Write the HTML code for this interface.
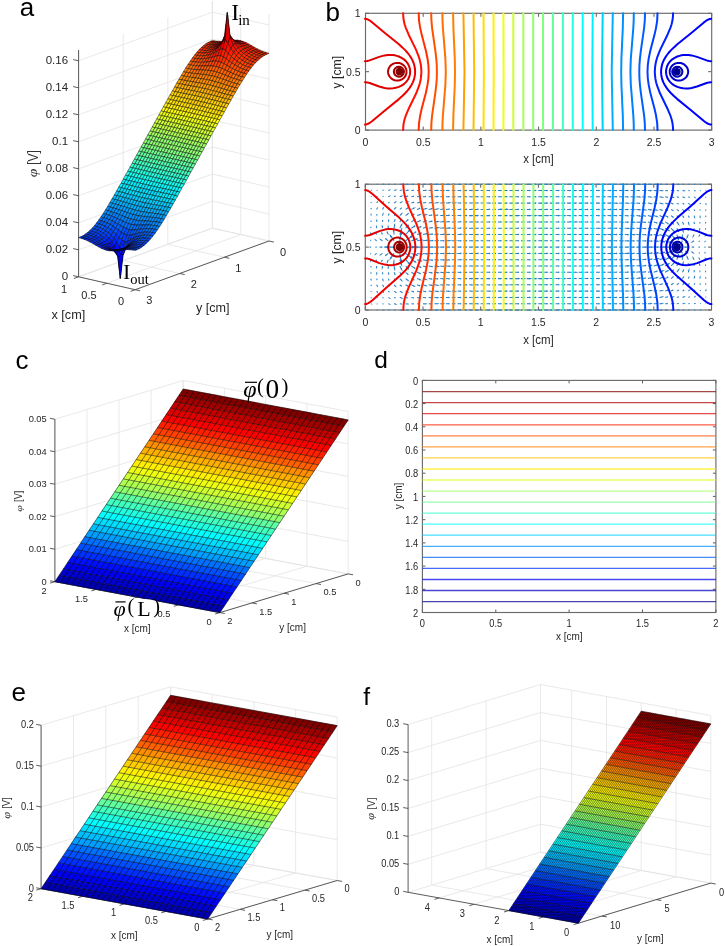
<!DOCTYPE html><html><head><meta charset="utf-8"><style>html,body{margin:0;padding:0;background:#fff;width:725px;height:946px;overflow:hidden}svg{display:block;will-change:transform}</style></head><body><svg width="725" height="946" viewBox="0 0 725 946"><line x1="269" y1="241" x2="135.2" y2="289.7" stroke="#e3e3e3" stroke-width="0.8"/><line x1="240.7" y1="234.6" x2="106.9" y2="283.2" stroke="#e3e3e3" stroke-width="0.8"/><line x1="212.4" y1="228.1" x2="78.6" y2="276.8" stroke="#e3e3e3" stroke-width="0.8"/><line x1="269" y1="241" x2="212.4" y2="228.1" stroke="#e3e3e3" stroke-width="0.8"/><line x1="224.4" y1="257.2" x2="167.8" y2="244.3" stroke="#e3e3e3" stroke-width="0.8"/><line x1="179.8" y1="273.5" x2="123.2" y2="260.6" stroke="#e3e3e3" stroke-width="0.8"/><line x1="135.2" y1="289.7" x2="78.6" y2="276.8" stroke="#e3e3e3" stroke-width="0.8"/><line x1="212.4" y1="228.1" x2="212.4" y2="1.3" stroke="#e3e3e3" stroke-width="0.8"/><line x1="167.8" y1="244.3" x2="167.8" y2="17.5" stroke="#e3e3e3" stroke-width="0.8"/><line x1="123.2" y1="260.6" x2="123.2" y2="33.8" stroke="#e3e3e3" stroke-width="0.8"/><line x1="78.6" y1="276.8" x2="78.6" y2="50" stroke="#e3e3e3" stroke-width="0.8"/><line x1="212.4" y1="228.1" x2="78.6" y2="276.8" stroke="#e3e3e3" stroke-width="0.8"/><line x1="212.4" y1="201.1" x2="78.6" y2="249.8" stroke="#e3e3e3" stroke-width="0.8"/><line x1="212.4" y1="174.1" x2="78.6" y2="222.8" stroke="#e3e3e3" stroke-width="0.8"/><line x1="212.4" y1="147.1" x2="78.6" y2="195.8" stroke="#e3e3e3" stroke-width="0.8"/><line x1="212.4" y1="120.1" x2="78.6" y2="168.8" stroke="#e3e3e3" stroke-width="0.8"/><line x1="212.4" y1="93.1" x2="78.6" y2="141.8" stroke="#e3e3e3" stroke-width="0.8"/><line x1="212.4" y1="66.1" x2="78.6" y2="114.8" stroke="#e3e3e3" stroke-width="0.8"/><line x1="212.4" y1="39.1" x2="78.6" y2="87.8" stroke="#e3e3e3" stroke-width="0.8"/><line x1="212.4" y1="12.1" x2="78.6" y2="60.8" stroke="#e3e3e3" stroke-width="0.8"/><line x1="269" y1="241" x2="269" y2="14.2" stroke="#e3e3e3" stroke-width="0.8"/><line x1="240.7" y1="234.6" x2="240.7" y2="7.8" stroke="#e3e3e3" stroke-width="0.8"/><line x1="212.4" y1="228.1" x2="212.4" y2="1.3" stroke="#e3e3e3" stroke-width="0.8"/><line x1="269" y1="241" x2="212.4" y2="228.1" stroke="#e3e3e3" stroke-width="0.8"/><line x1="269" y1="214" x2="212.4" y2="201.1" stroke="#e3e3e3" stroke-width="0.8"/><line x1="269" y1="187" x2="212.4" y2="174.1" stroke="#e3e3e3" stroke-width="0.8"/><line x1="269" y1="160" x2="212.4" y2="147.1" stroke="#e3e3e3" stroke-width="0.8"/><line x1="269" y1="133" x2="212.4" y2="120.1" stroke="#e3e3e3" stroke-width="0.8"/><line x1="269" y1="106" x2="212.4" y2="93.1" stroke="#e3e3e3" stroke-width="0.8"/><line x1="269" y1="79" x2="212.4" y2="66.1" stroke="#e3e3e3" stroke-width="0.8"/><line x1="269" y1="52" x2="212.4" y2="39.1" stroke="#e3e3e3" stroke-width="0.8"/><line x1="269" y1="25" x2="212.4" y2="12.1" stroke="#e3e3e3" stroke-width="0.8"/><line x1="78.6" y1="276.8" x2="78.6" y2="50" stroke="#4a4a4a" stroke-width="0.9"/><line x1="78.6" y1="276.8" x2="135.2" y2="289.7" stroke="#4a4a4a" stroke-width="0.9"/><line x1="135.2" y1="289.7" x2="269" y2="241" stroke="#4a4a4a" stroke-width="0.9"/><line x1="78.6" y1="276.8" x2="73.2" y2="275.6" stroke="#4a4a4a" stroke-width="0.9"/><line x1="78.6" y1="249.8" x2="73.2" y2="248.6" stroke="#4a4a4a" stroke-width="0.9"/><line x1="78.6" y1="222.8" x2="73.2" y2="221.6" stroke="#4a4a4a" stroke-width="0.9"/><line x1="78.6" y1="195.8" x2="73.2" y2="194.6" stroke="#4a4a4a" stroke-width="0.9"/><line x1="78.6" y1="168.8" x2="73.2" y2="167.6" stroke="#4a4a4a" stroke-width="0.9"/><line x1="78.6" y1="141.8" x2="73.2" y2="140.6" stroke="#4a4a4a" stroke-width="0.9"/><line x1="78.6" y1="114.8" x2="73.2" y2="113.6" stroke="#4a4a4a" stroke-width="0.9"/><line x1="78.6" y1="87.8" x2="73.2" y2="86.6" stroke="#4a4a4a" stroke-width="0.9"/><line x1="78.6" y1="60.8" x2="73.2" y2="59.6" stroke="#4a4a4a" stroke-width="0.9"/><line x1="135.2" y1="289.7" x2="130.5" y2="291.4" stroke="#4a4a4a" stroke-width="0.9"/><line x1="106.9" y1="283.2" x2="102.2" y2="284.9" stroke="#4a4a4a" stroke-width="0.9"/><line x1="78.6" y1="276.8" x2="73.9" y2="278.5" stroke="#4a4a4a" stroke-width="0.9"/><line x1="269" y1="241" x2="273.9" y2="242.1" stroke="#4a4a4a" stroke-width="0.9"/><line x1="224.4" y1="257.2" x2="229.3" y2="258.3" stroke="#4a4a4a" stroke-width="0.9"/><line x1="179.8" y1="273.5" x2="184.7" y2="274.6" stroke="#4a4a4a" stroke-width="0.9"/><line x1="135.2" y1="289.7" x2="140.1" y2="290.8" stroke="#4a4a4a" stroke-width="0.9"/><g stroke="#000" stroke-width="0.45" stroke-opacity="1.0" stroke-linejoin="round"><path d="M215.2 41L212.4 40.4L210.2 41.4L213 41.9Z" fill="#ff3000"/><path d="M218.1 41.3L215.2 41L213 41.9L215.8 42.2Z" fill="#ff2000"/><path d="M213 41.9L210.2 41.4L207.9 42.5L210.8 43.1Z" fill="#ff3000"/><path d="M220.9 41.4L218.1 41.3L215.8 42.2L218.7 42.3Z" fill="#ff2000"/><path d="M215.8 42.2L213 41.9L210.8 43.1L213.6 43.3Z" fill="#ff2000"/><path d="M210.8 43.1L207.9 42.5L205.7 43.9L208.5 44.5Z" fill="#ff3000"/><path d="M223.7 41.3L220.9 41.4L218.7 42.3L221.5 42.2Z" fill="#ff2000"/><path d="M218.7 42.3L215.8 42.2L213.6 43.3L216.4 43.4Z" fill="#ff2000"/><path d="M213.6 43.3L210.8 43.1L208.5 44.5L211.4 44.7Z" fill="#ff3000"/><path d="M208.5 44.5L205.7 43.9L203.5 45.6L206.3 46.1Z" fill="#ff3000"/><path d="M226.6 41L223.7 41.3L221.5 42.2L224.3 41.9Z" fill="#ff2000"/><path d="M221.5 42.2L218.7 42.3L216.4 43.4L219.3 43.2Z" fill="#ff2000"/><path d="M216.4 43.4L213.6 43.3L211.4 44.7L214.2 44.7Z" fill="#ff2000"/><path d="M211.4 44.7L208.5 44.5L206.3 46.1L209.1 46.4Z" fill="#ff3000"/><path d="M229.4 40.7L226.6 41L224.3 41.9L227.2 41.5Z" fill="#ff2000"/><path d="M206.3 46.1L203.5 45.6L201.2 47.5L204.1 48Z" fill="#ff3000"/><path d="M224.3 41.9L221.5 42.2L219.3 43.2L222.1 42.8Z" fill="#ff2000"/><path d="M219.3 43.2L216.4 43.4L214.2 44.7L217 44.5Z" fill="#ff2000"/><path d="M214.2 44.7L211.4 44.7L209.1 46.4L212 46.3Z" fill="#ff3000"/><path d="M232.2 40.3L229.4 40.7L227.2 41.5L230 41.1Z" fill="#ff1000"/><path d="M209.1 46.4L206.3 46.1L204.1 48L206.9 48.3Z" fill="#ff3000"/><path d="M227.2 41.5L224.3 41.9L222.1 42.8L224.9 42.3Z" fill="#ff2000"/><path d="M204.1 48L201.2 47.5L199 49.8L201.8 50.3Z" fill="#ff3000"/><path d="M222.1 42.8L219.3 43.2L217 44.5L219.9 44Z" fill="#ff2000"/><path d="M217 44.5L214.2 44.7L212 46.3L214.8 46Z" fill="#ff2000"/><path d="M235 40.1L232.2 40.3L230 41.1L232.8 40.8Z" fill="#ff1000"/><path d="M212 46.3L209.1 46.4L206.9 48.3L209.7 48.2Z" fill="#ff3000"/><path d="M230 41.1L227.2 41.5L224.9 42.3L227.8 41.7Z" fill="#ff1000"/><path d="M206.9 48.3L204.1 48L201.8 50.3L204.7 50.5Z" fill="#ff3000"/><path d="M224.9 42.3L222.1 42.8L219.9 44L222.7 43.2Z" fill="#ff2000"/><path d="M201.8 50.3L199 49.8L196.8 52.2L199.6 52.7Z" fill="#ff4000"/><path d="M219.9 44L217 44.5L214.8 46L217.6 45.3Z" fill="#ff2000"/><path d="M237.9 40.2L235 40.1L232.8 40.8L235.6 40.8Z" fill="#ff1000"/><path d="M214.8 46L212 46.3L209.7 48.2L212.6 47.8Z" fill="#ff2000"/><path d="M232.8 40.8L230 41.1L227.8 41.7L230.6 41.2Z" fill="#ff1000"/><path d="M209.7 48.2L206.9 48.3L204.7 50.5L207.5 50.4Z" fill="#ff3000"/><path d="M227.8 41.7L224.9 42.3L222.7 43.2L225.5 42.3Z" fill="#ff1000"/><path d="M204.7 50.5L201.8 50.3L199.6 52.7L202.4 53Z" fill="#ff4000"/><path d="M222.7 43.2L219.9 44L217.6 45.3L220.5 44.3Z" fill="#ff2000"/><path d="M199.6 52.7L196.8 52.2L194.6 55L197.4 55.5Z" fill="#ff4000"/><path d="M240.7 40.6L237.9 40.2L235.6 40.8L238.5 41.2Z" fill="#ff1000"/><path d="M217.6 45.3L214.8 46L212.6 47.8L215.4 47Z" fill="#ff2000"/><path d="M235.6 40.8L232.8 40.8L230.6 41.2L233.4 41Z" fill="#ff1000"/><path d="M212.6 47.8L209.7 48.2L207.5 50.4L210.3 50Z" fill="#ff3000"/><path d="M230.6 41.2L227.8 41.7L225.5 42.3L228.3 41.3Z" fill="#ff1000"/><path d="M207.5 50.4L204.7 50.5L202.4 53L205.3 52.9Z" fill="#ff3000"/><path d="M225.5 42.3L222.7 43.2L220.5 44.3L223.3 42.9Z" fill="#ff1000"/><path d="M202.4 53L199.6 52.7L197.4 55.5L200.2 55.8Z" fill="#ff4000"/><path d="M243.5 41.5L240.7 40.6L238.5 41.2L241.3 42.1Z" fill="#ff1000"/><path d="M220.5 44.3L217.6 45.3L215.4 47L218.2 45.8Z" fill="#ff2000"/><path d="M197.4 55.5L194.6 55L192.3 58L195.2 58.5Z" fill="#ff5000"/><path d="M238.5 41.2L235.6 40.8L233.4 41L236.2 41.3Z" fill="#ff1000"/><path d="M215.4 47L212.6 47.8L210.3 50L213.2 49.2Z" fill="#ff2000"/><path d="M233.4 41L230.6 41.2L228.3 41.3L231.2 40.7Z" fill="#ff1000"/><path d="M210.3 50L207.5 50.4L205.3 52.9L208.1 52.6Z" fill="#ff3000"/><path d="M228.3 41.3L225.5 42.3L223.3 42.9L226.1 41.2Z" fill="#ff1000"/><path d="M205.3 52.9L202.4 53L200.2 55.8L203 55.8Z" fill="#ff4000"/><path d="M246.4 42.7L243.5 41.5L241.3 42.1L244.1 43.4Z" fill="#ff1000"/><path d="M223.3 42.9L220.5 44.3L218.2 45.8L221.1 43.9Z" fill="#ff1000"/><path d="M200.2 55.8L197.4 55.5L195.2 58.5L198 58.8Z" fill="#ff5000"/><path d="M241.3 42.1L238.5 41.2L236.2 41.3L239.1 42.3Z" fill="#ff1000"/><path d="M218.2 45.8L215.4 47L213.2 49.2L216 47.9Z" fill="#ff2000"/><path d="M195.2 58.5L192.3 58L190.1 61.2L192.9 61.7Z" fill="#ff5000"/><path d="M236.2 41.3L233.4 41L231.2 40.7L234 40.8Z" fill="#ff1000"/><path d="M213.2 49.2L210.3 50L208.1 52.6L210.9 51.9Z" fill="#ff3000"/><path d="M231.2 40.7L228.3 41.3L226.1 41.2L229 39.5Z" fill="#ff0000"/><path d="M208.1 52.6L205.3 52.9L203 55.8L205.9 55.5Z" fill="#ff4000"/><path d="M249.2 44.2L246.4 42.7L244.1 43.4L247 45Z" fill="#ff1000"/><path d="M226.1 41.2L223.3 42.9L221.1 43.9L223.9 41.2Z" fill="#ff0000"/><path d="M203 55.8L200.2 55.8L198 58.8L200.8 58.9Z" fill="#ff5000"/><path d="M244.1 43.4L241.3 42.1L239.1 42.3L241.9 43.8Z" fill="#ff1000"/><path d="M221.1 43.9L218.2 45.8L216 47.9L218.8 45.8Z" fill="#ff1000"/><path d="M198 58.8L195.2 58.5L192.9 61.7L195.8 62.1Z" fill="#ff5000"/><path d="M239.1 42.3L236.2 41.3L234 40.8L236.8 41.9Z" fill="#ff1000"/><path d="M216 47.9L213.2 49.2L210.9 51.9L213.8 50.7Z" fill="#ff2000"/><path d="M192.9 61.7L190.1 61.2L187.9 64.5L190.7 65.1Z" fill="#ff6000"/><path d="M234 40.8L231.2 40.7L229 39.5L231.8 39Z" fill="#ff0000"/><path d="M210.9 51.9L208.1 52.6L205.9 55.5L208.7 55Z" fill="#ff3000"/><path d="M252 45.8L249.2 44.2L247 45L249.8 46.6Z" fill="#ff2000"/><path d="M229 39.5L226.1 41.2L223.9 41.2L226.7 37.2Z" fill="#ff0000"/><path d="M205.9 55.5L203 55.8L200.8 58.9L203.7 58.8Z" fill="#ff4000"/><path d="M247 45L244.1 43.4L241.9 43.8L244.7 45.6Z" fill="#ff1000"/><path d="M223.9 41.2L221.1 43.9L218.8 45.8L221.7 42.5Z" fill="#ff0000"/><path d="M200.8 58.9L198 58.8L195.8 62.1L198.6 62.3Z" fill="#ff5000"/><path d="M241.9 43.8L239.1 42.3L236.8 41.9L239.7 43.9Z" fill="#ff1000"/><path d="M218.8 45.8L216 47.9L213.8 50.7L216.6 48.9Z" fill="#ff1000"/><path d="M195.8 62.1L192.9 61.7L190.7 65.1L193.5 65.5Z" fill="#ff6000"/><path d="M236.8 41.9L234 40.8L231.8 39L234.6 40.8Z" fill="#ff0000"/><path d="M213.8 50.7L210.9 51.9L208.7 55L211.5 54.1Z" fill="#ff3000"/><path d="M190.7 65.1L187.9 64.5L185.6 68.1L188.5 68.6Z" fill="#ff7000"/><path d="M254.8 47.5L252 45.8L249.8 46.6L252.6 48.3Z" fill="#ff2000"/><path d="M231.8 39L229 39.5L226.7 37.2L229.5 34.3Z" fill="#ef0000"/><path d="M208.7 55L205.9 55.5L203.7 58.8L206.5 58.5Z" fill="#ff4000"/><path d="M249.8 46.6L247 45L244.7 45.6L247.6 47.5Z" fill="#ff2000"/><path d="M226.7 37.2L223.9 41.2L221.7 42.5L224.5 36.1Z" fill="#ef0000"/><path d="M203.7 58.8L200.8 58.9L198.6 62.3L201.4 62.3Z" fill="#ff5000"/><path d="M244.7 45.6L241.9 43.8L239.7 43.9L242.5 46.2Z" fill="#ff1000"/><path d="M221.7 42.5L218.8 45.8L216.6 48.9L219.4 46.1Z" fill="#ff0000"/><path d="M198.6 62.3L195.8 62.1L193.5 65.5L196.4 65.8Z" fill="#ff6000"/><path d="M239.7 43.9L236.8 41.9L234.6 40.8L237.4 43.8Z" fill="#ff1000"/><path d="M216.6 48.9L213.8 50.7L211.5 54.1L214.4 52.8Z" fill="#ff2000"/><path d="M193.5 65.5L190.7 65.1L188.5 68.6L191.3 69.1Z" fill="#ff7000"/><path d="M257.7 49L254.8 47.5L252.6 48.3L255.5 49.9Z" fill="#ff2000"/><path d="M234.6 40.8L231.8 39L229.5 34.3L232.4 38.5Z" fill="#ff0000"/><path d="M211.5 54.1L208.7 55L206.5 58.5L209.3 57.9Z" fill="#ff3000"/><path d="M188.5 68.6L185.6 68.1L183.4 71.7L186.2 72.3Z" fill="#ff8000"/><path d="M252.6 48.3L249.8 46.6L247.6 47.5L250.4 49.3Z" fill="#ff2000"/><path d="M229.5 34.3L226.7 37.2L224.5 36.1L227.3 12.6Z" fill="#df0000"/><path d="M206.5 58.5L203.7 58.8L201.4 62.3L204.2 62.2Z" fill="#ff5000"/><path d="M247.6 47.5L244.7 45.6L242.5 46.2L245.3 48.4Z" fill="#ff2000"/><path d="M224.5 36.1L221.7 42.5L219.4 46.1L222.3 42.2Z" fill="#df0000"/><path d="M201.4 62.3L198.6 62.3L196.4 65.8L199.2 66Z" fill="#ff6000"/><path d="M242.5 46.2L239.7 43.9L237.4 43.8L240.3 46.8Z" fill="#ff1000"/><path d="M219.4 46.1L216.6 48.9L214.4 52.8L217.2 51.1Z" fill="#ff1000"/><path d="M196.4 65.8L193.5 65.5L191.3 69.1L194.1 69.5Z" fill="#ff7000"/><path d="M260.5 50.4L257.7 49L255.5 49.9L258.3 51.3Z" fill="#ff2000"/><path d="M237.4 43.8L234.6 40.8L232.4 38.5L235.2 43.7Z" fill="#ff0000"/><path d="M214.4 52.8L211.5 54.1L209.3 57.9L212.1 57.1Z" fill="#ff3000"/><path d="M191.3 69.1L188.5 68.6L186.2 72.3L189.1 72.8Z" fill="#ff8000"/><path d="M255.5 49.9L252.6 48.3L250.4 49.3L253.2 51Z" fill="#ff2000"/><path d="M232.4 38.5L229.5 34.3L227.3 12.6L230.2 37.4Z" fill="#ef0000"/><path d="M209.3 57.9L206.5 58.5L204.2 62.2L207.1 61.9Z" fill="#ff4000"/><path d="M186.2 72.3L183.4 71.7L181.2 75.4L184 76.1Z" fill="#ff8000"/><path d="M250.4 49.3L247.6 47.5L245.3 48.4L248.2 50.4Z" fill="#ff2000"/><path d="M227.3 12.6L224.5 36.1L222.3 42.2L225.1 39.3Z" fill="#800000"/><path d="M204.2 62.2L201.4 62.3L199.2 66L202 66Z" fill="#ff5000"/><path d="M245.3 48.4L242.5 46.2L240.3 46.8L243.1 49.5Z" fill="#ff2000"/><path d="M222.3 42.2L219.4 46.1L217.2 51.1L220 49.5Z" fill="#ff0000"/><path d="M199.2 66L196.4 65.8L194.1 69.5L197 69.7Z" fill="#ff6000"/><path d="M263.3 51.6L260.5 50.4L258.3 51.3L261.1 52.5Z" fill="#ff2000"/><path d="M240.3 46.8L237.4 43.8L235.2 43.7L238 47.8Z" fill="#ff1000"/><path d="M217.2 51.1L214.4 52.8L212.1 57.1L215 56.3Z" fill="#ff2000"/><path d="M194.1 69.5L191.3 69.1L189.1 72.8L191.9 73.2Z" fill="#ff7000"/><path d="M258.3 51.3L255.5 49.9L253.2 51L256.1 52.4Z" fill="#ff2000"/><path d="M235.2 43.7L232.4 38.5L230.2 37.4L233 45.1Z" fill="#ff0000"/><path d="M212.1 57.1L209.3 57.9L207.1 61.9L209.9 61.5Z" fill="#ff4000"/><path d="M189.1 72.8L186.2 72.3L184 76.1L186.8 76.6Z" fill="#ff8000"/><path d="M253.2 51L250.4 49.3L248.2 50.4L251 52.2Z" fill="#ff2000"/><path d="M230.2 37.4L227.3 12.6L225.1 39.3L227.9 43.5Z" fill="#df0000"/><path d="M207.1 61.9L204.2 62.2L202 66L204.8 66Z" fill="#ff5000"/><path d="M184 76.1L181.2 75.4L178.9 79.3L181.8 79.9Z" fill="#ff8f00"/><path d="M248.2 50.4L245.3 48.4L243.1 49.5L245.9 51.8Z" fill="#ff2000"/><path d="M225.1 39.3L222.3 42.2L220 49.5L222.9 49Z" fill="#ef0000"/><path d="M202 66L199.2 66L197 69.7L199.8 69.9Z" fill="#ff6000"/><path d="M266.2 52.6L263.3 51.6L261.1 52.5L263.9 53.5Z" fill="#ff3000"/><path d="M243.1 49.5L240.3 46.8L238 47.8L240.9 51Z" fill="#ff2000"/><path d="M220 49.5L217.2 51.1L215 56.3L217.8 55.7Z" fill="#ff2000"/><path d="M197 69.7L194.1 69.5L191.9 73.2L194.7 73.6Z" fill="#ff7000"/><path d="M261.1 52.5L258.3 51.3L256.1 52.4L258.9 53.7Z" fill="#ff2000"/><path d="M238 47.8L235.2 43.7L233 45.1L235.8 49.7Z" fill="#ff1000"/><path d="M215 56.3L212.1 57.1L209.9 61.5L212.7 61.2Z" fill="#ff3000"/><path d="M191.9 73.2L189.1 72.8L186.8 76.6L189.7 77.1Z" fill="#ff8000"/><path d="M256.1 52.4L253.2 51L251 52.2L253.8 53.8Z" fill="#ff2000"/><path d="M233 45.1L230.2 37.4L227.9 43.5L230.8 48.7Z" fill="#ff0000"/><path d="M209.9 61.5L207.1 61.9L204.8 66L207.7 65.9Z" fill="#ff5000"/><path d="M186.8 76.6L184 76.1L181.8 79.9L184.6 80.4Z" fill="#ff8f00"/><path d="M251 52.2L248.2 50.4L245.9 51.8L248.8 53.7Z" fill="#ff2000"/><path d="M227.9 43.5L225.1 39.3L222.9 49L225.7 50.8Z" fill="#ff0000"/><path d="M204.8 66L202 66L199.8 69.9L202.6 70.1Z" fill="#ff6000"/><path d="M181.8 79.9L178.9 79.3L176.7 83.1L179.5 83.8Z" fill="#ff9f00"/><path d="M269 53.3L266.2 52.6L263.9 53.5L266.8 54.3Z" fill="#ff3000"/><path d="M245.9 51.8L243.1 49.5L240.9 51L243.7 53.5Z" fill="#ff2000"/><path d="M222.9 49L220 49.5L217.8 55.7L220.6 55.8Z" fill="#ff1000"/><path d="M199.8 69.9L197 69.7L194.7 73.6L197.6 73.9Z" fill="#ff7000"/><path d="M263.9 53.5L261.1 52.5L258.9 53.7L261.7 54.7Z" fill="#ff3000"/><path d="M240.9 51L238 47.8L235.8 49.7L238.6 53Z" fill="#ff2000"/><path d="M217.8 55.7L215 56.3L212.7 61.2L215.6 61.1Z" fill="#ff3000"/><path d="M194.7 73.6L191.9 73.2L189.7 77.1L192.5 77.5Z" fill="#ff8000"/><path d="M258.9 53.7L256.1 52.4L253.8 53.8L256.6 55Z" fill="#ff3000"/><path d="M235.8 49.7L233 45.1L230.8 48.7L233.6 52.7Z" fill="#ff1000"/><path d="M212.7 61.2L209.9 61.5L207.7 65.9L210.5 65.9Z" fill="#ff5000"/><path d="M189.7 77.1L186.8 76.6L184.6 80.4L187.4 81Z" fill="#ff8f00"/><path d="M253.8 53.8L251 52.2L248.8 53.7L251.6 55.3Z" fill="#ff3000"/><path d="M230.8 48.7L227.9 43.5L225.7 50.8L228.5 53.7Z" fill="#ff1000"/><path d="M207.7 65.9L204.8 66L202.6 70.1L205.4 70.2Z" fill="#ff6000"/><path d="M184.6 80.4L181.8 79.9L179.5 83.8L182.4 84.3Z" fill="#ff9f00"/><path d="M248.8 53.7L245.9 51.8L243.7 53.5L246.5 55.5Z" fill="#ff2000"/><path d="M225.7 50.8L222.9 49L220.6 55.8L223.5 57Z" fill="#ff2000"/><path d="M202.6 70.1L199.8 69.9L197.6 73.9L200.4 74.2Z" fill="#ff7000"/><path d="M179.5 83.8L176.7 83.1L174.5 87L177.3 87.7Z" fill="#ffaf00"/><path d="M266.8 54.3L263.9 53.5L261.7 54.7L264.5 55.4Z" fill="#ff3000"/><path d="M243.7 53.5L240.9 51L238.6 53L241.5 55.6Z" fill="#ff2000"/><path d="M220.6 55.8L217.8 55.7L215.6 61.1L218.4 61.5Z" fill="#ff3000"/><path d="M197.6 73.9L194.7 73.6L192.5 77.5L195.3 77.9Z" fill="#ff8000"/><path d="M261.7 54.7L258.9 53.7L256.6 55L259.5 56.1Z" fill="#ff3000"/><path d="M238.6 53L235.8 49.7L233.6 52.7L236.4 55.8Z" fill="#ff2000"/><path d="M215.6 61.1L212.7 61.2L210.5 65.9L213.3 66.1Z" fill="#ff4000"/><path d="M192.5 77.5L189.7 77.1L187.4 81L190.3 81.4Z" fill="#ff8f00"/><path d="M256.6 55L253.8 53.8L251.6 55.3L254.4 56.7Z" fill="#ff3000"/><path d="M233.6 52.7L230.8 48.7L228.5 53.7L231.3 56.6Z" fill="#ff2000"/><path d="M210.5 65.9L207.7 65.9L205.4 70.2L208.3 70.4Z" fill="#ff6000"/><path d="M187.4 81L184.6 80.4L182.4 84.3L185.2 84.9Z" fill="#ff9f00"/><path d="M251.6 55.3L248.8 53.7L246.5 55.5L249.4 57.2Z" fill="#ff3000"/><path d="M228.5 53.7L225.7 50.8L223.5 57L226.3 58.8Z" fill="#ff2000"/><path d="M205.4 70.2L202.6 70.1L200.4 74.2L203.2 74.5Z" fill="#ff7000"/><path d="M182.4 84.3L179.5 83.8L177.3 87.7L180.2 88.3Z" fill="#ffaf00"/><path d="M246.5 55.5L243.7 53.5L241.5 55.6L244.3 57.7Z" fill="#ff3000"/><path d="M223.5 57L220.6 55.8L218.4 61.5L221.2 62.4Z" fill="#ff3000"/><path d="M200.4 74.2L197.6 73.9L195.3 77.9L198.2 78.3Z" fill="#ff8000"/><path d="M177.3 87.7L174.5 87L172.3 91L175.1 91.6Z" fill="#ffbf00"/><path d="M264.5 55.4L261.7 54.7L259.5 56.1L262.3 56.8Z" fill="#ff3000"/><path d="M241.5 55.6L238.6 53L236.4 55.8L239.2 58.3Z" fill="#ff3000"/><path d="M218.4 61.5L215.6 61.1L213.3 66.1L216.2 66.6Z" fill="#ff4000"/><path d="M195.3 77.9L192.5 77.5L190.3 81.4L193.1 81.9Z" fill="#ff8f00"/><path d="M259.5 56.1L256.6 55L254.4 56.7L257.2 57.7Z" fill="#ff3000"/><path d="M236.4 55.8L233.6 52.7L231.3 56.6L234.2 59.2Z" fill="#ff3000"/><path d="M213.3 66.1L210.5 65.9L208.3 70.4L211.1 70.8Z" fill="#ff6000"/><path d="M190.3 81.4L187.4 81L185.2 84.9L188 85.4Z" fill="#ff9f00"/><path d="M254.4 56.7L251.6 55.3L249.4 57.2L252.2 58.6Z" fill="#ff3000"/><path d="M231.3 56.6L228.5 53.7L226.3 58.8L229.1 61Z" fill="#ff3000"/><path d="M208.3 70.4L205.4 70.2L203.2 74.5L206 74.8Z" fill="#ff7000"/><path d="M185.2 84.9L182.4 84.3L180.2 88.3L183 88.8Z" fill="#ffaf00"/><path d="M249.4 57.2L246.5 55.5L244.3 57.7L247.1 59.4Z" fill="#ff3000"/><path d="M226.3 58.8L223.5 57L221.2 62.4L224.1 63.8Z" fill="#ff3000"/><path d="M203.2 74.5L200.4 74.2L198.2 78.3L201 78.7Z" fill="#ff8000"/><path d="M180.2 88.3L177.3 87.7L175.1 91.6L177.9 92.2Z" fill="#ffbf00"/><path d="M244.3 57.7L241.5 55.6L239.2 58.3L242.1 60.3Z" fill="#ff3000"/><path d="M221.2 62.4L218.4 61.5L216.2 66.6L219 67.4Z" fill="#ff4000"/><path d="M198.2 78.3L195.3 77.9L193.1 81.9L195.9 82.4Z" fill="#ff8f00"/><path d="M175.1 91.6L172.3 91L170 94.9L172.9 95.6Z" fill="#ffcf00"/><path d="M262.3 56.8L259.5 56.1L257.2 57.7L260.1 58.5Z" fill="#ff3000"/><path d="M239.2 58.3L236.4 55.8L234.2 59.2L237 61.4Z" fill="#ff3000"/><path d="M216.2 66.6L213.3 66.1L211.1 70.8L213.9 71.3Z" fill="#ff6000"/><path d="M193.1 81.9L190.3 81.4L188 85.4L190.9 85.9Z" fill="#ff9f00"/><path d="M257.2 57.7L254.4 56.7L252.2 58.6L255 59.7Z" fill="#ff3000"/><path d="M234.2 59.2L231.3 56.6L229.1 61L231.9 63Z" fill="#ff3000"/><path d="M211.1 70.8L208.3 70.4L206 74.8L208.9 75.3Z" fill="#ff7000"/><path d="M188 85.4L185.2 84.9L183 88.8L185.8 89.4Z" fill="#ffaf00"/><path d="M252.2 58.6L249.4 57.2L247.1 59.4L250 60.8Z" fill="#ff3000"/><path d="M229.1 61L226.3 58.8L224.1 63.8L226.9 65.4Z" fill="#ff4000"/><path d="M206 74.8L203.2 74.5L201 78.7L203.8 79.1Z" fill="#ff8000"/><path d="M183 88.8L180.2 88.3L177.9 92.2L180.8 92.8Z" fill="#ffbf00"/><path d="M247.1 59.4L244.3 57.7L242.1 60.3L244.9 62Z" fill="#ff3000"/><path d="M224.1 63.8L221.2 62.4L219 67.4L221.8 68.5Z" fill="#ff5000"/><path d="M201 78.7L198.2 78.3L195.9 82.4L198.8 82.8Z" fill="#ff8f00"/><path d="M177.9 92.2L175.1 91.6L172.9 95.6L175.7 96.2Z" fill="#ffcf00"/><path d="M242.1 60.3L239.2 58.3L237 61.4L239.8 63.3Z" fill="#ff4000"/><path d="M219 67.4L216.2 66.6L213.9 71.3L216.8 72.1Z" fill="#ff6000"/><path d="M195.9 82.4L193.1 81.9L190.9 85.9L193.7 86.4Z" fill="#ff9f00"/><path d="M172.9 95.6L170 94.9L167.8 98.9L170.6 99.6Z" fill="#ffdf00"/><path d="M260.1 58.5L257.2 57.7L255 59.7L257.9 60.4Z" fill="#ff3000"/><path d="M237 61.4L234.2 59.2L231.9 63L234.8 64.9Z" fill="#ff4000"/><path d="M213.9 71.3L211.1 70.8L208.9 75.3L211.7 75.8Z" fill="#ff7000"/><path d="M190.9 85.9L188 85.4L185.8 89.4L188.6 89.9Z" fill="#ffaf00"/><path d="M255 59.7L252.2 58.6L250 60.8L252.8 61.9Z" fill="#ff3000"/><path d="M231.9 63L229.1 61L226.9 65.4L229.7 67Z" fill="#ff4000"/><path d="M208.9 75.3L206 74.8L203.8 79.1L206.7 79.6Z" fill="#ff8000"/><path d="M185.8 89.4L183 88.8L180.8 92.8L183.6 93.4Z" fill="#ffbf00"/><path d="M250 60.8L247.1 59.4L244.9 62L247.7 63.3Z" fill="#ff4000"/><path d="M226.9 65.4L224.1 63.8L221.8 68.5L224.7 69.8Z" fill="#ff5000"/><path d="M203.8 79.1L201 78.7L198.8 82.8L201.6 83.3Z" fill="#ff8f00"/><path d="M180.8 92.8L177.9 92.2L175.7 96.2L178.5 96.8Z" fill="#ffcf00"/><path d="M244.9 62L242.1 60.3L239.8 63.3L242.7 64.8Z" fill="#ff4000"/><path d="M221.8 68.5L219 67.4L216.8 72.1L219.6 73Z" fill="#ff6000"/><path d="M198.8 82.8L195.9 82.4L193.7 86.4L196.5 86.9Z" fill="#ff9f00"/><path d="M175.7 96.2L172.9 95.6L170.6 99.6L173.5 100.2Z" fill="#ffdf00"/><path d="M239.8 63.3L237 61.4L234.8 64.9L237.6 66.5Z" fill="#ff4000"/><path d="M216.8 72.1L213.9 71.3L211.7 75.8L214.5 76.5Z" fill="#ff7000"/><path d="M193.7 86.4L190.9 85.9L188.6 89.9L191.5 90.5Z" fill="#ffaf00"/><path d="M170.6 99.6L167.8 98.9L165.6 102.9L168.4 103.5Z" fill="#ffdf00"/><path d="M257.9 60.4L255 59.7L252.8 61.9L255.6 62.7Z" fill="#ff3000"/><path d="M234.8 64.9L231.9 63L229.7 67L232.5 68.6Z" fill="#ff5000"/><path d="M211.7 75.8L208.9 75.3L206.7 79.6L209.5 80.2Z" fill="#ff8000"/><path d="M188.6 89.9L185.8 89.4L183.6 93.4L186.4 94Z" fill="#ffbf00"/><path d="M252.8 61.9L250 60.8L247.7 63.3L250.6 64.4Z" fill="#ff4000"/><path d="M229.7 67L226.9 65.4L224.7 69.8L227.5 71.1Z" fill="#ff5000"/><path d="M206.7 79.6L203.8 79.1L201.6 83.3L204.4 83.9Z" fill="#ff8f00"/><path d="M183.6 93.4L180.8 92.8L178.5 96.8L181.3 97.4Z" fill="#ffcf00"/><path d="M247.7 63.3L244.9 62L242.7 64.8L245.5 66.1Z" fill="#ff4000"/><path d="M224.7 69.8L221.8 68.5L219.6 73L222.4 74.1Z" fill="#ff6000"/><path d="M201.6 83.3L198.8 82.8L196.5 86.9L199.4 87.5Z" fill="#ff9f00"/><path d="M178.5 96.8L175.7 96.2L173.5 100.2L176.3 100.8Z" fill="#ffdf00"/><path d="M242.7 64.8L239.8 63.3L237.6 66.5L240.4 68Z" fill="#ff5000"/><path d="M219.6 73L216.8 72.1L214.5 76.5L217.4 77.4Z" fill="#ff7000"/><path d="M196.5 86.9L193.7 86.4L191.5 90.5L194.3 91Z" fill="#ffaf00"/><path d="M173.5 100.2L170.6 99.6L168.4 103.5L171.2 104.2Z" fill="#ffdf00"/><path d="M237.6 66.5L234.8 64.9L232.5 68.6L235.4 70Z" fill="#ff5000"/><path d="M214.5 76.5L211.7 75.8L209.5 80.2L212.3 80.9Z" fill="#ff8000"/><path d="M191.5 90.5L188.6 89.9L186.4 94L189.2 94.5Z" fill="#ffbf00"/><path d="M168.4 103.5L165.6 102.9L163.3 106.9L166.2 107.5Z" fill="#ffef00"/><path d="M255.6 62.7L252.8 61.9L250.6 64.4L253.4 65.1Z" fill="#ff4000"/><path d="M232.5 68.6L229.7 67L227.5 71.1L230.3 72.4Z" fill="#ff5000"/><path d="M209.5 80.2L206.7 79.6L204.4 83.9L207.2 84.5Z" fill="#ff8f00"/><path d="M186.4 94L183.6 93.4L181.3 97.4L184.2 98Z" fill="#ffcf00"/><path d="M250.6 64.4L247.7 63.3L245.5 66.1L248.3 67.1Z" fill="#ff4000"/><path d="M227.5 71.1L224.7 69.8L222.4 74.1L225.3 75.2Z" fill="#ff6000"/><path d="M204.4 83.9L201.6 83.3L199.4 87.5L202.2 88.1Z" fill="#ff9f00"/><path d="M181.3 97.4L178.5 96.8L176.3 100.8L179.1 101.4Z" fill="#ffdf00"/><path d="M245.5 66.1L242.7 64.8L240.4 68L243.3 69.1Z" fill="#ff5000"/><path d="M222.4 74.1L219.6 73L217.4 77.4L220.2 78.3Z" fill="#ff7000"/><path d="M199.4 87.5L196.5 86.9L194.3 91L197.1 91.6Z" fill="#ffaf00"/><path d="M176.3 100.8L173.5 100.2L171.2 104.2L174.1 104.8Z" fill="#ffdf00"/><path d="M240.4 68L237.6 66.5L235.4 70L238.2 71.3Z" fill="#ff5000"/><path d="M217.4 77.4L214.5 76.5L212.3 80.9L215.1 81.7Z" fill="#ff8000"/><path d="M194.3 91L191.5 90.5L189.2 94.5L192.1 95.1Z" fill="#ffbf00"/><path d="M171.2 104.2L168.4 103.5L166.2 107.5L169 108.2Z" fill="#ffef00"/><path d="M235.4 70L232.5 68.6L230.3 72.4L233.2 73.7Z" fill="#ff6000"/><path d="M212.3 80.9L209.5 80.2L207.2 84.5L210.1 85.1Z" fill="#ff8f00"/><path d="M189.2 94.5L186.4 94L184.2 98L187 98.6Z" fill="#ffcf00"/><path d="M166.2 107.5L163.3 106.9L161.1 110.9L163.9 111.6Z" fill="#ffff00"/><path d="M253.4 65.1L250.6 64.4L248.3 67.1L251.2 67.9Z" fill="#ff4000"/><path d="M230.3 72.4L227.5 71.1L225.3 75.2L228.1 76.4Z" fill="#ff6000"/><path d="M207.2 84.5L204.4 83.9L202.2 88.1L205 88.7Z" fill="#ff9f00"/><path d="M184.2 98L181.3 97.4L179.1 101.4L182 102Z" fill="#ffdf00"/><path d="M248.3 67.1L245.5 66.1L243.3 69.1L246.1 70.1Z" fill="#ff5000"/><path d="M225.3 75.2L222.4 74.1L220.2 78.3L223 79.3Z" fill="#ff7000"/><path d="M202.2 88.1L199.4 87.5L197.1 91.6L200 92.2Z" fill="#ffaf00"/><path d="M179.1 101.4L176.3 100.8L174.1 104.8L176.9 105.4Z" fill="#ffdf00"/><path d="M243.3 69.1L240.4 68L238.2 71.3L241 72.4Z" fill="#ff5000"/><path d="M220.2 78.3L217.4 77.4L215.1 81.7L218 82.5Z" fill="#ff8000"/><path d="M197.1 91.6L194.3 91L192.1 95.1L194.9 95.7Z" fill="#ffbf00"/><path d="M174.1 104.8L171.2 104.2L169 108.2L171.8 108.8Z" fill="#ffef00"/><path d="M238.2 71.3L235.4 70L233.2 73.7L236 74.8Z" fill="#ff6000"/><path d="M215.1 81.7L212.3 80.9L210.1 85.1L212.9 85.9Z" fill="#ff8f00"/><path d="M192.1 95.1L189.2 94.5L187 98.6L189.8 99.2Z" fill="#ffcf00"/><path d="M169 108.2L166.2 107.5L163.9 111.6L166.8 112.2Z" fill="#ffff00"/><path d="M233.2 73.7L230.3 72.4L228.1 76.4L230.9 77.5Z" fill="#ff6000"/><path d="M210.1 85.1L207.2 84.5L205 88.7L207.8 89.3Z" fill="#ff9f00"/><path d="M187 98.6L184.2 98L182 102L184.8 102.6Z" fill="#ffdf00"/><path d="M163.9 111.6L161.1 110.9L158.9 114.9L161.7 115.6Z" fill="#efff10"/><path d="M251.2 67.9L248.3 67.1L246.1 70.1L248.9 70.9Z" fill="#ff5000"/><path d="M228.1 76.4L225.3 75.2L223 79.3L225.9 80.3Z" fill="#ff7000"/><path d="M205 88.7L202.2 88.1L200 92.2L202.8 92.8Z" fill="#ffaf00"/><path d="M182 102L179.1 101.4L176.9 105.4L179.7 106Z" fill="#ffdf00"/><path d="M246.1 70.1L243.3 69.1L241 72.4L243.9 73.3Z" fill="#ff5000"/><path d="M223 79.3L220.2 78.3L218 82.5L220.8 83.4Z" fill="#ff8000"/><path d="M200 92.2L197.1 91.6L194.9 95.7L197.7 96.3Z" fill="#ffbf00"/><path d="M176.9 105.4L174.1 104.8L171.8 108.8L174.7 109.4Z" fill="#ffef00"/><path d="M241 72.4L238.2 71.3L236 74.8L238.8 75.9Z" fill="#ff6000"/><path d="M218 82.5L215.1 81.7L212.9 85.9L215.7 86.7Z" fill="#ff8f00"/><path d="M194.9 95.7L192.1 95.1L189.8 99.2L192.7 99.8Z" fill="#ffcf00"/><path d="M171.8 108.8L169 108.2L166.8 112.2L169.6 112.8Z" fill="#ffff00"/><path d="M236 74.8L233.2 73.7L230.9 77.5L233.8 78.5Z" fill="#ff7000"/><path d="M212.9 85.9L210.1 85.1L207.8 89.3L210.7 90.1Z" fill="#ff9f00"/><path d="M189.8 99.2L187 98.6L184.8 102.6L187.6 103.2Z" fill="#ffcf00"/><path d="M166.8 112.2L163.9 111.6L161.7 115.6L164.5 116.2Z" fill="#efff10"/><path d="M230.9 77.5L228.1 76.4L225.9 80.3L228.7 81.3Z" fill="#ff7000"/><path d="M207.8 89.3L205 88.7L202.8 92.8L205.6 93.5Z" fill="#ffaf00"/><path d="M184.8 102.6L182 102L179.7 106L182.5 106.7Z" fill="#ffdf00"/><path d="M161.7 115.6L158.9 114.9L156.7 118.9L159.5 119.6Z" fill="#dfff20"/><path d="M248.9 70.9L246.1 70.1L243.9 73.3L246.7 74.1Z" fill="#ff5000"/><path d="M225.9 80.3L223 79.3L220.8 83.4L223.6 84.3Z" fill="#ff8000"/><path d="M202.8 92.8L200 92.2L197.7 96.3L200.6 96.9Z" fill="#ffbf00"/><path d="M179.7 106L176.9 105.4L174.7 109.4L177.5 110.1Z" fill="#ffef00"/><path d="M243.9 73.3L241 72.4L238.8 75.9L241.6 76.7Z" fill="#ff6000"/><path d="M220.8 83.4L218 82.5L215.7 86.7L218.6 87.5Z" fill="#ff8f00"/><path d="M197.7 96.3L194.9 95.7L192.7 99.8L195.5 100.4Z" fill="#ffcf00"/><path d="M174.7 109.4L171.8 108.8L169.6 112.8L172.4 113.5Z" fill="#ffff00"/><path d="M238.8 75.9L236 74.8L233.8 78.5L236.6 79.4Z" fill="#ff7000"/><path d="M215.7 86.7L212.9 85.9L210.7 90.1L213.5 90.8Z" fill="#ff9f00"/><path d="M192.7 99.8L189.8 99.2L187.6 103.2L190.4 103.8Z" fill="#ffcf00"/><path d="M169.6 112.8L166.8 112.2L164.5 116.2L167.4 116.8Z" fill="#efff10"/><path d="M233.8 78.5L230.9 77.5L228.7 81.3L231.5 82.3Z" fill="#ff7000"/><path d="M210.7 90.1L207.8 89.3L205.6 93.5L208.5 94.2Z" fill="#ffaf00"/><path d="M187.6 103.2L184.8 102.6L182.5 106.7L185.4 107.3Z" fill="#ffdf00"/><path d="M164.5 116.2L161.7 115.6L159.5 119.6L162.3 120.2Z" fill="#dfff20"/><path d="M228.7 81.3L225.9 80.3L223.6 84.3L226.5 85.2Z" fill="#ff8000"/><path d="M205.6 93.5L202.8 92.8L200.6 96.9L203.4 97.6Z" fill="#ffbf00"/><path d="M182.5 106.7L179.7 106L177.5 110.1L180.3 110.7Z" fill="#ffef00"/><path d="M159.5 119.6L156.7 118.9L154.4 123L157.2 123.6Z" fill="#cfff30"/><path d="M246.7 74.1L243.9 73.3L241.6 76.7L244.5 77.4Z" fill="#ff6000"/><path d="M223.6 84.3L220.8 83.4L218.6 87.5L221.4 88.4Z" fill="#ff8f00"/><path d="M200.6 96.9L197.7 96.3L195.5 100.4L198.3 101Z" fill="#ffcf00"/><path d="M177.5 110.1L174.7 109.4L172.4 113.5L175.3 114.1Z" fill="#ffff00"/><path d="M241.6 76.7L238.8 75.9L236.6 79.4L239.4 80.3Z" fill="#ff7000"/><path d="M218.6 87.5L215.7 86.7L213.5 90.8L216.3 91.6Z" fill="#ff9f00"/><path d="M195.5 100.4L192.7 99.8L190.4 103.8L193.3 104.5Z" fill="#ffcf00"/><path d="M172.4 113.5L169.6 112.8L167.4 116.8L170.2 117.5Z" fill="#efff10"/><path d="M236.6 79.4L233.8 78.5L231.5 82.3L234.3 83.1Z" fill="#ff8000"/><path d="M213.5 90.8L210.7 90.1L208.5 94.2L211.3 94.9Z" fill="#ffaf00"/><path d="M190.4 103.8L187.6 103.2L185.4 107.3L188.2 107.9Z" fill="#ffdf00"/><path d="M167.4 116.8L164.5 116.2L162.3 120.2L165.1 120.9Z" fill="#dfff20"/><path d="M231.5 82.3L228.7 81.3L226.5 85.2L229.3 86.1Z" fill="#ff8000"/><path d="M208.5 94.2L205.6 93.5L203.4 97.6L206.2 98.3Z" fill="#ffbf00"/><path d="M185.4 107.3L182.5 106.7L180.3 110.7L183.2 111.3Z" fill="#ffef00"/><path d="M162.3 120.2L159.5 119.6L157.2 123.6L160.1 124.2Z" fill="#cfff30"/><path d="M226.5 85.2L223.6 84.3L221.4 88.4L224.2 89.2Z" fill="#ff8f00"/><path d="M203.4 97.6L200.6 96.9L198.3 101L201.2 101.7Z" fill="#ffcf00"/><path d="M180.3 110.7L177.5 110.1L175.3 114.1L178.1 114.7Z" fill="#ffff00"/><path d="M157.2 123.6L154.4 123L152.2 127L155 127.6Z" fill="#bfff40"/><path d="M244.5 77.4L241.6 76.7L239.4 80.3L242.2 81Z" fill="#ff7000"/><path d="M221.4 88.4L218.6 87.5L216.3 91.6L219.2 92.4Z" fill="#ff9f00"/><path d="M198.3 101L195.5 100.4L193.3 104.5L196.1 105.1Z" fill="#ffcf00"/><path d="M175.3 114.1L172.4 113.5L170.2 117.5L173 118.1Z" fill="#efff10"/><path d="M239.4 80.3L236.6 79.4L234.3 83.1L237.2 83.9Z" fill="#ff8000"/><path d="M216.3 91.6L213.5 90.8L211.3 94.9L214.1 95.6Z" fill="#ffaf00"/><path d="M193.3 104.5L190.4 103.8L188.2 107.9L191 108.5Z" fill="#ffdf00"/><path d="M170.2 117.5L167.4 116.8L165.1 120.9L168 121.5Z" fill="#dfff20"/><path d="M234.3 83.1L231.5 82.3L229.3 86.1L232.1 86.9Z" fill="#ff8000"/><path d="M211.3 94.9L208.5 94.2L206.2 98.3L209.1 99Z" fill="#ffbf00"/><path d="M188.2 107.9L185.4 107.3L183.2 111.3L186 111.9Z" fill="#ffef00"/><path d="M165.1 120.9L162.3 120.2L160.1 124.2L162.9 124.9Z" fill="#cfff30"/><path d="M229.3 86.1L226.5 85.2L224.2 89.2L227.1 90Z" fill="#ff8f00"/><path d="M206.2 98.3L203.4 97.6L201.2 101.7L204 102.4Z" fill="#ffcf00"/><path d="M183.2 111.3L180.3 110.7L178.1 114.7L180.9 115.4Z" fill="#ffff00"/><path d="M160.1 124.2L157.2 123.6L155 127.6L157.8 128.3Z" fill="#bfff40"/><path d="M224.2 89.2L221.4 88.4L219.2 92.4L222 93.2Z" fill="#ff9f00"/><path d="M201.2 101.7L198.3 101L196.1 105.1L198.9 105.8Z" fill="#ffcf00"/><path d="M178.1 114.7L175.3 114.1L173 118.1L175.9 118.7Z" fill="#efff10"/><path d="M155 127.6L152.2 127L150 131L152.8 131.6Z" fill="#afff50"/><path d="M242.2 81L239.4 80.3L237.2 83.9L240 84.6Z" fill="#ff8000"/><path d="M219.2 92.4L216.3 91.6L214.1 95.6L216.9 96.4Z" fill="#ffaf00"/><path d="M196.1 105.1L193.3 104.5L191 108.5L193.9 109.2Z" fill="#ffdf00"/><path d="M173 118.1L170.2 117.5L168 121.5L170.8 122.1Z" fill="#dfff20"/><path d="M237.2 83.9L234.3 83.1L232.1 86.9L235 87.7Z" fill="#ff8000"/><path d="M214.1 95.6L211.3 94.9L209.1 99L211.9 99.7Z" fill="#ffbf00"/><path d="M191 108.5L188.2 107.9L186 111.9L188.8 112.6Z" fill="#ffef00"/><path d="M168 121.5L165.1 120.9L162.9 124.9L165.7 125.5Z" fill="#cfff30"/><path d="M232.1 86.9L229.3 86.1L227.1 90L229.9 90.8Z" fill="#ff8f00"/><path d="M209.1 99L206.2 98.3L204 102.4L206.8 103Z" fill="#ffcf00"/><path d="M186 111.9L183.2 111.3L180.9 115.4L183.8 116Z" fill="#ffff00"/><path d="M162.9 124.9L160.1 124.2L157.8 128.3L160.7 128.9Z" fill="#bfff40"/><path d="M227.1 90L224.2 89.2L222 93.2L224.8 93.9Z" fill="#ff9f00"/><path d="M204 102.4L201.2 101.7L198.9 105.8L201.8 106.4Z" fill="#ffcf00"/><path d="M180.9 115.4L178.1 114.7L175.9 118.7L178.7 119.4Z" fill="#efff10"/><path d="M157.8 128.3L155 127.6L152.8 131.6L155.6 132.3Z" fill="#afff50"/><path d="M222 93.2L219.2 92.4L216.9 96.4L219.8 97.1Z" fill="#ffaf00"/><path d="M198.9 105.8L196.1 105.1L193.9 109.2L196.7 109.8Z" fill="#ffdf00"/><path d="M175.9 118.7L173 118.1L170.8 122.1L173.6 122.8Z" fill="#dfff20"/><path d="M152.8 131.6L150 131L147.7 135L150.6 135.7Z" fill="#9fff60"/><path d="M240 84.6L237.2 83.9L235 87.7L237.8 88.3Z" fill="#ff8000"/><path d="M216.9 96.4L214.1 95.6L211.9 99.7L214.7 100.4Z" fill="#ffbf00"/><path d="M193.9 109.2L191 108.5L188.8 112.6L191.6 113.2Z" fill="#ffef00"/><path d="M170.8 122.1L168 121.5L165.7 125.5L168.6 126.2Z" fill="#cfff30"/><path d="M235 87.7L232.1 86.9L229.9 90.8L232.7 91.5Z" fill="#ff8f00"/><path d="M211.9 99.7L209.1 99L206.8 103L209.6 103.7Z" fill="#ffcf00"/><path d="M188.8 112.6L186 111.9L183.8 116L186.6 116.6Z" fill="#ffff00"/><path d="M165.7 125.5L162.9 124.9L160.7 128.9L163.5 129.6Z" fill="#bfff40"/><path d="M229.9 90.8L227.1 90L224.8 93.9L227.7 94.7Z" fill="#ff9f00"/><path d="M206.8 103L204 102.4L201.8 106.4L204.6 107.1Z" fill="#ffcf00"/><path d="M183.8 116L180.9 115.4L178.7 119.4L181.5 120Z" fill="#efff10"/><path d="M160.7 128.9L157.8 128.3L155.6 132.3L158.4 132.9Z" fill="#afff50"/><path d="M224.8 93.9L222 93.2L219.8 97.1L222.6 97.9Z" fill="#ffaf00"/><path d="M201.8 106.4L198.9 105.8L196.7 109.8L199.5 110.5Z" fill="#ffdf00"/><path d="M178.7 119.4L175.9 118.7L173.6 122.8L176.5 123.4Z" fill="#dfff20"/><path d="M155.6 132.3L152.8 131.6L150.6 135.7L153.4 136.3Z" fill="#9fff60"/><path d="M219.8 97.1L216.9 96.4L214.7 100.4L217.5 101.1Z" fill="#ffbf00"/><path d="M196.7 109.8L193.9 109.2L191.6 113.2L194.5 113.9Z" fill="#ffef00"/><path d="M173.6 122.8L170.8 122.1L168.6 126.2L171.4 126.8Z" fill="#cfff30"/><path d="M150.6 135.7L147.7 135L145.5 139L148.3 139.7Z" fill="#8fff70"/><path d="M237.8 88.3L235 87.7L232.7 91.5L235.6 92.2Z" fill="#ff8f00"/><path d="M214.7 100.4L211.9 99.7L209.6 103.7L212.5 104.4Z" fill="#ffcf00"/><path d="M191.6 113.2L188.8 112.6L186.6 116.6L189.4 117.3Z" fill="#ffff00"/><path d="M168.6 126.2L165.7 125.5L163.5 129.6L166.3 130.2Z" fill="#bfff40"/><path d="M232.7 91.5L229.9 90.8L227.7 94.7L230.5 95.4Z" fill="#ff9f00"/><path d="M209.6 103.7L206.8 103L204.6 107.1L207.4 107.8Z" fill="#ffdf00"/><path d="M186.6 116.6L183.8 116L181.5 120L184.3 120.7Z" fill="#efff10"/><path d="M163.5 129.6L160.7 128.9L158.4 132.9L161.3 133.6Z" fill="#afff50"/><path d="M227.7 94.7L224.8 93.9L222.6 97.9L225.4 98.6Z" fill="#ffaf00"/><path d="M204.6 107.1L201.8 106.4L199.5 110.5L202.4 111.1Z" fill="#ffdf00"/><path d="M181.5 120L178.7 119.4L176.5 123.4L179.3 124.1Z" fill="#dfff20"/><path d="M158.4 132.9L155.6 132.3L153.4 136.3L156.2 137Z" fill="#9fff60"/><path d="M222.6 97.9L219.8 97.1L217.5 101.1L220.4 101.8Z" fill="#ffbf00"/><path d="M199.5 110.5L196.7 109.8L194.5 113.9L197.3 114.5Z" fill="#ffef00"/><path d="M176.5 123.4L173.6 122.8L171.4 126.8L174.2 127.4Z" fill="#cfff30"/><path d="M153.4 136.3L150.6 135.7L148.3 139.7L151.2 140.3Z" fill="#8fff70"/><path d="M217.5 101.1L214.7 100.4L212.5 104.4L215.3 105.1Z" fill="#ffcf00"/><path d="M194.5 113.9L191.6 113.2L189.4 117.3L192.2 117.9Z" fill="#ffff00"/><path d="M171.4 126.8L168.6 126.2L166.3 130.2L169.2 130.8Z" fill="#bfff40"/><path d="M148.3 139.7L145.5 139L143.3 143.1L146.1 143.7Z" fill="#8fff70"/><path d="M235.6 92.2L232.7 91.5L230.5 95.4L233.3 96Z" fill="#ff9f00"/><path d="M212.5 104.4L209.6 103.7L207.4 107.8L210.2 108.5Z" fill="#ffdf00"/><path d="M189.4 117.3L186.6 116.6L184.3 120.7L187.2 121.3Z" fill="#efff10"/><path d="M166.3 130.2L163.5 129.6L161.3 133.6L164.1 134.2Z" fill="#afff50"/><path d="M230.5 95.4L227.7 94.7L225.4 98.6L228.3 99.3Z" fill="#ffaf00"/><path d="M207.4 107.8L204.6 107.1L202.4 111.1L205.2 111.8Z" fill="#ffdf00"/><path d="M184.3 120.7L181.5 120L179.3 124.1L182.1 124.7Z" fill="#dfff20"/><path d="M161.3 133.6L158.4 132.9L156.2 137L159 137.6Z" fill="#9fff60"/><path d="M225.4 98.6L222.6 97.9L220.4 101.8L223.2 102.5Z" fill="#ffbf00"/><path d="M202.4 111.1L199.5 110.5L197.3 114.5L200.1 115.2Z" fill="#ffef00"/><path d="M179.3 124.1L176.5 123.4L174.2 127.4L177.1 128.1Z" fill="#cfff30"/><path d="M156.2 137L153.4 136.3L151.2 140.3L154 141Z" fill="#8fff70"/><path d="M220.4 101.8L217.5 101.1L215.3 105.1L218.1 105.8Z" fill="#ffcf00"/><path d="M197.3 114.5L194.5 113.9L192.2 117.9L195.1 118.6Z" fill="#ffff00"/><path d="M174.2 127.4L171.4 126.8L169.2 130.8L172 131.5Z" fill="#bfff40"/><path d="M151.2 140.3L148.3 139.7L146.1 143.7L148.9 144.4Z" fill="#80ff80"/><path d="M215.3 105.1L212.5 104.4L210.2 108.5L213.1 109.1Z" fill="#ffdf00"/><path d="M192.2 117.9L189.4 117.3L187.2 121.3L190 122Z" fill="#efff10"/><path d="M169.2 130.8L166.3 130.2L164.1 134.2L166.9 134.9Z" fill="#afff50"/><path d="M146.1 143.7L143.3 143.1L141 147.1L143.9 147.7Z" fill="#80ff80"/><path d="M233.3 96L230.5 95.4L228.3 99.3L231.1 99.9Z" fill="#ffaf00"/><path d="M210.2 108.5L207.4 107.8L205.2 111.8L208 112.5Z" fill="#ffdf00"/><path d="M187.2 121.3L184.3 120.7L182.1 124.7L184.9 125.3Z" fill="#dfff20"/><path d="M164.1 134.2L161.3 133.6L159 137.6L161.9 138.2Z" fill="#9fff60"/><path d="M228.3 99.3L225.4 98.6L223.2 102.5L226 103.2Z" fill="#ffbf00"/><path d="M205.2 111.8L202.4 111.1L200.1 115.2L203 115.8Z" fill="#ffef00"/><path d="M182.1 124.7L179.3 124.1L177.1 128.1L179.9 128.7Z" fill="#cfff30"/><path d="M159 137.6L156.2 137L154 141L156.8 141.6Z" fill="#8fff70"/><path d="M223.2 102.5L220.4 101.8L218.1 105.8L221 106.5Z" fill="#ffcf00"/><path d="M200.1 115.2L197.3 114.5L195.1 118.6L197.9 119.2Z" fill="#ffff00"/><path d="M177.1 128.1L174.2 127.4L172 131.5L174.8 132.1Z" fill="#bfff40"/><path d="M154 141L151.2 140.3L148.9 144.4L151.8 145Z" fill="#8fff70"/><path d="M218.1 105.8L215.3 105.1L213.1 109.1L215.9 109.8Z" fill="#ffdf00"/><path d="M195.1 118.6L192.2 117.9L190 122L192.8 122.6Z" fill="#efff10"/><path d="M172 131.5L169.2 130.8L166.9 134.9L169.8 135.5Z" fill="#afff50"/><path d="M148.9 144.4L146.1 143.7L143.9 147.7L146.7 148.4Z" fill="#80ff80"/><path d="M213.1 109.1L210.2 108.5L208 112.5L210.8 113.2Z" fill="#ffdf00"/><path d="M190 122L187.2 121.3L184.9 125.3L187.8 126Z" fill="#dfff20"/><path d="M166.9 134.9L164.1 134.2L161.9 138.2L164.7 138.9Z" fill="#9fff60"/><path d="M143.9 147.7L141 147.1L138.8 151.1L141.6 151.8Z" fill="#70ff8f"/><path d="M231.1 99.9L228.3 99.3L226 103.2L228.9 103.9Z" fill="#ffbf00"/><path d="M208 112.5L205.2 111.8L203 115.8L205.8 116.5Z" fill="#ffef00"/><path d="M184.9 125.3L182.1 124.7L179.9 128.7L182.7 129.4Z" fill="#cfff30"/><path d="M161.9 138.2L159 137.6L156.8 141.6L159.7 142.3Z" fill="#8fff70"/><path d="M226 103.2L223.2 102.5L221 106.5L223.8 107.2Z" fill="#ffcf00"/><path d="M203 115.8L200.1 115.2L197.9 119.2L200.7 119.9Z" fill="#ffff00"/><path d="M179.9 128.7L177.1 128.1L174.8 132.1L177.7 132.8Z" fill="#bfff40"/><path d="M156.8 141.6L154 141L151.8 145L154.6 145.6Z" fill="#8fff70"/><path d="M221 106.5L218.1 105.8L215.9 109.8L218.7 110.5Z" fill="#ffdf00"/><path d="M197.9 119.2L195.1 118.6L192.8 122.6L195.7 123.3Z" fill="#efff10"/><path d="M174.8 132.1L172 131.5L169.8 135.5L172.6 136.1Z" fill="#afff50"/><path d="M151.8 145L148.9 144.4L146.7 148.4L149.5 149Z" fill="#80ff80"/><path d="M215.9 109.8L213.1 109.1L210.8 113.2L213.7 113.8Z" fill="#ffdf00"/><path d="M192.8 122.6L190 122L187.8 126L190.6 126.6Z" fill="#dfff20"/><path d="M169.8 135.5L166.9 134.9L164.7 138.9L167.5 139.5Z" fill="#9fff60"/><path d="M146.7 148.4L143.9 147.7L141.6 151.8L144.5 152.4Z" fill="#70ff8f"/><path d="M210.8 113.2L208 112.5L205.8 116.5L208.6 117.2Z" fill="#ffef00"/><path d="M187.8 126L184.9 125.3L182.7 129.4L185.6 130Z" fill="#cfff30"/><path d="M164.7 138.9L161.9 138.2L159.7 142.3L162.5 142.9Z" fill="#8fff70"/><path d="M141.6 151.8L138.8 151.1L136.6 155.1L139.4 155.8Z" fill="#60ff9f"/><path d="M228.9 103.9L226 103.2L223.8 107.2L226.6 107.8Z" fill="#ffcf00"/><path d="M205.8 116.5L203 115.8L200.7 119.9L203.6 120.5Z" fill="#ffff00"/><path d="M182.7 129.4L179.9 128.7L177.7 132.8L180.5 133.4Z" fill="#bfff40"/><path d="M159.7 142.3L156.8 141.6L154.6 145.6L157.4 146.3Z" fill="#8fff70"/><path d="M223.8 107.2L221 106.5L218.7 110.5L221.6 111.2Z" fill="#ffdf00"/><path d="M200.7 119.9L197.9 119.2L195.7 123.3L198.5 123.9Z" fill="#efff10"/><path d="M177.7 132.8L174.8 132.1L172.6 136.1L175.4 136.8Z" fill="#afff50"/><path d="M154.6 145.6L151.8 145L149.5 149L152.4 149.7Z" fill="#80ff80"/><path d="M218.7 110.5L215.9 109.8L213.7 113.8L216.5 114.5Z" fill="#ffdf00"/><path d="M195.7 123.3L192.8 122.6L190.6 126.6L193.4 127.3Z" fill="#dfff20"/><path d="M172.6 136.1L169.8 135.5L167.5 139.5L170.4 140.2Z" fill="#9fff60"/><path d="M149.5 149L146.7 148.4L144.5 152.4L147.3 153.1Z" fill="#70ff8f"/><path d="M213.7 113.8L210.8 113.2L208.6 117.2L211.4 117.8Z" fill="#ffef00"/><path d="M190.6 126.6L187.8 126L185.6 130L188.4 130.7Z" fill="#cfff30"/><path d="M167.5 139.5L164.7 138.9L162.5 142.9L165.3 143.6Z" fill="#8fff70"/><path d="M144.5 152.4L141.6 151.8L139.4 155.8L142.2 156.4Z" fill="#60ff9f"/><path d="M208.6 117.2L205.8 116.5L203.6 120.5L206.4 121.2Z" fill="#ffff00"/><path d="M185.6 130L182.7 129.4L180.5 133.4L183.3 134.1Z" fill="#bfff40"/><path d="M162.5 142.9L159.7 142.3L157.4 146.3L160.2 146.9Z" fill="#8fff70"/><path d="M139.4 155.8L136.6 155.1L134.4 159.1L137.2 159.8Z" fill="#50ffaf"/><path d="M226.6 107.8L223.8 107.2L221.6 111.2L224.4 111.8Z" fill="#ffdf00"/><path d="M203.6 120.5L200.7 119.9L198.5 123.9L201.3 124.6Z" fill="#efff10"/><path d="M180.5 133.4L177.7 132.8L175.4 136.8L178.3 137.4Z" fill="#afff50"/><path d="M157.4 146.3L154.6 145.6L152.4 149.7L155.2 150.3Z" fill="#80ff80"/><path d="M221.6 111.2L218.7 110.5L216.5 114.5L219.3 115.2Z" fill="#ffdf00"/><path d="M198.5 123.9L195.7 123.3L193.4 127.3L196.3 127.9Z" fill="#dfff20"/><path d="M175.4 136.8L172.6 136.1L170.4 140.2L173.2 140.8Z" fill="#9fff60"/><path d="M152.4 149.7L149.5 149L147.3 153.1L150.1 153.7Z" fill="#70ff8f"/><path d="M216.5 114.5L213.7 113.8L211.4 117.8L214.3 118.5Z" fill="#ffef00"/><path d="M193.4 127.3L190.6 126.6L188.4 130.7L191.2 131.3Z" fill="#cfff30"/><path d="M170.4 140.2L167.5 139.5L165.3 143.6L168.1 144.2Z" fill="#8fff70"/><path d="M147.3 153.1L144.5 152.4L142.2 156.4L145.1 157.1Z" fill="#60ff9f"/><path d="M211.4 117.8L208.6 117.2L206.4 121.2L209.2 121.9Z" fill="#ffff00"/><path d="M188.4 130.7L185.6 130L183.3 134.1L186.2 134.7Z" fill="#bfff40"/><path d="M165.3 143.6L162.5 142.9L160.2 146.9L163.1 147.6Z" fill="#8fff70"/><path d="M142.2 156.4L139.4 155.8L137.2 159.8L140 160.4Z" fill="#50ffaf"/><path d="M206.4 121.2L203.6 120.5L201.3 124.6L204.2 125.2Z" fill="#efff10"/><path d="M183.3 134.1L180.5 133.4L178.3 137.4L181.1 138.1Z" fill="#afff50"/><path d="M160.2 146.9L157.4 146.3L155.2 150.3L158 151Z" fill="#80ff80"/><path d="M137.2 159.8L134.4 159.1L132.1 163.2L134.9 163.8Z" fill="#40ffbf"/><path d="M224.4 111.8L221.6 111.2L219.3 115.2L222.2 115.8Z" fill="#ffdf00"/><path d="M201.3 124.6L198.5 123.9L196.3 127.9L199.1 128.6Z" fill="#dfff20"/><path d="M178.3 137.4L175.4 136.8L173.2 140.8L176 141.5Z" fill="#9fff60"/><path d="M155.2 150.3L152.4 149.7L150.1 153.7L153 154.3Z" fill="#70ff8f"/><path d="M219.3 115.2L216.5 114.5L214.3 118.5L217.1 119.2Z" fill="#ffef00"/><path d="M196.3 127.9L193.4 127.3L191.2 131.3L194 132Z" fill="#cfff30"/><path d="M173.2 140.8L170.4 140.2L168.1 144.2L171 144.8Z" fill="#8fff70"/><path d="M150.1 153.7L147.3 153.1L145.1 157.1L147.9 157.7Z" fill="#60ff9f"/><path d="M214.3 118.5L211.4 117.8L209.2 121.9L212 122.5Z" fill="#ffff00"/><path d="M191.2 131.3L188.4 130.7L186.2 134.7L189 135.3Z" fill="#bfff40"/><path d="M168.1 144.2L165.3 143.6L163.1 147.6L165.9 148.2Z" fill="#8fff70"/><path d="M145.1 157.1L142.2 156.4L140 160.4L142.8 161.1Z" fill="#50ffaf"/><path d="M209.2 121.9L206.4 121.2L204.2 125.2L207 125.9Z" fill="#efff10"/><path d="M186.2 134.7L183.3 134.1L181.1 138.1L183.9 138.7Z" fill="#afff50"/><path d="M163.1 147.6L160.2 146.9L158 151L160.9 151.6Z" fill="#80ff80"/><path d="M140 160.4L137.2 159.8L134.9 163.8L137.8 164.5Z" fill="#40ffbf"/><path d="M204.2 125.2L201.3 124.6L199.1 128.6L201.9 129.2Z" fill="#dfff20"/><path d="M181.1 138.1L178.3 137.4L176 141.5L178.9 142.1Z" fill="#9fff60"/><path d="M158 151L155.2 150.3L153 154.3L155.8 155Z" fill="#70ff8f"/><path d="M134.9 163.8L132.1 163.2L129.9 167.2L132.7 167.8Z" fill="#30ffcf"/><path d="M222.2 115.8L219.3 115.2L217.1 119.2L219.9 119.8Z" fill="#ffef00"/><path d="M199.1 128.6L196.3 127.9L194 132L196.9 132.6Z" fill="#cfff30"/><path d="M176 141.5L173.2 140.8L171 144.8L173.8 145.5Z" fill="#8fff70"/><path d="M153 154.3L150.1 153.7L147.9 157.7L150.7 158.4Z" fill="#60ff9f"/><path d="M217.1 119.2L214.3 118.5L212 122.5L214.9 123.2Z" fill="#ffff00"/><path d="M194 132L191.2 131.3L189 135.3L191.8 136Z" fill="#bfff40"/><path d="M171 144.8L168.1 144.2L165.9 148.2L168.7 148.9Z" fill="#8fff70"/><path d="M147.9 157.7L145.1 157.1L142.8 161.1L145.7 161.7Z" fill="#50ffaf"/><path d="M212 122.5L209.2 121.9L207 125.9L209.8 126.5Z" fill="#efff10"/><path d="M189 135.3L186.2 134.7L183.9 138.7L186.8 139.4Z" fill="#afff50"/><path d="M165.9 148.2L163.1 147.6L160.9 151.6L163.7 152.3Z" fill="#80ff80"/><path d="M142.8 161.1L140 160.4L137.8 164.5L140.6 165.1Z" fill="#40ffbf"/><path d="M207 125.9L204.2 125.2L201.9 129.2L204.8 129.9Z" fill="#dfff20"/><path d="M183.9 138.7L181.1 138.1L178.9 142.1L181.7 142.8Z" fill="#9fff60"/><path d="M160.9 151.6L158 151L155.8 155L158.6 155.6Z" fill="#70ff8f"/><path d="M137.8 164.5L134.9 163.8L132.7 167.8L135.6 168.5Z" fill="#30ffcf"/><path d="M201.9 129.2L199.1 128.6L196.9 132.6L199.7 133.3Z" fill="#cfff30"/><path d="M178.9 142.1L176 141.5L173.8 145.5L176.6 146.1Z" fill="#8fff70"/><path d="M155.8 155L153 154.3L150.7 158.4L153.6 159Z" fill="#60ff9f"/><path d="M132.7 167.8L129.9 167.2L127.7 171.2L130.5 171.8Z" fill="#20ffdf"/><path d="M219.9 119.8L217.1 119.2L214.9 123.2L217.7 123.8Z" fill="#ffff00"/><path d="M196.9 132.6L194 132L191.8 136L194.6 136.6Z" fill="#bfff40"/><path d="M173.8 145.5L171 144.8L168.7 148.9L171.6 149.5Z" fill="#8fff70"/><path d="M150.7 158.4L147.9 157.7L145.7 161.7L148.5 162.4Z" fill="#50ffaf"/><path d="M214.9 123.2L212 122.5L209.8 126.5L212.7 127.2Z" fill="#efff10"/><path d="M191.8 136L189 135.3L186.8 139.4L189.6 140Z" fill="#afff50"/><path d="M168.7 148.9L165.9 148.2L163.7 152.3L166.5 152.9Z" fill="#80ff80"/><path d="M145.7 161.7L142.8 161.1L140.6 165.1L143.4 165.8Z" fill="#40ffbf"/><path d="M209.8 126.5L207 125.9L204.8 129.9L207.6 130.5Z" fill="#dfff20"/><path d="M186.8 139.4L183.9 138.7L181.7 142.8L184.5 143.4Z" fill="#9fff60"/><path d="M163.7 152.3L160.9 151.6L158.6 155.6L161.4 156.3Z" fill="#70ff8f"/><path d="M140.6 165.1L137.8 164.5L135.6 168.5L138.4 169.1Z" fill="#30ffcf"/><path d="M204.8 129.9L201.9 129.2L199.7 133.3L202.5 133.9Z" fill="#cfff30"/><path d="M181.7 142.8L178.9 142.1L176.6 146.1L179.5 146.8Z" fill="#8fff70"/><path d="M158.6 155.6L155.8 155L153.6 159L156.4 159.7Z" fill="#60ff9f"/><path d="M135.6 168.5L132.7 167.8L130.5 171.8L133.3 172.5Z" fill="#20ffdf"/><path d="M199.7 133.3L196.9 132.6L194.6 136.6L197.5 137.3Z" fill="#bfff40"/><path d="M176.6 146.1L173.8 145.5L171.6 149.5L174.4 150.2Z" fill="#8fff70"/><path d="M153.6 159L150.7 158.4L148.5 162.4L151.3 163.1Z" fill="#50ffaf"/><path d="M130.5 171.8L127.7 171.2L125.4 175.2L128.3 175.8Z" fill="#10ffef"/><path d="M217.7 123.8L214.9 123.2L212.7 127.2L215.5 127.8Z" fill="#efff10"/><path d="M194.6 136.6L191.8 136L189.6 140L192.4 140.7Z" fill="#afff50"/><path d="M171.6 149.5L168.7 148.9L166.5 152.9L169.3 153.6Z" fill="#80ff80"/><path d="M148.5 162.4L145.7 161.7L143.4 165.8L146.3 166.4Z" fill="#40ffbf"/><path d="M212.7 127.2L209.8 126.5L207.6 130.5L210.4 131.2Z" fill="#dfff20"/><path d="M189.6 140L186.8 139.4L184.5 143.4L187.3 144Z" fill="#9fff60"/><path d="M166.5 152.9L163.7 152.3L161.4 156.3L164.3 156.9Z" fill="#70ff8f"/><path d="M143.4 165.8L140.6 165.1L138.4 169.1L141.2 169.8Z" fill="#30ffcf"/><path d="M207.6 130.5L204.8 129.9L202.5 133.9L205.4 134.6Z" fill="#cfff30"/><path d="M184.5 143.4L181.7 142.8L179.5 146.8L182.3 147.4Z" fill="#8fff70"/><path d="M161.4 156.3L158.6 155.6L156.4 159.7L159.2 160.3Z" fill="#60ff9f"/><path d="M138.4 169.1L135.6 168.5L133.3 172.5L136.1 173.1Z" fill="#20ffdf"/><path d="M202.5 133.9L199.7 133.3L197.5 137.3L200.3 137.9Z" fill="#bfff40"/><path d="M179.5 146.8L176.6 146.1L174.4 150.2L177.2 150.8Z" fill="#8fff70"/><path d="M156.4 159.7L153.6 159L151.3 163.1L154.2 163.7Z" fill="#50ffaf"/><path d="M133.3 172.5L130.5 171.8L128.3 175.8L131.1 176.5Z" fill="#10ffef"/><path d="M197.5 137.3L194.6 136.6L192.4 140.7L195.2 141.3Z" fill="#afff50"/><path d="M174.4 150.2L171.6 149.5L169.3 153.6L172.2 154.2Z" fill="#80ff80"/><path d="M151.3 163.1L148.5 162.4L146.3 166.4L149.1 167.1Z" fill="#40ffbf"/><path d="M128.3 175.8L125.4 175.2L123.2 179.2L126 179.8Z" fill="#00ffff"/><path d="M215.5 127.8L212.7 127.2L210.4 131.2L213.2 131.8Z" fill="#dfff20"/><path d="M192.4 140.7L189.6 140L187.3 144L190.2 144.7Z" fill="#9fff60"/><path d="M169.3 153.6L166.5 152.9L164.3 156.9L167.1 157.6Z" fill="#70ff8f"/><path d="M146.3 166.4L143.4 165.8L141.2 169.8L144 170.5Z" fill="#30ffcf"/><path d="M210.4 131.2L207.6 130.5L205.4 134.6L208.2 135.2Z" fill="#cfff30"/><path d="M187.3 144L184.5 143.4L182.3 147.4L185.1 148.1Z" fill="#8fff70"/><path d="M164.3 156.9L161.4 156.3L159.2 160.3L162.1 161Z" fill="#60ff9f"/><path d="M141.2 169.8L138.4 169.1L136.1 173.1L139 173.8Z" fill="#20ffdf"/><path d="M205.4 134.6L202.5 133.9L200.3 137.9L203.1 138.6Z" fill="#bfff40"/><path d="M182.3 147.4L179.5 146.8L177.2 150.8L180.1 151.5Z" fill="#8fff70"/><path d="M159.2 160.3L156.4 159.7L154.2 163.7L157 164.4Z" fill="#50ffaf"/><path d="M136.1 173.1L133.3 172.5L131.1 176.5L133.9 177.2Z" fill="#10ffef"/><path d="M200.3 137.9L197.5 137.3L195.2 141.3L198.1 142Z" fill="#afff50"/><path d="M177.2 150.8L174.4 150.2L172.2 154.2L175 154.8Z" fill="#80ff80"/><path d="M154.2 163.7L151.3 163.1L149.1 167.1L151.9 167.7Z" fill="#40ffbf"/><path d="M131.1 176.5L128.3 175.8L126 179.8L128.9 180.5Z" fill="#00ffff"/><path d="M195.2 141.3L192.4 140.7L190.2 144.7L193 145.3Z" fill="#9fff60"/><path d="M172.2 154.2L169.3 153.6L167.1 157.6L169.9 158.2Z" fill="#70ff8f"/><path d="M149.1 167.1L146.3 166.4L144 170.5L146.9 171.1Z" fill="#30ffcf"/><path d="M126 179.8L123.2 179.2L121 183.2L123.8 183.8Z" fill="#00efff"/><path d="M213.2 131.8L210.4 131.2L208.2 135.2L211 135.9Z" fill="#cfff30"/><path d="M190.2 144.7L187.3 144L185.1 148.1L187.9 148.7Z" fill="#8fff70"/><path d="M167.1 157.6L164.3 156.9L162.1 161L164.9 161.6Z" fill="#60ff9f"/><path d="M144 170.5L141.2 169.8L139 173.8L141.8 174.5Z" fill="#20ffdf"/><path d="M208.2 135.2L205.4 134.6L203.1 138.6L206 139.2Z" fill="#bfff40"/><path d="M185.1 148.1L182.3 147.4L180.1 151.5L182.9 152.1Z" fill="#8fff70"/><path d="M162.1 161L159.2 160.3L157 164.4L159.8 165Z" fill="#50ffaf"/><path d="M139 173.8L136.1 173.1L133.9 177.2L136.8 177.8Z" fill="#10ffef"/><path d="M203.1 138.6L200.3 137.9L198.1 142L200.9 142.6Z" fill="#afff50"/><path d="M180.1 151.5L177.2 150.8L175 154.8L177.8 155.5Z" fill="#80ff80"/><path d="M157 164.4L154.2 163.7L151.9 167.7L154.8 168.4Z" fill="#40ffbf"/><path d="M133.9 177.2L131.1 176.5L128.9 180.5L131.7 181.2Z" fill="#00ffff"/><path d="M198.1 142L195.2 141.3L193 145.3L195.8 146Z" fill="#9fff60"/><path d="M175 154.8L172.2 154.2L169.9 158.2L172.8 158.9Z" fill="#70ff8f"/><path d="M151.9 167.7L149.1 167.1L146.9 171.1L149.7 171.8Z" fill="#30ffcf"/><path d="M128.9 180.5L126 179.8L123.8 183.8L126.6 184.5Z" fill="#00efff"/><path d="M193 145.3L190.2 144.7L187.9 148.7L190.8 149.4Z" fill="#8fff70"/><path d="M169.9 158.2L167.1 157.6L164.9 161.6L167.7 162.3Z" fill="#60ff9f"/><path d="M146.9 171.1L144 170.5L141.8 174.5L144.6 175.1Z" fill="#20ffdf"/><path d="M123.8 183.8L121 183.2L118.7 187.1L121.6 187.8Z" fill="#00efff"/><path d="M211 135.9L208.2 135.2L206 139.2L208.8 139.9Z" fill="#bfff40"/><path d="M187.9 148.7L185.1 148.1L182.9 152.1L185.7 152.7Z" fill="#8fff70"/><path d="M164.9 161.6L162.1 161L159.8 165L162.6 165.6Z" fill="#50ffaf"/><path d="M141.8 174.5L139 173.8L136.8 177.8L139.6 178.5Z" fill="#10ffef"/><path d="M206 139.2L203.1 138.6L200.9 142.6L203.7 143.3Z" fill="#afff50"/><path d="M182.9 152.1L180.1 151.5L177.8 155.5L180.7 156.1Z" fill="#80ff80"/><path d="M159.8 165L157 164.4L154.8 168.4L157.6 169Z" fill="#40ffbf"/><path d="M136.8 177.8L133.9 177.2L131.7 181.2L134.5 181.8Z" fill="#00ffff"/><path d="M200.9 142.6L198.1 142L195.8 146L198.7 146.6Z" fill="#9fff60"/><path d="M177.8 155.5L175 154.8L172.8 158.9L175.6 159.5Z" fill="#70ff8f"/><path d="M154.8 168.4L151.9 167.7L149.7 171.8L152.5 172.4Z" fill="#30ffcf"/><path d="M131.7 181.2L128.9 180.5L126.6 184.5L129.5 185.2Z" fill="#00efff"/><path d="M195.8 146L193 145.3L190.8 149.4L193.6 150Z" fill="#8fff70"/><path d="M172.8 158.9L169.9 158.2L167.7 162.3L170.5 162.9Z" fill="#60ff9f"/><path d="M149.7 171.8L146.9 171.1L144.6 175.1L147.5 175.8Z" fill="#20ffdf"/><path d="M126.6 184.5L123.8 183.8L121.6 187.8L124.4 188.5Z" fill="#00efff"/><path d="M190.8 149.4L187.9 148.7L185.7 152.7L188.6 153.4Z" fill="#8fff70"/><path d="M167.7 162.3L164.9 161.6L162.6 165.6L165.5 166.3Z" fill="#50ffaf"/><path d="M144.6 175.1L141.8 174.5L139.6 178.5L142.4 179.2Z" fill="#10ffef"/><path d="M121.6 187.8L118.7 187.1L116.5 191.1L119.3 191.7Z" fill="#00dfff"/><path d="M208.8 139.9L206 139.2L203.7 143.3L206.6 143.9Z" fill="#afff50"/><path d="M185.7 152.7L182.9 152.1L180.7 156.1L183.5 156.8Z" fill="#80ff80"/><path d="M162.6 165.6L159.8 165L157.6 169L160.4 169.7Z" fill="#40ffbf"/><path d="M139.6 178.5L136.8 177.8L134.5 181.8L137.4 182.5Z" fill="#00ffff"/><path d="M203.7 143.3L200.9 142.6L198.7 146.6L201.5 147.3Z" fill="#9fff60"/><path d="M180.7 156.1L177.8 155.5L175.6 159.5L178.4 160.2Z" fill="#70ff8f"/><path d="M157.6 169L154.8 168.4L152.5 172.4L155.4 173.1Z" fill="#30ffcf"/><path d="M134.5 181.8L131.7 181.2L129.5 185.2L132.3 185.9Z" fill="#00efff"/><path d="M198.7 146.6L195.8 146L193.6 150L196.4 150.7Z" fill="#8fff70"/><path d="M175.6 159.5L172.8 158.9L170.5 162.9L173.4 163.5Z" fill="#60ff9f"/><path d="M152.5 172.4L149.7 171.8L147.5 175.8L150.3 176.5Z" fill="#20ffdf"/><path d="M129.5 185.2L126.6 184.5L124.4 188.5L127.2 189.1Z" fill="#00efff"/><path d="M193.6 150L190.8 149.4L188.6 153.4L191.4 154Z" fill="#8fff70"/><path d="M170.5 162.9L167.7 162.3L165.5 166.3L168.3 166.9Z" fill="#50ffaf"/><path d="M147.5 175.8L144.6 175.1L142.4 179.2L145.2 179.8Z" fill="#10ffef"/><path d="M124.4 188.5L121.6 187.8L119.3 191.7L122.2 192.4Z" fill="#00dfff"/><path d="M188.6 153.4L185.7 152.7L183.5 156.8L186.3 157.4Z" fill="#80ff80"/><path d="M165.5 166.3L162.6 165.6L160.4 169.7L163.2 170.3Z" fill="#40ffbf"/><path d="M142.4 179.2L139.6 178.5L137.4 182.5L140.2 183.2Z" fill="#00ffff"/><path d="M119.3 191.7L116.5 191.1L114.3 195L117.1 195.6Z" fill="#00cfff"/><path d="M206.6 143.9L203.7 143.3L201.5 147.3L204.3 147.9Z" fill="#9fff60"/><path d="M183.5 156.8L180.7 156.1L178.4 160.2L181.3 160.8Z" fill="#70ff8f"/><path d="M160.4 169.7L157.6 169L155.4 173.1L158.2 173.7Z" fill="#30ffcf"/><path d="M137.4 182.5L134.5 181.8L132.3 185.9L135.1 186.6Z" fill="#00efff"/><path d="M201.5 147.3L198.7 146.6L196.4 150.7L199.3 151.3Z" fill="#8fff70"/><path d="M178.4 160.2L175.6 159.5L173.4 163.5L176.2 164.2Z" fill="#60ff9f"/><path d="M155.4 173.1L152.5 172.4L150.3 176.5L153.1 177.1Z" fill="#20ffdf"/><path d="M132.3 185.9L129.5 185.2L127.2 189.1L130.1 189.9Z" fill="#00efff"/><path d="M196.4 150.7L193.6 150L191.4 154L194.2 154.7Z" fill="#8fff70"/><path d="M173.4 163.5L170.5 162.9L168.3 166.9L171.1 167.6Z" fill="#50ffaf"/><path d="M150.3 176.5L147.5 175.8L145.2 179.8L148.1 180.5Z" fill="#10ffef"/><path d="M127.2 189.1L124.4 188.5L122.2 192.4L125 193.1Z" fill="#00dfff"/><path d="M191.4 154L188.6 153.4L186.3 157.4L189.1 158.1Z" fill="#80ff80"/><path d="M168.3 166.9L165.5 166.3L163.2 170.3L166.1 171Z" fill="#40ffbf"/><path d="M145.2 179.8L142.4 179.2L140.2 183.2L143 183.9Z" fill="#00ffff"/><path d="M122.2 192.4L119.3 191.7L117.1 195.6L119.9 196.3Z" fill="#00cfff"/><path d="M186.3 157.4L183.5 156.8L181.3 160.8L184.1 161.4Z" fill="#70ff8f"/><path d="M163.2 170.3L160.4 169.7L158.2 173.7L161 174.4Z" fill="#30ffcf"/><path d="M140.2 183.2L137.4 182.5L135.1 186.6L137.9 187.3Z" fill="#00efff"/><path d="M117.1 195.6L114.3 195L112 198.8L114.9 199.5Z" fill="#00bfff"/><path d="M204.3 147.9L201.5 147.3L199.3 151.3L202.1 151.9Z" fill="#8fff70"/><path d="M181.3 160.8L178.4 160.2L176.2 164.2L179 164.8Z" fill="#60ff9f"/><path d="M158.2 173.7L155.4 173.1L153.1 177.1L156 177.8Z" fill="#20ffdf"/><path d="M135.1 186.6L132.3 185.9L130.1 189.9L132.9 190.6Z" fill="#00efff"/><path d="M199.3 151.3L196.4 150.7L194.2 154.7L197 155.3Z" fill="#8fff70"/><path d="M176.2 164.2L173.4 163.5L171.1 167.6L174 168.2Z" fill="#50ffaf"/><path d="M153.1 177.1L150.3 176.5L148.1 180.5L150.9 181.2Z" fill="#10ffef"/><path d="M130.1 189.9L127.2 189.1L125 193.1L127.8 193.9Z" fill="#00dfff"/><path d="M194.2 154.7L191.4 154L189.1 158.1L192 158.7Z" fill="#80ff80"/><path d="M171.1 167.6L168.3 166.9L166.1 171L168.9 171.6Z" fill="#40ffbf"/><path d="M148.1 180.5L145.2 179.8L143 183.9L145.8 184.6Z" fill="#00ffff"/><path d="M125 193.1L122.2 192.4L119.9 196.3L122.8 197.1Z" fill="#00cfff"/><path d="M189.1 158.1L186.3 157.4L184.1 161.4L186.9 162.1Z" fill="#70ff8f"/><path d="M166.1 171L163.2 170.3L161 174.4L163.9 175Z" fill="#30ffcf"/><path d="M143 183.9L140.2 183.2L137.9 187.3L140.8 187.9Z" fill="#00efff"/><path d="M119.9 196.3L117.1 195.6L114.9 199.5L117.7 200.2Z" fill="#00bfff"/><path d="M184.1 161.4L181.3 160.8L179 164.8L181.9 165.5Z" fill="#60ff9f"/><path d="M161 174.4L158.2 173.7L156 177.8L158.8 178.4Z" fill="#20ffdf"/><path d="M137.9 187.3L135.1 186.6L132.9 190.6L135.7 191.3Z" fill="#00efff"/><path d="M114.9 199.5L112 198.8L109.8 202.6L112.6 203.3Z" fill="#00afff"/><path d="M202.1 151.9L199.3 151.3L197 155.3L199.9 156Z" fill="#8fff70"/><path d="M179 164.8L176.2 164.2L174 168.2L176.8 168.8Z" fill="#50ffaf"/><path d="M156 177.8L153.1 177.1L150.9 181.2L153.7 181.8Z" fill="#10ffef"/><path d="M132.9 190.6L130.1 189.9L127.8 193.9L130.7 194.6Z" fill="#00dfff"/><path d="M197 155.3L194.2 154.7L192 158.7L194.8 159.3Z" fill="#80ff80"/><path d="M174 168.2L171.1 167.6L168.9 171.6L171.7 172.2Z" fill="#40ffbf"/><path d="M150.9 181.2L148.1 180.5L145.8 184.6L148.7 185.2Z" fill="#00ffff"/><path d="M127.8 193.9L125 193.1L122.8 197.1L125.6 197.8Z" fill="#00cfff"/><path d="M192 158.7L189.1 158.1L186.9 162.1L189.7 162.7Z" fill="#70ff8f"/><path d="M168.9 171.6L166.1 171L163.9 175L166.7 175.6Z" fill="#30ffcf"/><path d="M145.8 184.6L143 183.9L140.8 187.9L143.6 188.6Z" fill="#00efff"/><path d="M122.8 197.1L119.9 196.3L117.7 200.2L120.5 201Z" fill="#00bfff"/><path d="M186.9 162.1L184.1 161.4L181.9 165.5L184.7 166.1Z" fill="#60ff9f"/><path d="M163.9 175L161 174.4L158.8 178.4L161.6 179Z" fill="#20ffdf"/><path d="M140.8 187.9L137.9 187.3L135.7 191.3L138.6 192Z" fill="#00dfff"/><path d="M117.7 200.2L114.9 199.5L112.6 203.3L115.5 204.1Z" fill="#00afff"/><path d="M181.9 165.5L179 164.8L176.8 168.8L179.6 169.5Z" fill="#50ffaf"/><path d="M158.8 178.4L156 177.8L153.7 181.8L156.6 182.5Z" fill="#10ffef"/><path d="M135.7 191.3L132.9 190.6L130.7 194.6L133.5 195.3Z" fill="#00dfff"/><path d="M112.6 203.3L109.8 202.6L107.6 206.4L110.4 207.1Z" fill="#009fff"/><path d="M199.9 156L197 155.3L194.8 159.3L197.6 160Z" fill="#80ff80"/><path d="M176.8 168.8L174 168.2L171.7 172.2L174.6 172.9Z" fill="#40ffbf"/><path d="M153.7 181.8L150.9 181.2L148.7 185.2L151.5 185.9Z" fill="#00ffff"/><path d="M130.7 194.6L127.8 193.9L125.6 197.8L128.4 198.6Z" fill="#00cfff"/><path d="M194.8 159.3L192 158.7L189.7 162.7L192.6 163.4Z" fill="#70ff8f"/><path d="M171.7 172.2L168.9 171.6L166.7 175.6L169.5 176.3Z" fill="#30ffcf"/><path d="M148.7 185.2L145.8 184.6L143.6 188.6L146.4 189.3Z" fill="#00efff"/><path d="M125.6 197.8L122.8 197.1L120.5 201L123.4 201.8Z" fill="#00bfff"/><path d="M189.7 162.7L186.9 162.1L184.7 166.1L187.5 166.7Z" fill="#60ff9f"/><path d="M166.7 175.6L163.9 175L161.6 179L164.4 179.7Z" fill="#20ffdf"/><path d="M143.6 188.6L140.8 187.9L138.6 192L141.4 192.7Z" fill="#00dfff"/><path d="M120.5 201L117.7 200.2L115.5 204.1L118.3 204.9Z" fill="#00afff"/><path d="M184.7 166.1L181.9 165.5L179.6 169.5L182.5 170.1Z" fill="#50ffaf"/><path d="M161.6 179L158.8 178.4L156.6 182.5L159.4 183.1Z" fill="#10ffef"/><path d="M138.6 192L135.7 191.3L133.5 195.3L136.3 196.1Z" fill="#00dfff"/><path d="M115.5 204.1L112.6 203.3L110.4 207.1L113.2 207.9Z" fill="#009fff"/><path d="M179.6 169.5L176.8 168.8L174.6 172.9L177.4 173.5Z" fill="#40ffbf"/><path d="M156.6 182.5L153.7 181.8L151.5 185.9L154.3 186.5Z" fill="#00ffff"/><path d="M133.5 195.3L130.7 194.6L128.4 198.6L131.3 199.4Z" fill="#00cfff"/><path d="M110.4 207.1L107.6 206.4L105.4 210L108.2 210.7Z" fill="#008fff"/><path d="M197.6 160L194.8 159.3L192.6 163.4L195.4 164Z" fill="#70ff8f"/><path d="M174.6 172.9L171.7 172.2L169.5 176.3L172.3 176.9Z" fill="#30ffcf"/><path d="M151.5 185.9L148.7 185.2L146.4 189.3L149.3 190Z" fill="#00efff"/><path d="M128.4 198.6L125.6 197.8L123.4 201.8L126.2 202.6Z" fill="#00bfff"/><path d="M192.6 163.4L189.7 162.7L187.5 166.7L190.4 167.4Z" fill="#60ff9f"/><path d="M169.5 176.3L166.7 175.6L164.4 179.7L167.3 180.3Z" fill="#20ffdf"/><path d="M146.4 189.3L143.6 188.6L141.4 192.7L144.2 193.4Z" fill="#00dfff"/><path d="M123.4 201.8L120.5 201L118.3 204.9L121.1 205.8Z" fill="#00afff"/><path d="M187.5 166.7L184.7 166.1L182.5 170.1L185.3 170.8Z" fill="#50ffaf"/><path d="M164.4 179.7L161.6 179L159.4 183.1L162.2 183.7Z" fill="#10ffef"/><path d="M141.4 192.7L138.6 192L136.3 196.1L139.1 196.8Z" fill="#00dfff"/><path d="M118.3 204.9L115.5 204.1L113.2 207.9L116.1 208.7Z" fill="#009fff"/><path d="M182.5 170.1L179.6 169.5L177.4 173.5L180.2 174.1Z" fill="#40ffbf"/><path d="M159.4 183.1L156.6 182.5L154.3 186.5L157.2 187.1Z" fill="#00ffff"/><path d="M136.3 196.1L133.5 195.3L131.3 199.4L134.1 200.2Z" fill="#00cfff"/><path d="M113.2 207.9L110.4 207.1L108.2 210.7L111 211.6Z" fill="#008fff"/><path d="M177.4 173.5L174.6 172.9L172.3 176.9L175.2 177.5Z" fill="#30ffcf"/><path d="M154.3 186.5L151.5 185.9L149.3 190L152.1 190.6Z" fill="#00efff"/><path d="M131.3 199.4L128.4 198.6L126.2 202.6L129 203.5Z" fill="#00bfff"/><path d="M108.2 210.7L105.4 210L103.1 213.6L106 214.3Z" fill="#008fff"/><path d="M195.4 164L192.6 163.4L190.4 167.4L193.2 168Z" fill="#60ff9f"/><path d="M172.3 176.9L169.5 176.3L167.3 180.3L170.1 180.9Z" fill="#20ffdf"/><path d="M149.3 190L146.4 189.3L144.2 193.4L147 194Z" fill="#00dfff"/><path d="M126.2 202.6L123.4 201.8L121.1 205.8L124 206.6Z" fill="#00afff"/><path d="M190.4 167.4L187.5 166.7L185.3 170.8L188.1 171.4Z" fill="#50ffaf"/><path d="M167.3 180.3L164.4 179.7L162.2 183.7L165 184.3Z" fill="#10ffef"/><path d="M144.2 193.4L141.4 192.7L139.1 196.8L142 197.5Z" fill="#00dfff"/><path d="M121.1 205.8L118.3 204.9L116.1 208.7L118.9 209.7Z" fill="#009fff"/><path d="M185.3 170.8L182.5 170.1L180.2 174.1L183.1 174.8Z" fill="#40ffbf"/><path d="M162.2 183.7L159.4 183.1L157.2 187.1L160 187.8Z" fill="#00ffff"/><path d="M139.1 196.8L136.3 196.1L134.1 200.2L136.9 200.9Z" fill="#00cfff"/><path d="M116.1 208.7L113.2 207.9L111 211.6L113.8 212.5Z" fill="#008fff"/><path d="M180.2 174.1L177.4 173.5L175.2 177.5L178 178.2Z" fill="#30ffcf"/><path d="M157.2 187.1L154.3 186.5L152.1 190.6L154.9 191.2Z" fill="#00efff"/><path d="M134.1 200.2L131.3 199.4L129 203.5L131.9 204.3Z" fill="#00bfff"/><path d="M111 211.6L108.2 210.7L106 214.3L108.8 215.1Z" fill="#008fff"/><path d="M175.2 177.5L172.3 176.9L170.1 180.9L172.9 181.6Z" fill="#20ffdf"/><path d="M152.1 190.6L149.3 190L147 194L149.9 194.7Z" fill="#00dfff"/><path d="M129 203.5L126.2 202.6L124 206.6L126.8 207.6Z" fill="#00afff"/><path d="M106 214.3L103.1 213.6L100.9 216.9L103.7 217.7Z" fill="#0080ff"/><path d="M193.2 168L190.4 167.4L188.1 171.4L190.9 172Z" fill="#50ffaf"/><path d="M170.1 180.9L167.3 180.3L165 184.3L167.9 185Z" fill="#10ffef"/><path d="M147 194L144.2 193.4L142 197.5L144.8 198.2Z" fill="#00dfff"/><path d="M124 206.6L121.1 205.8L118.9 209.7L121.7 210.6Z" fill="#009fff"/><path d="M188.1 171.4L185.3 170.8L183.1 174.8L185.9 175.4Z" fill="#40ffbf"/><path d="M165 184.3L162.2 183.7L160 187.8L162.8 188.4Z" fill="#00ffff"/><path d="M142 197.5L139.1 196.8L136.9 200.9L139.8 201.6Z" fill="#00cfff"/><path d="M118.9 209.7L116.1 208.7L113.8 212.5L116.7 213.5Z" fill="#008fff"/><path d="M183.1 174.8L180.2 174.1L178 178.2L180.8 178.8Z" fill="#30ffcf"/><path d="M160 187.8L157.2 187.1L154.9 191.2L157.8 191.8Z" fill="#00efff"/><path d="M136.9 200.9L134.1 200.2L131.9 204.3L134.7 205.1Z" fill="#00bfff"/><path d="M113.8 212.5L111 211.6L108.8 215.1L111.6 216.1Z" fill="#0080ff"/><path d="M178 178.2L175.2 177.5L172.9 181.6L175.8 182.2Z" fill="#20ffdf"/><path d="M154.9 191.2L152.1 190.6L149.9 194.7L152.7 195.3Z" fill="#00dfff"/><path d="M131.9 204.3L129 203.5L126.8 207.6L129.6 208.5Z" fill="#00afff"/><path d="M108.8 215.1L106 214.3L103.7 217.7L106.6 218.6Z" fill="#0080ff"/><path d="M172.9 181.6L170.1 180.9L167.9 185L170.7 185.6Z" fill="#10ffef"/><path d="M149.9 194.7L147 194L144.8 198.2L147.6 198.8Z" fill="#00dfff"/><path d="M126.8 207.6L124 206.6L121.7 210.6L124.6 211.7Z" fill="#009fff"/><path d="M103.7 217.7L100.9 216.9L98.7 220.1L101.5 220.9Z" fill="#0070ff"/><path d="M190.9 172L188.1 171.4L185.9 175.4L188.7 176.1Z" fill="#40ffbf"/><path d="M167.9 185L165 184.3L162.8 188.4L165.6 189Z" fill="#00ffff"/><path d="M144.8 198.2L142 197.5L139.8 201.6L142.6 202.3Z" fill="#00cfff"/><path d="M121.7 210.6L118.9 209.7L116.7 213.5L119.5 214.6Z" fill="#008fff"/><path d="M185.9 175.4L183.1 174.8L180.8 178.8L183.7 179.4Z" fill="#30ffcf"/><path d="M162.8 188.4L160 187.8L157.8 191.8L160.6 192.4Z" fill="#00efff"/><path d="M139.8 201.6L136.9 200.9L134.7 205.1L137.5 205.8Z" fill="#00bfff"/><path d="M116.7 213.5L113.8 212.5L111.6 216.1L114.4 217.3Z" fill="#0080ff"/><path d="M180.8 178.8L178 178.2L175.8 182.2L178.6 182.8Z" fill="#20ffdf"/><path d="M157.8 191.8L154.9 191.2L152.7 195.3L155.5 195.9Z" fill="#00dfff"/><path d="M134.7 205.1L131.9 204.3L129.6 208.5L132.5 209.3Z" fill="#00afff"/><path d="M111.6 216.1L108.8 215.1L106.6 218.6L109.4 219.7Z" fill="#0080ff"/><path d="M175.8 182.2L172.9 181.6L170.7 185.6L173.5 186.2Z" fill="#10ffef"/><path d="M152.7 195.3L149.9 194.7L147.6 198.8L150.5 199.4Z" fill="#00dfff"/><path d="M129.6 208.5L126.8 207.6L124.6 211.7L127.4 212.7Z" fill="#009fff"/><path d="M106.6 218.6L103.7 217.7L101.5 220.9L104.3 221.8Z" fill="#0070ff"/><path d="M170.7 185.6L167.9 185L165.6 189L168.5 189.6Z" fill="#00ffff"/><path d="M147.6 198.8L144.8 198.2L142.6 202.3L145.4 202.9Z" fill="#00cfff"/><path d="M124.6 211.7L121.7 210.6L119.5 214.6L122.3 215.8Z" fill="#008fff"/><path d="M101.5 220.9L98.7 220.1L96.4 223.1L99.3 223.9Z" fill="#0060ff"/><path d="M188.7 176.1L185.9 175.4L183.7 179.4L186.5 180.1Z" fill="#30ffcf"/><path d="M165.6 189L162.8 188.4L160.6 192.4L163.4 193Z" fill="#00efff"/><path d="M142.6 202.3L139.8 201.6L137.5 205.8L140.3 206.5Z" fill="#00bfff"/><path d="M119.5 214.6L116.7 213.5L114.4 217.3L117.3 218.5Z" fill="#0080ff"/><path d="M183.7 179.4L180.8 178.8L178.6 182.8L181.4 183.4Z" fill="#20ffdf"/><path d="M160.6 192.4L157.8 191.8L155.5 195.9L158.4 196.5Z" fill="#00efff"/><path d="M137.5 205.8L134.7 205.1L132.5 209.3L135.3 210.1Z" fill="#00afff"/><path d="M114.4 217.3L111.6 216.1L109.4 219.7L112.2 221Z" fill="#0070ff"/><path d="M178.6 182.8L175.8 182.2L173.5 186.2L176.4 186.8Z" fill="#10ffef"/><path d="M155.5 195.9L152.7 195.3L150.5 199.4L153.3 200Z" fill="#00dfff"/><path d="M132.5 209.3L129.6 208.5L127.4 212.7L130.2 213.6Z" fill="#009fff"/><path d="M109.4 219.7L106.6 218.6L104.3 221.8L107.2 223Z" fill="#0070ff"/><path d="M173.5 186.2L170.7 185.6L168.5 189.6L171.3 190.2Z" fill="#00ffff"/><path d="M150.5 199.4L147.6 198.8L145.4 202.9L148.2 203.5Z" fill="#00cfff"/><path d="M127.4 212.7L124.6 211.7L122.3 215.8L125.2 216.9Z" fill="#008fff"/><path d="M104.3 221.8L101.5 220.9L99.3 223.9L102.1 224.9Z" fill="#0060ff"/><path d="M168.5 189.6L165.6 189L163.4 193L166.2 193.6Z" fill="#00efff"/><path d="M145.4 202.9L142.6 202.3L140.3 206.5L143.2 207.1Z" fill="#00bfff"/><path d="M122.3 215.8L119.5 214.6L117.3 218.5L120.1 219.9Z" fill="#0080ff"/><path d="M99.3 223.9L96.4 223.1L94.2 225.9L97 226.6Z" fill="#0060ff"/><path d="M186.5 180.1L183.7 179.4L181.4 183.4L184.3 184.1Z" fill="#20ffdf"/><path d="M163.4 193L160.6 192.4L158.4 196.5L161.2 197Z" fill="#00efff"/><path d="M140.3 206.5L137.5 205.8L135.3 210.1L138.1 210.8Z" fill="#00afff"/><path d="M117.3 218.5L114.4 217.3L112.2 221L115.1 222.4Z" fill="#0070ff"/><path d="M181.4 183.4L178.6 182.8L176.4 186.8L179.2 187.4Z" fill="#10ffef"/><path d="M158.4 196.5L155.5 195.9L153.3 200L156.1 200.5Z" fill="#00dfff"/><path d="M135.3 210.1L132.5 209.3L130.2 213.6L133.1 214.4Z" fill="#009fff"/><path d="M112.2 221L109.4 219.7L107.2 223L110 224.4Z" fill="#0070ff"/><path d="M176.4 186.8L173.5 186.2L171.3 190.2L174.1 190.8Z" fill="#00ffff"/><path d="M153.3 200L150.5 199.4L148.2 203.5L151.1 204.1Z" fill="#00cfff"/><path d="M130.2 213.6L127.4 212.7L125.2 216.9L128 218Z" fill="#008fff"/><path d="M107.2 223L104.3 221.8L102.1 224.9L104.9 226.2Z" fill="#0060ff"/><path d="M171.3 190.2L168.5 189.6L166.2 193.6L169.1 194.2Z" fill="#00efff"/><path d="M148.2 203.5L145.4 202.9L143.2 207.1L146 207.7Z" fill="#00bfff"/><path d="M125.2 216.9L122.3 215.8L120.1 219.9L122.9 221.2Z" fill="#0080ff"/><path d="M102.1 224.9L99.3 223.9L97 226.6L99.9 227.7Z" fill="#0060ff"/><path d="M166.2 193.6L163.4 193L161.2 197L164 197.6Z" fill="#00efff"/><path d="M143.2 207.1L140.3 206.5L138.1 210.8L140.9 211.4Z" fill="#00afff"/><path d="M120.1 219.9L117.3 218.5L115.1 222.4L117.9 224Z" fill="#0070ff"/><path d="M97 226.6L94.2 225.9L92 228.3L94.8 229.1Z" fill="#0050ff"/><path d="M184.3 184.1L181.4 183.4L179.2 187.4L182 188.1Z" fill="#10ffef"/><path d="M161.2 197L158.4 196.5L156.1 200.5L159 201.1Z" fill="#00dfff"/><path d="M138.1 210.8L135.3 210.1L133.1 214.4L135.9 215.2Z" fill="#009fff"/><path d="M115.1 222.4L112.2 221L110 224.4L112.8 226.1Z" fill="#0060ff"/><path d="M179.2 187.4L176.4 186.8L174.1 190.8L177 191.4Z" fill="#00ffff"/><path d="M156.1 200.5L153.3 200L151.1 204.1L153.9 204.6Z" fill="#00cfff"/><path d="M133.1 214.4L130.2 213.6L128 218L130.8 218.9Z" fill="#008fff"/><path d="M110 224.4L107.2 223L104.9 226.2L107.8 227.7Z" fill="#0060ff"/><path d="M174.1 190.8L171.3 190.2L169.1 194.2L171.9 194.8Z" fill="#00efff"/><path d="M151.1 204.1L148.2 203.5L146 207.7L148.8 208.2Z" fill="#00bfff"/><path d="M128 218L125.2 216.9L122.9 221.2L125.8 222.5Z" fill="#0080ff"/><path d="M104.9 226.2L102.1 224.9L99.9 227.7L102.7 229Z" fill="#0060ff"/><path d="M169.1 194.2L166.2 193.6L164 197.6L166.8 198.2Z" fill="#00efff"/><path d="M146 207.7L143.2 207.1L140.9 211.4L143.8 211.9Z" fill="#00afff"/><path d="M122.9 221.2L120.1 219.9L117.9 224L120.7 225.6Z" fill="#0070ff"/><path d="M99.9 227.7L97 226.6L94.8 229.1L97.6 230.2Z" fill="#0050ff"/><path d="M164 197.6L161.2 197L159 201.1L161.8 201.6Z" fill="#00dfff"/><path d="M140.9 211.4L138.1 210.8L135.9 215.2L138.7 215.7Z" fill="#009fff"/><path d="M117.9 224L115.1 222.4L112.8 226.1L115.6 228Z" fill="#0060ff"/><path d="M94.8 229.1L92 228.3L89.8 230.5L92.6 231.3Z" fill="#0050ff"/><path d="M182 188.1L179.2 187.4L177 191.4L179.8 192.1Z" fill="#00ffff"/><path d="M159 201.1L156.1 200.5L153.9 204.6L156.7 205.1Z" fill="#00cfff"/><path d="M135.9 215.2L133.1 214.4L130.8 218.9L133.7 219.7Z" fill="#008fff"/><path d="M112.8 226.1L110 224.4L107.8 227.7L110.6 229.6Z" fill="#0060ff"/><path d="M177 191.4L174.1 190.8L171.9 194.8L174.7 195.4Z" fill="#00efff"/><path d="M153.9 204.6L151.1 204.1L148.8 208.2L151.7 208.6Z" fill="#00bfff"/><path d="M130.8 218.9L128 218L125.8 222.5L128.6 223.6Z" fill="#0080ff"/><path d="M107.8 227.7L104.9 226.2L102.7 229L105.5 230.7Z" fill="#0050ff"/><path d="M171.9 194.8L169.1 194.2L166.8 198.2L169.7 198.8Z" fill="#00efff"/><path d="M148.8 208.2L146 207.7L143.8 211.9L146.6 212.3Z" fill="#00afff"/><path d="M125.8 222.5L122.9 221.2L120.7 225.6L123.5 227.2Z" fill="#0070ff"/><path d="M102.7 229L99.9 227.7L97.6 230.2L100.5 231.5Z" fill="#0050ff"/><path d="M166.8 198.2L164 197.6L161.8 201.6L164.6 202.2Z" fill="#00dfff"/><path d="M143.8 211.9L140.9 211.4L138.7 215.7L141.6 216.2Z" fill="#009fff"/><path d="M120.7 225.6L117.9 224L115.6 228L118.5 230Z" fill="#0060ff"/><path d="M97.6 230.2L94.8 229.1L92.6 231.3L95.4 232.4Z" fill="#0050ff"/><path d="M161.8 201.6L159 201.1L156.7 205.1L159.6 205.6Z" fill="#00cfff"/><path d="M138.7 215.7L135.9 215.2L133.7 219.7L136.5 220.2Z" fill="#008fff"/><path d="M115.6 228L112.8 226.1L110.6 229.6L113.4 231.8Z" fill="#0050ff"/><path d="M92.6 231.3L89.8 230.5L87.5 232.5L90.3 233.3Z" fill="#0040ff"/><path d="M179.8 192.1L177 191.4L174.7 195.4L177.6 196.1Z" fill="#00efff"/><path d="M156.7 205.1L153.9 204.6L151.7 208.6L154.5 209.1Z" fill="#00bfff"/><path d="M133.7 219.7L130.8 218.9L128.6 223.6L131.4 224.4Z" fill="#0080ff"/><path d="M110.6 229.6L107.8 227.7L105.5 230.7L108.4 232.7Z" fill="#0050ff"/><path d="M174.7 195.4L171.9 194.8L169.7 198.8L172.5 199.4Z" fill="#00efff"/><path d="M151.7 208.6L148.8 208.2L146.6 212.3L149.4 212.7Z" fill="#00afff"/><path d="M128.6 223.6L125.8 222.5L123.5 227.2L126.4 228.6Z" fill="#0070ff"/><path d="M105.5 230.7L102.7 229L100.5 231.5L103.3 233.2Z" fill="#0050ff"/><path d="M169.7 198.8L166.8 198.2L164.6 202.2L167.4 202.7Z" fill="#00dfff"/><path d="M146.6 212.3L143.8 211.9L141.6 216.2L144.4 216.5Z" fill="#009fff"/><path d="M123.5 227.2L120.7 225.6L118.5 230L121.3 232.2Z" fill="#0060ff"/><path d="M100.5 231.5L97.6 230.2L95.4 232.4L98.2 233.8Z" fill="#0040ff"/><path d="M164.6 202.2L161.8 201.6L159.6 205.6L162.4 206.1Z" fill="#00cfff"/><path d="M141.6 216.2L138.7 215.7L136.5 220.2L139.3 220.6Z" fill="#008fff"/><path d="M118.5 230L115.6 228L113.4 231.8L116.2 234.3Z" fill="#0050ff"/><path d="M95.4 232.4L92.6 231.3L90.3 233.3L93.2 234.3Z" fill="#0040ff"/><path d="M159.6 205.6L156.7 205.1L154.5 209.1L157.3 209.5Z" fill="#00bfff"/><path d="M136.5 220.2L133.7 219.7L131.4 224.4L134.3 224.9Z" fill="#0080ff"/><path d="M113.4 231.8L110.6 229.6L108.4 232.7L111.2 235.2Z" fill="#0040ff"/><path d="M90.3 233.3L87.5 232.5L85.3 234.1L88.1 234.9Z" fill="#0040ff"/><path d="M177.6 196.1L174.7 195.4L172.5 199.4L175.3 200Z" fill="#00efff"/><path d="M154.5 209.1L151.7 208.6L149.4 212.7L152.3 213.1Z" fill="#00afff"/><path d="M131.4 224.4L128.6 223.6L126.4 228.6L129.2 229.5Z" fill="#0070ff"/><path d="M108.4 232.7L105.5 230.7L103.3 233.2L106.1 235.3Z" fill="#0040ff"/><path d="M172.5 199.4L169.7 198.8L167.4 202.7L170.3 203.3Z" fill="#00dfff"/><path d="M149.4 212.7L146.6 212.3L144.4 216.5L147.2 216.8Z" fill="#009fff"/><path d="M126.4 228.6L123.5 227.2L121.3 232.2L124.1 234Z" fill="#0050ff"/><path d="M103.3 233.2L100.5 231.5L98.2 233.8L101.1 235.4Z" fill="#0040ff"/><path d="M167.4 202.7L164.6 202.2L162.4 206.1L165.2 206.7Z" fill="#00cfff"/><path d="M144.4 216.5L141.6 216.2L139.3 220.6L142.1 220.8Z" fill="#008fff"/><path d="M121.3 232.2L118.5 230L116.2 234.3L119.1 237.3Z" fill="#0040ff"/><path d="M98.2 233.8L95.4 232.4L93.2 234.3L96 235.6Z" fill="#0040ff"/><path d="M162.4 206.1L159.6 205.6L157.3 209.5L160.2 210Z" fill="#00bfff"/><path d="M139.3 220.6L136.5 220.2L134.3 224.9L137.1 225.1Z" fill="#0080ff"/><path d="M116.2 234.3L113.4 231.8L111.2 235.2L114 238.3Z" fill="#0040ff"/><path d="M93.2 234.3L90.3 233.3L88.1 234.9L90.9 235.9Z" fill="#0040ff"/><path d="M157.3 209.5L154.5 209.1L152.3 213.1L155.1 213.5Z" fill="#00afff"/><path d="M134.3 224.9L131.4 224.4L129.2 229.5L132 229.9Z" fill="#0070ff"/><path d="M111.2 235.2L108.4 232.7L106.1 235.3L109 238Z" fill="#0040ff"/><path d="M88.1 234.9L85.3 234.1L83.1 235.6L85.9 236.3Z" fill="#0040ff"/><path d="M175.3 200L172.5 199.4L170.3 203.3L173.1 204Z" fill="#00dfff"/><path d="M152.3 213.1L149.4 212.7L147.2 216.8L150 217.1Z" fill="#009fff"/><path d="M129.2 229.5L126.4 228.6L124.1 234L127 235.2Z" fill="#0050ff"/><path d="M106.1 235.3L103.3 233.2L101.1 235.4L103.9 237.5Z" fill="#0040ff"/><path d="M170.3 203.3L167.4 202.7L165.2 206.7L168.1 207.2Z" fill="#00cfff"/><path d="M147.2 216.8L144.4 216.5L142.1 220.8L145 220.9Z" fill="#008fff"/><path d="M124.1 234L121.3 232.2L119.1 237.3L121.9 240.2Z" fill="#0040ff"/><path d="M101.1 235.4L98.2 233.8L96 235.6L98.8 237.3Z" fill="#0040ff"/><path d="M165.2 206.7L162.4 206.1L160.2 210L163 210.5Z" fill="#00bfff"/><path d="M142.1 220.8L139.3 220.6L137.1 225.1L139.9 225.1Z" fill="#0080ff"/><path d="M119.1 237.3L116.2 234.3L114 238.3L116.8 242.3Z" fill="#0030ff"/><path d="M96 235.6L93.2 234.3L90.9 235.9L93.8 237.2Z" fill="#0040ff"/><path d="M160.2 210L157.3 209.5L155.1 213.5L157.9 213.9Z" fill="#00afff"/><path d="M137.1 225.1L134.3 224.9L132 229.9L134.9 229.8Z" fill="#0070ff"/><path d="M114 238.3L111.2 235.2L109 238L111.8 241.3Z" fill="#0030ff"/><path d="M90.9 235.9L88.1 234.9L85.9 236.3L88.7 237.3Z" fill="#0040ff"/><path d="M155.1 213.5L152.3 213.1L150 217.1L152.9 217.4Z" fill="#009fff"/><path d="M132 229.9L129.2 229.5L127 235.2L129.8 235.3Z" fill="#0050ff"/><path d="M109 238L106.1 235.3L103.9 237.5L106.7 240Z" fill="#0030ff"/><path d="M85.9 236.3L83.1 235.6L80.8 236.7L83.7 237.5Z" fill="#0040ff"/><path d="M173.1 204L170.3 203.3L168.1 207.2L170.9 207.9Z" fill="#00cfff"/><path d="M150 217.1L147.2 216.8L145 220.9L147.8 221.1Z" fill="#008fff"/><path d="M127 235.2L124.1 234L121.9 240.2L124.7 242Z" fill="#0040ff"/><path d="M103.9 237.5L101.1 235.4L98.8 237.3L101.7 239.2Z" fill="#0030ff"/><path d="M168.1 207.2L165.2 206.7L163 210.5L165.8 211.1Z" fill="#00bfff"/><path d="M145 220.9L142.1 220.8L139.9 225.1L142.7 225Z" fill="#0080ff"/><path d="M121.9 240.2L119.1 237.3L116.8 242.3L119.7 247.5Z" fill="#0030ff"/><path d="M98.8 237.3L96 235.6L93.8 237.2L96.6 238.8Z" fill="#0030ff"/><path d="M163 210.5L160.2 210L157.9 213.9L160.8 214.4Z" fill="#00afff"/><path d="M139.9 225.1L137.1 225.1L134.9 229.8L137.7 229.5Z" fill="#0070ff"/><path d="M116.8 242.3L114 238.3L111.8 241.3L114.6 245.9Z" fill="#0020ff"/><path d="M93.8 237.2L90.9 235.9L88.7 237.3L91.5 238.6Z" fill="#0040ff"/><path d="M157.9 213.9L155.1 213.5L152.9 217.4L155.7 217.8Z" fill="#009fff"/><path d="M134.9 229.8L132 229.9L129.8 235.3L132.6 234.7Z" fill="#0060ff"/><path d="M111.8 241.3L109 238L106.7 240L109.6 243.2Z" fill="#0020ff"/><path d="M88.7 237.3L85.9 236.3L83.7 237.5L86.5 238.5Z" fill="#0040ff"/><path d="M152.9 217.4L150 217.1L147.8 221.1L150.6 221.3Z" fill="#008fff"/><path d="M129.8 235.3L127 235.2L124.7 242L127.6 241.5Z" fill="#0040ff"/><path d="M106.7 240L103.9 237.5L101.7 239.2L104.5 241.5Z" fill="#0030ff"/><path d="M83.7 237.5L80.8 236.7L78.6 237.6L81.4 238.4Z" fill="#0040ff"/><path d="M170.9 207.9L168.1 207.2L165.8 211.1L168.6 211.7Z" fill="#00bfff"/><path d="M147.8 221.1L145 220.9L142.7 225L145.6 225Z" fill="#0080ff"/><path d="M124.7 242L121.9 240.2L119.7 247.5L122.5 251.7Z" fill="#0020ff"/><path d="M101.7 239.2L98.8 237.3L96.6 238.8L99.4 240.6Z" fill="#0030ff"/><path d="M165.8 211.1L163 210.5L160.8 214.4L163.6 214.9Z" fill="#00afff"/><path d="M142.7 225L139.9 225.1L137.7 229.5L140.5 229.1Z" fill="#0070ff"/><path d="M119.7 247.5L116.8 242.3L114.6 245.9L117.4 253.6Z" fill="#0010ff"/><path d="M96.6 238.8L93.8 237.2L91.5 238.6L94.4 240Z" fill="#0030ff"/><path d="M160.8 214.4L157.9 213.9L155.7 217.8L158.5 218.2Z" fill="#009fff"/><path d="M137.7 229.5L134.9 229.8L132.6 234.7L135.5 233.9Z" fill="#0060ff"/><path d="M114.6 245.9L111.8 241.3L109.6 243.2L112.4 247.2Z" fill="#0010ff"/><path d="M91.5 238.6L88.7 237.3L86.5 238.5L89.3 239.7Z" fill="#0030ff"/><path d="M155.7 217.8L152.9 217.4L150.6 221.3L153.5 221.5Z" fill="#008fff"/><path d="M132.6 234.7L129.8 235.3L127.6 241.5L130.4 239.9Z" fill="#0040ff"/><path d="M109.6 243.2L106.7 240L104.5 241.5L107.3 244.2Z" fill="#0020ff"/><path d="M86.5 238.5L83.7 237.5L81.4 238.4L84.3 239.4Z" fill="#0030ff"/><path d="M150.6 221.3L147.8 221.1L145.6 225L148.4 225Z" fill="#0080ff"/><path d="M127.6 241.5L124.7 242L122.5 251.7L125.3 248.8Z" fill="#0030ff"/><path d="M104.5 241.5L101.7 239.2L99.4 240.6L102.3 242.6Z" fill="#0030ff"/><path d="M168.6 211.7L165.8 211.1L163.6 214.9L166.4 215.5Z" fill="#00afff"/><path d="M145.6 225L142.7 225L140.5 229.1L143.3 228.8Z" fill="#0070ff"/><path d="M122.5 251.7L119.7 247.5L117.4 253.6L120.3 278.4Z" fill="#0000ff"/><path d="M99.4 240.6L96.6 238.8L94.4 240L97.2 241.7Z" fill="#0030ff"/><path d="M163.6 214.9L160.8 214.4L158.5 218.2L161.4 218.7Z" fill="#009fff"/><path d="M140.5 229.1L137.7 229.5L135.5 233.9L138.3 233.1Z" fill="#0060ff"/><path d="M117.4 253.6L114.6 245.9L112.4 247.2L115.2 252.5Z" fill="#0000ef"/><path d="M94.4 240L91.5 238.6L89.3 239.7L92.1 241.1Z" fill="#0030ff"/><path d="M158.5 218.2L155.7 217.8L153.5 221.5L156.3 221.9Z" fill="#008fff"/><path d="M135.5 233.9L132.6 234.7L130.4 239.9L133.2 238.2Z" fill="#0050ff"/><path d="M112.4 247.2L109.6 243.2L107.3 244.2L110.2 247.2Z" fill="#0010ff"/><path d="M89.3 239.7L86.5 238.5L84.3 239.4L87.1 240.6Z" fill="#0030ff"/><path d="M153.5 221.5L150.6 221.3L148.4 225L151.2 225.2Z" fill="#0080ff"/><path d="M130.4 239.9L127.6 241.5L125.3 248.8L128.2 244.9Z" fill="#0030ff"/><path d="M107.3 244.2L104.5 241.5L102.3 242.6L105.1 244.8Z" fill="#0020ff"/><path d="M148.4 225L145.6 225L143.3 228.8L146.2 228.7Z" fill="#0070ff"/><path d="M125.3 248.8L122.5 251.7L120.3 278.4L123.1 254.9Z" fill="#0010ff"/><path d="M102.3 242.6L99.4 240.6L97.2 241.7L100 243.5Z" fill="#0030ff"/><path d="M166.4 215.5L163.6 214.9L161.4 218.7L164.2 219.3Z" fill="#009fff"/><path d="M143.3 228.8L140.5 229.1L138.3 233.1L141.1 232.5Z" fill="#0060ff"/><path d="M120.3 278.4L117.4 253.6L115.2 252.5L118 256.7Z" fill="#00008f"/><path d="M97.2 241.7L94.4 240L92.1 241.1L95 242.7Z" fill="#0030ff"/><path d="M161.4 218.7L158.5 218.2L156.3 221.9L159.1 222.3Z" fill="#008fff"/><path d="M138.3 233.1L135.5 233.9L133.2 238.2L136.1 236.9Z" fill="#0050ff"/><path d="M115.2 252.5L112.4 247.2L110.2 247.2L113 250.2Z" fill="#0000ff"/><path d="M92.1 241.1L89.3 239.7L87.1 240.6L89.9 242Z" fill="#0030ff"/><path d="M156.3 221.9L153.5 221.5L151.2 225.2L154.1 225.5Z" fill="#008fff"/><path d="M133.2 238.2L130.4 239.9L128.2 244.9L131 242.1Z" fill="#0040ff"/><path d="M110.2 247.2L107.3 244.2L105.1 244.8L107.9 247.1Z" fill="#0010ff"/><path d="M151.2 225.2L148.4 225L146.2 228.7L149 228.7Z" fill="#0080ff"/><path d="M128.2 244.9L125.3 248.8L123.1 254.9L125.9 248.5Z" fill="#0020ff"/><path d="M105.1 244.8L102.3 242.6L100 243.5L102.9 245.4Z" fill="#0020ff"/><path d="M146.2 228.7L143.3 228.8L141.1 232.5L143.9 232.2Z" fill="#0070ff"/><path d="M123.1 254.9L120.3 278.4L118 256.7L120.9 253.8Z" fill="#0000ef"/><path d="M100 243.5L97.2 241.7L95 242.7L97.8 244.3Z" fill="#0030ff"/><path d="M164.2 219.3L161.4 218.7L159.1 222.3L162 222.9Z" fill="#008fff"/><path d="M141.1 232.5L138.3 233.1L136.1 236.9L138.9 236Z" fill="#0060ff"/><path d="M118 256.7L115.2 252.5L113 250.2L115.8 252Z" fill="#0000ef"/><path d="M95 242.7L92.1 241.1L89.9 242L92.8 243.5Z" fill="#0030ff"/><path d="M159.1 222.3L156.3 221.9L154.1 225.5L156.9 225.9Z" fill="#008fff"/><path d="M136.1 236.9L133.2 238.2L131 242.1L133.8 240.3Z" fill="#0040ff"/><path d="M113 250.2L110.2 247.2L107.9 247.1L110.8 249Z" fill="#0010ff"/><path d="M154.1 225.5L151.2 225.2L149 228.7L151.8 228.9Z" fill="#0080ff"/><path d="M131 242.1L128.2 244.9L125.9 248.5L128.8 245.2Z" fill="#0030ff"/><path d="M107.9 247.1L105.1 244.8L102.9 245.4L105.7 247.2Z" fill="#0020ff"/><path d="M149 228.7L146.2 228.7L143.9 232.2L146.8 232.1Z" fill="#0070ff"/><path d="M125.9 248.5L123.1 254.9L120.9 253.8L123.7 249.8Z" fill="#0010ff"/><path d="M102.9 245.4L100 243.5L97.8 244.3L100.6 246Z" fill="#0020ff"/><path d="M143.9 232.2L141.1 232.5L138.9 236L141.7 235.4Z" fill="#0060ff"/><path d="M120.9 253.8L118 256.7L115.8 252L118.6 251.5Z" fill="#0000ff"/><path d="M97.8 244.3L95 242.7L92.8 243.5L95.6 245.2Z" fill="#0030ff"/><path d="M162 222.9L159.1 222.3L156.9 225.9L159.7 226.5Z" fill="#008fff"/><path d="M138.9 236L136.1 236.9L133.8 240.3L136.7 239.1Z" fill="#0050ff"/><path d="M115.8 252L113 250.2L110.8 249L113.6 250.2Z" fill="#0000ff"/><path d="M156.9 225.9L154.1 225.5L151.8 228.9L154.7 229.3Z" fill="#0080ff"/><path d="M133.8 240.3L131 242.1L128.8 245.2L131.6 243.1Z" fill="#0040ff"/><path d="M110.8 249L107.9 247.1L105.7 247.2L108.5 248.7Z" fill="#0010ff"/><path d="M151.8 228.9L149 228.7L146.8 232.1L149.6 232.2Z" fill="#0070ff"/><path d="M128.8 245.2L125.9 248.5L123.7 249.8L126.5 247.1Z" fill="#0020ff"/><path d="M105.7 247.2L102.9 245.4L100.6 246L103.5 247.6Z" fill="#0020ff"/><path d="M146.8 232.1L143.9 232.2L141.7 235.4L144.5 235.2Z" fill="#0060ff"/><path d="M123.7 249.8L120.9 253.8L118.6 251.5L121.5 249.8Z" fill="#0010ff"/><path d="M100.6 246L97.8 244.3L95.6 245.2L98.4 246.8Z" fill="#0020ff"/><path d="M141.7 235.4L138.9 236L136.7 239.1L139.5 238.4Z" fill="#0050ff"/><path d="M118.6 251.5L115.8 252L113.6 250.2L116.4 250.3Z" fill="#0010ff"/><path d="M159.7 226.5L156.9 225.9L154.7 229.3L157.5 229.8Z" fill="#0080ff"/><path d="M136.7 239.1L133.8 240.3L131.6 243.1L134.4 241.8Z" fill="#0040ff"/><path d="M113.6 250.2L110.8 249L108.5 248.7L111.4 249.7Z" fill="#0010ff"/><path d="M154.7 229.3L151.8 228.9L149.6 232.2L152.4 232.5Z" fill="#0070ff"/><path d="M131.6 243.1L128.8 245.2L126.5 247.1L129.4 245.2Z" fill="#0030ff"/><path d="M108.5 248.7L105.7 247.2L103.5 247.6L106.3 248.9Z" fill="#0020ff"/><path d="M149.6 232.2L146.8 232.1L144.5 235.2L147.4 235.2Z" fill="#0060ff"/><path d="M126.5 247.1L123.7 249.8L121.5 249.8L124.3 248.1Z" fill="#0020ff"/><path d="M103.5 247.6L100.6 246L98.4 246.8L101.2 248.3Z" fill="#0020ff"/><path d="M144.5 235.2L141.7 235.4L139.5 238.4L142.3 238Z" fill="#0060ff"/><path d="M121.5 249.8L118.6 251.5L116.4 250.3L119.2 249.7Z" fill="#0010ff"/><path d="M139.5 238.4L136.7 239.1L134.4 241.8L137.3 241Z" fill="#0050ff"/><path d="M116.4 250.3L113.6 250.2L111.4 249.7L114.2 250Z" fill="#0010ff"/><path d="M157.5 229.8L154.7 229.3L152.4 232.5L155.3 233Z" fill="#0070ff"/><path d="M134.4 241.8L131.6 243.1L129.4 245.2L132.2 244Z" fill="#0040ff"/><path d="M111.4 249.7L108.5 248.7L106.3 248.9L109.1 249.8Z" fill="#0020ff"/><path d="M152.4 232.5L149.6 232.2L147.4 235.2L150.2 235.5Z" fill="#0060ff"/><path d="M129.4 245.2L126.5 247.1L124.3 248.1L127.1 246.7Z" fill="#0030ff"/><path d="M106.3 248.9L103.5 247.6L101.2 248.3L104.1 249.5Z" fill="#0020ff"/><path d="M147.4 235.2L144.5 235.2L142.3 238L145.1 238Z" fill="#0060ff"/><path d="M124.3 248.1L121.5 249.8L119.2 249.7L122.1 248.7Z" fill="#0020ff"/><path d="M142.3 238L139.5 238.4L137.3 241L140.1 240.6Z" fill="#0050ff"/><path d="M119.2 249.7L116.4 250.3L114.2 250L117 249.8Z" fill="#0020ff"/><path d="M137.3 241L134.4 241.8L132.2 244L135 243.2Z" fill="#0040ff"/><path d="M114.2 250L111.4 249.7L109.1 249.8L112 250.2Z" fill="#0020ff"/><path d="M155.3 233L152.4 232.5L150.2 235.5L153 236Z" fill="#0060ff"/><path d="M132.2 244L129.4 245.2L127.1 246.7L130 245.7Z" fill="#0030ff"/><path d="M109.1 249.8L106.3 248.9L104.1 249.5L106.9 250.4Z" fill="#0020ff"/><path d="M150.2 235.5L147.4 235.2L145.1 238L148 238.2Z" fill="#0060ff"/><path d="M127.1 246.7L124.3 248.1L122.1 248.7L124.9 247.8Z" fill="#0030ff"/><path d="M145.1 238L142.3 238L140.1 240.6L142.9 240.5Z" fill="#0050ff"/><path d="M122.1 248.7L119.2 249.7L117 249.8L119.8 249.3Z" fill="#0020ff"/><path d="M140.1 240.6L137.3 241L135 243.2L137.9 242.8Z" fill="#0040ff"/><path d="M117 249.8L114.2 250L112 250.2L114.8 250.2Z" fill="#0020ff"/><path d="M135 243.2L132.2 244L130 245.7L132.8 245Z" fill="#0040ff"/><path d="M112 250.2L109.1 249.8L106.9 250.4L109.7 250.8Z" fill="#0020ff"/><path d="M153 236L150.2 235.5L148 238.2L150.8 238.8Z" fill="#0060ff"/><path d="M130 245.7L127.1 246.7L124.9 247.8L127.7 247Z" fill="#0030ff"/><path d="M148 238.2L145.1 238L142.9 240.5L145.8 240.7Z" fill="#0050ff"/><path d="M124.9 247.8L122.1 248.7L119.8 249.3L122.7 248.7Z" fill="#0030ff"/><path d="M142.9 240.5L140.1 240.6L137.9 242.8L140.7 242.7Z" fill="#0050ff"/><path d="M119.8 249.3L117 249.8L114.8 250.2L117.6 249.9Z" fill="#0020ff"/><path d="M137.9 242.8L135 243.2L132.8 245L135.6 244.7Z" fill="#0040ff"/><path d="M114.8 250.2L112 250.2L109.7 250.8L112.6 250.9Z" fill="#0020ff"/><path d="M132.8 245L130 245.7L127.7 247L130.6 246.5Z" fill="#0030ff"/><path d="M150.8 238.8L148 238.2L145.8 240.7L148.6 241.2Z" fill="#0050ff"/><path d="M127.7 247L124.9 247.8L122.7 248.7L125.5 248.2Z" fill="#0030ff"/><path d="M145.8 240.7L142.9 240.5L140.7 242.7L143.5 242.9Z" fill="#0050ff"/><path d="M122.7 248.7L119.8 249.3L117.6 249.9L120.4 249.5Z" fill="#0030ff"/><path d="M140.7 242.7L137.9 242.8L135.6 244.7L138.5 244.6Z" fill="#0040ff"/><path d="M117.6 249.9L114.8 250.2L112.6 250.9L115.4 250.6Z" fill="#0020ff"/><path d="M135.6 244.7L132.8 245L130.6 246.5L133.4 246.3Z" fill="#0040ff"/><path d="M130.6 246.5L127.7 247L125.5 248.2L128.3 247.8Z" fill="#0030ff"/><path d="M148.6 241.2L145.8 240.7L143.5 242.9L146.3 243.4Z" fill="#0050ff"/><path d="M125.5 248.2L122.7 248.7L120.4 249.5L123.3 249.1Z" fill="#0030ff"/><path d="M143.5 242.9L140.7 242.7L138.5 244.6L141.3 244.9Z" fill="#0040ff"/><path d="M120.4 249.5L117.6 249.9L115.4 250.6L118.2 250.3Z" fill="#0030ff"/><path d="M138.5 244.6L135.6 244.7L133.4 246.3L136.2 246.3Z" fill="#0040ff"/><path d="M133.4 246.3L130.6 246.5L128.3 247.8L131.2 247.6Z" fill="#0040ff"/><path d="M128.3 247.8L125.5 248.2L123.3 249.1L126.1 248.8Z" fill="#0030ff"/><path d="M146.3 243.4L143.5 242.9L141.3 244.9L144.1 245.4Z" fill="#0040ff"/><path d="M123.3 249.1L120.4 249.5L118.2 250.3L121 250Z" fill="#0030ff"/><path d="M141.3 244.9L138.5 244.6L136.2 246.3L139.1 246.5Z" fill="#0040ff"/><path d="M136.2 246.3L133.4 246.3L131.2 247.6L134 247.6Z" fill="#0040ff"/><path d="M131.2 247.6L128.3 247.8L126.1 248.8L128.9 248.7Z" fill="#0030ff"/><path d="M126.1 248.8L123.3 249.1L121 250L123.9 249.7Z" fill="#0030ff"/><path d="M144.1 245.4L141.3 244.9L139.1 246.5L141.9 247Z" fill="#0040ff"/><path d="M139.1 246.5L136.2 246.3L134 247.6L136.8 247.9Z" fill="#0040ff"/><path d="M134 247.6L131.2 247.6L128.9 248.7L131.8 248.8Z" fill="#0040ff"/><path d="M128.9 248.7L126.1 248.8L123.9 249.7L126.7 249.6Z" fill="#0030ff"/><path d="M141.9 247L139.1 246.5L136.8 247.9L139.7 248.5Z" fill="#0040ff"/><path d="M136.8 247.9L134 247.6L131.8 248.8L134.6 249.1Z" fill="#0040ff"/><path d="M131.8 248.8L128.9 248.7L126.7 249.6L129.5 249.7Z" fill="#0030ff"/><path d="M139.7 248.5L136.8 247.9L134.6 249.1L137.4 249.6Z" fill="#0040ff"/><path d="M134.6 249.1L131.8 248.8L129.5 249.7L132.4 250Z" fill="#0040ff"/><path d="M137.4 249.6L134.6 249.1L132.4 250L135.2 250.5Z" fill="#0040ff"/></g><text x="68.1" y="279.8" font-size="11.5" text-anchor="end" fill="#262626" font-family="Liberation Sans">0</text><text x="68.1" y="252.8" font-size="11.5" text-anchor="end" fill="#262626" font-family="Liberation Sans">0.02</text><text x="68.1" y="225.8" font-size="11.5" text-anchor="end" fill="#262626" font-family="Liberation Sans">0.04</text><text x="68.1" y="198.8" font-size="11.5" text-anchor="end" fill="#262626" font-family="Liberation Sans">0.06</text><text x="68.1" y="171.8" font-size="11.5" text-anchor="end" fill="#262626" font-family="Liberation Sans">0.08</text><text x="68.1" y="144.8" font-size="11.5" text-anchor="end" fill="#262626" font-family="Liberation Sans">0.1</text><text x="68.1" y="117.8" font-size="11.5" text-anchor="end" fill="#262626" font-family="Liberation Sans">0.12</text><text x="68.1" y="90.8" font-size="11.5" text-anchor="end" fill="#262626" font-family="Liberation Sans">0.14</text><text x="68.1" y="63.8" font-size="11.5" text-anchor="end" fill="#262626" font-family="Liberation Sans">0.16</text><text x="64" y="293" font-size="11" text-anchor="middle" fill="#262626" font-family="Liberation Sans">1</text><text x="89" y="298.9" font-size="11" text-anchor="middle" fill="#262626" font-family="Liberation Sans">0.5</text><text x="121" y="305" font-size="11" text-anchor="middle" fill="#262626" font-family="Liberation Sans">0</text><text x="283" y="255.5" font-size="11" text-anchor="middle" fill="#262626" font-family="Liberation Sans">0</text><text x="238.4" y="271.7" font-size="11" text-anchor="middle" fill="#262626" font-family="Liberation Sans">1</text><text x="193.8" y="288" font-size="11" text-anchor="middle" fill="#262626" font-family="Liberation Sans">2</text><text x="149.2" y="304.2" font-size="11" text-anchor="middle" fill="#262626" font-family="Liberation Sans">3</text><text x="212.7" y="311.7" font-size="12.6" text-anchor="middle" fill="#262626" font-family="Liberation Sans">y [cm]</text><text x="68.4" y="319.2" font-size="12.7" text-anchor="middle" fill="#262626" font-family="Liberation Sans">x [cm]</text><text transform="translate(37.9 164.8) rotate(-90) scale(1 1.2)" font-size="12" fill="#333" font-family="Liberation Sans">[V]</text><text transform="translate(37.1 177.3) rotate(-90) scale(1.3 1)" font-size="12" fill="#333" font-family="Liberation Serif" font-style="italic">φ</text><text x="19.8" y="16.3" font-size="26" text-anchor="start" fill="#000" font-family="Liberation Sans">a</text><text x="231.3" y="20" font-size="23.5" fill="#000" font-family="Liberation Serif">I<tspan font-size="15" dy="4.8" dx="-1">in</tspan></text><text x="123" y="279" font-size="22" fill="#000" font-family="Liberation Serif">I<tspan font-size="14.5" dy="4.6">out</tspan></text><line x1="365.5" y1="130.1" x2="365.5" y2="126.6" stroke="#4a4a4a" stroke-width="0.9"/><line x1="365.5" y1="13.3" x2="365.5" y2="16.8" stroke="#4a4a4a" stroke-width="0.9"/><line x1="423.2" y1="130.1" x2="423.2" y2="126.6" stroke="#4a4a4a" stroke-width="0.9"/><line x1="423.2" y1="13.3" x2="423.2" y2="16.8" stroke="#4a4a4a" stroke-width="0.9"/><line x1="480.9" y1="130.1" x2="480.9" y2="126.6" stroke="#4a4a4a" stroke-width="0.9"/><line x1="480.9" y1="13.3" x2="480.9" y2="16.8" stroke="#4a4a4a" stroke-width="0.9"/><line x1="538.6" y1="130.1" x2="538.6" y2="126.6" stroke="#4a4a4a" stroke-width="0.9"/><line x1="538.6" y1="13.3" x2="538.6" y2="16.8" stroke="#4a4a4a" stroke-width="0.9"/><line x1="596.3" y1="130.1" x2="596.3" y2="126.6" stroke="#4a4a4a" stroke-width="0.9"/><line x1="596.3" y1="13.3" x2="596.3" y2="16.8" stroke="#4a4a4a" stroke-width="0.9"/><line x1="654" y1="130.1" x2="654" y2="126.6" stroke="#4a4a4a" stroke-width="0.9"/><line x1="654" y1="13.3" x2="654" y2="16.8" stroke="#4a4a4a" stroke-width="0.9"/><line x1="711.7" y1="130.1" x2="711.7" y2="126.6" stroke="#4a4a4a" stroke-width="0.9"/><line x1="711.7" y1="13.3" x2="711.7" y2="16.8" stroke="#4a4a4a" stroke-width="0.9"/><line x1="365.5" y1="130.1" x2="369" y2="130.1" stroke="#4a4a4a" stroke-width="0.9"/><line x1="711.7" y1="130.1" x2="708.2" y2="130.1" stroke="#4a4a4a" stroke-width="0.9"/><line x1="365.5" y1="71.7" x2="369" y2="71.7" stroke="#4a4a4a" stroke-width="0.9"/><line x1="711.7" y1="71.7" x2="708.2" y2="71.7" stroke="#4a4a4a" stroke-width="0.9"/><line x1="365.5" y1="13.3" x2="369" y2="13.3" stroke="#4a4a4a" stroke-width="0.9"/><line x1="711.7" y1="13.3" x2="708.2" y2="13.3" stroke="#4a4a4a" stroke-width="0.9"/><rect x="365.5" y="13.3" width="346.2" height="116.8" fill="none" stroke="#6a6a6a" stroke-width="1.15"/><g fill="none" stroke-width="2.0" stroke-linejoin="round" stroke-linecap="round"><path d="M533.2 130.1 533.2 13.3" stroke="#8fff70"/><path d="M543.0 130.1 543.0 13.3" stroke="#80ff80"/><path d="M523.3 130.1 523.3 13.3" stroke="#afff50"/><path d="M552.9 130.1 552.9 13.3" stroke="#60ff9f"/><path d="M513.3 130.1 513.3 13.3" stroke="#cfff30"/><path d="M562.9 130.1 562.9 13.3" stroke="#40ffbf"/><path d="M503.4 130.1 503.6 71.7 503.4 13.3" stroke="#efff10"/><path d="M572.8 130.1 572.6 71.7 572.8 13.3" stroke="#20ffdf"/><path d="M493.5 130.1 493.7 71.7 493.5 13.3" stroke="#ffef00"/><path d="M582.7 130.1 582.5 71.7 582.7 13.3" stroke="#00ffff"/><path d="M483.5 130.1 483.9 71.7 483.5 13.3" stroke="#ffdf00"/><path d="M592.7 130.1 592.3 71.7 592.7 13.3" stroke="#00efff"/><path d="M473.5 130.1 474.2 71.7 473.5 13.3" stroke="#ffbf00"/><path d="M602.7 130.1 602.0 71.7 602.7 13.3" stroke="#00cfff"/><path d="M463.4 130.1 464.5 71.7 463.4 13.3" stroke="#ff9f00"/><path d="M612.8 130.1 611.7 71.7 612.8 13.3" stroke="#00afff"/><path d="M453.1 130.1 453.4 115.3 454.8 84.5 455.0 71.7 454.8 58.9 453.4 28.1 453.1 13.3" stroke="#ff8000"/><path d="M623.1 130.1 622.8 115.3 621.4 84.5 621.2 71.7 621.4 58.9 622.8 28.1 623.1 13.3" stroke="#008fff"/><path d="M442.4 130.1 442.5 123.1 442.9 115.3 445.4 84.5 445.8 71.7 445.4 58.9 442.9 28.1 442.5 20.3 442.4 13.3" stroke="#ff7000"/><path d="M633.8 130.1 633.7 123.1 633.3 115.3 630.8 84.5 630.4 71.7 630.8 58.9 633.3 28.1 633.7 20.3 633.8 13.3" stroke="#0080ff"/><path d="M431.2 130.1 431.4 123.1 432.1 115.3 435.4 92.3 436.3 84.5 436.8 77.9 436.9 71.7 436.8 65.5 436.3 58.9 435.4 51.1 432.1 28.1 431.4 20.3 431.2 13.3" stroke="#ff5000"/><path d="M645.0 130.1 644.8 123.1 644.1 115.3 640.8 92.3 639.9 84.5 639.4 77.9 639.3 71.7 639.4 65.5 639.9 58.9 640.8 51.1 644.1 28.1 644.8 20.3 645.0 13.3" stroke="#0060ff"/><path d="M418.7 130.1 419.0 123.1 420.2 115.3 421.8 108.3 425.9 92.7 427.5 84.9 428.4 78.3 428.7 71.7 428.4 65.1 427.5 58.5 425.9 50.7 421.8 35.1 420.2 28.1 419.0 20.3 418.7 13.3" stroke="#ff3000"/><path d="M657.5 130.1 657.2 123.1 656.0 115.3 654.4 108.3 650.3 92.7 648.7 84.9 647.8 78.3 647.5 71.7 647.8 65.1 648.7 58.5 650.3 50.7 654.4 35.1 656.0 28.1 657.2 20.3 657.5 13.3" stroke="#0040ff"/><path d="M403.1 130.1 403.3 126.6 403.7 123.1 404.6 119.2 405.9 115.3 408.7 108.7 416.2 93.3 419.1 85.7 420.1 82.2 420.8 78.7 421.2 75.2 421.4 71.7 421.2 68.2 420.8 64.7 420.1 61.2 419.1 57.7 416.2 50.1 408.7 34.7 405.9 28.1 404.6 24.2 403.7 20.3 403.3 16.8 403.1 13.3" stroke="#ff1000"/><path d="M673.1 130.1 672.9 126.6 672.5 123.1 671.6 119.2 670.3 115.3 667.5 108.7 660.0 93.3 657.1 85.7 656.1 82.2 655.4 78.7 655.0 75.2 654.8 71.7 655.0 68.2 655.4 64.7 656.1 61.2 657.1 57.7 660.0 50.1 667.5 34.7 670.3 28.1 671.6 24.2 672.5 20.3 672.9 16.8 673.1 13.3" stroke="#0020ff"/><path d="M365.0 124.6 366.5 124.4 368.1 123.8 370.0 122.7 372.3 121.0 385.5 109.9 398.9 99.1 402.3 96.0 405.4 93.0 407.7 90.4 409.6 87.9 411.3 85.3 412.7 82.6 413.8 79.9 414.5 77.2 415.0 74.4 415.1 71.7 415.0 69.0 414.5 66.2 413.8 63.5 412.7 60.8 411.3 58.1 409.6 55.5 407.7 53.0 405.4 50.4 402.3 47.4 398.9 44.3 385.5 33.5 372.3 22.4 370.0 20.7 368.1 19.6 366.5 19.0 365.0 18.8" stroke="#ef0000"/><path d="M711.2 124.6 709.7 124.4 708.1 123.8 706.2 122.7 703.9 121.0 690.7 109.9 677.3 99.1 673.9 96.0 670.8 93.0 668.5 90.4 666.6 87.9 664.9 85.3 663.5 82.6 662.4 79.9 661.7 77.2 661.2 74.4 661.1 71.7 661.2 69.0 661.7 66.2 662.4 63.5 663.5 60.8 664.9 58.1 666.6 55.5 668.5 53.0 670.8 50.4 673.9 47.4 677.3 44.3 690.7 33.5 703.9 22.4 706.2 20.7 708.1 19.6 709.7 19.0 711.2 18.8" stroke="#0000ff"/><path d="M365.0 82.2 367.3 82.4 369.6 83.0 379.2 86.5 384.6 88.0 387.7 88.4 390.4 88.5 393.1 88.3 395.8 87.8 398.9 86.9 401.5 85.6 403.9 84.1 406.2 81.9 408.0 79.5 409.1 77.2 409.9 74.4 410.2 71.7 409.9 69.0 409.1 66.2 408.0 63.9 406.2 61.5 403.9 59.3 401.5 57.8 398.9 56.5 395.8 55.6 393.1 55.1 390.4 54.9 387.7 55.0 384.6 55.4 379.2 56.9 369.6 60.4 367.3 61.0 365.0 61.2" stroke="#df0000"/><path d="M711.2 82.2 708.9 82.4 706.6 83.0 697.0 86.5 691.6 88.0 688.5 88.4 685.8 88.5 683.1 88.3 680.4 87.8 677.3 86.9 674.7 85.6 672.3 84.1 670.0 81.9 668.2 79.5 667.1 77.2 666.3 74.4 666.0 71.7 666.3 69.0 667.1 66.2 668.2 63.9 670.0 61.5 672.3 59.3 674.7 57.8 677.3 56.5 680.4 55.6 683.1 55.1 685.8 54.9 688.5 55.0 691.6 55.4 697.0 56.9 706.6 60.4 708.9 61.0 711.2 61.2" stroke="#0000ef"/><path d="M399.6 63.1 398.1 62.9 396.2 62.9 394.2 63.4 392.7 64.0 391.2 65.1 390.0 66.2 389.0 67.8 388.4 69.4 388.0 71.3 388.1 72.9 388.5 74.4 389.2 76.0 390.4 77.5 391.5 78.6 393.1 79.6 394.6 80.2 396.5 80.5 398.5 80.5 400.4 80.0 401.9 79.4 403.5 78.3 404.6 77.1 405.6 75.6 406.2 74.0 406.5 72.5 406.4 70.5 406.1 69.0 405.4 67.4 404.2 65.9 403.1 64.8 401.5 63.8 399.6 63.1" stroke="#bf0000"/><path d="M681.2 63.1 682.7 63.7 684.5 64.7 685.8 65.9 687.0 67.4 687.7 69.0 688.1 70.5 688.2 72.1 687.8 74.0 687.2 75.6 686.2 77.2 685.0 78.3 683.3 79.5 681.6 80.2 679.7 80.5 677.7 80.5 676.2 80.2 674.7 79.6 673.1 78.6 672.0 77.5 670.8 76.0 670.1 74.4 669.8 72.9 669.7 70.9 670.0 69.4 670.6 67.8 671.6 66.3 672.7 65.1 674.3 64.0 675.8 63.4 677.7 62.9 679.7 62.9 681.2 63.1" stroke="#0000cf"/><path d="M400.8 67.0 398.9 66.7 396.9 67.1 395.3 68.2 394.2 69.8 393.8 71.7 394.2 73.6 395.3 75.2 396.9 76.3 398.9 76.7 400.8 76.4 402.3 75.4 403.6 73.6 404.0 71.7 403.6 69.8 402.3 68.0 400.8 67.0" stroke="#9f0000"/><path d="M679.2 67.0 680.8 68.1 682.0 69.8 682.4 71.7 682.0 73.6 680.9 75.2 679.3 76.3 677.3 76.7 675.4 76.4 673.9 75.4 672.6 73.6 672.2 71.7 672.6 69.8 673.9 68.0 675.4 67.0 677.3 66.7 679.2 67.0" stroke="#0000af"/><path d="M400.4 69.0 399.2 68.8 398.1 69.1 397.2 69.8 396.7 70.5 396.5 71.7 396.7 72.9 397.3 73.7 398.5 74.5 399.6 74.6 400.8 74.3 401.5 73.6 402.2 72.5 402.3 71.3 402.0 70.5 401.5 69.8 400.4 69.0" stroke="#800000"/><path d="M677.8 69.0 678.9 69.7 679.5 70.5 679.7 71.7 679.5 72.9 679.0 73.6 678.1 74.3 677.0 74.6 675.8 74.4 674.7 73.6 674.2 72.9 673.9 71.7 674.2 70.5 674.7 69.8 675.8 69.0 677.0 68.8 677.8 69.0" stroke="#00008f"/><path d="M400.0 70.1 398.9 70.2 398.3 70.5 397.9 71.3 398.1 72.5 398.5 73.0 399.2 73.4 400.4 73.2 400.8 72.8 401.2 72.1 401.0 70.9 400.8 70.5 400.0 70.1" stroke="#800000"/><path d="M677.3 70.1 678.2 70.9 678.3 72.1 677.9 72.9 677.3 73.2 676.2 73.3 675.4 72.9 675.2 72.5 675.0 71.3 675.4 70.6 675.8 70.2 676.6 70.0 677.3 70.1" stroke="#00008f"/><path d="M400.0 70.8 399.2 70.8 398.7 71.3 398.7 72.1 399.2 72.6 400.0 72.6 400.5 72.1 400.5 71.3 400.0 70.8" stroke="#800000"/><path d="M677.2 70.9 677.5 71.3 677.5 72.1 677.0 72.6 676.2 72.6 675.7 72.1 675.7 71.3 676.2 70.8 676.6 70.7 677.2 70.9" stroke="#00008f"/></g><text transform="translate(365.5 146) scale(1 1.08)" font-size="10.5" text-anchor="middle" fill="#262626" font-family="Liberation Sans">0</text><text transform="translate(423.2 146) scale(1 1.08)" font-size="10.5" text-anchor="middle" fill="#262626" font-family="Liberation Sans">0.5</text><text transform="translate(480.9 146) scale(1 1.08)" font-size="10.5" text-anchor="middle" fill="#262626" font-family="Liberation Sans">1</text><text transform="translate(538.6 146) scale(1 1.08)" font-size="10.5" text-anchor="middle" fill="#262626" font-family="Liberation Sans">1.5</text><text transform="translate(596.3 146) scale(1 1.08)" font-size="10.5" text-anchor="middle" fill="#262626" font-family="Liberation Sans">2</text><text transform="translate(654 146) scale(1 1.08)" font-size="10.5" text-anchor="middle" fill="#262626" font-family="Liberation Sans">2.5</text><text transform="translate(711.7 146) scale(1 1.08)" font-size="10.5" text-anchor="middle" fill="#262626" font-family="Liberation Sans">3</text><text transform="translate(360.5 133.9) scale(1 1.08)" font-size="10.5" text-anchor="end" fill="#262626" font-family="Liberation Sans">0</text><text transform="translate(360.5 75.5) scale(1 1.08)" font-size="10.5" text-anchor="end" fill="#262626" font-family="Liberation Sans">0.5</text><text transform="translate(360.5 17.1) scale(1 1.08)" font-size="10.5" text-anchor="end" fill="#262626" font-family="Liberation Sans">1</text><text transform="translate(538.5 163) scale(1 1.08)" font-size="11.5" text-anchor="middle" fill="#262626" font-family="Liberation Sans">x [cm]</text><text transform="translate(340.9 72.2) rotate(-90)" font-size="12.3" text-anchor="middle" fill="#262626" font-family="Liberation Sans">y [cm]</text><line x1="365.3" y1="310" x2="365.3" y2="306.5" stroke="#4a4a4a" stroke-width="0.9"/><line x1="365.3" y1="184.2" x2="365.3" y2="187.7" stroke="#4a4a4a" stroke-width="0.9"/><line x1="423" y1="310" x2="423" y2="306.5" stroke="#4a4a4a" stroke-width="0.9"/><line x1="423" y1="184.2" x2="423" y2="187.7" stroke="#4a4a4a" stroke-width="0.9"/><line x1="480.7" y1="310" x2="480.7" y2="306.5" stroke="#4a4a4a" stroke-width="0.9"/><line x1="480.7" y1="184.2" x2="480.7" y2="187.7" stroke="#4a4a4a" stroke-width="0.9"/><line x1="538.4" y1="310" x2="538.4" y2="306.5" stroke="#4a4a4a" stroke-width="0.9"/><line x1="538.4" y1="184.2" x2="538.4" y2="187.7" stroke="#4a4a4a" stroke-width="0.9"/><line x1="596.1" y1="310" x2="596.1" y2="306.5" stroke="#4a4a4a" stroke-width="0.9"/><line x1="596.1" y1="184.2" x2="596.1" y2="187.7" stroke="#4a4a4a" stroke-width="0.9"/><line x1="653.8" y1="310" x2="653.8" y2="306.5" stroke="#4a4a4a" stroke-width="0.9"/><line x1="653.8" y1="184.2" x2="653.8" y2="187.7" stroke="#4a4a4a" stroke-width="0.9"/><line x1="711.5" y1="310" x2="711.5" y2="306.5" stroke="#4a4a4a" stroke-width="0.9"/><line x1="711.5" y1="184.2" x2="711.5" y2="187.7" stroke="#4a4a4a" stroke-width="0.9"/><line x1="365.3" y1="310" x2="368.8" y2="310" stroke="#4a4a4a" stroke-width="0.9"/><line x1="711.5" y1="310" x2="708" y2="310" stroke="#4a4a4a" stroke-width="0.9"/><line x1="365.3" y1="247.1" x2="368.8" y2="247.1" stroke="#4a4a4a" stroke-width="0.9"/><line x1="711.5" y1="247.1" x2="708" y2="247.1" stroke="#4a4a4a" stroke-width="0.9"/><line x1="365.3" y1="184.2" x2="368.8" y2="184.2" stroke="#4a4a4a" stroke-width="0.9"/><line x1="711.5" y1="184.2" x2="708" y2="184.2" stroke="#4a4a4a" stroke-width="0.9"/><rect x="365.3" y="184.2" width="346.2" height="125.8" fill="none" stroke="#6a6a6a" stroke-width="1.15"/><path stroke="#2580c5" stroke-width="1.05" fill="none" d="M371.0 310.0L371.3 310.0M371.2 310.0L371.3 310.0 371.2 310.0M376.7 310.0L377.4 310.0M377.2 310.1L377.4 310.0 377.2 309.9M382.5 310.0L383.5 310.0M383.2 310.1L383.5 310.0 383.2 309.9M388.3 310.0L389.6 310.0M389.1 310.1L389.6 310.0 389.1 309.9M394.1 310.0L395.6 310.0M395.1 310.1L395.6 310.0 395.1 309.9M399.8 310.0L401.7 310.0M401.1 310.2L401.7 310.0 401.1 309.8M405.6 310.0L407.8 310.0M407.1 310.2L407.8 310.0 407.1 309.8M411.4 310.0L413.8 310.0M413.0 310.2L413.8 310.0 413.0 309.8M417.1 310.0L419.8 310.0M419.0 310.2L419.8 310.0 419.0 309.8M422.9 310.0L425.8 310.0M424.9 310.2L425.8 310.0 424.9 309.8M428.7 310.0L431.8 310.0M430.7 310.3L431.8 310.0 430.7 309.7M434.4 310.0L437.7 310.0M436.6 310.3L437.7 310.0 436.6 309.7M440.2 310.0L443.6 310.0M442.5 310.3L443.6 310.0 442.5 309.7M446.0 310.0L449.4 310.0M448.3 310.3L449.4 310.0 448.3 309.7M451.8 310.0L455.3 310.0M454.1 310.3L455.3 310.0 454.1 309.7M457.5 310.0L461.1 310.0M459.9 310.3L461.1 310.0 459.9 309.7M463.3 310.0L466.9 310.0M465.7 310.3L466.9 310.0 465.7 309.7M469.1 310.0L472.7 310.0M471.5 310.3L472.7 310.0 471.5 309.7M474.8 310.0L478.5 310.0M477.3 310.3L478.5 310.0 477.3 309.7M480.6 310.0L484.3 310.0M483.0 310.3L484.3 310.0 483.0 309.7M486.4 310.0L490.0 310.0M488.8 310.3L490.0 310.0 488.8 309.7M492.1 310.0L495.8 310.0M494.6 310.3L495.8 310.0 494.6 309.7M497.9 310.0L501.6 310.0M500.4 310.3L501.6 310.0 500.4 309.7M503.7 310.0L507.4 310.0M506.1 310.3L507.4 310.0 506.1 309.7M509.4 310.0L513.1 310.0M511.9 310.3L513.1 310.0 511.9 309.7M515.2 310.0L518.9 310.0M517.7 310.3L518.9 310.0 517.7 309.7M521.0 310.0L524.7 310.0M523.5 310.3L524.7 310.0 523.5 309.7M526.8 310.0L530.5 310.0M529.2 310.3L530.5 310.0 529.2 309.7M532.5 310.0L536.2 310.0M535.0 310.3L536.2 310.0 535.0 309.7M538.3 310.0L542.0 310.0M540.8 310.3L542.0 310.0 540.8 309.7M544.1 310.0L547.8 310.0M546.5 310.3L547.8 310.0 546.5 309.7M549.8 310.0L553.5 310.0M552.3 310.3L553.5 310.0 552.3 309.7M555.6 310.0L559.3 310.0M558.1 310.3L559.3 310.0 558.1 309.7M561.4 310.0L565.1 310.0M563.9 310.3L565.1 310.0 563.9 309.7M567.1 310.0L570.8 310.0M569.6 310.3L570.8 310.0 569.6 309.7M572.9 310.0L576.6 310.0M575.4 310.3L576.6 310.0 575.4 309.7M578.7 310.0L582.4 310.0M581.2 310.3L582.4 310.0 581.2 309.7M584.5 310.0L588.1 310.0M586.9 310.3L588.1 310.0 586.9 309.7M590.2 310.0L593.9 310.0M592.7 310.3L593.9 310.0 592.7 309.7M596.0 310.0L599.7 310.0M598.4 310.3L599.7 310.0 598.4 309.7M601.8 310.0L605.4 310.0M604.2 310.3L605.4 310.0 604.2 309.7M607.5 310.0L611.2 310.0M610.0 310.3L611.2 310.0 610.0 309.7M613.3 310.0L616.9 310.0M615.7 310.3L616.9 310.0 615.7 309.7M619.1 310.0L622.6 310.0M621.5 310.3L622.6 310.0 621.5 309.7M624.8 310.0L628.4 310.0M627.2 310.3L628.4 310.0 627.2 309.7M630.6 310.0L634.1 310.0M632.9 310.3L634.1 310.0 632.9 309.7M636.4 310.0L639.7 310.0M638.6 310.3L639.7 310.0 638.6 309.7M642.2 310.0L645.4 310.0M644.3 310.3L645.4 310.0 644.3 309.7M647.9 310.0L651.0 310.0M650.0 310.3L651.0 310.0 650.0 309.7M653.7 310.0L656.6 310.0M655.7 310.2L656.6 310.0 655.7 309.8M659.5 310.0L662.2 310.0M661.3 310.2L662.2 310.0 661.3 309.8M665.2 310.0L667.7 310.0M666.9 310.2L667.7 310.0 666.9 309.8M671.0 310.0L673.2 310.0M672.5 310.2L673.2 310.0 672.5 309.8M676.8 310.0L678.7 310.0M678.1 310.2L678.7 310.0 678.1 309.8M682.5 310.0L684.1 310.0M683.6 310.1L684.1 310.0 683.6 309.9M688.3 310.0L689.6 310.0M689.2 310.1L689.6 310.0 689.2 309.9M694.1 310.0L695.1 310.0M694.7 310.1L695.1 310.0 694.7 309.9M699.9 310.0L700.5 310.0M700.3 310.1L700.5 310.0 700.3 309.9M705.6 310.0L706.0 310.0M705.9 310.0L706.0 310.0 705.9 310.0M371.0 303.7L371.3 304.0M371.2 304.0L371.3 304.0 371.2 303.9M376.7 303.7L377.4 304.0M377.1 304.0L377.4 304.0 377.2 303.9M382.5 303.7L383.5 304.1M383.1 304.0L383.5 304.1 383.2 303.9M388.3 303.7L389.5 304.1M389.1 304.0L389.5 304.1 389.2 303.8M394.1 303.7L395.6 304.1M395.1 304.1L395.6 304.1 395.1 303.8M399.8 303.7L401.7 304.1M401.1 304.1L401.7 304.1 401.1 303.8M405.6 303.7L407.8 304.0M407.0 304.1L407.8 304.0 407.1 303.7M411.4 303.7L413.8 304.0M413.0 304.1L413.8 304.0 413.0 303.7M417.1 303.7L419.9 304.0M418.9 304.1L419.9 304.0 419.0 303.7M422.9 303.7L425.8 303.9M424.9 304.1L425.8 303.9 424.9 303.6M428.7 303.7L431.8 303.9M430.7 304.1L431.8 303.9 430.8 303.6M434.4 303.7L437.7 303.8M436.6 304.1L437.7 303.8 436.6 303.5M440.2 303.7L443.6 303.8M442.5 304.1L443.6 303.8 442.5 303.5M446.0 303.7L449.4 303.8M448.3 304.0L449.4 303.8 448.3 303.5M451.8 303.7L455.3 303.8M454.1 304.0L455.3 303.8 454.1 303.5M457.5 303.7L461.1 303.8M459.9 304.0L461.1 303.8 459.9 303.4M463.3 303.7L466.9 303.7M465.7 304.0L466.9 303.7 465.7 303.4M469.1 303.7L472.7 303.7M471.5 304.0L472.7 303.7 471.5 303.4M474.8 303.7L478.5 303.7M477.3 304.0L478.5 303.7 477.3 303.4M480.6 303.7L484.3 303.7M483.0 304.0L484.3 303.7 483.1 303.4M486.4 303.7L490.0 303.7M488.8 304.0L490.0 303.7 488.8 303.4M492.1 303.7L495.8 303.7M494.6 304.0L495.8 303.7 494.6 303.4M497.9 303.7L501.6 303.7M500.4 304.0L501.6 303.7 500.4 303.4M503.7 303.7L507.4 303.7M506.1 304.0L507.4 303.7 506.1 303.4M509.4 303.7L513.1 303.7M511.9 304.0L513.1 303.7 511.9 303.4M515.2 303.7L518.9 303.7M517.7 304.0L518.9 303.7 517.7 303.4M521.0 303.7L524.7 303.7M523.5 304.0L524.7 303.7 523.5 303.4M526.8 303.7L530.5 303.7M529.2 304.0L530.5 303.7 529.2 303.4M532.5 303.7L536.2 303.7M535.0 304.0L536.2 303.7 535.0 303.4M538.3 303.7L542.0 303.7M540.8 304.0L542.0 303.7 540.8 303.4M544.1 303.7L547.8 303.7M546.5 304.0L547.8 303.7 546.5 303.4M549.8 303.7L553.5 303.7M552.3 304.0L553.5 303.7 552.3 303.4M555.6 303.7L559.3 303.7M558.1 304.0L559.3 303.7 558.1 303.4M561.4 303.7L565.1 303.7M563.9 304.0L565.1 303.7 563.9 303.4M567.1 303.7L570.8 303.7M569.6 304.0L570.8 303.7 569.6 303.4M572.9 303.7L576.6 303.7M575.4 304.0L576.6 303.7 575.4 303.4M578.7 303.7L582.4 303.7M581.2 304.0L582.4 303.7 581.2 303.4M584.5 303.7L588.1 303.7M586.9 304.0L588.1 303.7 586.9 303.4M590.2 303.7L593.9 303.7M592.7 304.0L593.9 303.7 592.7 303.4M596.0 303.7L599.7 303.7M598.5 304.0L599.7 303.7 598.4 303.4M601.8 303.7L605.4 303.7M604.2 304.0L605.4 303.7 604.2 303.4M607.5 303.7L611.2 303.7M610.0 304.0L611.2 303.7 610.0 303.4M613.3 303.7L616.9 303.7M615.7 304.0L616.9 303.7 615.7 303.4M619.1 303.7L622.6 303.7M621.5 304.0L622.6 303.7 621.5 303.4M624.8 303.7L628.4 303.6M627.2 304.0L628.4 303.6 627.2 303.4M630.6 303.7L634.1 303.6M632.9 303.9L634.1 303.6 632.9 303.4M636.4 303.7L639.8 303.6M638.7 303.9L639.8 303.6 638.6 303.4M642.2 303.7L645.4 303.6M644.4 303.9L645.4 303.6 644.3 303.3M647.9 303.7L651.0 303.5M650.0 303.9L651.0 303.5 650.0 303.3M653.7 303.7L656.6 303.5M655.7 303.8L656.6 303.5 655.7 303.3M659.5 303.7L662.2 303.5M661.3 303.8L662.2 303.5 661.3 303.3M665.2 303.7L667.7 303.4M666.9 303.7L667.7 303.4 666.9 303.3M671.0 303.7L673.2 303.4M672.5 303.7L673.2 303.4 672.5 303.3M676.8 303.7L678.7 303.4M678.1 303.6L678.7 303.4 678.0 303.3M682.5 303.7L684.1 303.4M683.6 303.6L684.1 303.4 683.6 303.3M688.3 303.7L689.6 303.4M689.2 303.6L689.6 303.4 689.1 303.4M694.1 303.7L695.0 303.4M694.8 303.6L695.0 303.4 694.7 303.4M699.9 303.7L700.5 303.4M700.3 303.5L700.5 303.4 700.3 303.4M705.6 303.7L706.0 303.4M705.9 303.5L706.0 303.4 705.8 303.5M371.0 297.4L371.3 298.1M371.1 297.9L371.3 298.1 371.2 297.8M376.7 297.4L377.3 298.1M377.1 297.9L377.3 298.1 377.2 297.8M382.5 297.4L383.4 298.1M383.1 297.9L383.4 298.1 383.2 297.8M388.3 297.4L389.5 298.1M389.0 298.0L389.5 298.1 389.2 297.8M394.1 297.4L395.6 298.1M395.0 298.0L395.6 298.1 395.2 297.8M399.8 297.4L401.7 298.1M401.0 298.0L401.7 298.1 401.2 297.7M405.6 297.4L407.8 298.1M407.0 298.0L407.8 298.1 407.1 297.7M411.4 297.4L413.9 298.0M413.0 298.0L413.9 298.0 413.1 297.6M417.1 297.4L419.9 297.9M419.0 298.0L419.9 297.9 419.0 297.5M422.9 297.4L425.9 297.8M424.9 298.0L425.9 297.8 424.9 297.5M428.7 297.4L431.8 297.8M430.8 297.9L431.8 297.8 430.8 297.4M434.4 297.4L437.7 297.7M436.6 297.9L437.7 297.7 436.7 297.3M440.2 297.4L443.6 297.6M442.5 297.8L443.6 297.6 442.5 297.3M446.0 297.4L449.5 297.6M448.3 297.8L449.5 297.6 448.3 297.2M451.8 297.4L455.3 297.5M454.1 297.8L455.3 297.5 454.1 297.2M457.5 297.4L461.1 297.5M459.9 297.8L461.1 297.5 459.9 297.2M463.3 297.4L466.9 297.5M465.7 297.8L466.9 297.5 465.7 297.2M469.1 297.4L472.7 297.5M471.5 297.8L472.7 297.5 471.5 297.2M474.8 297.4L478.5 297.5M477.3 297.7L478.5 297.5 477.3 297.1M480.6 297.4L484.3 297.4M483.1 297.7L484.3 297.4 483.1 297.1M486.4 297.4L490.0 297.4M488.8 297.7L490.0 297.4 488.8 297.1M492.1 297.4L495.8 297.4M494.6 297.7L495.8 297.4 494.6 297.1M497.9 297.4L501.6 297.4M500.4 297.7L501.6 297.4 500.4 297.1M503.7 297.4L507.4 297.4M506.1 297.7L507.4 297.4 506.2 297.1M509.4 297.4L513.1 297.4M511.9 297.7L513.1 297.4 511.9 297.1M515.2 297.4L518.9 297.4M517.7 297.7L518.9 297.4 517.7 297.1M521.0 297.4L524.7 297.4M523.5 297.7L524.7 297.4 523.5 297.1M526.8 297.4L530.5 297.4M529.2 297.7L530.5 297.4 529.2 297.1M532.5 297.4L536.2 297.4M535.0 297.7L536.2 297.4 535.0 297.1M538.3 297.4L542.0 297.4M540.8 297.7L542.0 297.4 540.8 297.1M544.1 297.4L547.8 297.4M546.5 297.7L547.8 297.4 546.5 297.1M549.8 297.4L553.5 297.4M552.3 297.7L553.5 297.4 552.3 297.1M555.6 297.4L559.3 297.4M558.1 297.7L559.3 297.4 558.1 297.1M561.4 297.4L565.1 297.4M563.9 297.7L565.1 297.4 563.9 297.1M567.1 297.4L570.8 297.4M569.6 297.7L570.8 297.4 569.6 297.1M572.9 297.4L576.6 297.4M575.4 297.7L576.6 297.4 575.4 297.1M578.7 297.4L582.4 297.4M581.2 297.7L582.4 297.4 581.2 297.1M584.5 297.4L588.1 297.4M586.9 297.7L588.1 297.4 586.9 297.1M590.2 297.4L593.9 297.4M592.7 297.7L593.9 297.4 592.7 297.1M596.0 297.4L599.7 297.4M598.5 297.7L599.7 297.4 598.5 297.1M601.8 297.4L605.4 297.4M604.2 297.7L605.4 297.4 604.2 297.1M607.5 297.4L611.2 297.4M610.0 297.7L611.2 297.4 610.0 297.1M613.3 297.4L616.9 297.4M615.7 297.7L616.9 297.4 615.7 297.1M619.1 297.4L622.7 297.3M621.5 297.7L622.7 297.3 621.5 297.1M624.8 297.4L628.4 297.3M627.2 297.6L628.4 297.3 627.2 297.0M630.6 297.4L634.1 297.3M633.0 297.6L634.1 297.3 632.9 297.0M636.4 297.4L639.8 297.2M638.7 297.6L639.8 297.2 638.7 297.0M642.2 297.4L645.5 297.1M644.4 297.5L645.5 297.1 644.3 297.0M647.9 297.4L651.1 297.1M650.1 297.5L651.1 297.1 650.0 296.9M653.7 297.4L656.7 297.0M655.7 297.4L656.7 297.0 655.7 296.9M659.5 297.4L662.3 296.9M661.4 297.3L662.3 296.9 661.3 296.8M665.2 297.4L667.8 296.8M667.0 297.2L667.8 296.8 666.9 296.8M671.0 297.4L673.2 296.8M672.6 297.2L673.2 296.8 672.4 296.8M676.8 297.4L678.7 296.7M678.1 297.1L678.7 296.7 678.0 296.8M682.5 297.4L684.1 296.7M683.7 297.1L684.1 296.7 683.5 296.8M688.3 297.4L689.6 296.7M689.2 297.1L689.6 296.7 689.1 296.9M694.1 297.4L695.0 296.7M694.8 297.0L695.0 296.7 694.6 296.9M699.9 297.4L700.5 296.8M700.3 297.0L700.5 296.8 700.2 296.9M705.6 297.4L705.9 296.8M705.9 297.0L705.9 296.8 705.8 297.0M371.0 291.1L371.2 292.0M371.1 291.8L371.2 292.0 371.2 291.7M376.7 291.1L377.3 292.1M377.0 291.8L377.3 292.1 377.2 291.7M382.5 291.1L383.3 292.1M383.0 291.9L383.3 292.1 383.2 291.7M388.3 291.1L389.4 292.2M389.0 291.9L389.4 292.2 389.1 291.7M394.1 291.1L395.6 292.2M395.0 292.0L395.6 292.2 395.2 291.7M399.8 291.1L401.7 292.2M401.0 292.0L401.7 292.2 401.2 291.7M405.6 291.1L407.9 292.1M407.0 292.0L407.9 292.1 407.2 291.6M411.4 291.1L414.0 292.0M413.0 291.9L414.0 292.0 413.2 291.5M417.1 291.1L420.0 291.9M419.0 291.9L420.0 291.9 419.1 291.4M422.9 291.1L426.0 291.8M424.9 291.8L426.0 291.8 425.0 291.3M428.7 291.1L431.9 291.6M430.8 291.7L431.9 291.6 430.9 291.2M434.4 291.1L437.8 291.5M436.7 291.7L437.8 291.5 436.7 291.1M440.2 291.1L443.7 291.4M442.5 291.6L443.7 291.4 442.6 291.0M446.0 291.1L449.5 291.4M448.3 291.6L449.5 291.4 448.4 291.0M451.8 291.1L455.3 291.3M454.1 291.5L455.3 291.3 454.2 290.9M457.5 291.1L461.1 291.3M459.9 291.5L461.1 291.3 459.9 290.9M463.3 291.1L466.9 291.2M465.7 291.5L466.9 291.2 465.7 290.9M469.1 291.1L472.7 291.2M471.5 291.5L472.7 291.2 471.5 290.9M474.8 291.1L478.5 291.2M477.3 291.5L478.5 291.2 477.3 290.9M480.6 291.1L484.3 291.2M483.1 291.5L484.3 291.2 483.1 290.9M486.4 291.1L490.0 291.2M488.8 291.5L490.0 291.2 488.8 290.8M492.1 291.1L495.8 291.1M494.6 291.4L495.8 291.1 494.6 290.8M497.9 291.1L501.6 291.1M500.4 291.4L501.6 291.1 500.4 290.8M503.7 291.1L507.4 291.1M506.2 291.4L507.4 291.1 506.2 290.8M509.4 291.1L513.1 291.1M511.9 291.4L513.1 291.1 511.9 290.8M515.2 291.1L518.9 291.1M517.7 291.4L518.9 291.1 517.7 290.8M521.0 291.1L524.7 291.1M523.5 291.4L524.7 291.1 523.5 290.8M526.8 291.1L530.5 291.1M529.2 291.4L530.5 291.1 529.2 290.8M532.5 291.1L536.2 291.1M535.0 291.4L536.2 291.1 535.0 290.8M538.3 291.1L542.0 291.1M540.8 291.4L542.0 291.1 540.8 290.8M544.1 291.1L547.8 291.1M546.5 291.4L547.8 291.1 546.5 290.8M549.8 291.1L553.5 291.1M552.3 291.4L553.5 291.1 552.3 290.8M555.6 291.1L559.3 291.1M558.1 291.4L559.3 291.1 558.1 290.8M561.4 291.1L565.1 291.1M563.9 291.4L565.1 291.1 563.9 290.8M567.1 291.1L570.8 291.1M569.6 291.4L570.8 291.1 569.6 290.8M572.9 291.1L576.6 291.1M575.4 291.4L576.6 291.1 575.4 290.8M578.7 291.1L582.4 291.1M581.2 291.4L582.4 291.1 581.2 290.8M584.5 291.1L588.1 291.1M586.9 291.4L588.1 291.1 586.9 290.8M590.2 291.1L593.9 291.1M592.7 291.4L593.9 291.1 592.7 290.8M596.0 291.1L599.7 291.1M598.5 291.4L599.7 291.1 598.5 290.8M601.8 291.1L605.4 291.1M604.2 291.4L605.4 291.1 604.2 290.8M607.5 291.1L611.2 291.1M610.0 291.4L611.2 291.1 610.0 290.8M613.3 291.1L616.9 291.0M615.8 291.4L616.9 291.0 615.7 290.8M619.1 291.1L622.7 291.0M621.5 291.3L622.7 291.0 621.5 290.7M624.8 291.1L628.4 291.0M627.3 291.3L628.4 291.0 627.2 290.7M630.6 291.1L634.1 290.9M633.0 291.3L634.1 290.9 633.0 290.7M636.4 291.1L639.9 290.8M638.7 291.2L639.9 290.8 638.7 290.6M642.2 291.1L645.5 290.7M644.5 291.1L645.5 290.7 644.4 290.6M647.9 291.1L651.2 290.6M650.2 291.1L651.2 290.6 650.1 290.5M653.7 291.1L656.8 290.5M655.8 291.0L656.8 290.5 655.7 290.5M659.5 291.1L662.3 290.4M661.5 290.9L662.3 290.4 661.3 290.4M665.2 291.1L667.8 290.2M667.1 290.7L667.8 290.2 666.9 290.3M671.0 291.1L673.3 290.1M672.6 290.6L673.3 290.1 672.4 290.3M676.8 291.1L678.7 290.1M678.1 290.6L678.7 290.1 678.0 290.3M682.5 291.1L684.1 290.0M683.7 290.5L684.1 290.0 683.5 290.3M688.3 291.1L689.5 290.1M689.2 290.5L689.5 290.1 689.0 290.3M694.1 291.1L694.9 290.1M694.7 290.5L694.9 290.1 694.6 290.4M699.9 291.1L700.4 290.2M700.3 290.5L700.4 290.2 700.1 290.5M705.6 291.1L705.9 290.2M705.9 290.5L705.9 290.2 705.7 290.5M371.0 284.8L371.2 286.0M371.0 285.6L371.2 286.0 371.2 285.6M376.7 284.8L377.2 286.0M376.9 285.7L377.2 286.0 377.1 285.6M382.5 284.8L383.2 286.1M382.9 285.8L383.2 286.1 383.1 285.7M388.3 284.8L389.3 286.3M388.9 285.9L389.3 286.3 389.1 285.7M394.1 284.8L395.5 286.3M394.9 286.0L395.5 286.3 395.2 285.7M399.8 284.8L401.7 286.3M401.0 286.0L401.7 286.3 401.2 285.7M405.6 284.8L407.9 286.2M407.0 286.0L407.9 286.2 407.3 285.6M411.4 284.8L414.1 286.1M413.1 285.9L414.1 286.1 413.3 285.4M417.1 284.8L420.1 285.9M419.1 285.8L420.1 285.9 419.2 285.3M422.9 284.8L426.1 285.7M425.0 285.7L426.1 285.7 425.1 285.1M428.7 284.8L432.0 285.5M430.9 285.6L432.0 285.5 431.0 285.0M434.4 284.8L437.9 285.3M436.7 285.5L437.9 285.3 436.8 284.9M440.2 284.8L443.8 285.2M442.6 285.4L443.8 285.2 442.6 284.8M446.0 284.8L449.6 285.1M448.4 285.3L449.6 285.1 448.4 284.7M451.8 284.8L455.4 285.0M454.2 285.3L455.4 285.0 454.2 284.7M457.5 284.8L461.2 285.0M460.0 285.2L461.2 285.0 460.0 284.6M463.3 284.8L467.0 285.0M465.7 285.2L467.0 285.0 465.8 284.6M469.1 284.8L472.7 284.9M471.5 285.2L472.7 284.9 471.5 284.6M474.8 284.8L478.5 284.9M477.3 285.2L478.5 284.9 477.3 284.6M480.6 284.8L484.3 284.9M483.1 285.2L484.3 284.9 483.1 284.6M486.4 284.8L490.1 284.9M488.8 285.2L490.1 284.9 488.8 284.6M492.1 284.8L495.8 284.9M494.6 285.2L495.8 284.9 494.6 284.6M497.9 284.8L501.6 284.9M500.4 285.2L501.6 284.9 500.4 284.5M503.7 284.8L507.4 284.9M506.2 285.2L507.4 284.9 506.2 284.5M509.4 284.8L513.1 284.8M511.9 285.2L513.1 284.8 511.9 284.5M515.2 284.8L518.9 284.8M517.7 285.1L518.9 284.8 517.7 284.5M521.0 284.8L524.7 284.8M523.5 285.1L524.7 284.8 523.5 284.5M526.8 284.8L530.5 284.8M529.2 285.1L530.5 284.8 529.2 284.5M532.5 284.8L536.2 284.8M535.0 285.1L536.2 284.8 535.0 284.5M538.3 284.8L542.0 284.8M540.8 285.1L542.0 284.8 540.8 284.5M544.1 284.8L547.8 284.8M546.5 285.1L547.8 284.8 546.5 284.5M549.8 284.8L553.5 284.8M552.3 285.1L553.5 284.8 552.3 284.5M555.6 284.8L559.3 284.8M558.1 285.1L559.3 284.8 558.1 284.5M561.4 284.8L565.1 284.8M563.9 285.1L565.1 284.8 563.9 284.5M567.1 284.8L570.8 284.8M569.6 285.1L570.8 284.8 569.6 284.5M572.9 284.8L576.6 284.8M575.4 285.1L576.6 284.8 575.4 284.5M578.7 284.8L582.4 284.8M581.2 285.1L582.4 284.8 581.2 284.5M584.5 284.8L588.1 284.8M586.9 285.1L588.1 284.8 586.9 284.5M590.2 284.8L593.9 284.8M592.7 285.1L593.9 284.8 592.7 284.5M596.0 284.8L599.7 284.8M598.5 285.1L599.7 284.8 598.5 284.5M601.8 284.8L605.4 284.8M604.2 285.1L605.4 284.8 604.2 284.5M607.5 284.8L611.2 284.8M610.0 285.1L611.2 284.8 610.0 284.5M613.3 284.8L617.0 284.7M615.8 285.1L617.0 284.7 615.8 284.5M619.1 284.8L622.7 284.7M621.5 285.0L622.7 284.7 621.5 284.4M624.8 284.8L628.5 284.6M627.3 285.0L628.5 284.6 627.3 284.4M630.6 284.8L634.2 284.6M633.1 285.0L634.2 284.6 633.0 284.4M636.4 284.8L639.9 284.5M638.8 284.9L639.9 284.5 638.7 284.3M642.2 284.8L645.6 284.3M644.5 284.8L645.6 284.3 644.5 284.2M647.9 284.8L651.3 284.2M650.2 284.7L651.3 284.2 650.1 284.1M653.7 284.8L656.9 284.0M655.9 284.6L656.9 284.0 655.8 284.0M659.5 284.8L662.5 283.8M661.6 284.4L662.5 283.8 661.4 283.9M665.2 284.8L668.0 283.6M667.2 284.2L668.0 283.6 667.0 283.8M671.0 284.8L673.4 283.4M672.7 284.1L673.4 283.4 672.5 283.7M676.8 284.8L678.7 283.3M678.2 284.0L678.7 283.3 677.9 283.7M682.5 284.8L684.0 283.3M683.7 284.0L684.0 283.3 683.4 283.7M688.3 284.8L689.4 283.4M689.1 284.0L689.4 283.4 688.9 283.8M694.1 284.8L694.8 283.5M694.7 284.0L694.8 283.5 694.5 283.9M699.9 284.8L700.3 283.6M700.3 284.1L700.3 283.6 700.1 284.0M705.6 284.8L705.8 283.7M705.9 284.1L705.8 283.7 705.7 284.1M371.0 278.6L371.1 279.8M370.9 279.4L371.1 279.8 371.2 279.4M376.7 278.6L377.0 280.0M376.8 279.5L377.0 280.0 377.0 279.5M382.5 278.6L383.0 280.2M382.7 279.7L383.0 280.2 383.0 279.6M388.3 278.6L389.1 280.4M388.7 279.8L389.1 280.4 389.0 279.7M394.1 278.6L395.4 280.5M394.8 280.0L395.4 280.5 395.1 279.8M399.8 278.6L401.7 280.5M400.9 280.0L401.7 280.5 401.3 279.7M405.6 278.6L408.0 280.4M407.1 280.0L408.0 280.4 407.4 279.6M411.4 278.6L414.3 280.1M413.2 279.9L414.3 280.1 413.4 279.4M417.1 278.6L420.4 279.8M419.2 279.7L420.4 279.8 419.4 279.1M422.9 278.6L426.3 279.6M425.1 279.5L426.3 279.6 425.3 278.9M428.7 278.6L432.2 279.3M431.0 279.3L432.2 279.3 431.1 278.8M434.4 278.6L438.1 279.1M436.8 279.2L438.1 279.1 436.9 278.6M440.2 278.6L443.9 279.0M442.6 279.1L443.9 279.0 442.7 278.5M446.0 278.6L449.7 278.9M448.4 279.1L449.7 278.9 448.5 278.5M451.8 278.6L455.4 278.8M454.2 279.0L455.4 278.8 454.2 278.4M457.5 278.6L461.2 278.7M460.0 279.0L461.2 278.7 460.0 278.4M463.3 278.6L467.0 278.7M465.8 278.9L467.0 278.7 465.8 278.3M469.1 278.6L472.8 278.6M471.5 278.9L472.8 278.6 471.5 278.3M474.8 278.6L478.5 278.6M477.3 278.9L478.5 278.6 477.3 278.3M480.6 278.6L484.3 278.6M483.1 278.9L484.3 278.6 483.1 278.3M486.4 278.6L490.1 278.6M488.8 278.9L490.1 278.6 488.8 278.3M492.1 278.6L495.8 278.6M494.6 278.9L495.8 278.6 494.6 278.3M497.9 278.6L501.6 278.6M500.4 278.9L501.6 278.6 500.4 278.3M503.7 278.6L507.4 278.6M506.2 278.9L507.4 278.6 506.2 278.3M509.4 278.6L513.1 278.6M511.9 278.9L513.1 278.6 511.9 278.3M515.2 278.6L518.9 278.6M517.7 278.9L518.9 278.6 517.7 278.2M521.0 278.6L524.7 278.6M523.5 278.9L524.7 278.6 523.5 278.2M526.8 278.6L530.5 278.6M529.2 278.9L530.5 278.6 529.2 278.2M532.5 278.6L536.2 278.6M535.0 278.9L536.2 278.6 535.0 278.2M538.3 278.6L542.0 278.6M540.8 278.9L542.0 278.6 540.8 278.2M544.1 278.6L547.8 278.5M546.5 278.9L547.8 278.5 546.5 278.2M549.8 278.6L553.5 278.5M552.3 278.9L553.5 278.5 552.3 278.2M555.6 278.6L559.3 278.5M558.1 278.9L559.3 278.5 558.1 278.2M561.4 278.6L565.1 278.5M563.9 278.9L565.1 278.5 563.9 278.2M567.1 278.6L570.8 278.5M569.6 278.8L570.8 278.5 569.6 278.2M572.9 278.6L576.6 278.5M575.4 278.8L576.6 278.5 575.4 278.2M578.7 278.6L582.4 278.5M581.2 278.8L582.4 278.5 581.2 278.2M584.5 278.6L588.2 278.5M586.9 278.8L588.2 278.5 586.9 278.2M590.2 278.6L593.9 278.5M592.7 278.8L593.9 278.5 592.7 278.2M596.0 278.6L599.7 278.5M598.5 278.8L599.7 278.5 598.5 278.2M601.8 278.6L605.5 278.5M604.3 278.8L605.5 278.5 604.2 278.2M607.5 278.6L611.2 278.5M610.0 278.8L611.2 278.5 610.0 278.2M613.3 278.6L617.0 278.4M615.8 278.8L617.0 278.4 615.8 278.2M619.1 278.6L622.8 278.4M621.6 278.7L622.8 278.4 621.5 278.1M624.8 278.6L628.5 278.3M627.3 278.7L628.5 278.3 627.3 278.1M630.6 278.6L634.3 278.2M633.1 278.6L634.3 278.2 633.1 278.0M636.4 278.6L640.0 278.1M638.9 278.6L640.0 278.1 638.8 278.0M642.2 278.6L645.8 278.0M644.6 278.5L645.8 278.0 644.5 277.9M647.9 278.6L651.5 277.8M650.4 278.3L651.5 277.8 650.2 277.8M653.7 278.6L657.1 277.5M656.1 278.2L657.1 277.5 655.9 277.6M659.5 278.6L662.7 277.3M661.7 278.0L662.7 277.3 661.5 277.4M665.2 278.6L668.2 277.0M667.3 277.7L668.2 277.0 667.1 277.2M671.0 278.6L673.5 276.7M672.8 277.5L673.5 276.7 672.5 277.1M676.8 278.6L678.7 276.6M678.2 277.4L678.7 276.6 677.9 277.1M682.5 278.6L683.9 276.6M683.6 277.3L683.9 276.6 683.3 277.1M688.3 278.6L689.2 276.7M689.1 277.4L689.2 276.7 688.8 277.3M694.1 278.6L694.6 276.9M694.6 277.5L694.6 276.9 694.3 277.4M699.9 278.6L700.1 277.1M700.2 277.6L700.1 277.1 699.9 277.6M705.6 278.6L705.8 277.3M705.8 277.7L705.8 277.3 705.6 277.7M371.0 272.3L371.0 273.6M370.9 273.2L371.0 273.6 371.1 273.2M376.7 272.3L376.8 273.8M376.6 273.3L376.8 273.8 376.9 273.3M382.5 272.3L382.7 274.1M382.5 273.5L382.7 274.1 382.8 273.5M388.3 272.3L388.8 274.5M388.5 273.8L388.8 274.5 388.8 273.7M394.1 272.3L395.2 274.8M394.6 274.1L395.2 274.8 395.0 273.9M399.8 272.3L401.7 274.9M400.9 274.2L401.7 274.9 401.3 273.9M405.6 272.3L408.3 274.7M407.2 274.1L408.3 274.7 407.6 273.7M411.4 272.3L414.6 274.3M413.4 273.9L414.6 274.3 413.7 273.3M417.1 272.3L420.7 273.8M419.4 273.6L420.7 273.8 419.6 273.0M422.9 272.3L426.6 273.4M425.3 273.3L426.6 273.4 425.5 272.7M428.7 272.3L432.4 273.1M431.1 273.1L432.4 273.1 431.3 272.5M434.4 272.3L438.2 272.8M436.9 273.0L438.2 272.8 437.0 272.3M440.2 272.3L444.0 272.7M442.7 272.9L444.0 272.7 442.8 272.2M446.0 272.3L449.7 272.6M448.5 272.8L449.7 272.6 448.5 272.2M451.8 272.3L455.5 272.5M454.2 272.7L455.5 272.5 454.3 272.1M457.5 272.3L461.3 272.4M460.0 272.7L461.3 272.4 460.0 272.1M463.3 272.3L467.0 272.4M465.8 272.6L467.0 272.4 465.8 272.0M469.1 272.3L472.8 272.3M471.5 272.6L472.8 272.3 471.6 272.0M474.8 272.3L478.5 272.3M477.3 272.6L478.5 272.3 477.3 272.0M480.6 272.3L484.3 272.3M483.1 272.6L484.3 272.3 483.1 272.0M486.4 272.3L490.1 272.3M488.9 272.6L490.1 272.3 488.9 272.0M492.1 272.3L495.8 272.3M494.6 272.6L495.8 272.3 494.6 272.0M497.9 272.3L501.6 272.3M500.4 272.6L501.6 272.3 500.4 272.0M503.7 272.3L507.4 272.3M506.2 272.6L507.4 272.3 506.2 272.0M509.4 272.3L513.1 272.3M511.9 272.6L513.1 272.3 511.9 272.0M515.2 272.3L518.9 272.3M517.7 272.6L518.9 272.3 517.7 272.0M521.0 272.3L524.7 272.3M523.5 272.6L524.7 272.3 523.5 272.0M526.8 272.3L530.5 272.3M529.2 272.6L530.5 272.3 529.2 272.0M532.5 272.3L536.2 272.3M535.0 272.6L536.2 272.3 535.0 272.0M538.3 272.3L542.0 272.3M540.8 272.6L542.0 272.3 540.8 272.0M544.1 272.3L547.8 272.3M546.5 272.6L547.8 272.3 546.5 272.0M549.8 272.3L553.5 272.3M552.3 272.6L553.5 272.3 552.3 272.0M555.6 272.3L559.3 272.3M558.1 272.6L559.3 272.3 558.1 272.0M561.4 272.3L565.1 272.3M563.9 272.6L565.1 272.3 563.9 272.0M567.1 272.3L570.8 272.3M569.6 272.6L570.8 272.3 569.6 271.9M572.9 272.3L576.6 272.2M575.4 272.6L576.6 272.2 575.4 271.9M578.7 272.3L582.4 272.2M581.2 272.6L582.4 272.2 581.2 271.9M584.5 272.3L588.2 272.2M586.9 272.5L588.2 272.2 586.9 271.9M590.2 272.3L593.9 272.2M592.7 272.5L593.9 272.2 592.7 271.9M596.0 272.3L599.7 272.2M598.5 272.5L599.7 272.2 598.5 271.9M601.8 272.3L605.5 272.2M604.3 272.5L605.5 272.2 604.3 271.9M607.5 272.3L611.3 272.2M610.0 272.5L611.3 272.2 610.0 271.9M613.3 272.3L617.0 272.1M615.8 272.5L617.0 272.1 615.8 271.9M619.1 272.3L622.8 272.1M621.6 272.5L622.8 272.1 621.6 271.8M624.8 272.3L628.6 272.0M627.4 272.4L628.6 272.0 627.3 271.8M630.6 272.3L634.4 272.0M633.2 272.4L634.4 272.0 633.1 271.7M636.4 272.3L640.2 271.8M639.0 272.3L640.2 271.8 638.9 271.7M642.2 272.3L645.9 271.7M644.7 272.2L645.9 271.7 644.6 271.6M647.9 272.3L651.7 271.4M650.5 272.0L651.7 271.4 650.4 271.4M653.7 272.3L657.4 271.1M656.3 271.8L657.4 271.1 656.1 271.2M659.5 272.3L663.0 270.7M662.0 271.5L663.0 270.7 661.7 270.9M665.2 272.3L668.5 270.3M667.6 271.2L668.5 270.3 667.2 270.7M671.0 272.3L673.7 269.8M673.0 270.8L673.7 269.8 672.6 270.4M676.8 272.3L678.7 269.6M678.3 270.6L678.7 269.6 677.8 270.3M682.5 272.3L683.7 269.7M683.5 270.6L683.7 269.7 683.1 270.4M688.3 272.3L688.9 270.0M688.9 270.8L688.9 270.0 688.5 270.7M694.1 272.3L694.3 270.4M694.4 271.0L694.3 270.4 694.1 271.0M699.9 272.3L699.9 270.7M700.0 271.2L699.9 270.7 699.8 271.2M705.6 272.3L705.6 270.9M705.7 271.4L705.6 270.9 705.5 271.4M371.0 266.0L370.8 267.3M370.8 266.8L370.8 267.3 371.0 266.9M376.7 266.0L376.5 267.5M376.4 267.0L376.5 267.5 376.7 267.0M382.5 266.0L382.2 268.0M382.1 267.3L382.2 268.0 382.5 267.3M388.3 266.0L388.2 268.6M388.0 267.7L388.2 268.6 388.4 267.8M394.1 266.0L394.7 269.3M394.2 268.3L394.7 269.3 394.8 268.2M399.8 266.0L401.7 269.6M400.8 268.6L401.7 269.6 401.4 268.3M405.6 266.0L408.7 269.2M407.4 268.4L408.7 269.2 407.9 267.9M411.4 266.0L415.2 268.4M413.7 267.9L415.2 268.4 414.1 267.3M417.1 266.0L421.2 267.6M419.7 267.4L421.2 267.6 420.0 266.8M422.9 266.0L427.0 267.1M425.5 267.1L427.0 267.1 425.7 266.4M428.7 266.0L432.7 266.8M431.3 266.8L432.7 266.8 431.4 266.2M434.4 266.0L438.4 266.5M437.0 266.7L438.4 266.5 437.1 266.0M440.2 266.0L444.1 266.4M442.8 266.5L444.1 266.4 442.9 265.9M446.0 266.0L449.8 266.2M448.5 266.5L449.8 266.2 448.6 265.8M451.8 266.0L455.6 266.2M454.3 266.4L455.6 266.2 454.3 265.8M457.5 266.0L461.3 266.1M460.0 266.4L461.3 266.1 460.1 265.8M463.3 266.0L467.0 266.1M465.8 266.3L467.0 266.1 465.8 265.7M469.1 266.0L472.8 266.0M471.6 266.3L472.8 266.0 471.6 265.7M474.8 266.0L478.6 266.0M477.3 266.3L478.6 266.0 477.3 265.7M480.6 266.0L484.3 266.0M483.1 266.3L484.3 266.0 483.1 265.7M486.4 266.0L490.1 266.0M488.9 266.3L490.1 266.0 488.9 265.7M492.1 266.0L495.8 266.0M494.6 266.3L495.8 266.0 494.6 265.7M497.9 266.0L501.6 266.0M500.4 266.3L501.6 266.0 500.4 265.7M503.7 266.0L507.4 266.0M506.2 266.3L507.4 266.0 506.2 265.7M509.4 266.0L513.2 266.0M511.9 266.3L513.2 266.0 511.9 265.7M515.2 266.0L518.9 266.0M517.7 266.3L518.9 266.0 517.7 265.7M521.0 266.0L524.7 266.0M523.5 266.3L524.7 266.0 523.5 265.7M526.8 266.0L530.5 266.0M529.2 266.3L530.5 266.0 529.2 265.7M532.5 266.0L536.2 266.0M535.0 266.3L536.2 266.0 535.0 265.7M538.3 266.0L542.0 266.0M540.8 266.3L542.0 266.0 540.8 265.7M544.1 266.0L547.8 266.0M546.5 266.3L547.8 266.0 546.5 265.7M549.8 266.0L553.5 266.0M552.3 266.3L553.5 266.0 552.3 265.7M555.6 266.0L559.3 266.0M558.1 266.3L559.3 266.0 558.1 265.7M561.4 266.0L565.1 266.0M563.9 266.3L565.1 266.0 563.9 265.7M567.1 266.0L570.9 266.0M569.6 266.3L570.9 266.0 569.6 265.7M572.9 266.0L576.6 266.0M575.4 266.3L576.6 266.0 575.4 265.7M578.7 266.0L582.4 266.0M581.2 266.3L582.4 266.0 581.2 265.7M584.5 266.0L588.2 265.9M586.9 266.3L588.2 265.9 586.9 265.7M590.2 266.0L593.9 265.9M592.7 266.3L593.9 265.9 592.7 265.6M596.0 266.0L599.7 265.9M598.5 266.3L599.7 265.9 598.5 265.6M601.8 266.0L605.5 265.9M604.3 266.2L605.5 265.9 604.3 265.6M607.5 266.0L611.3 265.9M610.1 266.2L611.3 265.9 610.0 265.6M613.3 266.0L617.1 265.9M615.8 266.2L617.1 265.9 615.8 265.6M619.1 266.0L622.9 265.8M621.6 266.2L622.9 265.8 621.6 265.6M624.8 266.0L628.7 265.8M627.4 266.2L628.7 265.8 627.4 265.5M630.6 266.0L634.5 265.7M633.2 266.1L634.5 265.7 633.2 265.5M636.4 266.0L640.3 265.6M639.0 266.0L640.3 265.6 639.0 265.4M642.2 266.0L646.1 265.4M644.9 265.9L646.1 265.4 644.8 265.3M647.9 266.0L652.0 265.2M650.7 265.8L652.0 265.2 650.6 265.1M653.7 266.0L657.8 264.8M656.5 265.5L657.8 264.8 656.3 264.9M659.5 266.0L663.5 264.3M662.3 265.2L663.5 264.3 662.0 264.5M665.2 266.0L669.0 263.6M668.0 264.7L669.0 263.6 667.6 264.0M671.0 266.0L674.1 262.8M673.4 264.1L674.1 262.8 672.8 263.6M676.8 266.0L678.7 262.3M678.3 263.7L678.7 262.3 677.7 263.4M682.5 266.0L683.2 262.6M683.3 263.8L683.2 262.6 682.7 263.7M688.3 266.0L688.2 263.3M688.5 264.2L688.2 263.3 688.1 264.2M694.1 266.0L693.8 264.0M694.0 264.6L693.8 264.0 693.7 264.7M699.9 266.0L699.6 264.4M699.8 264.9L699.6 264.4 699.5 265.0M705.6 266.0L705.5 264.7M705.6 265.1L705.5 264.7 705.4 265.1M371.0 259.7L370.6 260.7M370.6 260.4L370.6 260.7 370.8 260.4M376.7 259.7L376.0 261.0M376.2 260.5L376.0 261.0 376.4 260.6M382.5 259.7L381.5 261.6M381.7 260.9L381.5 261.6 382.0 261.0M388.3 259.7L387.1 262.6M387.3 261.5L387.1 262.6 387.7 261.7M394.1 259.7L393.6 264.2M393.3 262.6L393.6 264.2 394.1 262.7M399.8 259.7L401.6 265.1M400.6 263.5L401.6 265.1 401.5 263.2M405.6 259.7L409.7 264.0M408.0 262.9L409.7 264.0 408.7 262.2M411.4 259.7L416.2 262.3M414.4 261.9L416.2 262.3 414.8 261.1M417.1 259.7L421.9 261.3M420.2 261.1L421.9 261.3 420.4 260.4M422.9 259.7L427.4 260.7M425.8 260.7L427.4 260.7 426.0 260.0M428.7 259.7L433.0 260.3M431.5 260.5L433.0 260.3 431.6 259.8M434.4 259.7L438.6 260.1M437.2 260.3L438.6 260.1 437.2 259.6M440.2 259.7L444.2 260.0M442.9 260.2L444.2 260.0 442.9 259.5M446.0 259.7L449.9 259.9M448.6 260.1L449.9 259.9 448.6 259.5M451.8 259.7L455.6 259.8M454.3 260.1L455.6 259.8 454.3 259.5M457.5 259.7L461.3 259.8M460.1 260.1L461.3 259.8 460.1 259.4M463.3 259.7L467.1 259.8M465.8 260.0L467.1 259.8 465.8 259.4M469.1 259.7L472.8 259.7M471.6 260.0L472.8 259.7 471.6 259.4M474.8 259.7L478.6 259.7M477.3 260.0L478.6 259.7 477.3 259.4M480.6 259.7L484.3 259.7M483.1 260.0L484.3 259.7 483.1 259.4M486.4 259.7L490.1 259.7M488.9 260.0L490.1 259.7 488.9 259.4M492.1 259.7L495.9 259.7M494.6 260.0L495.9 259.7 494.6 259.4M497.9 259.7L501.6 259.7M500.4 260.0L501.6 259.7 500.4 259.4M503.7 259.7L507.4 259.7M506.2 260.0L507.4 259.7 506.2 259.4M509.4 259.7L513.2 259.7M511.9 260.0L513.2 259.7 511.9 259.4M515.2 259.7L518.9 259.7M517.7 260.0L518.9 259.7 517.7 259.4M521.0 259.7L524.7 259.7M523.5 260.0L524.7 259.7 523.5 259.4M526.8 259.7L530.5 259.7M529.2 260.0L530.5 259.7 529.2 259.4M532.5 259.7L536.2 259.7M535.0 260.0L536.2 259.7 535.0 259.4M538.3 259.7L542.0 259.7M540.8 260.0L542.0 259.7 540.8 259.4M544.1 259.7L547.8 259.7M546.5 260.0L547.8 259.7 546.5 259.4M549.8 259.7L553.5 259.7M552.3 260.0L553.5 259.7 552.3 259.4M555.6 259.7L559.3 259.7M558.1 260.0L559.3 259.7 558.1 259.4M561.4 259.7L565.1 259.7M563.9 260.0L565.1 259.7 563.9 259.4M567.1 259.7L570.9 259.7M569.6 260.0L570.9 259.7 569.6 259.4M572.9 259.7L576.6 259.7M575.4 260.0L576.6 259.7 575.4 259.4M578.7 259.7L582.4 259.7M581.2 260.0L582.4 259.7 581.2 259.4M584.5 259.7L588.2 259.7M586.9 260.0L588.2 259.7 586.9 259.4M590.2 259.7L594.0 259.7M592.7 260.0L594.0 259.7 592.7 259.4M596.0 259.7L599.7 259.7M598.5 260.0L599.7 259.7 598.5 259.4M601.8 259.7L605.5 259.6M604.3 260.0L605.5 259.6 604.3 259.3M607.5 259.7L611.3 259.6M610.1 260.0L611.3 259.6 610.1 259.3M613.3 259.7L617.1 259.6M615.9 259.9L617.1 259.6 615.8 259.3M619.1 259.7L622.9 259.6M621.6 259.9L622.9 259.6 621.6 259.3M624.8 259.7L628.7 259.5M627.4 259.9L628.7 259.5 627.4 259.3M630.6 259.7L634.5 259.5M633.3 259.9L634.5 259.5 633.2 259.2M636.4 259.7L640.4 259.4M639.1 259.8L640.4 259.4 639.1 259.2M642.2 259.7L646.3 259.3M645.0 259.7L646.3 259.3 644.9 259.1M647.9 259.7L652.2 259.0M650.9 259.6L652.2 259.0 650.8 258.9M653.7 259.7L658.2 258.7M656.8 259.4L658.2 258.7 656.6 258.6M659.5 259.7L664.2 258.1M662.8 259.0L664.2 258.1 662.5 258.2M665.2 259.7L670.0 257.0M668.7 258.3L670.0 257.0 668.2 257.5M671.0 259.7L675.1 255.4M674.1 257.1L675.1 255.4 673.4 256.4M676.8 259.7L678.6 254.2M678.5 256.2L678.6 254.2 677.6 255.9M682.5 259.7L682.1 255.2M682.6 256.6L682.1 255.2 681.8 256.7M688.3 259.7L687.1 256.8M687.8 257.6L687.1 256.8 687.3 257.8M694.1 259.7L693.1 257.8M693.5 258.3L693.1 257.8 693.2 258.5M699.9 259.7L699.2 258.4M699.5 258.7L699.2 258.4 699.3 258.9M705.6 259.7L705.3 258.6M705.5 258.9L705.3 258.6 705.3 259.0M371.0 253.4L370.4 254.0M370.6 253.8L370.4 254.0 370.7 253.8M376.7 253.4L375.6 254.2M375.9 253.8L375.6 254.2 376.1 254.0M382.5 253.4L380.7 254.6M381.2 254.1L380.7 254.6 381.4 254.4M388.3 253.4L385.4 255.7M386.2 254.7L385.4 255.7 386.5 255.2M394.1 253.4L390.3 258.8M391.1 256.7L390.3 258.8 392.0 257.4M399.8 253.4L401.4 262.8M400.1 259.8L401.4 262.8 401.6 259.5M405.6 253.4L412.7 258.7M409.9 257.5L412.7 258.7 410.8 256.3M411.4 253.4L417.7 255.5M415.4 255.3L417.7 255.5 415.8 254.3M417.1 253.4L422.6 254.4M420.7 254.5L422.6 254.4 420.9 253.6M422.9 253.4L427.8 254.0M426.1 254.2L427.8 254.0 426.2 253.4M428.7 253.4L433.2 253.8M431.7 254.0L433.2 253.8 431.7 253.3M434.4 253.4L438.7 253.6M437.3 253.9L438.7 253.6 437.3 253.2M440.2 253.4L444.3 253.5M442.9 253.8L444.3 253.5 443.0 253.2M446.0 253.4L450.0 253.5M448.6 253.8L450.0 253.5 448.7 253.1M451.8 253.4L455.6 253.5M454.4 253.8L455.6 253.5 454.4 253.1M457.5 253.4L461.4 253.4M460.1 253.7L461.4 253.4 460.1 253.1M463.3 253.4L467.1 253.4M465.8 253.7L467.1 253.4 465.8 253.1M469.1 253.4L472.8 253.4M471.6 253.7L472.8 253.4 471.6 253.1M474.8 253.4L478.6 253.4M477.3 253.7L478.6 253.4 477.3 253.1M480.6 253.4L484.3 253.4M483.1 253.7L484.3 253.4 483.1 253.1M486.4 253.4L490.1 253.4M488.9 253.7L490.1 253.4 488.9 253.1M492.1 253.4L495.9 253.4M494.6 253.7L495.9 253.4 494.6 253.1M497.9 253.4L501.6 253.4M500.4 253.7L501.6 253.4 500.4 253.1M503.7 253.4L507.4 253.4M506.2 253.7L507.4 253.4 506.2 253.1M509.4 253.4L513.2 253.4M511.9 253.7L513.2 253.4 511.9 253.1M515.2 253.4L518.9 253.4M517.7 253.7L518.9 253.4 517.7 253.1M521.0 253.4L524.7 253.4M523.5 253.7L524.7 253.4 523.5 253.1M526.8 253.4L530.5 253.4M529.2 253.7L530.5 253.4 529.2 253.1M532.5 253.4L536.2 253.4M535.0 253.7L536.2 253.4 535.0 253.1M538.3 253.4L542.0 253.4M540.8 253.7L542.0 253.4 540.8 253.1M544.1 253.4L547.8 253.4M546.5 253.7L547.8 253.4 546.5 253.1M549.8 253.4L553.5 253.4M552.3 253.7L553.5 253.4 552.3 253.1M555.6 253.4L559.3 253.4M558.1 253.7L559.3 253.4 558.1 253.1M561.4 253.4L565.1 253.4M563.9 253.7L565.1 253.4 563.9 253.1M567.1 253.4L570.9 253.4M569.6 253.7L570.9 253.4 569.6 253.1M572.9 253.4L576.6 253.4M575.4 253.7L576.6 253.4 575.4 253.1M578.7 253.4L582.4 253.4M581.2 253.7L582.4 253.4 581.2 253.1M584.5 253.4L588.2 253.4M587.0 253.7L588.2 253.4 587.0 253.1M590.2 253.4L594.0 253.4M592.7 253.7L594.0 253.4 592.7 253.1M596.0 253.4L599.7 253.4M598.5 253.7L599.7 253.4 598.5 253.1M601.8 253.4L605.5 253.4M604.3 253.7L605.5 253.4 604.3 253.1M607.5 253.4L611.3 253.4M610.1 253.7L611.3 253.4 610.1 253.1M613.3 253.4L617.1 253.4M615.9 253.7L617.1 253.4 615.9 253.1M619.1 253.4L622.9 253.3M621.7 253.7L622.9 253.3 621.6 253.0M624.8 253.4L628.7 253.3M627.5 253.7L628.7 253.3 627.5 253.0M630.6 253.4L634.6 253.3M633.3 253.6L634.6 253.3 633.3 253.0M636.4 253.4L640.5 253.2M639.1 253.6L640.5 253.2 639.1 252.9M642.2 253.4L646.4 253.2M645.0 253.6L646.4 253.2 645.0 252.9M647.9 253.4L652.4 253.0M651.0 253.5L652.4 253.0 650.9 252.8M653.7 253.4L658.6 252.8M657.0 253.4L658.6 252.8 656.9 252.6M659.5 253.4L664.9 252.3M663.2 253.1L664.9 252.3 663.0 252.2M665.2 253.4L671.6 251.3M669.7 252.5L671.6 251.3 669.3 251.4M671.0 253.4L678.2 248.1M676.2 250.5L678.2 248.1 675.4 249.3M676.8 253.4L678.3 244.0M678.6 247.2L678.3 244.0 677.0 247.0M682.5 253.4L678.8 247.9M680.5 249.4L678.8 247.9 679.6 250.0M688.3 253.4L685.4 251.1M686.6 251.6L685.4 251.1 686.2 252.1M694.1 253.4L692.2 252.2M693.0 252.4L692.2 252.2 692.7 252.7M699.9 253.4L698.8 252.6M699.2 252.8L698.8 252.6 699.1 252.9M705.6 253.4L705.1 252.8M705.3 252.9L705.1 252.8 705.2 253.0M371.0 247.1L370.3 247.1M370.6 247.0L370.3 247.1 370.6 247.2M376.7 247.1L375.5 247.1M375.9 247.0L375.5 247.1 375.9 247.2M382.5 247.1L380.3 247.1M381.0 246.9L380.3 247.1 381.0 247.3M388.3 247.1L384.3 247.1M385.6 246.8L384.3 247.1 385.6 247.4M394.1 247.1L385.1 247.1M388.0 246.4L385.1 247.1 388.0 247.8M399.8 247.1L401.9 247.1M401.2 247.3L401.9 247.1 401.2 246.9M405.6 247.1L415.1 247.1M412.0 247.9L415.1 247.1 412.0 246.3M411.4 247.1L418.7 247.1M416.3 247.7L418.7 247.1 416.3 246.5M417.1 247.1L422.9 247.1M421.0 247.6L422.9 247.1 421.0 246.6M422.9 247.1L427.9 247.1M426.3 247.5L427.9 247.1 426.3 246.7M428.7 247.1L433.2 247.1M431.7 247.5L433.2 247.1 431.7 246.7M434.4 247.1L438.7 247.1M437.3 247.5L438.7 247.1 437.3 246.7M440.2 247.1L444.3 247.1M443.0 247.4L444.3 247.1 443.0 246.8M446.0 247.1L450.0 247.1M448.7 247.4L450.0 247.1 448.7 246.8M451.8 247.1L455.7 247.1M454.4 247.4L455.7 247.1 454.4 246.8M457.5 247.1L461.4 247.1M460.1 247.4L461.4 247.1 460.1 246.8M463.3 247.1L467.1 247.1M465.8 247.4L467.1 247.1 465.8 246.8M469.1 247.1L472.8 247.1M471.6 247.4L472.8 247.1 471.6 246.8M474.8 247.1L478.6 247.1M477.3 247.4L478.6 247.1 477.3 246.8M480.6 247.1L484.3 247.1M483.1 247.4L484.3 247.1 483.1 246.8M486.4 247.1L490.1 247.1M488.9 247.4L490.1 247.1 488.9 246.8M492.1 247.1L495.9 247.1M494.6 247.4L495.9 247.1 494.6 246.8M497.9 247.1L501.6 247.1M500.4 247.4L501.6 247.1 500.4 246.8M503.7 247.1L507.4 247.1M506.2 247.4L507.4 247.1 506.2 246.8M509.4 247.1L513.2 247.1M511.9 247.4L513.2 247.1 511.9 246.8M515.2 247.1L518.9 247.1M517.7 247.4L518.9 247.1 517.7 246.8M521.0 247.1L524.7 247.1M523.5 247.4L524.7 247.1 523.5 246.8M526.8 247.1L530.5 247.1M529.2 247.4L530.5 247.1 529.2 246.8M532.5 247.1L536.2 247.1M535.0 247.4L536.2 247.1 535.0 246.8M538.3 247.1L542.0 247.1M540.8 247.4L542.0 247.1 540.8 246.8M544.1 247.1L547.8 247.1M546.5 247.4L547.8 247.1 546.5 246.8M549.8 247.1L553.5 247.1M552.3 247.4L553.5 247.1 552.3 246.8M555.6 247.1L559.3 247.1M558.1 247.4L559.3 247.1 558.1 246.8M561.4 247.1L565.1 247.1M563.9 247.4L565.1 247.1 563.9 246.8M567.1 247.1L570.9 247.1M569.6 247.4L570.9 247.1 569.6 246.8M572.9 247.1L576.6 247.1M575.4 247.4L576.6 247.1 575.4 246.8M578.7 247.1L582.4 247.1M581.2 247.4L582.4 247.1 581.2 246.8M584.5 247.1L588.2 247.1M587.0 247.4L588.2 247.1 587.0 246.8M590.2 247.1L594.0 247.1M592.7 247.4L594.0 247.1 592.7 246.8M596.0 247.1L599.7 247.1M598.5 247.4L599.7 247.1 598.5 246.8M601.8 247.1L605.5 247.1M604.3 247.4L605.5 247.1 604.3 246.8M607.5 247.1L611.3 247.1M610.1 247.4L611.3 247.1 610.1 246.8M613.3 247.1L617.1 247.1M615.9 247.4L617.1 247.1 615.9 246.8M619.1 247.1L622.9 247.1M621.7 247.4L622.9 247.1 621.7 246.8M624.8 247.1L628.8 247.1M627.5 247.4L628.8 247.1 627.5 246.8M630.6 247.1L634.6 247.1M633.3 247.4L634.6 247.1 633.3 246.8M636.4 247.1L640.5 247.1M639.1 247.4L640.5 247.1 639.1 246.8M642.2 247.1L646.5 247.1M645.0 247.5L646.5 247.1 645.0 246.7M647.9 247.1L652.5 247.1M651.0 247.5L652.5 247.1 651.0 246.7M653.7 247.1L658.7 247.1M657.1 247.5L658.7 247.1 657.1 246.7M659.5 247.1L665.3 247.1M663.4 247.6L665.3 247.1 663.4 246.6M665.2 247.1L672.6 247.1M670.2 247.7L672.6 247.1 670.2 246.5M671.0 247.1L680.5 247.1M677.4 247.9L680.5 247.1 677.4 246.3M676.8 247.1L678.8 247.1M678.2 247.3L678.8 247.1 678.2 246.9M682.5 247.1L673.6 247.1M676.5 246.4L673.6 247.1 676.5 247.8M688.3 247.1L684.3 247.1M685.6 246.8L684.3 247.1 685.6 247.4M694.1 247.1L691.8 247.1M692.6 246.9L691.8 247.1 692.6 247.3M699.9 247.1L698.6 247.1M699.0 247.0L698.6 247.1 699.0 247.2M705.6 247.1L705.0 247.1M705.2 247.0L705.0 247.1 705.2 247.2M371.0 240.8L370.4 240.2M370.7 240.4L370.4 240.2 370.6 240.4M376.7 240.8L375.6 240.0M376.1 240.2L375.6 240.0 375.9 240.4M382.5 240.8L380.7 239.6M381.4 239.8L380.7 239.6 381.2 240.1M388.3 240.8L385.4 238.5M386.5 239.0L385.4 238.5 386.2 239.5M394.1 240.8L390.3 235.4M392.0 236.8L390.3 235.4 391.1 237.5M399.8 240.8L401.4 231.4M401.6 234.7L401.4 231.4 400.1 234.4M405.6 240.8L412.7 235.5M410.8 237.9L412.7 235.5 409.9 236.7M411.4 240.8L417.7 238.7M415.8 239.9L417.7 238.7 415.4 238.9M417.1 240.8L422.6 239.8M420.9 240.6L422.6 239.8 420.7 239.7M422.9 240.8L427.8 240.2M426.2 240.8L427.8 240.2 426.1 240.0M428.7 240.8L433.2 240.4M431.7 240.9L433.2 240.4 431.7 240.2M434.4 240.8L438.7 240.6M437.3 241.0L438.7 240.6 437.3 240.3M440.2 240.8L444.3 240.7M443.0 241.0L444.3 240.7 442.9 240.4M446.0 240.8L450.0 240.7M448.7 241.1L450.0 240.7 448.6 240.4M451.8 240.8L455.6 240.7M454.4 241.1L455.6 240.7 454.4 240.4M457.5 240.8L461.4 240.8M460.1 241.1L461.4 240.8 460.1 240.5M463.3 240.8L467.1 240.8M465.8 241.1L467.1 240.8 465.8 240.5M469.1 240.8L472.8 240.8M471.6 241.1L472.8 240.8 471.6 240.5M474.8 240.8L478.6 240.8M477.3 241.1L478.6 240.8 477.3 240.5M480.6 240.8L484.3 240.8M483.1 241.1L484.3 240.8 483.1 240.5M486.4 240.8L490.1 240.8M488.9 241.1L490.1 240.8 488.9 240.5M492.1 240.8L495.9 240.8M494.6 241.1L495.9 240.8 494.6 240.5M497.9 240.8L501.6 240.8M500.4 241.1L501.6 240.8 500.4 240.5M503.7 240.8L507.4 240.8M506.2 241.1L507.4 240.8 506.2 240.5M509.4 240.8L513.2 240.8M511.9 241.1L513.2 240.8 511.9 240.5M515.2 240.8L518.9 240.8M517.7 241.1L518.9 240.8 517.7 240.5M521.0 240.8L524.7 240.8M523.5 241.1L524.7 240.8 523.5 240.5M526.8 240.8L530.5 240.8M529.2 241.1L530.5 240.8 529.2 240.5M532.5 240.8L536.2 240.8M535.0 241.1L536.2 240.8 535.0 240.5M538.3 240.8L542.0 240.8M540.8 241.1L542.0 240.8 540.8 240.5M544.1 240.8L547.8 240.8M546.5 241.1L547.8 240.8 546.5 240.5M549.8 240.8L553.5 240.8M552.3 241.1L553.5 240.8 552.3 240.5M555.6 240.8L559.3 240.8M558.1 241.1L559.3 240.8 558.1 240.5M561.4 240.8L565.1 240.8M563.9 241.1L565.1 240.8 563.9 240.5M567.1 240.8L570.9 240.8M569.6 241.1L570.9 240.8 569.6 240.5M572.9 240.8L576.6 240.8M575.4 241.1L576.6 240.8 575.4 240.5M578.7 240.8L582.4 240.8M581.2 241.1L582.4 240.8 581.2 240.5M584.5 240.8L588.2 240.8M587.0 241.1L588.2 240.8 587.0 240.5M590.2 240.8L594.0 240.8M592.7 241.1L594.0 240.8 592.7 240.5M596.0 240.8L599.7 240.8M598.5 241.1L599.7 240.8 598.5 240.5M601.8 240.8L605.5 240.8M604.3 241.1L605.5 240.8 604.3 240.5M607.5 240.8L611.3 240.8M610.1 241.1L611.3 240.8 610.1 240.5M613.3 240.8L617.1 240.8M615.9 241.1L617.1 240.8 615.9 240.5M619.1 240.8L622.9 240.9M621.6 241.2L622.9 240.9 621.7 240.5M624.8 240.8L628.7 240.9M627.5 241.2L628.7 240.9 627.5 240.5M630.6 240.8L634.6 240.9M633.3 241.2L634.6 240.9 633.3 240.6M636.4 240.8L640.5 241.0M639.1 241.3L640.5 241.0 639.1 240.6M642.2 240.8L646.4 241.0M645.0 241.3L646.4 241.0 645.0 240.6M647.9 240.8L652.4 241.2M650.9 241.4L652.4 241.2 651.0 240.7M653.7 240.8L658.6 241.4M656.9 241.6L658.6 241.4 657.0 240.8M659.5 240.8L664.9 241.9M663.0 242.0L664.9 241.9 663.2 241.1M665.2 240.8L671.6 242.9M669.3 242.8L671.6 242.9 669.7 241.7M671.0 240.8L678.2 246.1M675.4 244.9L678.2 246.1 676.2 243.7M676.8 240.8L678.3 250.2M677.0 247.2L678.3 250.2 678.6 247.0M682.5 240.8L678.8 246.3M679.6 244.2L678.8 246.3 680.5 244.8M688.3 240.8L685.4 243.1M686.2 242.1L685.4 243.1 686.6 242.6M694.1 240.8L692.2 242.0M692.7 241.5L692.2 242.0 693.0 241.8M699.9 240.8L698.8 241.6M699.1 241.3L698.8 241.6 699.2 241.4M705.6 240.8L705.1 241.4M705.2 241.2L705.1 241.4 705.3 241.3M371.0 234.5L370.6 233.5M370.8 233.8L370.6 233.5 370.6 233.8M376.7 234.5L376.0 233.2M376.4 233.6L376.0 233.2 376.2 233.7M382.5 234.5L381.5 232.6M382.0 233.2L381.5 232.6 381.7 233.3M388.3 234.5L387.1 231.6M387.7 232.5L387.1 231.6 387.3 232.7M394.1 234.5L393.6 230.0M394.1 231.5L393.6 230.0 393.3 231.6M399.8 234.5L401.6 229.1M401.5 231.0L401.6 229.1 400.6 230.7M405.6 234.5L409.7 230.2M408.7 232.0L409.7 230.2 408.0 231.3M411.4 234.5L416.2 231.9M414.8 233.1L416.2 231.9 414.4 232.3M417.1 234.5L421.9 232.9M420.4 233.8L421.9 232.9 420.2 233.1M422.9 234.5L427.4 233.5M426.0 234.2L427.4 233.5 425.8 233.5M428.7 234.5L433.0 233.9M431.6 234.4L433.0 233.9 431.5 233.7M434.4 234.5L438.6 234.1M437.2 234.6L438.6 234.1 437.2 233.9M440.2 234.5L444.2 234.2M442.9 234.7L444.2 234.2 442.9 234.0M446.0 234.5L449.9 234.3M448.6 234.7L449.9 234.3 448.6 234.1M451.8 234.5L455.6 234.4M454.3 234.7L455.6 234.4 454.3 234.1M457.5 234.5L461.3 234.4M460.1 234.8L461.3 234.4 460.1 234.1M463.3 234.5L467.1 234.4M465.8 234.8L467.1 234.4 465.8 234.2M469.1 234.5L472.8 234.5M471.6 234.8L472.8 234.5 471.6 234.2M474.8 234.5L478.6 234.5M477.3 234.8L478.6 234.5 477.3 234.2M480.6 234.5L484.3 234.5M483.1 234.8L484.3 234.5 483.1 234.2M486.4 234.5L490.1 234.5M488.9 234.8L490.1 234.5 488.9 234.2M492.1 234.5L495.9 234.5M494.6 234.8L495.9 234.5 494.6 234.2M497.9 234.5L501.6 234.5M500.4 234.8L501.6 234.5 500.4 234.2M503.7 234.5L507.4 234.5M506.2 234.8L507.4 234.5 506.2 234.2M509.4 234.5L513.2 234.5M511.9 234.8L513.2 234.5 511.9 234.2M515.2 234.5L518.9 234.5M517.7 234.8L518.9 234.5 517.7 234.2M521.0 234.5L524.7 234.5M523.5 234.8L524.7 234.5 523.5 234.2M526.8 234.5L530.5 234.5M529.2 234.8L530.5 234.5 529.2 234.2M532.5 234.5L536.2 234.5M535.0 234.8L536.2 234.5 535.0 234.2M538.3 234.5L542.0 234.5M540.8 234.8L542.0 234.5 540.8 234.2M544.1 234.5L547.8 234.5M546.5 234.8L547.8 234.5 546.5 234.2M549.8 234.5L553.5 234.5M552.3 234.8L553.5 234.5 552.3 234.2M555.6 234.5L559.3 234.5M558.1 234.8L559.3 234.5 558.1 234.2M561.4 234.5L565.1 234.5M563.9 234.8L565.1 234.5 563.9 234.2M567.1 234.5L570.9 234.5M569.6 234.8L570.9 234.5 569.6 234.2M572.9 234.5L576.6 234.5M575.4 234.8L576.6 234.5 575.4 234.2M578.7 234.5L582.4 234.5M581.2 234.8L582.4 234.5 581.2 234.2M584.5 234.5L588.2 234.5M586.9 234.8L588.2 234.5 586.9 234.2M590.2 234.5L594.0 234.5M592.7 234.8L594.0 234.5 592.7 234.2M596.0 234.5L599.7 234.5M598.5 234.8L599.7 234.5 598.5 234.2M601.8 234.5L605.5 234.6M604.3 234.9L605.5 234.6 604.3 234.2M607.5 234.5L611.3 234.6M610.1 234.9L611.3 234.6 610.1 234.2M613.3 234.5L617.1 234.6M615.8 234.9L617.1 234.6 615.9 234.3M619.1 234.5L622.9 234.6M621.6 234.9L622.9 234.6 621.6 234.3M624.8 234.5L628.7 234.7M627.4 234.9L628.7 234.7 627.4 234.3M630.6 234.5L634.5 234.7M633.2 235.0L634.5 234.7 633.3 234.3M636.4 234.5L640.4 234.8M639.1 235.0L640.4 234.8 639.1 234.4M642.2 234.5L646.3 234.9M644.9 235.1L646.3 234.9 645.0 234.5M647.9 234.5L652.2 235.2M650.8 235.3L652.2 235.2 650.9 234.6M653.7 234.5L658.2 235.5M656.6 235.6L658.2 235.5 656.8 234.8M659.5 234.5L664.2 236.1M662.5 236.0L664.2 236.1 662.8 235.2M665.2 234.5L670.0 237.2M668.2 236.7L670.0 237.2 668.7 235.9M671.0 234.5L675.1 238.8M673.4 237.8L675.1 238.8 674.1 237.1M676.8 234.5L678.6 240.0M677.6 238.3L678.6 240.0 678.5 238.0M682.5 234.5L682.1 239.0M681.8 237.5L682.1 239.0 682.6 237.6M688.3 234.5L687.1 237.4M687.3 236.4L687.1 237.4 687.8 236.6M694.1 234.5L693.1 236.4M693.2 235.7L693.1 236.4 693.5 235.9M699.9 234.5L699.2 235.8M699.3 235.3L699.2 235.8 699.5 235.5M705.6 234.5L705.3 235.6M705.3 235.2L705.3 235.6 705.5 235.3M371.0 228.2L370.8 226.9M371.0 227.3L370.8 226.9 370.8 227.4M376.7 228.2L376.5 226.7M376.7 227.2L376.5 226.7 376.4 227.2M382.5 228.2L382.2 226.2M382.5 226.9L382.2 226.2 382.1 226.9M388.3 228.2L388.2 225.6M388.4 226.4L388.2 225.6 388.0 226.5M394.1 228.2L394.7 224.9M394.8 226.0L394.7 224.9 394.2 225.9M399.8 228.2L401.7 224.6M401.4 225.9L401.7 224.6 400.8 225.6M405.6 228.2L408.7 225.0M407.9 226.3L408.7 225.0 407.4 225.8M411.4 228.2L415.2 225.8M414.1 226.9L415.2 225.8 413.7 226.3M417.1 228.2L421.2 226.6M420.0 227.4L421.2 226.6 419.7 226.8M422.9 228.2L427.0 227.1M425.7 227.8L427.0 227.1 425.5 227.1M428.7 228.2L432.7 227.4M431.4 228.0L432.7 227.4 431.3 227.4M434.4 228.2L438.4 227.7M437.1 228.2L438.4 227.7 437.0 227.5M440.2 228.2L444.1 227.8M442.9 228.3L444.1 227.8 442.8 227.7M446.0 228.2L449.8 228.0M448.6 228.4L449.8 228.0 448.5 227.7M451.8 228.2L455.6 228.0M454.3 228.4L455.6 228.0 454.3 227.8M457.5 228.2L461.3 228.1M460.1 228.4L461.3 228.1 460.0 227.8M463.3 228.2L467.0 228.1M465.8 228.5L467.0 228.1 465.8 227.9M469.1 228.2L472.8 228.2M471.6 228.5L472.8 228.2 471.6 227.9M474.8 228.2L478.6 228.2M477.3 228.5L478.6 228.2 477.3 227.9M480.6 228.2L484.3 228.2M483.1 228.5L484.3 228.2 483.1 227.9M486.4 228.2L490.1 228.2M488.9 228.5L490.1 228.2 488.9 227.9M492.1 228.2L495.8 228.2M494.6 228.5L495.8 228.2 494.6 227.9M497.9 228.2L501.6 228.2M500.4 228.5L501.6 228.2 500.4 227.9M503.7 228.2L507.4 228.2M506.2 228.5L507.4 228.2 506.2 227.9M509.4 228.2L513.2 228.2M511.9 228.5L513.2 228.2 511.9 227.9M515.2 228.2L518.9 228.2M517.7 228.5L518.9 228.2 517.7 227.9M521.0 228.2L524.7 228.2M523.5 228.5L524.7 228.2 523.5 227.9M526.8 228.2L530.5 228.2M529.2 228.5L530.5 228.2 529.2 227.9M532.5 228.2L536.2 228.2M535.0 228.5L536.2 228.2 535.0 227.9M538.3 228.2L542.0 228.2M540.8 228.5L542.0 228.2 540.8 227.9M544.1 228.2L547.8 228.2M546.5 228.5L547.8 228.2 546.5 227.9M549.8 228.2L553.5 228.2M552.3 228.5L553.5 228.2 552.3 227.9M555.6 228.2L559.3 228.2M558.1 228.5L559.3 228.2 558.1 227.9M561.4 228.2L565.1 228.2M563.9 228.5L565.1 228.2 563.9 227.9M567.1 228.2L570.9 228.2M569.6 228.5L570.9 228.2 569.6 227.9M572.9 228.2L576.6 228.2M575.4 228.5L576.6 228.2 575.4 227.9M578.7 228.2L582.4 228.2M581.2 228.5L582.4 228.2 581.2 227.9M584.5 228.2L588.2 228.3M586.9 228.5L588.2 228.3 586.9 227.9M590.2 228.2L593.9 228.3M592.7 228.6L593.9 228.3 592.7 227.9M596.0 228.2L599.7 228.3M598.5 228.6L599.7 228.3 598.5 227.9M601.8 228.2L605.5 228.3M604.3 228.6L605.5 228.3 604.3 228.0M607.5 228.2L611.3 228.3M610.0 228.6L611.3 228.3 610.1 228.0M613.3 228.2L617.1 228.3M615.8 228.6L617.1 228.3 615.8 228.0M619.1 228.2L622.9 228.4M621.6 228.6L622.9 228.4 621.6 228.0M624.8 228.2L628.7 228.4M627.4 228.7L628.7 228.4 627.4 228.0M630.6 228.2L634.5 228.5M633.2 228.7L634.5 228.5 633.2 228.1M636.4 228.2L640.3 228.6M639.0 228.8L640.3 228.6 639.0 228.2M642.2 228.2L646.1 228.8M644.8 228.9L646.1 228.8 644.9 228.3M647.9 228.2L652.0 229.0M650.6 229.1L652.0 229.0 650.7 228.4M653.7 228.2L657.8 229.4M656.3 229.3L657.8 229.4 656.5 228.7M659.5 228.2L663.5 229.9M662.0 229.7L663.5 229.9 662.3 229.0M665.2 228.2L669.0 230.6M667.6 230.2L669.0 230.6 668.0 229.5M671.0 228.2L674.1 231.4M672.8 230.6L674.1 231.4 673.4 230.1M676.8 228.2L678.7 231.9M677.7 230.8L678.7 231.9 678.3 230.5M682.5 228.2L683.2 231.6M682.7 230.5L683.2 231.6 683.3 230.4M688.3 228.2L688.2 230.9M688.1 230.0L688.2 230.9 688.5 230.0M694.1 228.2L693.8 230.2M693.7 229.5L693.8 230.2 694.0 229.6M699.9 228.2L699.6 229.8M699.5 229.2L699.6 229.8 699.8 229.3M705.6 228.2L705.5 229.5M705.4 229.1L705.5 229.5 705.6 229.1M371.0 221.9L371.0 220.6M371.1 221.0L371.0 220.6 370.9 221.0M376.7 221.9L376.8 220.4M376.9 220.9L376.8 220.4 376.6 220.9M382.5 221.9L382.7 220.1M382.8 220.7L382.7 220.1 382.5 220.7M388.3 221.9L388.8 219.7M388.8 220.5L388.8 219.7 388.5 220.4M394.1 221.9L395.2 219.4M395.0 220.3L395.2 219.4 394.6 220.1M399.8 221.9L401.7 219.3M401.3 220.3L401.7 219.3 400.9 220.0M405.6 221.9L408.3 219.5M407.6 220.5L408.3 219.5 407.2 220.1M411.4 221.9L414.6 219.9M413.7 220.9L414.6 219.9 413.4 220.3M417.1 221.9L420.7 220.4M419.6 221.2L420.7 220.4 419.4 220.6M422.9 221.9L426.6 220.8M425.5 221.5L426.6 220.8 425.3 220.9M428.7 221.9L432.4 221.1M431.3 221.7L432.4 221.1 431.1 221.1M434.4 221.9L438.2 221.4M437.0 221.9L438.2 221.4 436.9 221.2M440.2 221.9L444.0 221.5M442.8 222.0L444.0 221.5 442.7 221.3M446.0 221.9L449.7 221.6M448.5 222.0L449.7 221.6 448.5 221.4M451.8 221.9L455.5 221.7M454.3 222.1L455.5 221.7 454.2 221.5M457.5 221.9L461.3 221.8M460.0 222.1L461.3 221.8 460.0 221.5M463.3 221.9L467.0 221.8M465.8 222.2L467.0 221.8 465.8 221.6M469.1 221.9L472.8 221.9M471.6 222.2L472.8 221.9 471.5 221.6M474.8 221.9L478.5 221.9M477.3 222.2L478.5 221.9 477.3 221.6M480.6 221.9L484.3 221.9M483.1 222.2L484.3 221.9 483.1 221.6M486.4 221.9L490.1 221.9M488.9 222.2L490.1 221.9 488.9 221.6M492.1 221.9L495.8 221.9M494.6 222.2L495.8 221.9 494.6 221.6M497.9 221.9L501.6 221.9M500.4 222.2L501.6 221.9 500.4 221.6M503.7 221.9L507.4 221.9M506.2 222.2L507.4 221.9 506.2 221.6M509.4 221.9L513.1 221.9M511.9 222.2L513.1 221.9 511.9 221.6M515.2 221.9L518.9 221.9M517.7 222.2L518.9 221.9 517.7 221.6M521.0 221.9L524.7 221.9M523.5 222.2L524.7 221.9 523.5 221.6M526.8 221.9L530.5 221.9M529.2 222.2L530.5 221.9 529.2 221.6M532.5 221.9L536.2 221.9M535.0 222.2L536.2 221.9 535.0 221.6M538.3 221.9L542.0 221.9M540.8 222.2L542.0 221.9 540.8 221.6M544.1 221.9L547.8 221.9M546.5 222.2L547.8 221.9 546.5 221.6M549.8 221.9L553.5 221.9M552.3 222.2L553.5 221.9 552.3 221.6M555.6 221.9L559.3 221.9M558.1 222.2L559.3 221.9 558.1 221.6M561.4 221.9L565.1 221.9M563.9 222.2L565.1 221.9 563.9 221.6M567.1 221.9L570.8 221.9M569.6 222.3L570.8 221.9 569.6 221.6M572.9 221.9L576.6 222.0M575.4 222.3L576.6 222.0 575.4 221.6M578.7 221.9L582.4 222.0M581.2 222.3L582.4 222.0 581.2 221.6M584.5 221.9L588.2 222.0M586.9 222.3L588.2 222.0 586.9 221.7M590.2 221.9L593.9 222.0M592.7 222.3L593.9 222.0 592.7 221.7M596.0 221.9L599.7 222.0M598.5 222.3L599.7 222.0 598.5 221.7M601.8 221.9L605.5 222.0M604.3 222.3L605.5 222.0 604.3 221.7M607.5 221.9L611.3 222.0M610.0 222.3L611.3 222.0 610.0 221.7M613.3 221.9L617.0 222.1M615.8 222.3L617.0 222.1 615.8 221.7M619.1 221.9L622.8 222.1M621.6 222.4L622.8 222.1 621.6 221.7M624.8 221.9L628.6 222.2M627.3 222.4L628.6 222.2 627.4 221.8M630.6 221.9L634.4 222.2M633.1 222.5L634.4 222.2 633.2 221.8M636.4 221.9L640.2 222.4M638.9 222.5L640.2 222.4 639.0 221.9M642.2 221.9L645.9 222.5M644.6 222.6L645.9 222.5 644.7 222.0M647.9 221.9L651.7 222.8M650.4 222.8L651.7 222.8 650.5 222.2M653.7 221.9L657.4 223.1M656.1 223.0L657.4 223.1 656.3 222.4M659.5 221.9L663.0 223.5M661.7 223.3L663.0 223.5 662.0 222.7M665.2 221.9L668.5 223.9M667.2 223.5L668.5 223.9 667.6 223.0M671.0 221.9L673.7 224.4M672.6 223.8L673.7 224.4 673.0 223.4M676.8 221.9L678.7 224.6M677.8 223.9L678.7 224.6 678.3 223.6M682.5 221.9L683.7 224.5M683.1 223.8L683.7 224.5 683.5 223.6M688.3 221.9L688.9 224.2M688.5 223.5L688.9 224.2 688.9 223.4M694.1 221.9L694.3 223.8M694.1 223.2L694.3 223.8 694.4 223.2M699.9 221.9L699.9 223.5M699.8 223.0L699.9 223.5 700.0 223.0M705.6 221.9L705.6 223.3M705.5 222.8L705.6 223.3 705.7 222.8M371.0 215.6L371.1 214.4M371.2 214.8L371.1 214.4 370.9 214.8M376.7 215.6L377.0 214.2M377.0 214.7L377.0 214.2 376.8 214.7M382.5 215.6L383.0 214.0M383.0 214.6L383.0 214.0 382.7 214.5M388.3 215.6L389.1 213.8M389.0 214.5L389.1 213.8 388.7 214.4M394.1 215.6L395.4 213.7M395.1 214.4L395.4 213.7 394.8 214.2M399.8 215.6L401.7 213.7M401.3 214.5L401.7 213.7 400.9 214.2M405.6 215.6L408.0 213.8M407.4 214.6L408.0 213.8 407.1 214.2M411.4 215.6L414.3 214.1M413.4 214.8L414.3 214.1 413.2 214.3M417.1 215.6L420.4 214.4M419.4 215.1L420.4 214.4 419.2 214.5M422.9 215.6L426.3 214.6M425.3 215.3L426.3 214.6 425.1 214.7M428.7 215.6L432.2 214.9M431.1 215.4L432.2 214.9 431.0 214.9M434.4 215.6L438.1 215.1M436.9 215.6L438.1 215.1 436.8 215.0M440.2 215.6L443.9 215.2M442.7 215.7L443.9 215.2 442.6 215.1M446.0 215.6L449.7 215.3M448.5 215.7L449.7 215.3 448.4 215.1M451.8 215.6L455.4 215.4M454.2 215.8L455.4 215.4 454.2 215.2M457.5 215.6L461.2 215.5M460.0 215.8L461.2 215.5 460.0 215.2M463.3 215.6L467.0 215.5M465.8 215.9L467.0 215.5 465.8 215.3M469.1 215.6L472.8 215.6M471.5 215.9L472.8 215.6 471.5 215.3M474.8 215.6L478.5 215.6M477.3 215.9L478.5 215.6 477.3 215.3M480.6 215.6L484.3 215.6M483.1 215.9L484.3 215.6 483.1 215.3M486.4 215.6L490.1 215.6M488.8 215.9L490.1 215.6 488.8 215.3M492.1 215.6L495.8 215.6M494.6 215.9L495.8 215.6 494.6 215.3M497.9 215.6L501.6 215.6M500.4 215.9L501.6 215.6 500.4 215.3M503.7 215.6L507.4 215.6M506.2 215.9L507.4 215.6 506.2 215.3M509.4 215.6L513.1 215.6M511.9 215.9L513.1 215.6 511.9 215.3M515.2 215.6L518.9 215.6M517.7 216.0L518.9 215.6 517.7 215.3M521.0 215.6L524.7 215.6M523.5 216.0L524.7 215.6 523.5 215.3M526.8 215.6L530.5 215.6M529.2 216.0L530.5 215.6 529.2 215.3M532.5 215.6L536.2 215.6M535.0 216.0L536.2 215.6 535.0 215.3M538.3 215.6L542.0 215.6M540.8 216.0L542.0 215.6 540.8 215.3M544.1 215.6L547.8 215.7M546.5 216.0L547.8 215.7 546.5 215.3M549.8 215.6L553.5 215.7M552.3 216.0L553.5 215.7 552.3 215.3M555.6 215.6L559.3 215.7M558.1 216.0L559.3 215.7 558.1 215.3M561.4 215.6L565.1 215.7M563.9 216.0L565.1 215.7 563.9 215.3M567.1 215.6L570.8 215.7M569.6 216.0L570.8 215.7 569.6 215.4M572.9 215.6L576.6 215.7M575.4 216.0L576.6 215.7 575.4 215.4M578.7 215.6L582.4 215.7M581.2 216.0L582.4 215.7 581.2 215.4M584.5 215.6L588.2 215.7M586.9 216.0L588.2 215.7 586.9 215.4M590.2 215.6L593.9 215.7M592.7 216.0L593.9 215.7 592.7 215.4M596.0 215.6L599.7 215.7M598.5 216.0L599.7 215.7 598.5 215.4M601.8 215.6L605.5 215.7M604.2 216.0L605.5 215.7 604.3 215.4M607.5 215.6L611.2 215.7M610.0 216.0L611.2 215.7 610.0 215.4M613.3 215.6L617.0 215.8M615.8 216.0L617.0 215.8 615.8 215.4M619.1 215.6L622.8 215.8M621.5 216.1L622.8 215.8 621.6 215.5M624.8 215.6L628.5 215.9M627.3 216.1L628.5 215.9 627.3 215.5M630.6 215.6L634.3 216.0M633.1 216.2L634.3 216.0 633.1 215.6M636.4 215.6L640.0 216.1M638.8 216.2L640.0 216.1 638.9 215.6M642.2 215.6L645.8 216.2M644.5 216.3L645.8 216.2 644.6 215.7M647.9 215.6L651.5 216.4M650.2 216.4L651.5 216.4 650.4 215.9M653.7 215.6L657.1 216.7M655.9 216.6L657.1 216.7 656.1 216.0M659.5 215.6L662.7 216.9M661.5 216.8L662.7 216.9 661.7 216.2M665.2 215.6L668.2 217.2M667.1 217.0L668.2 217.2 667.3 216.5M671.0 215.6L673.5 217.5M672.5 217.1L673.5 217.5 672.8 216.7M676.8 215.6L678.7 217.6M677.9 217.1L678.7 217.6 678.2 216.8M682.5 215.6L683.9 217.6M683.3 217.1L683.9 217.6 683.6 216.9M688.3 215.6L689.2 217.5M688.8 216.9L689.2 217.5 689.1 216.8M694.1 215.6L694.6 217.3M694.3 216.8L694.6 217.3 694.6 216.7M699.9 215.6L700.1 217.1M699.9 216.6L700.1 217.1 700.2 216.6M705.6 215.6L705.8 216.9M705.6 216.5L705.8 216.9 705.8 216.5M371.0 209.4L371.2 208.2M371.2 208.6L371.2 208.2 371.0 208.6M376.7 209.4L377.2 208.2M377.1 208.6L377.2 208.2 376.9 208.5M382.5 209.4L383.2 208.1M383.1 208.5L383.2 208.1 382.9 208.4M388.3 209.4L389.3 207.9M389.1 208.5L389.3 207.9 388.9 208.3M394.1 209.4L395.5 207.9M395.2 208.5L395.5 207.9 394.9 208.2M399.8 209.4L401.7 207.9M401.2 208.5L401.7 207.9 401.0 208.2M405.6 209.4L407.9 208.0M407.3 208.6L407.9 208.0 407.0 208.2M411.4 209.4L414.1 208.1M413.3 208.8L414.1 208.1 413.1 208.3M417.1 209.4L420.1 208.3M419.2 208.9L420.1 208.3 419.1 208.4M422.9 209.4L426.1 208.5M425.1 209.1L426.1 208.5 425.0 208.5M428.7 209.4L432.0 208.7M431.0 209.2L432.0 208.7 430.9 208.6M434.4 209.4L437.9 208.9M436.8 209.3L437.9 208.9 436.7 208.7M440.2 209.4L443.8 209.0M442.6 209.4L443.8 209.0 442.6 208.8M446.0 209.4L449.6 209.1M448.4 209.5L449.6 209.1 448.4 208.9M451.8 209.4L455.4 209.2M454.2 209.5L455.4 209.2 454.2 208.9M457.5 209.4L461.2 209.2M460.0 209.6L461.2 209.2 460.0 209.0M463.3 209.4L467.0 209.2M465.8 209.6L467.0 209.2 465.7 209.0M469.1 209.4L472.7 209.3M471.5 209.6L472.7 209.3 471.5 209.0M474.8 209.4L478.5 209.3M477.3 209.6L478.5 209.3 477.3 209.0M480.6 209.4L484.3 209.3M483.1 209.6L484.3 209.3 483.1 209.0M486.4 209.4L490.1 209.3M488.8 209.6L490.1 209.3 488.8 209.0M492.1 209.4L495.8 209.3M494.6 209.6L495.8 209.3 494.6 209.0M497.9 209.4L501.6 209.3M500.4 209.7L501.6 209.3 500.4 209.0M503.7 209.4L507.4 209.3M506.2 209.7L507.4 209.3 506.2 209.0M509.4 209.4L513.1 209.4M511.9 209.7L513.1 209.4 511.9 209.0M515.2 209.4L518.9 209.4M517.7 209.7L518.9 209.4 517.7 209.1M521.0 209.4L524.7 209.4M523.5 209.7L524.7 209.4 523.5 209.1M526.8 209.4L530.5 209.4M529.2 209.7L530.5 209.4 529.2 209.1M532.5 209.4L536.2 209.4M535.0 209.7L536.2 209.4 535.0 209.1M538.3 209.4L542.0 209.4M540.8 209.7L542.0 209.4 540.8 209.1M544.1 209.4L547.8 209.4M546.5 209.7L547.8 209.4 546.5 209.1M549.8 209.4L553.5 209.4M552.3 209.7L553.5 209.4 552.3 209.1M555.6 209.4L559.3 209.4M558.1 209.7L559.3 209.4 558.1 209.1M561.4 209.4L565.1 209.4M563.9 209.7L565.1 209.4 563.9 209.1M567.1 209.4L570.8 209.4M569.6 209.7L570.8 209.4 569.6 209.1M572.9 209.4L576.6 209.4M575.4 209.7L576.6 209.4 575.4 209.1M578.7 209.4L582.4 209.4M581.2 209.7L582.4 209.4 581.2 209.1M584.5 209.4L588.1 209.4M586.9 209.7L588.1 209.4 586.9 209.1M590.2 209.4L593.9 209.4M592.7 209.7L593.9 209.4 592.7 209.1M596.0 209.4L599.7 209.4M598.5 209.7L599.7 209.4 598.5 209.1M601.8 209.4L605.4 209.4M604.2 209.7L605.4 209.4 604.2 209.1M607.5 209.4L611.2 209.4M610.0 209.7L611.2 209.4 610.0 209.1M613.3 209.4L617.0 209.5M615.8 209.7L617.0 209.5 615.8 209.1M619.1 209.4L622.7 209.5M621.5 209.8L622.7 209.5 621.5 209.2M624.8 209.4L628.5 209.6M627.3 209.8L628.5 209.6 627.3 209.2M630.6 209.4L634.2 209.6M633.0 209.8L634.2 209.6 633.1 209.2M636.4 209.4L639.9 209.7M638.7 209.9L639.9 209.7 638.8 209.3M642.2 209.4L645.6 209.9M644.5 210.0L645.6 209.9 644.5 209.4M647.9 209.4L651.3 210.0M650.1 210.1L651.3 210.0 650.2 209.5M653.7 209.4L656.9 210.2M655.8 210.2L656.9 210.2 655.9 209.6M659.5 209.4L662.5 210.4M661.4 210.3L662.5 210.4 661.6 209.8M665.2 209.4L668.0 210.6M667.0 210.4L668.0 210.6 667.2 210.0M671.0 209.4L673.4 210.8M672.5 210.5L673.4 210.8 672.7 210.1M676.8 209.4L678.7 210.9M677.9 210.5L678.7 210.9 678.2 210.2M682.5 209.4L684.0 210.9M683.4 210.5L684.0 210.9 683.7 210.2M688.3 209.4L689.4 210.8M688.9 210.4L689.4 210.8 689.1 210.2M694.1 209.4L694.8 210.7M694.5 210.3L694.8 210.7 694.7 210.2M699.9 209.4L700.3 210.6M700.1 210.2L700.3 210.6 700.3 210.1M705.6 209.4L705.8 210.5M705.7 210.1L705.8 210.5 705.9 210.1M371.0 203.1L371.2 202.2M371.2 202.5L371.2 202.2 371.1 202.4M376.7 203.1L377.3 202.1M377.2 202.5L377.3 202.1 377.0 202.4M382.5 203.1L383.3 202.1M383.2 202.5L383.3 202.1 383.0 202.3M388.3 203.1L389.4 202.0M389.1 202.5L389.4 202.0 389.0 202.3M394.1 203.1L395.6 202.0M395.2 202.5L395.6 202.0 395.0 202.2M399.8 203.1L401.7 202.0M401.2 202.5L401.7 202.0 401.0 202.2M405.6 203.1L407.9 202.1M407.2 202.6L407.9 202.1 407.0 202.2M411.4 203.1L414.0 202.2M413.2 202.7L414.0 202.2 413.0 202.3M417.1 203.1L420.0 202.3M419.1 202.8L420.0 202.3 419.0 202.3M422.9 203.1L426.0 202.4M425.0 202.9L426.0 202.4 424.9 202.4M428.7 203.1L431.9 202.6M430.9 203.0L431.9 202.6 430.8 202.5M434.4 203.1L437.8 202.7M436.7 203.1L437.8 202.7 436.7 202.5M440.2 203.1L443.7 202.8M442.6 203.2L443.7 202.8 442.5 202.6M446.0 203.1L449.5 202.8M448.4 203.2L449.5 202.8 448.3 202.6M451.8 203.1L455.3 202.9M454.2 203.3L455.3 202.9 454.1 202.7M457.5 203.1L461.1 202.9M459.9 203.3L461.1 202.9 459.9 202.7M463.3 203.1L466.9 203.0M465.7 203.3L466.9 203.0 465.7 202.7M469.1 203.1L472.7 203.0M471.5 203.3L472.7 203.0 471.5 202.7M474.8 203.1L478.5 203.0M477.3 203.3L478.5 203.0 477.3 202.7M480.6 203.1L484.3 203.0M483.1 203.3L484.3 203.0 483.1 202.7M486.4 203.1L490.0 203.0M488.8 203.4L490.0 203.0 488.8 202.7M492.1 203.1L495.8 203.1M494.6 203.4L495.8 203.1 494.6 202.8M497.9 203.1L501.6 203.1M500.4 203.4L501.6 203.1 500.4 202.8M503.7 203.1L507.4 203.1M506.2 203.4L507.4 203.1 506.2 202.8M509.4 203.1L513.1 203.1M511.9 203.4L513.1 203.1 511.9 202.8M515.2 203.1L518.9 203.1M517.7 203.4L518.9 203.1 517.7 202.8M521.0 203.1L524.7 203.1M523.5 203.4L524.7 203.1 523.5 202.8M526.8 203.1L530.5 203.1M529.2 203.4L530.5 203.1 529.2 202.8M532.5 203.1L536.2 203.1M535.0 203.4L536.2 203.1 535.0 202.8M538.3 203.1L542.0 203.1M540.8 203.4L542.0 203.1 540.8 202.8M544.1 203.1L547.8 203.1M546.5 203.4L547.8 203.1 546.5 202.8M549.8 203.1L553.5 203.1M552.3 203.4L553.5 203.1 552.3 202.8M555.6 203.1L559.3 203.1M558.1 203.4L559.3 203.1 558.1 202.8M561.4 203.1L565.1 203.1M563.9 203.4L565.1 203.1 563.9 202.8M567.1 203.1L570.8 203.1M569.6 203.4L570.8 203.1 569.6 202.8M572.9 203.1L576.6 203.1M575.4 203.4L576.6 203.1 575.4 202.8M578.7 203.1L582.4 203.1M581.2 203.4L582.4 203.1 581.2 202.8M584.5 203.1L588.1 203.1M586.9 203.4L588.1 203.1 586.9 202.8M590.2 203.1L593.9 203.1M592.7 203.4L593.9 203.1 592.7 202.8M596.0 203.1L599.7 203.1M598.5 203.4L599.7 203.1 598.5 202.8M601.8 203.1L605.4 203.1M604.2 203.4L605.4 203.1 604.2 202.8M607.5 203.1L611.2 203.1M610.0 203.4L611.2 203.1 610.0 202.8M613.3 203.1L616.9 203.2M615.7 203.4L616.9 203.2 615.8 202.8M619.1 203.1L622.7 203.2M621.5 203.5L622.7 203.2 621.5 202.9M624.8 203.1L628.4 203.2M627.2 203.5L628.4 203.2 627.3 202.9M630.6 203.1L634.1 203.3M633.0 203.5L634.1 203.3 633.0 202.9M636.4 203.1L639.9 203.4M638.7 203.6L639.9 203.4 638.7 203.0M642.2 203.1L645.5 203.5M644.4 203.6L645.5 203.5 644.5 203.1M647.9 203.1L651.2 203.6M650.1 203.7L651.2 203.6 650.2 203.1M653.7 203.1L656.8 203.7M655.7 203.7L656.8 203.7 655.8 203.2M659.5 203.1L662.3 203.8M661.3 203.8L662.3 203.8 661.5 203.3M665.2 203.1L667.8 204.0M666.9 203.9L667.8 204.0 667.1 203.5M671.0 203.1L673.3 204.1M672.4 203.9L673.3 204.1 672.6 203.6M676.8 203.1L678.7 204.1M678.0 203.9L678.7 204.1 678.1 203.6M682.5 203.1L684.1 204.2M683.5 203.9L684.1 204.2 683.7 203.7M688.3 203.1L689.5 204.1M689.0 203.9L689.5 204.1 689.2 203.7M694.1 203.1L694.9 204.1M694.6 203.8L694.9 204.1 694.7 203.7M699.9 203.1L700.4 204.0M700.1 203.7L700.4 204.0 700.3 203.7M705.6 203.1L705.9 204.0M705.7 203.7L705.9 204.0 705.9 203.7M371.0 196.8L371.3 196.1M371.2 196.4L371.3 196.1 371.1 196.3M376.7 196.8L377.3 196.1M377.2 196.4L377.3 196.1 377.1 196.3M382.5 196.8L383.4 196.1M383.2 196.4L383.4 196.1 383.1 196.3M388.3 196.8L389.5 196.1M389.2 196.4L389.5 196.1 389.0 196.2M394.1 196.8L395.6 196.1M395.2 196.4L395.6 196.1 395.0 196.2M399.8 196.8L401.7 196.1M401.2 196.5L401.7 196.1 401.0 196.2M405.6 196.8L407.8 196.1M407.1 196.5L407.8 196.1 407.0 196.2M411.4 196.8L413.9 196.2M413.1 196.6L413.9 196.2 413.0 196.2M417.1 196.8L419.9 196.3M419.0 196.7L419.9 196.3 419.0 196.2M422.9 196.8L425.9 196.4M424.9 196.7L425.9 196.4 424.9 196.2M428.7 196.8L431.8 196.4M430.8 196.8L431.8 196.4 430.8 196.3M434.4 196.8L437.7 196.5M436.7 196.9L437.7 196.5 436.6 196.3M440.2 196.8L443.6 196.6M442.5 196.9L443.6 196.6 442.5 196.4M446.0 196.8L449.5 196.6M448.3 197.0L449.5 196.6 448.3 196.4M451.8 196.8L455.3 196.7M454.1 197.0L455.3 196.7 454.1 196.4M457.5 196.8L461.1 196.7M459.9 197.0L461.1 196.7 459.9 196.4M463.3 196.8L466.9 196.7M465.7 197.0L466.9 196.7 465.7 196.4M469.1 196.8L472.7 196.7M471.5 197.0L472.7 196.7 471.5 196.4M474.8 196.8L478.5 196.7M477.3 197.1L478.5 196.7 477.3 196.5M480.6 196.8L484.3 196.8M483.1 197.1L484.3 196.8 483.1 196.5M486.4 196.8L490.0 196.8M488.8 197.1L490.0 196.8 488.8 196.5M492.1 196.8L495.8 196.8M494.6 197.1L495.8 196.8 494.6 196.5M497.9 196.8L501.6 196.8M500.4 197.1L501.6 196.8 500.4 196.5M503.7 196.8L507.4 196.8M506.2 197.1L507.4 196.8 506.1 196.5M509.4 196.8L513.1 196.8M511.9 197.1L513.1 196.8 511.9 196.5M515.2 196.8L518.9 196.8M517.7 197.1L518.9 196.8 517.7 196.5M521.0 196.8L524.7 196.8M523.5 197.1L524.7 196.8 523.5 196.5M526.8 196.8L530.5 196.8M529.2 197.1L530.5 196.8 529.2 196.5M532.5 196.8L536.2 196.8M535.0 197.1L536.2 196.8 535.0 196.5M538.3 196.8L542.0 196.8M540.8 197.1L542.0 196.8 540.8 196.5M544.1 196.8L547.8 196.8M546.5 197.1L547.8 196.8 546.5 196.5M549.8 196.8L553.5 196.8M552.3 197.1L553.5 196.8 552.3 196.5M555.6 196.8L559.3 196.8M558.1 197.1L559.3 196.8 558.1 196.5M561.4 196.8L565.1 196.8M563.9 197.1L565.1 196.8 563.9 196.5M567.1 196.8L570.8 196.8M569.6 197.1L570.8 196.8 569.6 196.5M572.9 196.8L576.6 196.8M575.4 197.1L576.6 196.8 575.4 196.5M578.7 196.8L582.4 196.8M581.2 197.1L582.4 196.8 581.2 196.5M584.5 196.8L588.1 196.8M586.9 197.1L588.1 196.8 586.9 196.5M590.2 196.8L593.9 196.8M592.7 197.1L593.9 196.8 592.7 196.5M596.0 196.8L599.7 196.8M598.5 197.1L599.7 196.8 598.5 196.5M601.8 196.8L605.4 196.8M604.2 197.1L605.4 196.8 604.2 196.5M607.5 196.8L611.2 196.8M610.0 197.1L611.2 196.8 610.0 196.5M613.3 196.8L616.9 196.8M615.7 197.1L616.9 196.8 615.7 196.5M619.1 196.8L622.7 196.9M621.5 197.1L622.7 196.9 621.5 196.5M624.8 196.8L628.4 196.9M627.2 197.2L628.4 196.9 627.2 196.6M630.6 196.8L634.1 196.9M632.9 197.2L634.1 196.9 633.0 196.6M636.4 196.8L639.8 197.0M638.7 197.2L639.8 197.0 638.7 196.6M642.2 196.8L645.5 197.1M644.3 197.2L645.5 197.1 644.4 196.7M647.9 196.8L651.1 197.1M650.0 197.3L651.1 197.1 650.1 196.7M653.7 196.8L656.7 197.2M655.7 197.3L656.7 197.2 655.7 196.8M659.5 196.8L662.3 197.3M661.3 197.4L662.3 197.3 661.4 196.9M665.2 196.8L667.8 197.4M666.9 197.4L667.8 197.4 667.0 197.0M671.0 196.8L673.2 197.4M672.4 197.4L673.2 197.4 672.6 197.0M676.8 196.8L678.7 197.5M678.0 197.4L678.7 197.5 678.1 197.1M682.5 196.8L684.1 197.5M683.5 197.4L684.1 197.5 683.7 197.1M688.3 196.8L689.6 197.5M689.1 197.3L689.6 197.5 689.2 197.1M694.1 196.8L695.0 197.5M694.6 197.3L695.0 197.5 694.8 197.2M699.9 196.8L700.5 197.4M700.2 197.3L700.5 197.4 700.3 197.2M705.6 196.8L705.9 197.4M705.8 197.2L705.9 197.4 705.9 197.2M371.0 190.5L371.3 190.2M371.2 190.3L371.3 190.2 371.2 190.2M376.7 190.5L377.4 190.2M377.2 190.3L377.4 190.2 377.1 190.2M382.5 190.5L383.5 190.1M383.2 190.3L383.5 190.1 383.1 190.2M388.3 190.5L389.5 190.1M389.2 190.4L389.5 190.1 389.1 190.2M394.1 190.5L395.6 190.1M395.1 190.4L395.6 190.1 395.1 190.1M399.8 190.5L401.7 190.1M401.1 190.4L401.7 190.1 401.1 190.1M405.6 190.5L407.8 190.2M407.1 190.5L407.8 190.2 407.0 190.1M411.4 190.5L413.8 190.2M413.0 190.5L413.8 190.2 413.0 190.1M417.1 190.5L419.9 190.2M419.0 190.5L419.9 190.2 418.9 190.1M422.9 190.5L425.8 190.3M424.9 190.6L425.8 190.3 424.9 190.1M428.7 190.5L431.8 190.3M430.8 190.6L431.8 190.3 430.7 190.1M434.4 190.5L437.7 190.4M436.6 190.7L437.7 190.4 436.6 190.1M440.2 190.5L443.6 190.4M442.5 190.7L443.6 190.4 442.5 190.1M446.0 190.5L449.4 190.4M448.3 190.7L449.4 190.4 448.3 190.2M451.8 190.5L455.3 190.4M454.1 190.7L455.3 190.4 454.1 190.2M457.5 190.5L461.1 190.4M459.9 190.8L461.1 190.4 459.9 190.2M463.3 190.5L466.9 190.5M465.7 190.8L466.9 190.5 465.7 190.2M469.1 190.5L472.7 190.5M471.5 190.8L472.7 190.5 471.5 190.2M474.8 190.5L478.5 190.5M477.3 190.8L478.5 190.5 477.3 190.2M480.6 190.5L484.3 190.5M483.1 190.8L484.3 190.5 483.0 190.2M486.4 190.5L490.0 190.5M488.8 190.8L490.0 190.5 488.8 190.2M492.1 190.5L495.8 190.5M494.6 190.8L495.8 190.5 494.6 190.2M497.9 190.5L501.6 190.5M500.4 190.8L501.6 190.5 500.4 190.2M503.7 190.5L507.4 190.5M506.1 190.8L507.4 190.5 506.1 190.2M509.4 190.5L513.1 190.5M511.9 190.8L513.1 190.5 511.9 190.2M515.2 190.5L518.9 190.5M517.7 190.8L518.9 190.5 517.7 190.2M521.0 190.5L524.7 190.5M523.5 190.8L524.7 190.5 523.5 190.2M526.8 190.5L530.5 190.5M529.2 190.8L530.5 190.5 529.2 190.2M532.5 190.5L536.2 190.5M535.0 190.8L536.2 190.5 535.0 190.2M538.3 190.5L542.0 190.5M540.8 190.8L542.0 190.5 540.8 190.2M544.1 190.5L547.8 190.5M546.5 190.8L547.8 190.5 546.5 190.2M549.8 190.5L553.5 190.5M552.3 190.8L553.5 190.5 552.3 190.2M555.6 190.5L559.3 190.5M558.1 190.8L559.3 190.5 558.1 190.2M561.4 190.5L565.1 190.5M563.9 190.8L565.1 190.5 563.9 190.2M567.1 190.5L570.8 190.5M569.6 190.8L570.8 190.5 569.6 190.2M572.9 190.5L576.6 190.5M575.4 190.8L576.6 190.5 575.4 190.2M578.7 190.5L582.4 190.5M581.2 190.8L582.4 190.5 581.2 190.2M584.5 190.5L588.1 190.5M586.9 190.8L588.1 190.5 586.9 190.2M590.2 190.5L593.9 190.5M592.7 190.8L593.9 190.5 592.7 190.2M596.0 190.5L599.7 190.5M598.4 190.8L599.7 190.5 598.5 190.2M601.8 190.5L605.4 190.5M604.2 190.8L605.4 190.5 604.2 190.2M607.5 190.5L611.2 190.5M610.0 190.8L611.2 190.5 610.0 190.2M613.3 190.5L616.9 190.5M615.7 190.8L616.9 190.5 615.7 190.2M619.1 190.5L622.6 190.5M621.5 190.8L622.6 190.5 621.5 190.2M624.8 190.5L628.4 190.6M627.2 190.8L628.4 190.6 627.2 190.2M630.6 190.5L634.1 190.6M632.9 190.8L634.1 190.6 632.9 190.3M636.4 190.5L639.8 190.6M638.6 190.8L639.8 190.6 638.7 190.3M642.2 190.5L645.4 190.6M644.3 190.9L645.4 190.6 644.4 190.3M647.9 190.5L651.0 190.7M650.0 190.9L651.0 190.7 650.0 190.3M653.7 190.5L656.6 190.7M655.7 190.9L656.6 190.7 655.7 190.4M659.5 190.5L662.2 190.7M661.3 190.9L662.2 190.7 661.3 190.4M665.2 190.5L667.7 190.8M666.9 190.9L667.7 190.8 666.9 190.5M671.0 190.5L673.2 190.8M672.5 190.9L673.2 190.8 672.5 190.5M676.8 190.5L678.7 190.8M678.0 190.9L678.7 190.8 678.1 190.6M682.5 190.5L684.1 190.8M683.6 190.9L684.1 190.8 683.6 190.6M688.3 190.5L689.6 190.8M689.1 190.8L689.6 190.8 689.2 190.6M694.1 190.5L695.0 190.8M694.7 190.8L695.0 190.8 694.8 190.6M699.9 190.5L700.5 190.8M700.3 190.8L700.5 190.8 700.3 190.7M705.6 190.5L706.0 190.8M705.8 190.7L706.0 190.8 705.9 190.7M371.0 184.2L371.3 184.2M371.2 184.2L371.3 184.2 371.2 184.2M376.7 184.2L377.4 184.2M377.2 184.3L377.4 184.2 377.2 184.1M382.5 184.2L383.5 184.2M383.2 184.3L383.5 184.2 383.2 184.1M388.3 184.2L389.6 184.2M389.1 184.3L389.6 184.2 389.1 184.1M394.1 184.2L395.6 184.2M395.1 184.3L395.6 184.2 395.1 184.1M399.8 184.2L401.7 184.2M401.1 184.4L401.7 184.2 401.1 184.0M405.6 184.2L407.8 184.2M407.1 184.4L407.8 184.2 407.1 184.0M411.4 184.2L413.8 184.2M413.0 184.4L413.8 184.2 413.0 184.0M417.1 184.2L419.8 184.2M419.0 184.4L419.8 184.2 419.0 184.0M422.9 184.2L425.8 184.2M424.9 184.4L425.8 184.2 424.9 184.0M428.7 184.2L431.8 184.2M430.7 184.5L431.8 184.2 430.7 183.9M434.4 184.2L437.7 184.2M436.6 184.5L437.7 184.2 436.6 183.9M440.2 184.2L443.6 184.2M442.5 184.5L443.6 184.2 442.5 183.9M446.0 184.2L449.4 184.2M448.3 184.5L449.4 184.2 448.3 183.9M451.8 184.2L455.3 184.2M454.1 184.5L455.3 184.2 454.1 183.9M457.5 184.2L461.1 184.2M459.9 184.5L461.1 184.2 459.9 183.9M463.3 184.2L466.9 184.2M465.7 184.5L466.9 184.2 465.7 183.9M469.1 184.2L472.7 184.2M471.5 184.5L472.7 184.2 471.5 183.9M474.8 184.2L478.5 184.2M477.3 184.5L478.5 184.2 477.3 183.9M480.6 184.2L484.3 184.2M483.0 184.5L484.3 184.2 483.0 183.9M486.4 184.2L490.0 184.2M488.8 184.5L490.0 184.2 488.8 183.9M492.1 184.2L495.8 184.2M494.6 184.5L495.8 184.2 494.6 183.9M497.9 184.2L501.6 184.2M500.4 184.5L501.6 184.2 500.4 183.9M503.7 184.2L507.4 184.2M506.1 184.5L507.4 184.2 506.1 183.9M509.4 184.2L513.1 184.2M511.9 184.5L513.1 184.2 511.9 183.9M515.2 184.2L518.9 184.2M517.7 184.5L518.9 184.2 517.7 183.9M521.0 184.2L524.7 184.2M523.5 184.5L524.7 184.2 523.5 183.9M526.8 184.2L530.5 184.2M529.2 184.5L530.5 184.2 529.2 183.9M532.5 184.2L536.2 184.2M535.0 184.5L536.2 184.2 535.0 183.9M538.3 184.2L542.0 184.2M540.8 184.5L542.0 184.2 540.8 183.9M544.1 184.2L547.8 184.2M546.5 184.5L547.8 184.2 546.5 183.9M549.8 184.2L553.5 184.2M552.3 184.5L553.5 184.2 552.3 183.9M555.6 184.2L559.3 184.2M558.1 184.5L559.3 184.2 558.1 183.9M561.4 184.2L565.1 184.2M563.9 184.5L565.1 184.2 563.9 183.9M567.1 184.2L570.8 184.2M569.6 184.5L570.8 184.2 569.6 183.9M572.9 184.2L576.6 184.2M575.4 184.5L576.6 184.2 575.4 183.9M578.7 184.2L582.4 184.2M581.2 184.5L582.4 184.2 581.2 183.9M584.5 184.2L588.1 184.2M586.9 184.5L588.1 184.2 586.9 183.9M590.2 184.2L593.9 184.2M592.7 184.5L593.9 184.2 592.7 183.9M596.0 184.2L599.7 184.2M598.4 184.5L599.7 184.2 598.4 183.9M601.8 184.2L605.4 184.2M604.2 184.5L605.4 184.2 604.2 183.9M607.5 184.2L611.2 184.2M610.0 184.5L611.2 184.2 610.0 183.9M613.3 184.2L616.9 184.2M615.7 184.5L616.9 184.2 615.7 183.9M619.1 184.2L622.6 184.2M621.5 184.5L622.6 184.2 621.5 183.9M624.8 184.2L628.4 184.2M627.2 184.5L628.4 184.2 627.2 183.9M630.6 184.2L634.1 184.2M632.9 184.5L634.1 184.2 632.9 183.9M636.4 184.2L639.7 184.2M638.6 184.5L639.7 184.2 638.6 183.9M642.2 184.2L645.4 184.2M644.3 184.5L645.4 184.2 644.3 183.9M647.9 184.2L651.0 184.2M650.0 184.5L651.0 184.2 650.0 183.9M653.7 184.2L656.6 184.2M655.7 184.4L656.6 184.2 655.7 184.0M659.5 184.2L662.2 184.2M661.3 184.4L662.2 184.2 661.3 184.0M665.2 184.2L667.7 184.2M666.9 184.4L667.7 184.2 666.9 184.0M671.0 184.2L673.2 184.2M672.5 184.4L673.2 184.2 672.5 184.0M676.8 184.2L678.7 184.2M678.1 184.4L678.7 184.2 678.1 184.0M682.5 184.2L684.1 184.2M683.6 184.3L684.1 184.2 683.6 184.1M688.3 184.2L689.6 184.2M689.2 184.3L689.6 184.2 689.2 184.1M694.1 184.2L695.1 184.2M694.7 184.3L695.1 184.2 694.7 184.1M699.9 184.2L700.5 184.2M700.3 184.3L700.5 184.2 700.3 184.1M705.6 184.2L706.0 184.2M705.9 184.2L706.0 184.2 705.9 184.2"/><g fill="none" stroke-width="2.0" stroke-linejoin="round" stroke-linecap="round"><path d="M533.4 310.0 533.4 184.2" stroke="#8fff70"/><path d="M543.2 310.0 543.2 184.2" stroke="#80ff80"/><path d="M523.5 310.0 523.5 184.2" stroke="#afff50"/><path d="M553.1 310.0 553.1 184.2" stroke="#60ff9f"/><path d="M513.5 310.0 513.5 184.2" stroke="#cfff30"/><path d="M563.1 310.0 563.1 184.2" stroke="#40ffbf"/><path d="M503.6 310.0 503.8 247.1 503.6 184.2" stroke="#efff10"/><path d="M573.0 310.0 572.8 247.1 573.0 184.2" stroke="#20ffdf"/><path d="M493.7 310.0 493.9 247.1 493.7 184.2" stroke="#ffef00"/><path d="M582.9 310.0 582.7 247.1 582.9 184.2" stroke="#00ffff"/><path d="M483.7 310.0 484.1 247.1 483.7 184.2" stroke="#ffdf00"/><path d="M592.9 310.0 592.5 247.1 592.9 184.2" stroke="#00efff"/><path d="M473.7 310.0 474.4 247.1 473.7 184.2" stroke="#ffbf00"/><path d="M602.9 310.0 602.2 247.1 602.9 184.2" stroke="#00cfff"/><path d="M463.6 310.0 464.7 247.1 463.6 184.2" stroke="#ff9f00"/><path d="M613.0 310.0 611.9 247.1 613.0 184.2" stroke="#00afff"/><path d="M453.3 310.0 453.6 294.1 455.0 260.9 455.2 247.1 455.0 233.3 453.6 200.1 453.3 184.2" stroke="#ff8000"/><path d="M623.3 310.0 623.0 294.1 621.6 260.9 621.4 247.1 621.6 233.3 623.0 200.1 623.3 184.2" stroke="#008fff"/><path d="M442.6 310.0 442.7 302.5 443.1 294.1 445.6 260.9 446.0 247.1 445.6 233.3 443.1 200.1 442.7 191.7 442.6 184.2" stroke="#ff7000"/><path d="M634.0 310.0 633.9 302.5 633.5 294.1 631.0 260.9 630.6 247.1 631.0 233.3 633.5 200.1 633.9 191.7 634.0 184.2" stroke="#0080ff"/><path d="M431.4 310.0 431.6 302.5 432.3 294.1 435.6 269.3 436.5 260.9 437.0 253.8 437.1 247.1 437.0 240.4 436.5 233.3 435.6 224.9 432.3 200.1 431.6 191.7 431.4 184.2" stroke="#ff5000"/><path d="M645.2 310.0 645.0 302.5 644.3 294.1 641.0 269.3 640.1 260.9 639.6 253.8 639.5 247.1 639.6 240.4 640.1 233.3 641.0 224.9 644.3 200.1 645.0 191.7 645.2 184.2" stroke="#0060ff"/><path d="M418.9 310.0 419.2 302.5 420.4 294.1 422.0 286.5 426.1 269.7 427.7 261.4 428.6 254.2 428.9 247.1 428.6 240.0 427.7 232.8 426.1 224.5 422.0 207.7 420.4 200.1 419.2 191.7 418.9 184.2" stroke="#ff3000"/><path d="M657.7 310.0 657.4 302.5 656.2 294.1 654.6 286.5 650.5 269.7 648.9 261.4 648.0 254.2 647.7 247.1 648.0 240.0 648.9 232.8 650.5 224.5 654.6 207.7 656.2 200.1 657.4 191.7 657.7 184.2" stroke="#0040ff"/><path d="M403.3 310.0 403.5 306.2 403.9 302.5 404.8 298.3 406.1 294.1 408.9 286.9 416.4 270.4 419.3 262.2 420.3 258.4 421.0 254.6 421.4 250.9 421.6 247.1 421.4 243.3 421.0 239.6 420.3 235.8 419.3 232.0 416.4 223.8 408.9 207.3 406.1 200.1 404.8 195.9 403.9 191.7 403.5 188.0 403.3 184.2" stroke="#ff1000"/><path d="M673.3 310.0 673.1 306.2 672.7 302.5 671.8 298.3 670.5 294.1 667.7 286.9 660.2 270.4 657.3 262.2 656.3 258.4 655.6 254.6 655.2 250.9 655.0 247.1 655.2 243.3 655.6 239.6 656.3 235.8 657.3 232.0 660.2 223.8 667.7 207.3 670.5 200.1 671.8 195.9 672.7 191.7 673.1 188.0 673.3 184.2" stroke="#0020ff"/><path d="M365.2 304.1 366.7 303.9 368.3 303.2 370.2 302.0 372.5 300.2 385.7 288.2 399.1 276.6 402.5 273.3 405.6 270.1 407.9 267.3 409.8 264.6 411.5 261.8 412.9 258.8 414.0 255.9 414.7 253.0 415.2 250.0 415.3 247.1 415.2 244.2 414.7 241.2 414.0 238.3 412.9 235.4 411.5 232.4 409.8 229.6 407.9 226.9 405.6 224.1 402.5 220.9 399.1 217.6 385.7 206.0 372.5 194.0 370.2 192.2 368.3 191.0 366.7 190.3 365.2 190.1" stroke="#ef0000"/><path d="M711.4 304.1 709.9 303.9 708.3 303.2 706.4 302.0 704.1 300.2 690.9 288.2 677.5 276.6 674.1 273.3 671.0 270.1 668.7 267.3 666.8 264.6 665.1 261.8 663.7 258.8 662.6 255.9 661.9 253.0 661.4 250.0 661.3 247.1 661.4 244.2 661.9 241.2 662.6 238.3 663.7 235.4 665.1 232.4 666.8 229.6 668.7 226.9 671.0 224.1 674.1 220.9 677.5 217.6 690.9 206.0 704.1 194.0 706.4 192.2 708.3 191.0 709.9 190.3 711.4 190.1" stroke="#0000ff"/><path d="M365.2 258.4 367.5 258.6 369.8 259.2 379.4 263.1 384.8 264.6 387.9 265.1 390.6 265.2 393.3 265.0 396.0 264.5 399.1 263.5 401.7 262.1 404.1 260.4 406.4 258.1 408.2 255.5 409.3 253.0 410.1 250.0 410.4 247.1 410.1 244.2 409.3 241.2 408.2 238.7 406.4 236.1 404.1 233.8 401.7 232.1 399.1 230.7 396.0 229.7 393.3 229.2 390.6 229.0 387.9 229.1 384.8 229.6 379.4 231.1 369.8 235.0 367.5 235.6 365.2 235.8" stroke="#df0000"/><path d="M711.4 258.4 709.1 258.6 706.8 259.2 697.2 263.1 691.8 264.6 688.7 265.1 686.0 265.2 683.3 265.0 680.6 264.5 677.5 263.5 674.9 262.1 672.5 260.4 670.2 258.1 668.4 255.5 667.3 253.0 666.5 250.0 666.2 247.1 666.5 244.2 667.3 241.2 668.4 238.7 670.2 236.1 672.5 233.8 674.9 232.1 677.5 230.7 680.6 229.7 683.3 229.2 686.0 229.0 688.7 229.1 691.8 229.6 697.2 231.1 706.8 235.0 709.1 235.6 711.4 235.8" stroke="#0000ef"/><path d="M399.8 237.9 398.3 237.6 396.4 237.6 394.4 238.1 392.9 238.9 391.4 240.0 389.9 241.6 389.0 243.3 388.5 245.0 388.2 247.1 388.4 248.8 388.8 250.5 389.7 252.1 390.6 253.4 392.1 254.8 393.7 255.8 395.6 256.4 397.1 256.6 399.1 256.5 401.0 255.9 402.5 255.1 404.1 253.8 405.1 252.6 406.0 250.9 406.5 249.2 406.7 247.5 406.6 245.4 406.1 243.7 405.3 242.1 404.1 240.4 402.9 239.4 401.4 238.4 399.8 237.9" stroke="#bf0000"/><path d="M681.4 237.9 682.9 238.4 684.5 239.4 686.0 240.8 686.9 242.1 687.8 243.7 688.2 245.4 688.4 247.1 688.1 249.2 687.6 250.9 686.7 252.6 685.6 253.8 684.1 255.1 682.5 255.9 680.6 256.5 678.7 256.6 677.2 256.4 675.2 255.8 673.7 254.8 672.5 253.8 671.4 252.3 670.5 250.5 670.0 248.8 669.9 246.7 670.1 245.0 670.8 242.9 671.8 241.3 672.9 240.0 674.5 238.8 676.0 238.1 677.9 237.6 679.9 237.6 681.4 237.9" stroke="#0000cf"/><path d="M401.0 242.1 399.1 241.7 397.1 242.1 395.5 243.3 394.9 244.2 394.3 245.4 394.1 247.5 394.6 249.6 395.9 251.3 397.5 252.2 399.4 252.5 401.4 252.0 402.9 250.7 403.9 248.8 404.1 246.7 403.7 244.8 402.5 243.1 401.0 242.1" stroke="#9f0000"/><path d="M679.4 242.1 681.0 243.2 682.0 244.6 682.5 246.7 682.3 248.8 681.4 250.5 679.9 251.9 677.9 252.5 676.0 252.3 674.3 251.3 673.0 249.6 672.5 247.5 672.7 245.4 673.7 243.5 675.2 242.2 677.2 241.7 678.3 241.7 679.4 242.1" stroke="#0000af"/><path d="M400.6 244.2 399.4 244.0 398.3 244.3 397.4 245.0 396.8 246.3 396.7 247.5 397.1 248.8 397.9 249.7 399.1 250.2 400.2 250.2 401.0 249.9 401.7 249.2 402.4 247.9 402.5 246.7 402.2 245.8 401.7 245.0 400.6 244.2" stroke="#800000"/><path d="M678.0 244.2 679.1 244.9 679.7 245.8 679.9 247.1 679.8 247.9 679.2 249.2 678.3 249.9 677.5 250.2 676.4 250.2 675.3 249.6 674.6 248.8 674.1 247.5 674.2 246.3 674.9 245.0 675.6 244.3 676.8 244.0 678.0 244.2" stroke="#00008f"/><path d="M400.2 245.3 399.1 245.4 398.5 245.8 398.1 246.7 398.3 248.0 398.7 248.5 399.4 248.9 400.6 248.7 401.0 248.3 401.4 247.5 401.2 246.3 401.0 245.8 400.2 245.3" stroke="#800000"/><path d="M677.5 245.4 678.4 246.3 678.5 247.5 678.1 248.4 677.5 248.8 676.4 248.9 675.6 248.4 675.4 247.9 675.2 246.7 675.6 245.9 676.0 245.5 676.8 245.3 677.5 245.4" stroke="#00008f"/><path d="M400.2 246.1 399.4 246.1 398.9 246.7 398.9 247.5 399.4 248.1 400.2 248.1 400.7 247.5 400.7 246.7 400.2 246.1" stroke="#800000"/><path d="M677.4 246.3 677.7 246.7 677.7 247.5 677.2 248.1 676.4 248.1 675.9 247.5 675.9 246.7 676.4 246.1 676.8 246.0 677.4 246.3" stroke="#00008f"/></g><text transform="translate(365.3 326.4) scale(1 1.08)" font-size="10.5" text-anchor="middle" fill="#262626" font-family="Liberation Sans">0</text><text transform="translate(423 326.4) scale(1 1.08)" font-size="10.5" text-anchor="middle" fill="#262626" font-family="Liberation Sans">0.5</text><text transform="translate(480.7 326.4) scale(1 1.08)" font-size="10.5" text-anchor="middle" fill="#262626" font-family="Liberation Sans">1</text><text transform="translate(538.4 326.4) scale(1 1.08)" font-size="10.5" text-anchor="middle" fill="#262626" font-family="Liberation Sans">1.5</text><text transform="translate(596.1 326.4) scale(1 1.08)" font-size="10.5" text-anchor="middle" fill="#262626" font-family="Liberation Sans">2</text><text transform="translate(653.8 326.4) scale(1 1.08)" font-size="10.5" text-anchor="middle" fill="#262626" font-family="Liberation Sans">2.5</text><text transform="translate(711.5 326.4) scale(1 1.08)" font-size="10.5" text-anchor="middle" fill="#262626" font-family="Liberation Sans">3</text><text transform="translate(360.5 313.8) scale(1 1.08)" font-size="10.5" text-anchor="end" fill="#262626" font-family="Liberation Sans">0</text><text transform="translate(360.5 250.9) scale(1 1.08)" font-size="10.5" text-anchor="end" fill="#262626" font-family="Liberation Sans">0.5</text><text transform="translate(360.5 188) scale(1 1.08)" font-size="10.5" text-anchor="end" fill="#262626" font-family="Liberation Sans">1</text><text transform="translate(538.5 343.6) scale(1 1.08)" font-size="11.5" text-anchor="middle" fill="#262626" font-family="Liberation Sans">x [cm]</text><text transform="translate(340.9 247.2) rotate(-90)" font-size="12.3" text-anchor="middle" fill="#262626" font-family="Liberation Sans">y [cm]</text><text x="325.5" y="20.7" font-size="26" text-anchor="start" fill="#000" font-family="Liberation Sans">b</text><line x1="348.2" y1="573.9" x2="219.9" y2="612.6" stroke="#e3e3e3" stroke-width="0.8"/><line x1="306.9" y1="566.2" x2="178.6" y2="604.9" stroke="#e3e3e3" stroke-width="0.8"/><line x1="265.7" y1="558.4" x2="137.4" y2="597.1" stroke="#e3e3e3" stroke-width="0.8"/><line x1="224.4" y1="550.7" x2="96.1" y2="589.4" stroke="#e3e3e3" stroke-width="0.8"/><line x1="183.2" y1="543" x2="54.9" y2="581.7" stroke="#e3e3e3" stroke-width="0.8"/><line x1="348.2" y1="573.9" x2="183.2" y2="543" stroke="#e3e3e3" stroke-width="0.8"/><line x1="316.1" y1="583.6" x2="151.1" y2="552.7" stroke="#e3e3e3" stroke-width="0.8"/><line x1="284" y1="593.2" x2="119" y2="562.4" stroke="#e3e3e3" stroke-width="0.8"/><line x1="252" y1="602.9" x2="87" y2="572" stroke="#e3e3e3" stroke-width="0.8"/><line x1="219.9" y1="612.6" x2="54.9" y2="581.7" stroke="#e3e3e3" stroke-width="0.8"/><line x1="183.2" y1="543" x2="183.2" y2="380.5" stroke="#e3e3e3" stroke-width="0.8"/><line x1="151.1" y1="552.7" x2="151.1" y2="390.2" stroke="#e3e3e3" stroke-width="0.8"/><line x1="119" y1="562.4" x2="119" y2="399.9" stroke="#e3e3e3" stroke-width="0.8"/><line x1="87" y1="572" x2="87" y2="409.5" stroke="#e3e3e3" stroke-width="0.8"/><line x1="54.9" y1="581.7" x2="54.9" y2="419.2" stroke="#e3e3e3" stroke-width="0.8"/><line x1="183.2" y1="543" x2="54.9" y2="581.7" stroke="#e3e3e3" stroke-width="0.8"/><line x1="183.2" y1="510.5" x2="54.9" y2="549.2" stroke="#e3e3e3" stroke-width="0.8"/><line x1="183.2" y1="478" x2="54.9" y2="516.7" stroke="#e3e3e3" stroke-width="0.8"/><line x1="183.2" y1="445.5" x2="54.9" y2="484.2" stroke="#e3e3e3" stroke-width="0.8"/><line x1="183.2" y1="413" x2="54.9" y2="451.7" stroke="#e3e3e3" stroke-width="0.8"/><line x1="183.2" y1="380.5" x2="54.9" y2="419.2" stroke="#e3e3e3" stroke-width="0.8"/><line x1="348.2" y1="573.9" x2="348.2" y2="411.4" stroke="#e3e3e3" stroke-width="0.8"/><line x1="306.9" y1="566.2" x2="306.9" y2="403.7" stroke="#e3e3e3" stroke-width="0.8"/><line x1="265.7" y1="558.4" x2="265.7" y2="395.9" stroke="#e3e3e3" stroke-width="0.8"/><line x1="224.4" y1="550.7" x2="224.4" y2="388.2" stroke="#e3e3e3" stroke-width="0.8"/><line x1="183.2" y1="543" x2="183.2" y2="380.5" stroke="#e3e3e3" stroke-width="0.8"/><line x1="348.2" y1="573.9" x2="183.2" y2="543" stroke="#e3e3e3" stroke-width="0.8"/><line x1="348.2" y1="541.4" x2="183.2" y2="510.5" stroke="#e3e3e3" stroke-width="0.8"/><line x1="348.2" y1="508.9" x2="183.2" y2="478" stroke="#e3e3e3" stroke-width="0.8"/><line x1="348.2" y1="476.4" x2="183.2" y2="445.5" stroke="#e3e3e3" stroke-width="0.8"/><line x1="348.2" y1="443.9" x2="183.2" y2="413" stroke="#e3e3e3" stroke-width="0.8"/><line x1="348.2" y1="411.4" x2="183.2" y2="380.5" stroke="#e3e3e3" stroke-width="0.8"/><line x1="54.9" y1="581.7" x2="54.9" y2="419.2" stroke="#4a4a4a" stroke-width="0.9"/><line x1="54.9" y1="581.7" x2="219.9" y2="612.6" stroke="#4a4a4a" stroke-width="0.9"/><line x1="219.9" y1="612.6" x2="348.2" y2="573.9" stroke="#4a4a4a" stroke-width="0.9"/><line x1="54.9" y1="581.7" x2="50" y2="580.8" stroke="#4a4a4a" stroke-width="0.9"/><line x1="54.9" y1="549.2" x2="50" y2="548.3" stroke="#4a4a4a" stroke-width="0.9"/><line x1="54.9" y1="516.7" x2="50" y2="515.8" stroke="#4a4a4a" stroke-width="0.9"/><line x1="54.9" y1="484.2" x2="50" y2="483.3" stroke="#4a4a4a" stroke-width="0.9"/><line x1="54.9" y1="451.7" x2="50" y2="450.8" stroke="#4a4a4a" stroke-width="0.9"/><line x1="54.9" y1="419.2" x2="50" y2="418.3" stroke="#4a4a4a" stroke-width="0.9"/><line x1="219.9" y1="612.6" x2="215.1" y2="614" stroke="#4a4a4a" stroke-width="0.9"/><line x1="178.6" y1="604.9" x2="173.9" y2="606.3" stroke="#4a4a4a" stroke-width="0.9"/><line x1="137.4" y1="597.1" x2="132.6" y2="598.6" stroke="#4a4a4a" stroke-width="0.9"/><line x1="96.1" y1="589.4" x2="91.4" y2="590.9" stroke="#4a4a4a" stroke-width="0.9"/><line x1="54.9" y1="581.7" x2="50.1" y2="583.1" stroke="#4a4a4a" stroke-width="0.9"/><line x1="348.2" y1="573.9" x2="353.1" y2="574.8" stroke="#4a4a4a" stroke-width="0.9"/><line x1="316.1" y1="583.6" x2="321" y2="584.5" stroke="#4a4a4a" stroke-width="0.9"/><line x1="284" y1="593.2" x2="289" y2="594.2" stroke="#4a4a4a" stroke-width="0.9"/><line x1="252" y1="602.9" x2="256.9" y2="603.8" stroke="#4a4a4a" stroke-width="0.9"/><line x1="219.9" y1="612.6" x2="224.8" y2="613.5" stroke="#4a4a4a" stroke-width="0.9"/><g stroke="none"><path d="M348.2 419.9L342.7 418.8L337.2 417.8L331.7 416.8L326.2 415.7L320.7 414.7L315.2 413.7L309.7 412.6L304.2 411.6L298.7 410.6L293.2 409.6L287.7 408.5L282.2 407.5L276.7 406.5L271.2 405.4L265.7 404.4L260.2 403.4L254.7 402.3L249.2 401.3L243.7 400.3L238.2 399.2L232.7 398.2L227.2 397.2L221.7 396.2L216.2 395.1L210.7 394.1L205.2 393.1L199.7 392L194.2 391L188.7 390L183.2 389L178.9 395.4L184.4 396.4L189.9 397.4L195.4 398.5L200.9 399.5L206.4 400.5L211.9 401.6L217.4 402.6L222.9 403.6L228.4 404.6L233.9 405.7L239.4 406.7L244.9 407.7L250.4 408.8L255.9 409.8L261.4 410.8L266.9 411.9L272.4 412.9L277.9 413.9L283.4 414.9L288.9 416L294.4 417L299.9 418L305.4 419.1L310.9 420.1L316.4 421.1L321.9 422.2L327.4 423.2L332.9 424.2L338.4 425.2L343.9 426.3Z" fill="#800000" stroke="#800000" stroke-width="0.3"/><path d="M343.9 426.3L338.4 425.2L332.9 424.2L327.4 423.2L321.9 422.2L316.4 421.1L310.9 420.1L305.4 419.1L299.9 418L294.4 417L288.9 416L283.4 414.9L277.9 413.9L272.4 412.9L266.9 411.9L261.4 410.8L255.9 409.8L250.4 408.8L244.9 407.7L239.4 406.7L233.9 405.7L228.4 404.6L222.9 403.6L217.4 402.6L211.9 401.6L206.4 400.5L200.9 399.5L195.4 398.5L189.9 397.4L184.4 396.4L178.9 395.4L174.6 401.8L180.1 402.8L185.6 403.9L191.1 404.9L196.6 405.9L202.1 407L207.6 408L213.1 409L218.6 410L224.1 411.1L229.6 412.1L235.1 413.1L240.6 414.2L246.1 415.2L251.6 416.2L257.1 417.2L262.6 418.3L268.1 419.3L273.6 420.3L279.1 421.4L284.6 422.4L290.1 423.4L295.6 424.5L301.1 425.5L306.6 426.5L312.1 427.6L317.6 428.6L323.1 429.6L328.6 430.6L334.1 431.7L339.6 432.7Z" fill="#9f0000" stroke="#9f0000" stroke-width="0.3"/><path d="M339.6 432.7L334.1 431.7L328.6 430.6L323.1 429.6L317.6 428.6L312.1 427.6L306.6 426.5L301.1 425.5L295.6 424.5L290.1 423.4L284.6 422.4L279.1 421.4L273.6 420.3L268.1 419.3L262.6 418.3L257.1 417.2L251.6 416.2L246.1 415.2L240.6 414.2L235.1 413.1L229.6 412.1L224.1 411.1L218.6 410L213.1 409L207.6 408L202.1 407L196.6 405.9L191.1 404.9L185.6 403.9L180.1 402.8L174.6 401.8L170.4 408.2L175.9 409.3L181.4 410.3L186.9 411.3L192.4 412.3L197.9 413.4L203.4 414.4L208.9 415.4L214.4 416.5L219.9 417.5L225.4 418.5L230.9 419.6L236.4 420.6L241.9 421.6L247.4 422.6L252.9 423.7L258.4 424.7L263.9 425.7L269.4 426.8L274.9 427.8L280.4 428.8L285.9 429.9L291.4 430.9L296.9 431.9L302.4 432.9L307.9 434L313.4 435L318.9 436L324.4 437.1L329.9 438.1L335.4 439.1Z" fill="#bf0000" stroke="#bf0000" stroke-width="0.3"/><path d="M335.4 439.1L329.9 438.1L324.4 437.1L318.9 436L313.4 435L307.9 434L302.4 432.9L296.9 431.9L291.4 430.9L285.9 429.9L280.4 428.8L274.9 427.8L269.4 426.8L263.9 425.7L258.4 424.7L252.9 423.7L247.4 422.6L241.9 421.6L236.4 420.6L230.9 419.6L225.4 418.5L219.9 417.5L214.4 416.5L208.9 415.4L203.4 414.4L197.9 413.4L192.4 412.3L186.9 411.3L181.4 410.3L175.9 409.3L170.4 408.2L166.1 414.6L171.6 415.7L177.1 416.7L182.6 417.7L188.1 418.8L193.6 419.8L199.1 420.8L204.6 421.9L210.1 422.9L215.6 423.9L221.1 424.9L226.6 426L232.1 427L237.6 428L243.1 429.1L248.6 430.1L254.1 431.1L259.6 432.2L265.1 433.2L270.6 434.2L276.1 435.2L281.6 436.3L287.1 437.3L292.6 438.3L298.1 439.4L303.6 440.4L309.1 441.4L314.6 442.5L320.1 443.5L325.6 444.5L331.1 445.5Z" fill="#df0000" stroke="#df0000" stroke-width="0.3"/><path d="M331.1 445.5L325.6 444.5L320.1 443.5L314.6 442.5L309.1 441.4L303.6 440.4L298.1 439.4L292.6 438.3L287.1 437.3L281.6 436.3L276.1 435.2L270.6 434.2L265.1 433.2L259.6 432.2L254.1 431.1L248.6 430.1L243.1 429.1L237.6 428L232.1 427L226.6 426L221.1 424.9L215.6 423.9L210.1 422.9L204.6 421.9L199.1 420.8L193.6 419.8L188.1 418.8L182.6 417.7L177.1 416.7L171.6 415.7L166.1 414.6L161.8 421.1L167.3 422.1L172.8 423.1L178.3 424.2L183.8 425.2L189.3 426.2L194.8 427.3L200.3 428.3L205.8 429.3L211.3 430.3L216.8 431.4L222.3 432.4L227.8 433.4L233.3 434.5L238.8 435.5L244.3 436.5L249.8 437.6L255.3 438.6L260.8 439.6L266.3 440.6L271.8 441.7L277.3 442.7L282.8 443.7L288.3 444.8L293.8 445.8L299.3 446.8L304.8 447.9L310.3 448.9L315.8 449.9L321.3 450.9L326.8 452Z" fill="#ff0000" stroke="#ff0000" stroke-width="0.3"/><path d="M326.8 452L321.3 450.9L315.8 449.9L310.3 448.9L304.8 447.9L299.3 446.8L293.8 445.8L288.3 444.8L282.8 443.7L277.3 442.7L271.8 441.7L266.3 440.6L260.8 439.6L255.3 438.6L249.8 437.6L244.3 436.5L238.8 435.5L233.3 434.5L227.8 433.4L222.3 432.4L216.8 431.4L211.3 430.3L205.8 429.3L200.3 428.3L194.8 427.3L189.3 426.2L183.8 425.2L178.3 424.2L172.8 423.1L167.3 422.1L161.8 421.1L157.5 427.5L163 428.5L168.5 429.6L174 430.6L179.5 431.6L185 432.6L190.5 433.7L196 434.7L201.5 435.7L207 436.8L212.5 437.8L218 438.8L223.5 439.9L229 440.9L234.5 441.9L240 442.9L245.5 444L251 445L256.5 446L262 447.1L267.5 448.1L273 449.1L278.5 450.2L284 451.2L289.5 452.2L295 453.2L300.5 454.3L306 455.3L311.5 456.3L317 457.4L322.5 458.4Z" fill="#ff2000" stroke="#ff2000" stroke-width="0.3"/><path d="M322.5 458.4L317 457.4L311.5 456.3L306 455.3L300.5 454.3L295 453.2L289.5 452.2L284 451.2L278.5 450.2L273 449.1L267.5 448.1L262 447.1L256.5 446L251 445L245.5 444L240 442.9L234.5 441.9L229 440.9L223.5 439.9L218 438.8L212.5 437.8L207 436.8L201.5 435.7L196 434.7L190.5 433.7L185 432.6L179.5 431.6L174 430.6L168.5 429.6L163 428.5L157.5 427.5L153.3 433.9L158.8 435L164.3 436L169.8 437L175.3 438L180.8 439.1L186.3 440.1L191.8 441.1L197.3 442.2L202.8 443.2L208.3 444.2L213.8 445.3L219.3 446.3L224.8 447.3L230.3 448.3L235.8 449.4L241.3 450.4L246.8 451.4L252.3 452.5L257.8 453.5L263.3 454.5L268.8 455.6L274.3 456.6L279.8 457.6L285.3 458.6L290.8 459.7L296.3 460.7L301.8 461.7L307.3 462.8L312.8 463.8L318.3 464.8Z" fill="#ff4000" stroke="#ff4000" stroke-width="0.3"/><path d="M318.3 464.8L312.8 463.8L307.3 462.8L301.8 461.7L296.3 460.7L290.8 459.7L285.3 458.6L279.8 457.6L274.3 456.6L268.8 455.6L263.3 454.5L257.8 453.5L252.3 452.5L246.8 451.4L241.3 450.4L235.8 449.4L230.3 448.3L224.8 447.3L219.3 446.3L213.8 445.3L208.3 444.2L202.8 443.2L197.3 442.2L191.8 441.1L186.3 440.1L180.8 439.1L175.3 438L169.8 437L164.3 436L158.8 435L153.3 433.9L149 440.4L154.5 441.4L160 442.4L165.5 443.4L171 444.5L176.5 445.5L182 446.5L187.5 447.6L193 448.6L198.5 449.6L204 450.6L209.5 451.7L215 452.7L220.5 453.7L226 454.8L231.5 455.8L237 456.8L242.5 457.9L248 458.9L253.5 459.9L259 461L264.5 462L270 463L275.5 464L281 465.1L286.5 466.1L292 467.1L297.5 468.2L303 469.2L308.5 470.2L314 471.2Z" fill="#ff6000" stroke="#ff6000" stroke-width="0.3"/><path d="M314 471.2L308.5 470.2L303 469.2L297.5 468.2L292 467.1L286.5 466.1L281 465.1L275.5 464L270 463L264.5 462L259 461L253.5 459.9L248 458.9L242.5 457.9L237 456.8L231.5 455.8L226 454.8L220.5 453.7L215 452.7L209.5 451.7L204 450.6L198.5 449.6L193 448.6L187.5 447.6L182 446.5L176.5 445.5L171 444.5L165.5 443.4L160 442.4L154.5 441.4L149 440.4L144.7 446.8L150.2 447.8L155.7 448.8L161.2 449.9L166.7 450.9L172.2 451.9L177.7 453L183.2 454L188.7 455L194.2 456L199.7 457.1L205.2 458.1L210.7 459.1L216.2 460.2L221.7 461.2L227.2 462.2L232.7 463.3L238.2 464.3L243.7 465.3L249.2 466.3L254.7 467.4L260.2 468.4L265.7 469.4L271.2 470.5L276.7 471.5L282.2 472.5L287.7 473.6L293.2 474.6L298.7 475.6L304.2 476.6L309.7 477.7Z" fill="#ff8f00" stroke="#ff8f00" stroke-width="0.3"/><path d="M309.7 477.7L304.2 476.6L298.7 475.6L293.2 474.6L287.7 473.6L282.2 472.5L276.7 471.5L271.2 470.5L265.7 469.4L260.2 468.4L254.7 467.4L249.2 466.3L243.7 465.3L238.2 464.3L232.7 463.3L227.2 462.2L221.7 461.2L216.2 460.2L210.7 459.1L205.2 458.1L199.7 457.1L194.2 456L188.7 455L183.2 454L177.7 453L172.2 451.9L166.7 450.9L161.2 449.9L155.7 448.8L150.2 447.8L144.7 446.8L140.4 453.2L145.9 454.2L151.4 455.3L156.9 456.3L162.4 457.3L167.9 458.3L173.4 459.4L178.9 460.4L184.4 461.4L189.9 462.5L195.4 463.5L200.9 464.5L206.4 465.6L211.9 466.6L217.4 467.6L222.9 468.6L228.4 469.7L233.9 470.7L239.4 471.7L244.9 472.8L250.4 473.8L255.9 474.8L261.4 475.9L266.9 476.9L272.4 477.9L277.9 478.9L283.4 480L288.9 481L294.4 482L299.9 483.1L305.4 484.1Z" fill="#ffaf00" stroke="#ffaf00" stroke-width="0.3"/><path d="M305.4 484.1L299.9 483.1L294.4 482L288.9 481L283.4 480L277.9 478.9L272.4 477.9L266.9 476.9L261.4 475.9L255.9 474.8L250.4 473.8L244.9 472.8L239.4 471.7L233.9 470.7L228.4 469.7L222.9 468.6L217.4 467.6L211.9 466.6L206.4 465.6L200.9 464.5L195.4 463.5L189.9 462.5L184.4 461.4L178.9 460.4L173.4 459.4L167.9 458.3L162.4 457.3L156.9 456.3L151.4 455.3L145.9 454.2L140.4 453.2L136.2 459.6L141.7 460.7L147.2 461.7L152.7 462.7L158.2 463.7L163.7 464.8L169.2 465.8L174.7 466.8L180.2 467.9L185.7 468.9L191.2 469.9L196.7 471L202.2 472L207.7 473L213.2 474L218.7 475.1L224.2 476.1L229.7 477.1L235.2 478.2L240.7 479.2L246.2 480.2L251.7 481.3L257.2 482.3L262.7 483.3L268.2 484.3L273.7 485.4L279.2 486.4L284.7 487.4L290.2 488.5L295.7 489.5L301.2 490.5Z" fill="#ffcf00" stroke="#ffcf00" stroke-width="0.3"/><path d="M301.2 490.5L295.7 489.5L290.2 488.5L284.7 487.4L279.2 486.4L273.7 485.4L268.2 484.3L262.7 483.3L257.2 482.3L251.7 481.3L246.2 480.2L240.7 479.2L235.2 478.2L229.7 477.1L224.2 476.1L218.7 475.1L213.2 474L207.7 473L202.2 472L196.7 471L191.2 469.9L185.7 468.9L180.2 467.9L174.7 466.8L169.2 465.8L163.7 464.8L158.2 463.7L152.7 462.7L147.2 461.7L141.7 460.7L136.2 459.6L131.9 466.1L137.4 467.1L142.9 468.1L148.4 469.1L153.9 470.2L159.4 471.2L164.9 472.2L170.4 473.3L175.9 474.3L181.4 475.3L186.9 476.3L192.4 477.4L197.9 478.4L203.4 479.4L208.9 480.5L214.4 481.5L219.9 482.5L225.4 483.6L230.9 484.6L236.4 485.6L241.9 486.7L247.4 487.7L252.9 488.7L258.4 489.7L263.9 490.8L269.4 491.8L274.9 492.8L280.4 493.9L285.9 494.9L291.4 495.9L296.9 496.9Z" fill="#ffef00" stroke="#ffef00" stroke-width="0.3"/><path d="M296.9 496.9L291.4 495.9L285.9 494.9L280.4 493.9L274.9 492.8L269.4 491.8L263.9 490.8L258.4 489.7L252.9 488.7L247.4 487.7L241.9 486.7L236.4 485.6L230.9 484.6L225.4 483.6L219.9 482.5L214.4 481.5L208.9 480.5L203.4 479.4L197.9 478.4L192.4 477.4L186.9 476.3L181.4 475.3L175.9 474.3L170.4 473.3L164.9 472.2L159.4 471.2L153.9 470.2L148.4 469.1L142.9 468.1L137.4 467.1L131.9 466.1L127.6 472.5L133.1 473.5L138.6 474.5L144.1 475.6L149.6 476.6L155.1 477.6L160.6 478.7L166.1 479.7L171.6 480.7L177.1 481.7L182.6 482.8L188.1 483.8L193.6 484.8L199.1 485.9L204.6 486.9L210.1 487.9L215.6 489L221.1 490L226.6 491L232.1 492L237.6 493.1L243.1 494.1L248.6 495.1L254.1 496.2L259.6 497.2L265.1 498.2L270.6 499.3L276.1 500.3L281.6 501.3L287.1 502.3L292.6 503.4Z" fill="#efff10" stroke="#efff10" stroke-width="0.3"/><path d="M292.6 503.4L287.1 502.3L281.6 501.3L276.1 500.3L270.6 499.3L265.1 498.2L259.6 497.2L254.1 496.2L248.6 495.1L243.1 494.1L237.6 493.1L232.1 492L226.6 491L221.1 490L215.6 489L210.1 487.9L204.6 486.9L199.1 485.9L193.6 484.8L188.1 483.8L182.6 482.8L177.1 481.7L171.6 480.7L166.1 479.7L160.6 478.7L155.1 477.6L149.6 476.6L144.1 475.6L138.6 474.5L133.1 473.5L127.6 472.5L123.3 478.9L128.8 479.9L134.3 481L139.8 482L145.3 483L150.8 484.1L156.3 485.1L161.8 486.1L167.3 487.1L172.8 488.2L178.3 489.2L183.8 490.2L189.3 491.3L194.8 492.3L200.3 493.3L205.8 494.4L211.3 495.4L216.8 496.4L222.3 497.4L227.8 498.5L233.3 499.5L238.8 500.5L244.3 501.6L249.8 502.6L255.3 503.6L260.8 504.6L266.3 505.7L271.8 506.7L277.3 507.7L282.8 508.8L288.3 509.8Z" fill="#cfff30" stroke="#cfff30" stroke-width="0.3"/><path d="M288.3 509.8L282.8 508.8L277.3 507.7L271.8 506.7L266.3 505.7L260.8 504.6L255.3 503.6L249.8 502.6L244.3 501.6L238.8 500.5L233.3 499.5L227.8 498.5L222.3 497.4L216.8 496.4L211.3 495.4L205.8 494.4L200.3 493.3L194.8 492.3L189.3 491.3L183.8 490.2L178.3 489.2L172.8 488.2L167.3 487.1L161.8 486.1L156.3 485.1L150.8 484.1L145.3 483L139.8 482L134.3 481L128.8 479.9L123.3 478.9L119 485.3L124.5 486.4L130 487.4L135.5 488.4L141 489.4L146.5 490.5L152 491.5L157.5 492.5L163 493.6L168.5 494.6L174 495.6L179.5 496.7L185 497.7L190.5 498.7L196 499.7L201.5 500.8L207 501.8L212.5 502.8L218 503.9L223.5 504.9L229 505.9L234.5 507L240 508L245.5 509L251 510L256.5 511.1L262 512.1L267.5 513.1L273 514.2L278.5 515.2L284 516.2Z" fill="#afff50" stroke="#afff50" stroke-width="0.3"/><path d="M284 516.2L278.5 515.2L273 514.2L267.5 513.1L262 512.1L256.5 511.1L251 510L245.5 509L240 508L234.5 507L229 505.9L223.5 504.9L218 503.9L212.5 502.8L207 501.8L201.5 500.8L196 499.7L190.5 498.7L185 497.7L179.5 496.7L174 495.6L168.5 494.6L163 493.6L157.5 492.5L152 491.5L146.5 490.5L141 489.4L135.5 488.4L130 487.4L124.5 486.4L119 485.3L114.8 491.8L120.3 492.8L125.8 493.8L131.3 494.8L136.8 495.9L142.3 496.9L147.8 497.9L153.3 499L158.8 500L164.3 501L169.8 502L175.3 503.1L180.8 504.1L186.3 505.1L191.8 506.2L197.3 507.2L202.8 508.2L208.3 509.3L213.8 510.3L219.3 511.3L224.8 512.4L230.3 513.4L235.8 514.4L241.3 515.4L246.8 516.5L252.3 517.5L257.8 518.5L263.3 519.6L268.8 520.6L274.3 521.6L279.8 522.6Z" fill="#8fff70" stroke="#8fff70" stroke-width="0.3"/><path d="M279.8 522.6L274.3 521.6L268.8 520.6L263.3 519.6L257.8 518.5L252.3 517.5L246.8 516.5L241.3 515.4L235.8 514.4L230.3 513.4L224.8 512.4L219.3 511.3L213.8 510.3L208.3 509.3L202.8 508.2L197.3 507.2L191.8 506.2L186.3 505.1L180.8 504.1L175.3 503.1L169.8 502L164.3 501L158.8 500L153.3 499L147.8 497.9L142.3 496.9L136.8 495.9L131.3 494.8L125.8 493.8L120.3 492.8L114.8 491.8L110.5 498.2L116 499.2L121.5 500.2L127 501.3L132.5 502.3L138 503.3L143.5 504.4L149 505.4L154.5 506.4L160 507.4L165.5 508.5L171 509.5L176.5 510.5L182 511.6L187.5 512.6L193 513.6L198.5 514.7L204 515.7L209.5 516.7L215 517.7L220.5 518.8L226 519.8L231.5 520.8L237 521.9L242.5 522.9L248 523.9L253.5 525L259 526L264.5 527L270 528L275.5 529.1Z" fill="#60ff9f" stroke="#60ff9f" stroke-width="0.3"/><path d="M275.5 529.1L270 528L264.5 527L259 526L253.5 525L248 523.9L242.5 522.9L237 521.9L231.5 520.8L226 519.8L220.5 518.8L215 517.7L209.5 516.7L204 515.7L198.5 514.7L193 513.6L187.5 512.6L182 511.6L176.5 510.5L171 509.5L165.5 508.5L160 507.4L154.5 506.4L149 505.4L143.5 504.4L138 503.3L132.5 502.3L127 501.3L121.5 500.2L116 499.2L110.5 498.2L106.2 504.6L111.7 505.6L117.2 506.7L122.7 507.7L128.2 508.7L133.7 509.8L139.2 510.8L144.7 511.8L150.2 512.8L155.7 513.9L161.2 514.9L166.7 515.9L172.2 517L177.7 518L183.2 519L188.7 520L194.2 521.1L199.7 522.1L205.2 523.1L210.7 524.2L216.2 525.2L221.7 526.2L227.2 527.3L232.7 528.3L238.2 529.3L243.7 530.4L249.2 531.4L254.7 532.4L260.2 533.4L265.7 534.5L271.2 535.5Z" fill="#40ffbf" stroke="#40ffbf" stroke-width="0.3"/><path d="M271.2 535.5L265.7 534.5L260.2 533.4L254.7 532.4L249.2 531.4L243.7 530.4L238.2 529.3L232.7 528.3L227.2 527.3L221.7 526.2L216.2 525.2L210.7 524.2L205.2 523.1L199.7 522.1L194.2 521.1L188.7 520L183.2 519L177.7 518L172.2 517L166.7 515.9L161.2 514.9L155.7 513.9L150.2 512.8L144.7 511.8L139.2 510.8L133.7 509.8L128.2 508.7L122.7 507.7L117.2 506.7L111.7 505.6L106.2 504.6L101.9 511L107.4 512.1L112.9 513.1L118.4 514.1L123.9 515.1L129.4 516.2L134.9 517.2L140.4 518.2L145.9 519.3L151.4 520.3L156.9 521.3L162.4 522.4L167.9 523.4L173.4 524.4L178.9 525.4L184.4 526.5L189.9 527.5L195.4 528.5L200.9 529.6L206.4 530.6L211.9 531.6L217.4 532.7L222.9 533.7L228.4 534.7L233.9 535.7L239.4 536.8L244.9 537.8L250.4 538.8L255.9 539.9L261.4 540.9L266.9 541.9Z" fill="#20ffdf" stroke="#20ffdf" stroke-width="0.3"/><path d="M266.9 541.9L261.4 540.9L255.9 539.9L250.4 538.8L244.9 537.8L239.4 536.8L233.9 535.7L228.4 534.7L222.9 533.7L217.4 532.7L211.9 531.6L206.4 530.6L200.9 529.6L195.4 528.5L189.9 527.5L184.4 526.5L178.9 525.4L173.4 524.4L167.9 523.4L162.4 522.4L156.9 521.3L151.4 520.3L145.9 519.3L140.4 518.2L134.9 517.2L129.4 516.2L123.9 515.1L118.4 514.1L112.9 513.1L107.4 512.1L101.9 511L97.7 517.4L103.2 518.5L108.7 519.5L114.2 520.5L119.7 521.6L125.2 522.6L130.7 523.6L136.2 524.7L141.7 525.7L147.2 526.7L152.7 527.7L158.2 528.8L163.7 529.8L169.2 530.8L174.7 531.9L180.2 532.9L185.7 533.9L191.2 535L196.7 536L202.2 537L207.7 538L213.2 539.1L218.7 540.1L224.2 541.1L229.7 542.2L235.2 543.2L240.7 544.2L246.2 545.3L251.7 546.3L257.2 547.3L262.7 548.3Z" fill="#00ffff" stroke="#00ffff" stroke-width="0.3"/><path d="M262.7 548.3L257.2 547.3L251.7 546.3L246.2 545.3L240.7 544.2L235.2 543.2L229.7 542.2L224.2 541.1L218.7 540.1L213.2 539.1L207.7 538L202.2 537L196.7 536L191.2 535L185.7 533.9L180.2 532.9L174.7 531.9L169.2 530.8L163.7 529.8L158.2 528.8L152.7 527.7L147.2 526.7L141.7 525.7L136.2 524.7L130.7 523.6L125.2 522.6L119.7 521.6L114.2 520.5L108.7 519.5L103.2 518.5L97.7 517.4L93.4 523.9L98.9 524.9L104.4 525.9L109.9 527L115.4 528L120.9 529L126.4 530.1L131.9 531.1L137.4 532.1L142.9 533.1L148.4 534.2L153.9 535.2L159.4 536.2L164.9 537.3L170.4 538.3L175.9 539.3L181.4 540.4L186.9 541.4L192.4 542.4L197.9 543.4L203.4 544.5L208.9 545.5L214.4 546.5L219.9 547.6L225.4 548.6L230.9 549.6L236.4 550.7L241.9 551.7L247.4 552.7L252.9 553.7L258.4 554.8Z" fill="#00dfff" stroke="#00dfff" stroke-width="0.3"/><path d="M258.4 554.8L252.9 553.7L247.4 552.7L241.9 551.7L236.4 550.7L230.9 549.6L225.4 548.6L219.9 547.6L214.4 546.5L208.9 545.5L203.4 544.5L197.9 543.4L192.4 542.4L186.9 541.4L181.4 540.4L175.9 539.3L170.4 538.3L164.9 537.3L159.4 536.2L153.9 535.2L148.4 534.2L142.9 533.1L137.4 532.1L131.9 531.1L126.4 530.1L120.9 529L115.4 528L109.9 527L104.4 525.9L98.9 524.9L93.4 523.9L89.1 530.3L94.6 531.3L100.1 532.4L105.6 533.4L111.1 534.4L116.6 535.4L122.1 536.5L127.6 537.5L133.1 538.5L138.6 539.6L144.1 540.6L149.6 541.6L155.1 542.7L160.6 543.7L166.1 544.7L171.6 545.7L177.1 546.8L182.6 547.8L188.1 548.8L193.6 549.9L199.1 550.9L204.6 551.9L210.1 553L215.6 554L221.1 555L226.6 556L232.1 557.1L237.6 558.1L243.1 559.1L248.6 560.2L254.1 561.2Z" fill="#00bfff" stroke="#00bfff" stroke-width="0.3"/><path d="M254.1 561.2L248.6 560.2L243.1 559.1L237.6 558.1L232.1 557.1L226.6 556L221.1 555L215.6 554L210.1 553L204.6 551.9L199.1 550.9L193.6 549.9L188.1 548.8L182.6 547.8L177.1 546.8L171.6 545.7L166.1 544.7L160.6 543.7L155.1 542.7L149.6 541.6L144.1 540.6L138.6 539.6L133.1 538.5L127.6 537.5L122.1 536.5L116.6 535.4L111.1 534.4L105.6 533.4L100.1 532.4L94.6 531.3L89.1 530.3L84.8 536.7L90.3 537.8L95.8 538.8L101.3 539.8L106.8 540.8L112.3 541.9L117.8 542.9L123.3 543.9L128.8 545L134.3 546L139.8 547L145.3 548.1L150.8 549.1L156.3 550.1L161.8 551.1L167.3 552.2L172.8 553.2L178.3 554.2L183.8 555.3L189.3 556.3L194.8 557.3L200.3 558.4L205.8 559.4L211.3 560.4L216.8 561.4L222.3 562.5L227.8 563.5L233.3 564.5L238.8 565.6L244.3 566.6L249.8 567.6Z" fill="#009fff" stroke="#009fff" stroke-width="0.3"/><path d="M249.8 567.6L244.3 566.6L238.8 565.6L233.3 564.5L227.8 563.5L222.3 562.5L216.8 561.4L211.3 560.4L205.8 559.4L200.3 558.4L194.8 557.3L189.3 556.3L183.8 555.3L178.3 554.2L172.8 553.2L167.3 552.2L161.8 551.1L156.3 550.1L150.8 549.1L145.3 548.1L139.8 547L134.3 546L128.8 545L123.3 543.9L117.8 542.9L112.3 541.9L106.8 540.8L101.3 539.8L95.8 538.8L90.3 537.8L84.8 536.7L80.6 543.2L86.1 544.2L91.6 545.2L97.1 546.2L102.6 547.3L108.1 548.3L113.6 549.3L119.1 550.4L124.6 551.4L130.1 552.4L135.6 553.5L141.1 554.5L146.6 555.5L152.1 556.5L157.6 557.6L163.1 558.6L168.6 559.6L174.1 560.7L179.6 561.7L185.1 562.7L190.6 563.8L196.1 564.8L201.6 565.8L207.1 566.8L212.6 567.9L218.1 568.9L223.6 569.9L229.1 571L234.6 572L240.1 573L245.6 574.1Z" fill="#0070ff" stroke="#0070ff" stroke-width="0.3"/><path d="M245.6 574.1L240.1 573L234.6 572L229.1 571L223.6 569.9L218.1 568.9L212.6 567.9L207.1 566.8L201.6 565.8L196.1 564.8L190.6 563.8L185.1 562.7L179.6 561.7L174.1 560.7L168.6 559.6L163.1 558.6L157.6 557.6L152.1 556.5L146.6 555.5L141.1 554.5L135.6 553.5L130.1 552.4L124.6 551.4L119.1 550.4L113.6 549.3L108.1 548.3L102.6 547.3L97.1 546.2L91.6 545.2L86.1 544.2L80.6 543.2L76.3 549.6L81.8 550.6L87.3 551.6L92.8 552.7L98.3 553.7L103.8 554.7L109.3 555.8L114.8 556.8L120.3 557.8L125.8 558.8L131.3 559.9L136.8 560.9L142.3 561.9L147.8 563L153.3 564L158.8 565L164.3 566.1L169.8 567.1L175.3 568.1L180.8 569.1L186.3 570.2L191.8 571.2L197.3 572.2L202.8 573.3L208.3 574.3L213.8 575.3L219.3 576.4L224.8 577.4L230.3 578.4L235.8 579.4L241.3 580.5Z" fill="#0050ff" stroke="#0050ff" stroke-width="0.3"/><path d="M241.3 580.5L235.8 579.4L230.3 578.4L224.8 577.4L219.3 576.4L213.8 575.3L208.3 574.3L202.8 573.3L197.3 572.2L191.8 571.2L186.3 570.2L180.8 569.1L175.3 568.1L169.8 567.1L164.3 566.1L158.8 565L153.3 564L147.8 563L142.3 561.9L136.8 560.9L131.3 559.9L125.8 558.8L120.3 557.8L114.8 556.8L109.3 555.8L103.8 554.7L98.3 553.7L92.8 552.7L87.3 551.6L81.8 550.6L76.3 549.6L72 556L77.5 557L83 558.1L88.5 559.1L94 560.1L99.5 561.1L105 562.2L110.5 563.2L116 564.2L121.5 565.3L127 566.3L132.5 567.3L138 568.4L143.5 569.4L149 570.4L154.5 571.4L160 572.5L165.5 573.5L171 574.5L176.5 575.6L182 576.6L187.5 577.6L193 578.7L198.5 579.7L204 580.7L209.5 581.8L215 582.8L220.5 583.8L226 584.8L231.5 585.9L237 586.9Z" fill="#0030ff" stroke="#0030ff" stroke-width="0.3"/><path d="M237 586.9L231.5 585.9L226 584.8L220.5 583.8L215 582.8L209.5 581.8L204 580.7L198.5 579.7L193 578.7L187.5 577.6L182 576.6L176.5 575.6L171 574.5L165.5 573.5L160 572.5L154.5 571.4L149 570.4L143.5 569.4L138 568.4L132.5 567.3L127 566.3L121.5 565.3L116 564.2L110.5 563.2L105 562.2L99.5 561.1L94 560.1L88.5 559.1L83 558.1L77.5 557L72 556L67.7 562.4L73.2 563.5L78.7 564.5L84.2 565.5L89.7 566.5L95.2 567.6L100.7 568.6L106.2 569.6L111.7 570.7L117.2 571.7L122.7 572.7L128.2 573.8L133.7 574.8L139.2 575.8L144.7 576.8L150.2 577.9L155.7 578.9L161.2 579.9L166.7 581L172.2 582L177.7 583L183.2 584.1L188.7 585.1L194.2 586.1L199.7 587.1L205.2 588.2L210.7 589.2L216.2 590.2L221.7 591.3L227.2 592.3L232.7 593.3Z" fill="#0010ff" stroke="#0010ff" stroke-width="0.3"/><path d="M232.7 593.3L227.2 592.3L221.7 591.3L216.2 590.2L210.7 589.2L205.2 588.2L199.7 587.1L194.2 586.1L188.7 585.1L183.2 584.1L177.7 583L172.2 582L166.7 581L161.2 579.9L155.7 578.9L150.2 577.9L144.7 576.8L139.2 575.8L133.7 574.8L128.2 573.8L122.7 572.7L117.2 571.7L111.7 570.7L106.2 569.6L100.7 568.6L95.2 567.6L89.7 566.5L84.2 565.5L78.7 564.5L73.2 563.5L67.7 562.4L63.5 568.9L69 569.9L74.5 570.9L80 571.9L85.5 573L91 574L96.5 575L102 576.1L107.5 577.1L113 578.1L118.5 579.1L124 580.2L129.5 581.2L135 582.2L140.5 583.3L146 584.3L151.5 585.3L157 586.4L162.5 587.4L168 588.4L173.5 589.5L179 590.5L184.5 591.5L190 592.5L195.5 593.6L201 594.6L206.5 595.6L212 596.7L217.5 597.7L223 598.7L228.5 599.8Z" fill="#0000ef" stroke="#0000ef" stroke-width="0.3"/><path d="M228.5 599.8L223 598.7L217.5 597.7L212 596.7L206.5 595.6L201 594.6L195.5 593.6L190 592.5L184.5 591.5L179 590.5L173.5 589.5L168 588.4L162.5 587.4L157 586.4L151.5 585.3L146 584.3L140.5 583.3L135 582.2L129.5 581.2L124 580.2L118.5 579.1L113 578.1L107.5 577.1L102 576.1L96.5 575L91 574L85.5 573L80 571.9L74.5 570.9L69 569.9L63.5 568.9L59.2 575.3L64.7 576.3L70.2 577.3L75.7 578.4L81.2 579.4L86.7 580.4L92.2 581.5L97.7 582.5L103.2 583.5L108.7 584.5L114.2 585.6L119.7 586.6L125.2 587.6L130.7 588.7L136.2 589.7L141.7 590.7L147.2 591.8L152.7 592.8L158.2 593.8L163.7 594.8L169.2 595.9L174.7 596.9L180.2 597.9L185.7 599L191.2 600L196.7 601L202.2 602.1L207.7 603.1L213.2 604.1L218.7 605.1L224.2 606.2Z" fill="#0000cf" stroke="#0000cf" stroke-width="0.3"/><path d="M224.2 606.2L218.7 605.1L213.2 604.1L207.7 603.1L202.2 602.1L196.7 601L191.2 600L185.7 599L180.2 597.9L174.7 596.9L169.2 595.9L163.7 594.8L158.2 593.8L152.7 592.8L147.2 591.8L141.7 590.7L136.2 589.7L130.7 588.7L125.2 587.6L119.7 586.6L114.2 585.6L108.7 584.5L103.2 583.5L97.7 582.5L92.2 581.5L86.7 580.4L81.2 579.4L75.7 578.4L70.2 577.3L64.7 576.3L59.2 575.3L54.9 581.7L60.4 582.7L65.9 583.8L71.4 584.8L76.9 585.8L82.4 586.9L87.9 587.9L93.4 588.9L98.9 589.9L104.4 591L109.9 592L115.4 593L120.9 594.1L126.4 595.1L131.9 596.1L137.4 597.1L142.9 598.2L148.4 599.2L153.9 600.2L159.4 601.3L164.9 602.3L170.4 603.3L175.9 604.4L181.4 605.4L186.9 606.4L192.4 607.5L197.9 608.5L203.4 609.5L208.9 610.5L214.4 611.6L219.9 612.6Z" fill="#0000af" stroke="#0000af" stroke-width="0.3"/></g><path d="M348.2 419.9L183.2 389M343.9 426.3L178.9 395.4M339.6 432.7L174.6 401.8M335.4 439.1L170.4 408.2M331.1 445.5L166.1 414.6M326.8 452L161.8 421.1M322.5 458.4L157.5 427.5M318.3 464.8L153.3 433.9M314 471.2L149 440.4M309.7 477.7L144.7 446.8M305.4 484.1L140.4 453.2M301.2 490.5L136.2 459.6M296.9 496.9L131.9 466.1M292.6 503.4L127.6 472.5M288.3 509.8L123.3 478.9M284 516.2L119 485.3M279.8 522.6L114.8 491.8M275.5 529.1L110.5 498.2M271.2 535.5L106.2 504.6M266.9 541.9L101.9 511M262.7 548.3L97.7 517.4M258.4 554.8L93.4 523.9M254.1 561.2L89.1 530.3M249.8 567.6L84.8 536.7M245.6 574.1L80.6 543.2M241.3 580.5L76.3 549.6M237 586.9L72 556M232.7 593.3L67.7 562.4M228.5 599.8L63.5 568.9M224.2 606.2L59.2 575.3M219.9 612.6L54.9 581.7M348.2 419.9L219.9 612.6M342.7 418.8L214.4 611.6M337.2 417.8L208.9 610.5M331.7 416.8L203.4 609.5M326.2 415.7L197.9 608.5M320.7 414.7L192.4 607.5M315.2 413.7L186.9 606.4M309.7 412.6L181.4 605.4M304.2 411.6L175.9 604.4M298.7 410.6L170.4 603.3M293.2 409.6L164.9 602.3M287.7 408.5L159.4 601.3M282.2 407.5L153.9 600.2M276.7 406.5L148.4 599.2M271.2 405.4L142.9 598.2M265.7 404.4L137.4 597.1M260.2 403.4L131.9 596.1M254.7 402.3L126.4 595.1M249.2 401.3L120.9 594.1M243.7 400.3L115.4 593M238.2 399.2L109.9 592M232.7 398.2L104.4 591M227.2 397.2L98.9 589.9M221.7 396.2L93.4 588.9M216.2 395.1L87.9 587.9M210.7 394.1L82.4 586.9M205.2 393.1L76.9 585.8M199.7 392L71.4 584.8M194.2 391L65.9 583.8M188.7 390L60.4 582.7M183.2 389L54.9 581.7" fill="none" stroke="#000" stroke-width="0.5" stroke-opacity="1.0"/><text transform="translate(46.7 584.8) scale(1 1.04)" font-size="9.3" text-anchor="end" fill="#262626" font-family="Liberation Sans">0</text><text transform="translate(46.7 552.3) scale(1 1.04)" font-size="9.3" text-anchor="end" fill="#262626" font-family="Liberation Sans">0.01</text><text transform="translate(46.7 519.8) scale(1 1.04)" font-size="9.3" text-anchor="end" fill="#262626" font-family="Liberation Sans">0.02</text><text transform="translate(46.7 487.3) scale(1 1.04)" font-size="9.3" text-anchor="end" fill="#262626" font-family="Liberation Sans">0.03</text><text transform="translate(46.7 454.8) scale(1 1.04)" font-size="9.3" text-anchor="end" fill="#262626" font-family="Liberation Sans">0.04</text><text transform="translate(46.7 422.3) scale(1 1.04)" font-size="9.3" text-anchor="end" fill="#262626" font-family="Liberation Sans">0.05</text><text transform="translate(211.6 624.9) scale(1 1.04)" font-size="9.3" text-anchor="end" fill="#262626" font-family="Liberation Sans">0</text><text transform="translate(170.3 617.2) scale(1 1.04)" font-size="9.3" text-anchor="end" fill="#262626" font-family="Liberation Sans">0.5</text><text transform="translate(129.1 609.4) scale(1 1.04)" font-size="9.3" text-anchor="end" fill="#262626" font-family="Liberation Sans">1</text><text transform="translate(87.8 601.7) scale(1 1.04)" font-size="9.3" text-anchor="end" fill="#262626" font-family="Liberation Sans">1.5</text><text transform="translate(46.6 594) scale(1 1.04)" font-size="9.3" text-anchor="end" fill="#262626" font-family="Liberation Sans">2</text><text transform="translate(355.5 585.5) scale(1 1.04)" font-size="9.3" text-anchor="start" fill="#262626" font-family="Liberation Sans">0</text><text transform="translate(323.4 595.2) scale(1 1.04)" font-size="9.3" text-anchor="start" fill="#262626" font-family="Liberation Sans">0.5</text><text transform="translate(291.3 604.9) scale(1 1.04)" font-size="9.3" text-anchor="start" fill="#262626" font-family="Liberation Sans">1</text><text transform="translate(259.3 614.5) scale(1 1.04)" font-size="9.3" text-anchor="start" fill="#262626" font-family="Liberation Sans">1.5</text><text transform="translate(227.2 624.2) scale(1 1.04)" font-size="9.3" text-anchor="start" fill="#262626" font-family="Liberation Sans">2</text><text transform="translate(137.3 632) scale(1 1.04)" font-size="10" text-anchor="middle" fill="#262626" font-family="Liberation Sans">x [cm]</text><text transform="translate(292.6 631) scale(1 1.04)" font-size="10" text-anchor="middle" fill="#262626" font-family="Liberation Sans">y [cm]</text><text transform="translate(22.3 501.9) rotate(-90) scale(1 1.2)" font-size="9.2" fill="#333" font-family="Liberation Sans">[V]</text><text transform="translate(22.3 511.8) rotate(-90) scale(1.3 1)" font-size="9.2" fill="#333" font-family="Liberation Serif" font-style="italic">φ</text><text x="15.6" y="369.3" font-size="26" text-anchor="start" fill="#000" font-family="Liberation Sans">c</text><text x="243.3" y="397" font-size="24" fill="#000" font-family="Liberation Serif" font-style="italic">φ</text><text x="257" y="393.3" font-size="20.6" fill="#000" font-family="Liberation Serif">(</text><text x="265.6" y="397.5" font-size="27.3" fill="#000" font-family="Liberation Serif">0</text><text x="281.4" y="393.3" font-size="20.6" fill="#000" font-family="Liberation Serif">)</text><line x1="245" y1="382.3" x2="257" y2="382.3" stroke="#000" stroke-width="1.2"/><path d="M112 596.6L150 599.6L156.5 601L156.5 621L112 621Z" fill="#fff"/><text x="113.6" y="615.9" font-size="22" fill="#000" font-family="Liberation Serif" font-style="italic">φ</text><text x="127.4" y="612.5" font-size="20.3" fill="#000" font-family="Liberation Serif">(</text><text x="137.2" y="615.6" font-size="22" fill="#000" font-family="Liberation Serif">L</text><text x="153.2" y="612.5" font-size="20.3" fill="#000" font-family="Liberation Serif">)</text><line x1="115.4" y1="601.9" x2="125.6" y2="601.9" stroke="#000" stroke-width="1.2"/><line x1="422.4" y1="612.5" x2="422.4" y2="609.5" stroke="#4a4a4a" stroke-width="0.9"/><line x1="422.4" y1="380.4" x2="422.4" y2="383.4" stroke="#4a4a4a" stroke-width="0.9"/><line x1="495.8" y1="612.5" x2="495.8" y2="609.5" stroke="#4a4a4a" stroke-width="0.9"/><line x1="495.8" y1="380.4" x2="495.8" y2="383.4" stroke="#4a4a4a" stroke-width="0.9"/><line x1="569.1" y1="612.5" x2="569.1" y2="609.5" stroke="#4a4a4a" stroke-width="0.9"/><line x1="569.1" y1="380.4" x2="569.1" y2="383.4" stroke="#4a4a4a" stroke-width="0.9"/><line x1="642.5" y1="612.5" x2="642.5" y2="609.5" stroke="#4a4a4a" stroke-width="0.9"/><line x1="642.5" y1="380.4" x2="642.5" y2="383.4" stroke="#4a4a4a" stroke-width="0.9"/><line x1="715.9" y1="612.5" x2="715.9" y2="609.5" stroke="#4a4a4a" stroke-width="0.9"/><line x1="715.9" y1="380.4" x2="715.9" y2="383.4" stroke="#4a4a4a" stroke-width="0.9"/><line x1="422.4" y1="380.4" x2="425.4" y2="380.4" stroke="#4a4a4a" stroke-width="0.9"/><line x1="715.9" y1="380.4" x2="712.9" y2="380.4" stroke="#4a4a4a" stroke-width="0.9"/><line x1="422.4" y1="403.6" x2="425.4" y2="403.6" stroke="#4a4a4a" stroke-width="0.9"/><line x1="715.9" y1="403.6" x2="712.9" y2="403.6" stroke="#4a4a4a" stroke-width="0.9"/><line x1="422.4" y1="426.8" x2="425.4" y2="426.8" stroke="#4a4a4a" stroke-width="0.9"/><line x1="715.9" y1="426.8" x2="712.9" y2="426.8" stroke="#4a4a4a" stroke-width="0.9"/><line x1="422.4" y1="450" x2="425.4" y2="450" stroke="#4a4a4a" stroke-width="0.9"/><line x1="715.9" y1="450" x2="712.9" y2="450" stroke="#4a4a4a" stroke-width="0.9"/><line x1="422.4" y1="473.2" x2="425.4" y2="473.2" stroke="#4a4a4a" stroke-width="0.9"/><line x1="715.9" y1="473.2" x2="712.9" y2="473.2" stroke="#4a4a4a" stroke-width="0.9"/><line x1="422.4" y1="496.4" x2="425.4" y2="496.4" stroke="#4a4a4a" stroke-width="0.9"/><line x1="715.9" y1="496.4" x2="712.9" y2="496.4" stroke="#4a4a4a" stroke-width="0.9"/><line x1="422.4" y1="519.7" x2="425.4" y2="519.7" stroke="#4a4a4a" stroke-width="0.9"/><line x1="715.9" y1="519.7" x2="712.9" y2="519.7" stroke="#4a4a4a" stroke-width="0.9"/><line x1="422.4" y1="542.9" x2="425.4" y2="542.9" stroke="#4a4a4a" stroke-width="0.9"/><line x1="715.9" y1="542.9" x2="712.9" y2="542.9" stroke="#4a4a4a" stroke-width="0.9"/><line x1="422.4" y1="566.1" x2="425.4" y2="566.1" stroke="#4a4a4a" stroke-width="0.9"/><line x1="715.9" y1="566.1" x2="712.9" y2="566.1" stroke="#4a4a4a" stroke-width="0.9"/><line x1="422.4" y1="589.3" x2="425.4" y2="589.3" stroke="#4a4a4a" stroke-width="0.9"/><line x1="715.9" y1="589.3" x2="712.9" y2="589.3" stroke="#4a4a4a" stroke-width="0.9"/><line x1="422.4" y1="612.5" x2="425.4" y2="612.5" stroke="#4a4a4a" stroke-width="0.9"/><line x1="715.9" y1="612.5" x2="712.9" y2="612.5" stroke="#4a4a4a" stroke-width="0.9"/><rect x="422.4" y="380.4" width="293.5" height="232.1" fill="none" stroke="#6a6a6a" stroke-width="1.15"/><line x1="422.4" y1="391.6" x2="715.9" y2="391.6" stroke="#800000" stroke-width="1.3" stroke-opacity="0.72"/><line x1="422.4" y1="402.7" x2="715.9" y2="402.7" stroke="#af0000" stroke-width="1.3" stroke-opacity="0.72"/><line x1="422.4" y1="413.7" x2="715.9" y2="413.7" stroke="#df0000" stroke-width="1.3" stroke-opacity="0.72"/><line x1="422.4" y1="424.8" x2="715.9" y2="424.8" stroke="#ff2000" stroke-width="1.3" stroke-opacity="0.72"/><line x1="422.4" y1="435.8" x2="715.9" y2="435.8" stroke="#ff5000" stroke-width="1.3" stroke-opacity="0.72"/><line x1="422.4" y1="446.9" x2="715.9" y2="446.9" stroke="#ff8000" stroke-width="1.3" stroke-opacity="0.72"/><line x1="422.4" y1="457.9" x2="715.9" y2="457.9" stroke="#ffbf00" stroke-width="1.3" stroke-opacity="0.72"/><line x1="422.4" y1="469" x2="715.9" y2="469" stroke="#ffef00" stroke-width="1.3" stroke-opacity="0.72"/><line x1="422.4" y1="480" x2="715.9" y2="480" stroke="#dfff20" stroke-width="1.3" stroke-opacity="0.72"/><line x1="422.4" y1="491.1" x2="715.9" y2="491.1" stroke="#9fff60" stroke-width="1.3" stroke-opacity="0.72"/><line x1="422.4" y1="502.1" x2="715.9" y2="502.1" stroke="#70ff8f" stroke-width="1.3" stroke-opacity="0.72"/><line x1="422.4" y1="513.2" x2="715.9" y2="513.2" stroke="#30ffcf" stroke-width="1.3" stroke-opacity="0.72"/><line x1="422.4" y1="524.2" x2="715.9" y2="524.2" stroke="#00ffff" stroke-width="1.3" stroke-opacity="0.72"/><line x1="422.4" y1="535.2" x2="715.9" y2="535.2" stroke="#00cfff" stroke-width="1.3" stroke-opacity="0.72"/><line x1="422.4" y1="546.3" x2="715.9" y2="546.3" stroke="#008fff" stroke-width="1.3" stroke-opacity="0.72"/><line x1="422.4" y1="557.4" x2="715.9" y2="557.4" stroke="#0060ff" stroke-width="1.3" stroke-opacity="0.72"/><line x1="422.4" y1="568.4" x2="715.9" y2="568.4" stroke="#0030ff" stroke-width="1.3" stroke-opacity="0.72"/><line x1="422.4" y1="579.5" x2="715.9" y2="579.5" stroke="#0000ef" stroke-width="1.3" stroke-opacity="0.72"/><line x1="422.4" y1="590.5" x2="715.9" y2="590.5" stroke="#0000bf" stroke-width="1.3" stroke-opacity="0.72"/><line x1="422.4" y1="601.6" x2="715.9" y2="601.6" stroke="#00008f" stroke-width="1.3" stroke-opacity="0.72"/><text transform="translate(418.2 384.6) scale(1 1.09)" font-size="9.3" text-anchor="end" fill="#262626" font-family="Liberation Sans">0</text><text transform="translate(418.2 407.8) scale(1 1.09)" font-size="9.3" text-anchor="end" fill="#262626" font-family="Liberation Sans">0.2</text><text transform="translate(418.2 431) scale(1 1.09)" font-size="9.3" text-anchor="end" fill="#262626" font-family="Liberation Sans">0.4</text><text transform="translate(418.2 454.2) scale(1 1.09)" font-size="9.3" text-anchor="end" fill="#262626" font-family="Liberation Sans">0.6</text><text transform="translate(418.2 477.4) scale(1 1.09)" font-size="9.3" text-anchor="end" fill="#262626" font-family="Liberation Sans">0.8</text><text transform="translate(418.2 500.6) scale(1 1.09)" font-size="9.3" text-anchor="end" fill="#262626" font-family="Liberation Sans">1</text><text transform="translate(418.2 523.9) scale(1 1.09)" font-size="9.3" text-anchor="end" fill="#262626" font-family="Liberation Sans">1.2</text><text transform="translate(418.2 547.1) scale(1 1.09)" font-size="9.3" text-anchor="end" fill="#262626" font-family="Liberation Sans">1.4</text><text transform="translate(418.2 570.3) scale(1 1.09)" font-size="9.3" text-anchor="end" fill="#262626" font-family="Liberation Sans">1.6</text><text transform="translate(418.2 593.5) scale(1 1.09)" font-size="9.3" text-anchor="end" fill="#262626" font-family="Liberation Sans">1.8</text><text transform="translate(418.2 616.7) scale(1 1.09)" font-size="9.3" text-anchor="end" fill="#262626" font-family="Liberation Sans">2</text><text transform="translate(422.4 626.5) scale(1 1.09)" font-size="9.3" text-anchor="middle" fill="#262626" font-family="Liberation Sans">0</text><text transform="translate(495.8 626.5) scale(1 1.09)" font-size="9.3" text-anchor="middle" fill="#262626" font-family="Liberation Sans">0.5</text><text transform="translate(569.1 626.5) scale(1 1.09)" font-size="9.3" text-anchor="middle" fill="#262626" font-family="Liberation Sans">1</text><text transform="translate(642.5 626.5) scale(1 1.09)" font-size="9.3" text-anchor="middle" fill="#262626" font-family="Liberation Sans">1.5</text><text transform="translate(715.9 626.5) scale(1 1.09)" font-size="9.3" text-anchor="middle" fill="#262626" font-family="Liberation Sans">2</text><text transform="translate(569.2 639.5) scale(1 1.09)" font-size="10" text-anchor="middle" fill="#262626" font-family="Liberation Sans">x [cm]</text><text transform="translate(402 496) rotate(-90)" font-size="10" text-anchor="middle" fill="#262626" font-family="Liberation Sans">y [cm]</text><text x="374.3" y="368.4" font-size="24.5" text-anchor="start" fill="#000" font-family="Liberation Sans">d</text><line x1="337.2" y1="880.5" x2="207.7" y2="919" stroke="#e3e3e3" stroke-width="0.8"/><line x1="295.6" y1="872.9" x2="166.1" y2="911.4" stroke="#e3e3e3" stroke-width="0.8"/><line x1="253.9" y1="865.4" x2="124.4" y2="903.9" stroke="#e3e3e3" stroke-width="0.8"/><line x1="212.2" y1="857.8" x2="82.8" y2="896.3" stroke="#e3e3e3" stroke-width="0.8"/><line x1="170.6" y1="850.2" x2="41.1" y2="888.7" stroke="#e3e3e3" stroke-width="0.8"/><line x1="337.2" y1="880.5" x2="170.6" y2="850.2" stroke="#e3e3e3" stroke-width="0.8"/><line x1="304.8" y1="890.1" x2="138.2" y2="859.8" stroke="#e3e3e3" stroke-width="0.8"/><line x1="272.4" y1="899.8" x2="105.8" y2="869.5" stroke="#e3e3e3" stroke-width="0.8"/><line x1="240.1" y1="909.4" x2="73.5" y2="879.1" stroke="#e3e3e3" stroke-width="0.8"/><line x1="207.7" y1="919" x2="41.1" y2="888.7" stroke="#e3e3e3" stroke-width="0.8"/><line x1="170.6" y1="850.2" x2="170.6" y2="686.8" stroke="#e3e3e3" stroke-width="0.8"/><line x1="138.2" y1="859.8" x2="138.2" y2="696.4" stroke="#e3e3e3" stroke-width="0.8"/><line x1="105.8" y1="869.5" x2="105.8" y2="706.1" stroke="#e3e3e3" stroke-width="0.8"/><line x1="73.5" y1="879.1" x2="73.5" y2="715.7" stroke="#e3e3e3" stroke-width="0.8"/><line x1="41.1" y1="888.7" x2="41.1" y2="725.3" stroke="#e3e3e3" stroke-width="0.8"/><line x1="170.6" y1="850.2" x2="41.1" y2="888.7" stroke="#e3e3e3" stroke-width="0.8"/><line x1="170.6" y1="809.4" x2="41.1" y2="847.9" stroke="#e3e3e3" stroke-width="0.8"/><line x1="170.6" y1="768.5" x2="41.1" y2="807" stroke="#e3e3e3" stroke-width="0.8"/><line x1="170.6" y1="727.7" x2="41.1" y2="766.2" stroke="#e3e3e3" stroke-width="0.8"/><line x1="170.6" y1="686.8" x2="41.1" y2="725.3" stroke="#e3e3e3" stroke-width="0.8"/><line x1="337.2" y1="880.5" x2="337.2" y2="717.1" stroke="#e3e3e3" stroke-width="0.8"/><line x1="295.6" y1="872.9" x2="295.6" y2="709.5" stroke="#e3e3e3" stroke-width="0.8"/><line x1="253.9" y1="865.4" x2="253.9" y2="702" stroke="#e3e3e3" stroke-width="0.8"/><line x1="212.2" y1="857.8" x2="212.2" y2="694.4" stroke="#e3e3e3" stroke-width="0.8"/><line x1="170.6" y1="850.2" x2="170.6" y2="686.8" stroke="#e3e3e3" stroke-width="0.8"/><line x1="337.2" y1="880.5" x2="170.6" y2="850.2" stroke="#e3e3e3" stroke-width="0.8"/><line x1="337.2" y1="839.6" x2="170.6" y2="809.4" stroke="#e3e3e3" stroke-width="0.8"/><line x1="337.2" y1="798.8" x2="170.6" y2="768.5" stroke="#e3e3e3" stroke-width="0.8"/><line x1="337.2" y1="758" x2="170.6" y2="727.7" stroke="#e3e3e3" stroke-width="0.8"/><line x1="337.2" y1="717.1" x2="170.6" y2="686.8" stroke="#e3e3e3" stroke-width="0.8"/><line x1="41.1" y1="888.7" x2="41.1" y2="725.3" stroke="#4a4a4a" stroke-width="0.9"/><line x1="41.1" y1="888.7" x2="207.7" y2="919" stroke="#4a4a4a" stroke-width="0.9"/><line x1="207.7" y1="919" x2="337.2" y2="880.5" stroke="#4a4a4a" stroke-width="0.9"/><line x1="41.1" y1="888.7" x2="36.2" y2="887.8" stroke="#4a4a4a" stroke-width="0.9"/><line x1="41.1" y1="847.9" x2="36.2" y2="847" stroke="#4a4a4a" stroke-width="0.9"/><line x1="41.1" y1="807" x2="36.2" y2="806.1" stroke="#4a4a4a" stroke-width="0.9"/><line x1="41.1" y1="766.2" x2="36.2" y2="765.3" stroke="#4a4a4a" stroke-width="0.9"/><line x1="41.1" y1="725.3" x2="36.2" y2="724.4" stroke="#4a4a4a" stroke-width="0.9"/><line x1="207.7" y1="919" x2="202.9" y2="920.4" stroke="#4a4a4a" stroke-width="0.9"/><line x1="166.1" y1="911.4" x2="161.3" y2="912.8" stroke="#4a4a4a" stroke-width="0.9"/><line x1="124.4" y1="903.9" x2="119.6" y2="905.3" stroke="#4a4a4a" stroke-width="0.9"/><line x1="82.8" y1="896.3" x2="78" y2="897.7" stroke="#4a4a4a" stroke-width="0.9"/><line x1="41.1" y1="888.7" x2="36.3" y2="890.1" stroke="#4a4a4a" stroke-width="0.9"/><line x1="337.2" y1="880.5" x2="342.1" y2="881.4" stroke="#4a4a4a" stroke-width="0.9"/><line x1="304.8" y1="890.1" x2="309.7" y2="891" stroke="#4a4a4a" stroke-width="0.9"/><line x1="272.4" y1="899.8" x2="277.4" y2="900.6" stroke="#4a4a4a" stroke-width="0.9"/><line x1="240.1" y1="909.4" x2="245" y2="910.3" stroke="#4a4a4a" stroke-width="0.9"/><line x1="207.7" y1="919" x2="212.6" y2="919.9" stroke="#4a4a4a" stroke-width="0.9"/><g stroke="none"><path d="M337.2 725.6L331.6 724.6L326.1 723.6L320.5 722.6L315 721.6L309.4 720.5L303.9 719.5L298.3 718.5L292.8 717.5L287.2 716.5L281.7 715.5L276.1 714.5L270.6 713.5L265 712.5L259.5 711.5L253.9 710.4L248.3 709.4L242.8 708.4L237.2 707.4L231.7 706.4L226.1 705.4L220.6 704.4L215 703.4L209.5 702.4L203.9 701.4L198.4 700.3L192.8 699.3L187.3 698.3L181.7 697.3L176.2 696.3L170.6 695.3L166.3 701.7L171.8 702.8L177.4 703.8L182.9 704.8L188.5 705.8L194 706.8L199.6 707.8L205.2 708.8L210.7 709.8L216.3 710.8L221.8 711.8L227.4 712.9L232.9 713.9L238.5 714.9L244 715.9L249.6 716.9L255.1 717.9L260.7 718.9L266.2 719.9L271.8 720.9L277.3 721.9L282.9 723L288.5 724L294 725L299.6 726L305.1 727L310.7 728L316.2 729L321.8 730L327.3 731L332.9 732Z" fill="#800000" stroke="#800000" stroke-width="0.3"/><path d="M332.9 732L327.3 731L321.8 730L316.2 729L310.7 728L305.1 727L299.6 726L294 725L288.5 724L282.9 723L277.3 721.9L271.8 720.9L266.2 719.9L260.7 718.9L255.1 717.9L249.6 716.9L244 715.9L238.5 714.9L232.9 713.9L227.4 712.9L221.8 711.8L216.3 710.8L210.7 709.8L205.2 708.8L199.6 707.8L194 706.8L188.5 705.8L182.9 704.8L177.4 703.8L171.8 702.8L166.3 701.7L162 708.2L167.5 709.2L173.1 710.2L178.6 711.2L184.2 712.2L189.7 713.2L195.3 714.3L200.8 715.3L206.4 716.3L211.9 717.3L217.5 718.3L223.1 719.3L228.6 720.3L234.2 721.3L239.7 722.3L245.3 723.3L250.8 724.4L256.4 725.4L261.9 726.4L267.5 727.4L273 728.4L278.6 729.4L284.1 730.4L289.7 731.4L295.2 732.4L300.8 733.4L306.4 734.5L311.9 735.5L317.5 736.5L323 737.5L328.6 738.5Z" fill="#9f0000" stroke="#9f0000" stroke-width="0.3"/><path d="M328.6 738.5L323 737.5L317.5 736.5L311.9 735.5L306.4 734.5L300.8 733.4L295.2 732.4L289.7 731.4L284.1 730.4L278.6 729.4L273 728.4L267.5 727.4L261.9 726.4L256.4 725.4L250.8 724.4L245.3 723.3L239.7 722.3L234.2 721.3L228.6 720.3L223.1 719.3L217.5 718.3L211.9 717.3L206.4 716.3L200.8 715.3L195.3 714.3L189.7 713.2L184.2 712.2L178.6 711.2L173.1 710.2L167.5 709.2L162 708.2L157.7 714.6L163.2 715.6L168.8 716.7L174.3 717.7L179.9 718.7L185.4 719.7L191 720.7L196.5 721.7L202.1 722.7L207.6 723.7L213.2 724.7L218.7 725.7L224.3 726.8L229.8 727.8L235.4 728.8L240.9 729.8L246.5 730.8L252.1 731.8L257.6 732.8L263.2 733.8L268.7 734.8L274.3 735.8L279.8 736.9L285.4 737.9L290.9 738.9L296.5 739.9L302 740.9L307.6 741.9L313.1 742.9L318.7 743.9L324.2 744.9Z" fill="#bf0000" stroke="#bf0000" stroke-width="0.3"/><path d="M324.2 744.9L318.7 743.9L313.1 742.9L307.6 741.9L302 740.9L296.5 739.9L290.9 738.9L285.4 737.9L279.8 736.9L274.3 735.8L268.7 734.8L263.2 733.8L257.6 732.8L252.1 731.8L246.5 730.8L240.9 729.8L235.4 728.8L229.8 727.8L224.3 726.8L218.7 725.7L213.2 724.7L207.6 723.7L202.1 722.7L196.5 721.7L191 720.7L185.4 719.7L179.9 718.7L174.3 717.7L168.8 716.7L163.2 715.6L157.7 714.6L153.3 721.1L158.9 722.1L164.4 723.1L170 724.1L175.5 725.1L181.1 726.1L186.7 727.1L192.2 728.2L197.8 729.2L203.3 730.2L208.9 731.2L214.4 732.2L220 733.2L225.5 734.2L231.1 735.2L236.6 736.2L242.2 737.2L247.7 738.3L253.3 739.3L258.8 740.3L264.4 741.3L270 742.3L275.5 743.3L281.1 744.3L286.6 745.3L292.2 746.3L297.7 747.3L303.3 748.4L308.8 749.4L314.4 750.4L319.9 751.4Z" fill="#df0000" stroke="#df0000" stroke-width="0.3"/><path d="M319.9 751.4L314.4 750.4L308.8 749.4L303.3 748.4L297.7 747.3L292.2 746.3L286.6 745.3L281.1 744.3L275.5 743.3L270 742.3L264.4 741.3L258.8 740.3L253.3 739.3L247.7 738.3L242.2 737.2L236.6 736.2L231.1 735.2L225.5 734.2L220 733.2L214.4 732.2L208.9 731.2L203.3 730.2L197.8 729.2L192.2 728.2L186.7 727.1L181.1 726.1L175.5 725.1L170 724.1L164.4 723.1L158.9 722.1L153.3 721.1L149 727.5L154.6 728.5L160.1 729.6L165.7 730.6L171.2 731.6L176.8 732.6L182.3 733.6L187.9 734.6L193.4 735.6L199 736.6L204.5 737.6L210.1 738.6L215.7 739.7L221.2 740.7L226.8 741.7L232.3 742.7L237.9 743.7L243.4 744.7L249 745.7L254.5 746.7L260.1 747.7L265.6 748.7L271.2 749.8L276.7 750.8L282.3 751.8L287.9 752.8L293.4 753.8L299 754.8L304.5 755.8L310.1 756.8L315.6 757.8Z" fill="#ff0000" stroke="#ff0000" stroke-width="0.3"/><path d="M315.6 757.8L310.1 756.8L304.5 755.8L299 754.8L293.4 753.8L287.9 752.8L282.3 751.8L276.7 750.8L271.2 749.8L265.6 748.7L260.1 747.7L254.5 746.7L249 745.7L243.4 744.7L237.9 743.7L232.3 742.7L226.8 741.7L221.2 740.7L215.7 739.7L210.1 738.6L204.5 737.6L199 736.6L193.4 735.6L187.9 734.6L182.3 733.6L176.8 732.6L171.2 731.6L165.7 730.6L160.1 729.6L154.6 728.5L149 727.5L144.7 734L150.3 735L155.8 736L161.4 737L166.9 738L172.5 739L178 740L183.6 741L189.1 742.1L194.7 743.1L200.2 744.1L205.8 745.1L211.3 746.1L216.9 747.1L222.4 748.1L228 749.1L233.6 750.1L239.1 751.1L244.7 752.2L250.2 753.2L255.8 754.2L261.3 755.2L266.9 756.2L272.4 757.2L278 758.2L283.5 759.2L289.1 760.2L294.6 761.2L300.2 762.3L305.7 763.3L311.3 764.3Z" fill="#ff2000" stroke="#ff2000" stroke-width="0.3"/><path d="M311.3 764.3L305.7 763.3L300.2 762.3L294.6 761.2L289.1 760.2L283.5 759.2L278 758.2L272.4 757.2L266.9 756.2L261.3 755.2L255.8 754.2L250.2 753.2L244.7 752.2L239.1 751.1L233.6 750.1L228 749.1L222.4 748.1L216.9 747.1L211.3 746.1L205.8 745.1L200.2 744.1L194.7 743.1L189.1 742.1L183.6 741L178 740L172.5 739L166.9 738L161.4 737L155.8 736L150.3 735L144.7 734L140.4 740.4L145.9 741.4L151.5 742.4L157 743.5L162.6 744.5L168.1 745.5L173.7 746.5L179.3 747.5L184.8 748.5L190.4 749.5L195.9 750.5L201.5 751.5L207 752.5L212.6 753.6L218.1 754.6L223.7 755.6L229.2 756.6L234.8 757.6L240.3 758.6L245.9 759.6L251.4 760.6L257 761.6L262.6 762.6L268.1 763.7L273.7 764.7L279.2 765.7L284.8 766.7L290.3 767.7L295.9 768.7L301.4 769.7L307 770.7Z" fill="#ff4000" stroke="#ff4000" stroke-width="0.3"/><path d="M307 770.7L301.4 769.7L295.9 768.7L290.3 767.7L284.8 766.7L279.2 765.7L273.7 764.7L268.1 763.7L262.6 762.6L257 761.6L251.4 760.6L245.9 759.6L240.3 758.6L234.8 757.6L229.2 756.6L223.7 755.6L218.1 754.6L212.6 753.6L207 752.5L201.5 751.5L195.9 750.5L190.4 749.5L184.8 748.5L179.3 747.5L173.7 746.5L168.1 745.5L162.6 744.5L157 743.5L151.5 742.4L145.9 741.4L140.4 740.4L136.1 746.9L141.6 747.9L147.2 748.9L152.7 749.9L158.3 750.9L163.8 751.9L169.4 752.9L174.9 753.9L180.5 755L186 756L191.6 757L197.2 758L202.7 759L208.3 760L213.8 761L219.4 762L224.9 763L230.5 764L236 765.1L241.6 766.1L247.1 767.1L252.7 768.1L258.2 769.1L263.8 770.1L269.3 771.1L274.9 772.1L280.5 773.1L286 774.1L291.6 775.2L297.1 776.2L302.7 777.2Z" fill="#ff6000" stroke="#ff6000" stroke-width="0.3"/><path d="M302.7 777.2L297.1 776.2L291.6 775.2L286 774.1L280.5 773.1L274.9 772.1L269.3 771.1L263.8 770.1L258.2 769.1L252.7 768.1L247.1 767.1L241.6 766.1L236 765.1L230.5 764L224.9 763L219.4 762L213.8 761L208.3 760L202.7 759L197.2 758L191.6 757L186 756L180.5 755L174.9 753.9L169.4 752.9L163.8 751.9L158.3 750.9L152.7 749.9L147.2 748.9L141.6 747.9L136.1 746.9L131.8 753.3L137.3 754.3L142.9 755.3L148.4 756.3L154 757.4L159.5 758.4L165.1 759.4L170.6 760.4L176.2 761.4L181.7 762.4L187.3 763.4L192.8 764.4L198.4 765.4L203.9 766.4L209.5 767.5L215 768.5L220.6 769.5L226.2 770.5L231.7 771.5L237.3 772.5L242.8 773.5L248.4 774.5L253.9 775.5L259.5 776.5L265 777.6L270.6 778.6L276.1 779.6L281.7 780.6L287.2 781.6L292.8 782.6L298.3 783.6Z" fill="#ff8f00" stroke="#ff8f00" stroke-width="0.3"/><path d="M298.3 783.6L292.8 782.6L287.2 781.6L281.7 780.6L276.1 779.6L270.6 778.6L265 777.6L259.5 776.5L253.9 775.5L248.4 774.5L242.8 773.5L237.3 772.5L231.7 771.5L226.2 770.5L220.6 769.5L215 768.5L209.5 767.5L203.9 766.4L198.4 765.4L192.8 764.4L187.3 763.4L181.7 762.4L176.2 761.4L170.6 760.4L165.1 759.4L159.5 758.4L154 757.4L148.4 756.3L142.9 755.3L137.3 754.3L131.8 753.3L127.4 759.8L133 760.8L138.5 761.8L144.1 762.8L149.6 763.8L155.2 764.8L160.8 765.8L166.3 766.8L171.9 767.8L177.4 768.9L183 769.9L188.5 770.9L194.1 771.9L199.6 772.9L205.2 773.9L210.7 774.9L216.3 775.9L221.8 776.9L227.4 777.9L232.9 779L238.5 780L244.1 781L249.6 782L255.2 783L260.7 784L266.3 785L271.8 786L277.4 787L282.9 788L288.5 789.1L294 790.1Z" fill="#ffaf00" stroke="#ffaf00" stroke-width="0.3"/><path d="M294 790.1L288.5 789.1L282.9 788L277.4 787L271.8 786L266.3 785L260.7 784L255.2 783L249.6 782L244.1 781L238.5 780L232.9 779L227.4 777.9L221.8 776.9L216.3 775.9L210.7 774.9L205.2 773.9L199.6 772.9L194.1 771.9L188.5 770.9L183 769.9L177.4 768.9L171.9 767.8L166.3 766.8L160.8 765.8L155.2 764.8L149.6 763.8L144.1 762.8L138.5 761.8L133 760.8L127.4 759.8L123.1 766.2L128.7 767.2L134.2 768.2L139.8 769.2L145.3 770.3L150.9 771.3L156.4 772.3L162 773.3L167.5 774.3L173.1 775.3L178.7 776.3L184.2 777.3L189.8 778.3L195.3 779.3L200.9 780.4L206.4 781.4L212 782.4L217.5 783.4L223.1 784.4L228.6 785.4L234.2 786.4L239.7 787.4L245.3 788.4L250.8 789.4L256.4 790.5L261.9 791.5L267.5 792.5L273.1 793.5L278.6 794.5L284.2 795.5L289.7 796.5Z" fill="#ffcf00" stroke="#ffcf00" stroke-width="0.3"/><path d="M289.7 796.5L284.2 795.5L278.6 794.5L273.1 793.5L267.5 792.5L261.9 791.5L256.4 790.5L250.8 789.4L245.3 788.4L239.7 787.4L234.2 786.4L228.6 785.4L223.1 784.4L217.5 783.4L212 782.4L206.4 781.4L200.9 780.4L195.3 779.3L189.8 778.3L184.2 777.3L178.7 776.3L173.1 775.3L167.5 774.3L162 773.3L156.4 772.3L150.9 771.3L145.3 770.3L139.8 769.2L134.2 768.2L128.7 767.2L123.1 766.2L118.8 772.7L124.4 773.7L129.9 774.7L135.5 775.7L141 776.7L146.6 777.7L152.1 778.7L157.7 779.7L163.2 780.7L168.8 781.7L174.3 782.8L179.9 783.8L185.4 784.8L191 785.8L196.5 786.8L202.1 787.8L207.7 788.8L213.2 789.8L218.8 790.8L224.3 791.8L229.9 792.9L235.4 793.9L241 794.9L246.5 795.9L252.1 796.9L257.6 797.9L263.2 798.9L268.7 799.9L274.3 800.9L279.8 801.9L285.4 803Z" fill="#ffef00" stroke="#ffef00" stroke-width="0.3"/><path d="M285.4 803L279.8 801.9L274.3 800.9L268.7 799.9L263.2 798.9L257.6 797.9L252.1 796.9L246.5 795.9L241 794.9L235.4 793.9L229.9 792.9L224.3 791.8L218.8 790.8L213.2 789.8L207.7 788.8L202.1 787.8L196.5 786.8L191 785.8L185.4 784.8L179.9 783.8L174.3 782.8L168.8 781.7L163.2 780.7L157.7 779.7L152.1 778.7L146.6 777.7L141 776.7L135.5 775.7L129.9 774.7L124.4 773.7L118.8 772.7L114.5 779.1L120 780.1L125.6 781.1L131.1 782.1L136.7 783.1L142.2 784.2L147.8 785.2L153.4 786.2L158.9 787.2L164.5 788.2L170 789.2L175.6 790.2L181.1 791.2L186.7 792.2L192.2 793.2L197.8 794.3L203.3 795.3L208.9 796.3L214.4 797.3L220 798.3L225.5 799.3L231.1 800.3L236.7 801.3L242.2 802.3L247.8 803.3L253.3 804.4L258.9 805.4L264.4 806.4L270 807.4L275.5 808.4L281.1 809.4Z" fill="#efff10" stroke="#efff10" stroke-width="0.3"/><path d="M281.1 809.4L275.5 808.4L270 807.4L264.4 806.4L258.9 805.4L253.3 804.4L247.8 803.3L242.2 802.3L236.7 801.3L231.1 800.3L225.5 799.3L220 798.3L214.4 797.3L208.9 796.3L203.3 795.3L197.8 794.3L192.2 793.2L186.7 792.2L181.1 791.2L175.6 790.2L170 789.2L164.5 788.2L158.9 787.2L153.4 786.2L147.8 785.2L142.2 784.2L136.7 783.1L131.1 782.1L125.6 781.1L120 780.1L114.5 779.1L110.2 785.6L115.7 786.6L121.3 787.6L126.8 788.6L132.4 789.6L137.9 790.6L143.5 791.6L149 792.6L154.6 793.6L160.1 794.6L165.7 795.7L171.3 796.7L176.8 797.7L182.4 798.7L187.9 799.7L193.5 800.7L199 801.7L204.6 802.7L210.1 803.7L215.7 804.7L221.2 805.8L226.8 806.8L232.3 807.8L237.9 808.8L243.4 809.8L249 810.8L254.6 811.8L260.1 812.8L265.7 813.8L271.2 814.8L276.8 815.9Z" fill="#cfff30" stroke="#cfff30" stroke-width="0.3"/><path d="M276.8 815.9L271.2 814.8L265.7 813.8L260.1 812.8L254.6 811.8L249 810.8L243.4 809.8L237.9 808.8L232.3 807.8L226.8 806.8L221.2 805.8L215.7 804.7L210.1 803.7L204.6 802.7L199 801.7L193.5 800.7L187.9 799.7L182.4 798.7L176.8 797.7L171.3 796.7L165.7 795.7L160.1 794.6L154.6 793.6L149 792.6L143.5 791.6L137.9 790.6L132.4 789.6L126.8 788.6L121.3 787.6L115.7 786.6L110.2 785.6L105.8 792L111.4 793L117 794L122.5 795L128.1 796L133.6 797L139.2 798.1L144.7 799.1L150.3 800.1L155.8 801.1L161.4 802.1L166.9 803.1L172.5 804.1L178 805.1L183.6 806.1L189.1 807.1L194.7 808.2L200.3 809.2L205.8 810.2L211.4 811.2L216.9 812.2L222.5 813.2L228 814.2L233.6 815.2L239.1 816.2L244.7 817.2L250.2 818.3L255.8 819.3L261.3 820.3L266.9 821.3L272.4 822.3Z" fill="#afff50" stroke="#afff50" stroke-width="0.3"/><path d="M272.4 822.3L266.9 821.3L261.3 820.3L255.8 819.3L250.2 818.3L244.7 817.2L239.1 816.2L233.6 815.2L228 814.2L222.5 813.2L216.9 812.2L211.4 811.2L205.8 810.2L200.3 809.2L194.7 808.2L189.1 807.1L183.6 806.1L178 805.1L172.5 804.1L166.9 803.1L161.4 802.1L155.8 801.1L150.3 800.1L144.7 799.1L139.2 798.1L133.6 797L128.1 796L122.5 795L117 794L111.4 793L105.8 792L101.5 798.4L107.1 799.5L112.6 800.5L118.2 801.5L123.7 802.5L129.3 803.5L134.9 804.5L140.4 805.5L146 806.5L151.5 807.5L157.1 808.5L162.6 809.6L168.2 810.6L173.7 811.6L179.3 812.6L184.8 813.6L190.4 814.6L195.9 815.6L201.5 816.6L207 817.6L212.6 818.6L218.2 819.7L223.7 820.7L229.3 821.7L234.8 822.7L240.4 823.7L245.9 824.7L251.5 825.7L257 826.7L262.6 827.7L268.1 828.7Z" fill="#8fff70" stroke="#8fff70" stroke-width="0.3"/><path d="M268.1 828.7L262.6 827.7L257 826.7L251.5 825.7L245.9 824.7L240.4 823.7L234.8 822.7L229.3 821.7L223.7 820.7L218.2 819.7L212.6 818.6L207 817.6L201.5 816.6L195.9 815.6L190.4 814.6L184.8 813.6L179.3 812.6L173.7 811.6L168.2 810.6L162.6 809.6L157.1 808.5L151.5 807.5L146 806.5L140.4 805.5L134.9 804.5L129.3 803.5L123.7 802.5L118.2 801.5L112.6 800.5L107.1 799.5L101.5 798.4L97.2 804.9L102.8 805.9L108.3 806.9L113.9 807.9L119.4 808.9L125 809.9L130.5 811L136.1 812L141.6 813L147.2 814L152.8 815L158.3 816L163.9 817L169.4 818L175 819L180.5 820L186.1 821.1L191.6 822.1L197.2 823.1L202.7 824.1L208.3 825.1L213.8 826.1L219.4 827.1L224.9 828.1L230.5 829.1L236.1 830.1L241.6 831.2L247.2 832.2L252.7 833.2L258.3 834.2L263.8 835.2Z" fill="#60ff9f" stroke="#60ff9f" stroke-width="0.3"/><path d="M263.8 835.2L258.3 834.2L252.7 833.2L247.2 832.2L241.6 831.2L236.1 830.1L230.5 829.1L224.9 828.1L219.4 827.1L213.8 826.1L208.3 825.1L202.7 824.1L197.2 823.1L191.6 822.1L186.1 821.1L180.5 820L175 819L169.4 818L163.9 817L158.3 816L152.8 815L147.2 814L141.6 813L136.1 812L130.5 811L125 809.9L119.4 808.9L113.9 807.9L108.3 806.9L102.8 805.9L97.2 804.9L92.9 811.3L98.5 812.3L104 813.4L109.6 814.4L115.1 815.4L120.7 816.4L126.2 817.4L131.8 818.4L137.3 819.4L142.9 820.4L148.4 821.4L154 822.4L159.5 823.5L165.1 824.5L170.6 825.5L176.2 826.5L181.8 827.5L187.3 828.5L192.9 829.5L198.4 830.5L204 831.5L209.5 832.5L215.1 833.6L220.6 834.6L226.2 835.6L231.7 836.6L237.3 837.6L242.8 838.6L248.4 839.6L253.9 840.6L259.5 841.6Z" fill="#40ffbf" stroke="#40ffbf" stroke-width="0.3"/><path d="M259.5 841.6L253.9 840.6L248.4 839.6L242.8 838.6L237.3 837.6L231.7 836.6L226.2 835.6L220.6 834.6L215.1 833.6L209.5 832.5L204 831.5L198.4 830.5L192.9 829.5L187.3 828.5L181.8 827.5L176.2 826.5L170.6 825.5L165.1 824.5L159.5 823.5L154 822.4L148.4 821.4L142.9 820.4L137.3 819.4L131.8 818.4L126.2 817.4L120.7 816.4L115.1 815.4L109.6 814.4L104 813.4L98.5 812.3L92.9 811.3L88.6 817.8L94.1 818.8L99.7 819.8L105.2 820.8L110.8 821.8L116.3 822.8L121.9 823.8L127.5 824.9L133 825.9L138.6 826.9L144.1 827.9L149.7 828.9L155.2 829.9L160.8 830.9L166.3 831.9L171.9 832.9L177.4 833.9L183 835L188.5 836L194.1 837L199.6 838L205.2 839L210.8 840L216.3 841L221.9 842L227.4 843L233 844L238.5 845.1L244.1 846.1L249.6 847.1L255.2 848.1Z" fill="#20ffdf" stroke="#20ffdf" stroke-width="0.3"/><path d="M255.2 848.1L249.6 847.1L244.1 846.1L238.5 845.1L233 844L227.4 843L221.9 842L216.3 841L210.8 840L205.2 839L199.6 838L194.1 837L188.5 836L183 835L177.4 833.9L171.9 832.9L166.3 831.9L160.8 830.9L155.2 829.9L149.7 828.9L144.1 827.9L138.6 826.9L133 825.9L127.5 824.9L121.9 823.8L116.3 822.8L110.8 821.8L105.2 820.8L99.7 819.8L94.1 818.8L88.6 817.8L84.3 824.2L89.8 825.2L95.4 826.3L100.9 827.3L106.5 828.3L112 829.3L117.6 830.3L123.1 831.3L128.7 832.3L134.2 833.3L139.8 834.3L145.4 835.3L150.9 836.4L156.5 837.4L162 838.4L167.6 839.4L173.1 840.4L178.7 841.4L184.2 842.4L189.8 843.4L195.3 844.4L200.9 845.4L206.4 846.5L212 847.5L217.5 848.5L223.1 849.5L228.7 850.5L234.2 851.5L239.8 852.5L245.3 853.5L250.9 854.5Z" fill="#00ffff" stroke="#00ffff" stroke-width="0.3"/><path d="M250.9 854.5L245.3 853.5L239.8 852.5L234.2 851.5L228.7 850.5L223.1 849.5L217.5 848.5L212 847.5L206.4 846.5L200.9 845.4L195.3 844.4L189.8 843.4L184.2 842.4L178.7 841.4L173.1 840.4L167.6 839.4L162 838.4L156.5 837.4L150.9 836.4L145.4 835.3L139.8 834.3L134.2 833.3L128.7 832.3L123.1 831.3L117.6 830.3L112 829.3L106.5 828.3L100.9 827.3L95.4 826.3L89.8 825.2L84.3 824.2L80 830.7L85.5 831.7L91.1 832.7L96.6 833.7L102.2 834.7L107.7 835.7L113.3 836.7L118.8 837.7L124.4 838.8L129.9 839.8L135.5 840.8L141 841.8L146.6 842.8L152.1 843.8L157.7 844.8L163.2 845.8L168.8 846.8L174.4 847.8L179.9 848.9L185.5 849.9L191 850.9L196.6 851.9L202.1 852.9L207.7 853.9L213.2 854.9L218.8 855.9L224.3 856.9L229.9 857.9L235.4 859L241 860L246.6 861Z" fill="#00dfff" stroke="#00dfff" stroke-width="0.3"/><path d="M246.6 861L241 860L235.4 859L229.9 857.9L224.3 856.9L218.8 855.9L213.2 854.9L207.7 853.9L202.1 852.9L196.6 851.9L191 850.9L185.5 849.9L179.9 848.9L174.4 847.8L168.8 846.8L163.2 845.8L157.7 844.8L152.1 843.8L146.6 842.8L141 841.8L135.5 840.8L129.9 839.8L124.4 838.8L118.8 837.7L113.3 836.7L107.7 835.7L102.2 834.7L96.6 833.7L91.1 832.7L85.5 831.7L80 830.7L75.6 837.1L81.2 838.1L86.7 839.1L92.3 840.2L97.8 841.2L103.4 842.2L109 843.2L114.5 844.2L120.1 845.2L125.6 846.2L131.2 847.2L136.7 848.2L142.3 849.2L147.8 850.3L153.4 851.3L158.9 852.3L164.5 853.3L170 854.3L175.6 855.3L181.1 856.3L186.7 857.3L192.3 858.3L197.8 859.3L203.4 860.4L208.9 861.4L214.5 862.4L220 863.4L225.6 864.4L231.1 865.4L236.7 866.4L242.2 867.4Z" fill="#00bfff" stroke="#00bfff" stroke-width="0.3"/><path d="M242.2 867.4L236.7 866.4L231.1 865.4L225.6 864.4L220 863.4L214.5 862.4L208.9 861.4L203.4 860.4L197.8 859.3L192.3 858.3L186.7 857.3L181.1 856.3L175.6 855.3L170 854.3L164.5 853.3L158.9 852.3L153.4 851.3L147.8 850.3L142.3 849.2L136.7 848.2L131.2 847.2L125.6 846.2L120.1 845.2L114.5 844.2L109 843.2L103.4 842.2L97.8 841.2L92.3 840.2L86.7 839.1L81.2 838.1L75.6 837.1L71.3 843.6L76.9 844.6L82.4 845.6L88 846.6L93.5 847.6L99.1 848.6L104.6 849.6L110.2 850.6L115.7 851.7L121.3 852.7L126.8 853.7L132.4 854.7L138 855.7L143.5 856.7L149.1 857.7L154.6 858.7L160.2 859.7L165.7 860.7L171.3 861.8L176.8 862.8L182.4 863.8L187.9 864.8L193.5 865.8L199 866.8L204.6 867.8L210.2 868.8L215.7 869.8L221.3 870.8L226.8 871.9L232.4 872.9L237.9 873.9Z" fill="#009fff" stroke="#009fff" stroke-width="0.3"/><path d="M237.9 873.9L232.4 872.9L226.8 871.9L221.3 870.8L215.7 869.8L210.2 868.8L204.6 867.8L199 866.8L193.5 865.8L187.9 864.8L182.4 863.8L176.8 862.8L171.3 861.8L165.7 860.7L160.2 859.7L154.6 858.7L149.1 857.7L143.5 856.7L138 855.7L132.4 854.7L126.8 853.7L121.3 852.7L115.7 851.7L110.2 850.6L104.6 849.6L99.1 848.6L93.5 847.6L88 846.6L82.4 845.6L76.9 844.6L71.3 843.6L67 850L72.6 851L78.1 852L83.7 853L89.2 854.1L94.8 855.1L100.3 856.1L105.9 857.1L111.4 858.1L117 859.1L122.5 860.1L128.1 861.1L133.6 862.1L139.2 863.1L144.7 864.2L150.3 865.2L155.9 866.2L161.4 867.2L167 868.2L172.5 869.2L178.1 870.2L183.6 871.2L189.2 872.2L194.7 873.2L200.3 874.3L205.8 875.3L211.4 876.3L216.9 877.3L222.5 878.3L228 879.3L233.6 880.3Z" fill="#0070ff" stroke="#0070ff" stroke-width="0.3"/><path d="M233.6 880.3L228 879.3L222.5 878.3L216.9 877.3L211.4 876.3L205.8 875.3L200.3 874.3L194.7 873.2L189.2 872.2L183.6 871.2L178.1 870.2L172.5 869.2L167 868.2L161.4 867.2L155.9 866.2L150.3 865.2L144.7 864.2L139.2 863.1L133.6 862.1L128.1 861.1L122.5 860.1L117 859.1L111.4 858.1L105.9 857.1L100.3 856.1L94.8 855.1L89.2 854.1L83.7 853L78.1 852L72.6 851L67 850L62.7 856.5L68.2 857.5L73.8 858.5L79.3 859.5L84.9 860.5L90.4 861.5L96 862.5L101.6 863.5L107.1 864.5L112.7 865.6L118.2 866.6L123.8 867.6L129.3 868.6L134.9 869.6L140.4 870.6L146 871.6L151.5 872.6L157.1 873.6L162.6 874.6L168.2 875.7L173.7 876.7L179.3 877.7L184.9 878.7L190.4 879.7L196 880.7L201.5 881.7L207.1 882.7L212.6 883.7L218.2 884.7L223.7 885.8L229.3 886.8Z" fill="#0050ff" stroke="#0050ff" stroke-width="0.3"/><path d="M229.3 886.8L223.7 885.8L218.2 884.7L212.6 883.7L207.1 882.7L201.5 881.7L196 880.7L190.4 879.7L184.9 878.7L179.3 877.7L173.7 876.7L168.2 875.7L162.6 874.6L157.1 873.6L151.5 872.6L146 871.6L140.4 870.6L134.9 869.6L129.3 868.6L123.8 867.6L118.2 866.6L112.7 865.6L107.1 864.5L101.6 863.5L96 862.5L90.4 861.5L84.9 860.5L79.3 859.5L73.8 858.5L68.2 857.5L62.7 856.5L58.4 862.9L63.9 863.9L69.5 864.9L75 865.9L80.6 867L86.1 868L91.7 869L97.2 870L102.8 871L108.3 872L113.9 873L119.5 874L125 875L130.6 876L136.1 877.1L141.7 878.1L147.2 879.1L152.8 880.1L158.3 881.1L163.9 882.1L169.4 883.1L175 884.1L180.5 885.1L186.1 886.1L191.6 887.2L197.2 888.2L202.8 889.2L208.3 890.2L213.9 891.2L219.4 892.2L225 893.2Z" fill="#0030ff" stroke="#0030ff" stroke-width="0.3"/><path d="M225 893.2L219.4 892.2L213.9 891.2L208.3 890.2L202.8 889.2L197.2 888.2L191.6 887.2L186.1 886.1L180.5 885.1L175 884.1L169.4 883.1L163.9 882.1L158.3 881.1L152.8 880.1L147.2 879.1L141.7 878.1L136.1 877.1L130.6 876L125 875L119.5 874L113.9 873L108.3 872L102.8 871L97.2 870L91.7 869L86.1 868L80.6 867L75 865.9L69.5 864.9L63.9 863.9L58.4 862.9L54 869.4L59.6 870.4L65.2 871.4L70.7 872.4L76.3 873.4L81.8 874.4L87.4 875.4L92.9 876.4L98.5 877.4L104 878.4L109.6 879.5L115.1 880.5L120.7 881.5L126.2 882.5L131.8 883.5L137.3 884.5L142.9 885.5L148.5 886.5L154 887.5L159.6 888.5L165.1 889.6L170.7 890.6L176.2 891.6L181.8 892.6L187.3 893.6L192.9 894.6L198.4 895.6L204 896.6L209.5 897.6L215.1 898.6L220.6 899.7Z" fill="#0010ff" stroke="#0010ff" stroke-width="0.3"/><path d="M220.6 899.7L215.1 898.6L209.5 897.6L204 896.6L198.4 895.6L192.9 894.6L187.3 893.6L181.8 892.6L176.2 891.6L170.7 890.6L165.1 889.6L159.6 888.5L154 887.5L148.5 886.5L142.9 885.5L137.3 884.5L131.8 883.5L126.2 882.5L120.7 881.5L115.1 880.5L109.6 879.5L104 878.4L98.5 877.4L92.9 876.4L87.4 875.4L81.8 874.4L76.3 873.4L70.7 872.4L65.2 871.4L59.6 870.4L54 869.4L49.7 875.8L55.3 876.8L60.8 877.8L66.4 878.8L71.9 879.8L77.5 880.9L83.1 881.9L88.6 882.9L94.2 883.9L99.7 884.9L105.3 885.9L110.8 886.9L116.4 887.9L121.9 888.9L127.5 889.9L133 891L138.6 892L144.1 893L149.7 894L155.2 895L160.8 896L166.4 897L171.9 898L177.5 899L183 900L188.6 901.1L194.1 902.1L199.7 903.1L205.2 904.1L210.8 905.1L216.3 906.1Z" fill="#0000ef" stroke="#0000ef" stroke-width="0.3"/><path d="M216.3 906.1L210.8 905.1L205.2 904.1L199.7 903.1L194.1 902.1L188.6 901.1L183 900L177.5 899L171.9 898L166.4 897L160.8 896L155.2 895L149.7 894L144.1 893L138.6 892L133 891L127.5 889.9L121.9 888.9L116.4 887.9L110.8 886.9L105.3 885.9L99.7 884.9L94.2 883.9L88.6 882.9L83.1 881.9L77.5 880.9L71.9 879.8L66.4 878.8L60.8 877.8L55.3 876.8L49.7 875.8L45.4 882.3L51 883.3L56.5 884.3L62.1 885.3L67.6 886.3L73.2 887.3L78.7 888.3L84.3 889.3L89.8 890.3L95.4 891.3L100.9 892.4L106.5 893.4L112.1 894.4L117.6 895.4L123.2 896.4L128.7 897.4L134.3 898.4L139.8 899.4L145.4 900.4L150.9 901.4L156.5 902.5L162 903.5L167.6 904.5L173.1 905.5L178.7 906.5L184.2 907.5L189.8 908.5L195.4 909.5L200.9 910.5L206.5 911.5L212 912.6Z" fill="#0000cf" stroke="#0000cf" stroke-width="0.3"/><path d="M212 912.6L206.5 911.5L200.9 910.5L195.4 909.5L189.8 908.5L184.2 907.5L178.7 906.5L173.1 905.5L167.6 904.5L162 903.5L156.5 902.5L150.9 901.4L145.4 900.4L139.8 899.4L134.3 898.4L128.7 897.4L123.2 896.4L117.6 895.4L112.1 894.4L106.5 893.4L100.9 892.4L95.4 891.3L89.8 890.3L84.3 889.3L78.7 888.3L73.2 887.3L67.6 886.3L62.1 885.3L56.5 884.3L51 883.3L45.4 882.3L41.1 888.7L46.7 889.7L52.2 890.7L57.8 891.7L63.3 892.7L68.9 893.8L74.4 894.8L80 895.8L85.5 896.8L91.1 897.8L96.6 898.8L102.2 899.8L107.7 900.8L113.3 901.8L118.8 902.8L124.4 903.9L130 904.9L135.5 905.9L141.1 906.9L146.6 907.9L152.2 908.9L157.7 909.9L163.3 910.9L168.8 911.9L174.4 912.9L179.9 914L185.5 915L191 916L196.6 917L202.1 918L207.7 919Z" fill="#0000af" stroke="#0000af" stroke-width="0.3"/></g><path d="M337.2 725.6L170.6 695.3M332.9 732L166.3 701.7M328.6 738.5L162 708.2M324.2 744.9L157.7 714.6M319.9 751.4L153.3 721.1M315.6 757.8L149 727.5M311.3 764.3L144.7 734M307 770.7L140.4 740.4M302.7 777.2L136.1 746.9M298.3 783.6L131.8 753.3M294 790.1L127.4 759.8M289.7 796.5L123.1 766.2M285.4 803L118.8 772.7M281.1 809.4L114.5 779.1M276.8 815.9L110.2 785.6M272.4 822.3L105.8 792M268.1 828.7L101.5 798.4M263.8 835.2L97.2 804.9M259.5 841.6L92.9 811.3M255.2 848.1L88.6 817.8M250.9 854.5L84.3 824.2M246.6 861L80 830.7M242.2 867.4L75.6 837.1M237.9 873.9L71.3 843.6M233.6 880.3L67 850M229.3 886.8L62.7 856.5M225 893.2L58.4 862.9M220.6 899.7L54 869.4M216.3 906.1L49.7 875.8M212 912.6L45.4 882.3M207.7 919L41.1 888.7M337.2 725.6L207.7 919M331.6 724.6L202.1 918M326.1 723.6L196.6 917M320.5 722.6L191 916M315 721.6L185.5 915M309.4 720.5L179.9 914M303.9 719.5L174.4 912.9M298.3 718.5L168.8 911.9M292.8 717.5L163.3 910.9M287.2 716.5L157.7 909.9M281.7 715.5L152.2 908.9M276.1 714.5L146.6 907.9M270.6 713.5L141.1 906.9M265 712.5L135.5 905.9M259.5 711.5L130 904.9M253.9 710.4L124.4 903.9M248.3 709.4L118.8 902.8M242.8 708.4L113.3 901.8M237.2 707.4L107.7 900.8M231.7 706.4L102.2 899.8M226.1 705.4L96.6 898.8M220.6 704.4L91.1 897.8M215 703.4L85.5 896.8M209.5 702.4L80 895.8M203.9 701.4L74.4 894.8M198.4 700.3L68.9 893.8M192.8 699.3L63.3 892.7M187.3 698.3L57.8 891.7M181.7 697.3L52.2 890.7M176.2 696.3L46.7 889.7M170.6 695.3L41.1 888.7" fill="none" stroke="#000" stroke-width="0.5" stroke-opacity="1.0"/><text transform="translate(34 891.8) scale(1 1.09)" font-size="9.3" text-anchor="end" fill="#262626" font-family="Liberation Sans">0</text><text transform="translate(34 850.9) scale(1 1.09)" font-size="9.3" text-anchor="end" fill="#262626" font-family="Liberation Sans">0.05</text><text transform="translate(34 810.1) scale(1 1.09)" font-size="9.3" text-anchor="end" fill="#262626" font-family="Liberation Sans">0.1</text><text transform="translate(34 769.2) scale(1 1.09)" font-size="9.3" text-anchor="end" fill="#262626" font-family="Liberation Sans">0.15</text><text transform="translate(34 728.4) scale(1 1.09)" font-size="9.3" text-anchor="end" fill="#262626" font-family="Liberation Sans">0.2</text><text transform="translate(199.4 931.3) scale(1 1.09)" font-size="9.3" text-anchor="end" fill="#262626" font-family="Liberation Sans">0</text><text transform="translate(157.8 923.7) scale(1 1.09)" font-size="9.3" text-anchor="end" fill="#262626" font-family="Liberation Sans">0.5</text><text transform="translate(116.1 916.1) scale(1 1.09)" font-size="9.3" text-anchor="end" fill="#262626" font-family="Liberation Sans">1</text><text transform="translate(74.5 908.6) scale(1 1.09)" font-size="9.3" text-anchor="end" fill="#262626" font-family="Liberation Sans">1.5</text><text transform="translate(32.8 901) scale(1 1.09)" font-size="9.3" text-anchor="end" fill="#262626" font-family="Liberation Sans">2</text><text transform="translate(344.5 892.1) scale(1 1.09)" font-size="9.3" text-anchor="start" fill="#262626" font-family="Liberation Sans">0</text><text transform="translate(312.1 901.7) scale(1 1.09)" font-size="9.3" text-anchor="start" fill="#262626" font-family="Liberation Sans">0.5</text><text transform="translate(279.8 911.4) scale(1 1.09)" font-size="9.3" text-anchor="start" fill="#262626" font-family="Liberation Sans">1</text><text transform="translate(247.4 921) scale(1 1.09)" font-size="9.3" text-anchor="start" fill="#262626" font-family="Liberation Sans">1.5</text><text transform="translate(215 930.6) scale(1 1.09)" font-size="9.3" text-anchor="start" fill="#262626" font-family="Liberation Sans">2</text><text transform="translate(124.3 939) scale(1 1.09)" font-size="10" text-anchor="middle" fill="#262626" font-family="Liberation Sans">x [cm]</text><text transform="translate(279.8 937.5) scale(1 1.09)" font-size="10" text-anchor="middle" fill="#262626" font-family="Liberation Sans">y [cm]</text><text transform="translate(9.7 808.8) rotate(-90) scale(1 1.2)" font-size="9.4" fill="#333" font-family="Liberation Sans">[V]</text><text transform="translate(9.6 818.7) rotate(-90) scale(1.3 1)" font-size="9.6" fill="#333" font-family="Liberation Serif" font-style="italic">φ</text><text x="11.5" y="701" font-size="26" text-anchor="start" fill="#000" font-family="Liberation Sans">e</text><line x1="710.8" y1="883.1" x2="578.4" y2="923.2" stroke="#e3e3e3" stroke-width="0.8"/><line x1="676" y1="876.8" x2="543.6" y2="916.9" stroke="#e3e3e3" stroke-width="0.8"/><line x1="641.2" y1="870.5" x2="508.8" y2="910.6" stroke="#e3e3e3" stroke-width="0.8"/><line x1="606.5" y1="864.1" x2="474.1" y2="904.2" stroke="#e3e3e3" stroke-width="0.8"/><line x1="571.7" y1="857.8" x2="439.3" y2="897.9" stroke="#e3e3e3" stroke-width="0.8"/><line x1="710.8" y1="883.1" x2="540.5" y2="852.2" stroke="#e3e3e3" stroke-width="0.8"/><line x1="656.4" y1="899.6" x2="486.1" y2="868.6" stroke="#e3e3e3" stroke-width="0.8"/><line x1="602" y1="916.1" x2="431.7" y2="885.1" stroke="#e3e3e3" stroke-width="0.8"/><line x1="540.5" y1="852.2" x2="540.5" y2="684.5" stroke="#e3e3e3" stroke-width="0.8"/><line x1="486.1" y1="868.6" x2="486.1" y2="701" stroke="#e3e3e3" stroke-width="0.8"/><line x1="431.7" y1="885.1" x2="431.7" y2="717.5" stroke="#e3e3e3" stroke-width="0.8"/><line x1="540.5" y1="852.2" x2="408.1" y2="892.3" stroke="#e3e3e3" stroke-width="0.8"/><line x1="540.5" y1="824.2" x2="408.1" y2="864.3" stroke="#e3e3e3" stroke-width="0.8"/><line x1="540.5" y1="796.3" x2="408.1" y2="836.4" stroke="#e3e3e3" stroke-width="0.8"/><line x1="540.5" y1="768.3" x2="408.1" y2="808.4" stroke="#e3e3e3" stroke-width="0.8"/><line x1="540.5" y1="740.4" x2="408.1" y2="780.5" stroke="#e3e3e3" stroke-width="0.8"/><line x1="540.5" y1="712.5" x2="408.1" y2="752.6" stroke="#e3e3e3" stroke-width="0.8"/><line x1="540.5" y1="684.5" x2="408.1" y2="724.6" stroke="#e3e3e3" stroke-width="0.8"/><line x1="710.8" y1="883.1" x2="710.8" y2="715.5" stroke="#e3e3e3" stroke-width="0.8"/><line x1="676" y1="876.8" x2="676" y2="709.2" stroke="#e3e3e3" stroke-width="0.8"/><line x1="641.2" y1="870.5" x2="641.2" y2="702.9" stroke="#e3e3e3" stroke-width="0.8"/><line x1="606.5" y1="864.1" x2="606.5" y2="696.5" stroke="#e3e3e3" stroke-width="0.8"/><line x1="571.7" y1="857.8" x2="571.7" y2="690.2" stroke="#e3e3e3" stroke-width="0.8"/><line x1="710.8" y1="883.1" x2="540.5" y2="852.2" stroke="#e3e3e3" stroke-width="0.8"/><line x1="710.8" y1="855.2" x2="540.5" y2="824.2" stroke="#e3e3e3" stroke-width="0.8"/><line x1="710.8" y1="827.2" x2="540.5" y2="796.3" stroke="#e3e3e3" stroke-width="0.8"/><line x1="710.8" y1="799.3" x2="540.5" y2="768.3" stroke="#e3e3e3" stroke-width="0.8"/><line x1="710.8" y1="771.4" x2="540.5" y2="740.4" stroke="#e3e3e3" stroke-width="0.8"/><line x1="710.8" y1="743.4" x2="540.5" y2="712.5" stroke="#e3e3e3" stroke-width="0.8"/><line x1="710.8" y1="715.5" x2="540.5" y2="684.5" stroke="#e3e3e3" stroke-width="0.8"/><line x1="408.1" y1="892.3" x2="408.1" y2="724.6" stroke="#4a4a4a" stroke-width="0.9"/><line x1="408.1" y1="892.3" x2="578.4" y2="923.2" stroke="#4a4a4a" stroke-width="0.9"/><line x1="578.4" y1="923.2" x2="710.8" y2="883.1" stroke="#4a4a4a" stroke-width="0.9"/><line x1="408.1" y1="892.3" x2="403.2" y2="891.4" stroke="#4a4a4a" stroke-width="0.9"/><line x1="408.1" y1="864.3" x2="403.2" y2="863.4" stroke="#4a4a4a" stroke-width="0.9"/><line x1="408.1" y1="836.4" x2="403.2" y2="835.5" stroke="#4a4a4a" stroke-width="0.9"/><line x1="408.1" y1="808.4" x2="403.2" y2="807.6" stroke="#4a4a4a" stroke-width="0.9"/><line x1="408.1" y1="780.5" x2="403.2" y2="779.6" stroke="#4a4a4a" stroke-width="0.9"/><line x1="408.1" y1="752.6" x2="403.2" y2="751.7" stroke="#4a4a4a" stroke-width="0.9"/><line x1="408.1" y1="724.6" x2="403.2" y2="723.7" stroke="#4a4a4a" stroke-width="0.9"/><line x1="578.4" y1="923.2" x2="573.6" y2="924.6" stroke="#4a4a4a" stroke-width="0.9"/><line x1="543.6" y1="916.9" x2="538.8" y2="918.3" stroke="#4a4a4a" stroke-width="0.9"/><line x1="508.8" y1="910.6" x2="504" y2="912" stroke="#4a4a4a" stroke-width="0.9"/><line x1="474.1" y1="904.2" x2="469.3" y2="905.7" stroke="#4a4a4a" stroke-width="0.9"/><line x1="439.3" y1="897.9" x2="434.5" y2="899.4" stroke="#4a4a4a" stroke-width="0.9"/><line x1="710.8" y1="883.1" x2="715.7" y2="884" stroke="#4a4a4a" stroke-width="0.9"/><line x1="656.4" y1="899.6" x2="661.3" y2="900.5" stroke="#4a4a4a" stroke-width="0.9"/><line x1="602" y1="916.1" x2="606.9" y2="916.9" stroke="#4a4a4a" stroke-width="0.9"/><g stroke="none"><path d="M710.8 723.9L709.1 723.6L707.3 723.2L705.6 722.9L703.8 722.6L702.1 722.3L700.4 722L698.6 721.7L696.9 721.3L695.1 721L693.4 720.7L691.7 720.4L689.9 720.1L688.2 719.8L686.5 719.4L684.7 719.1L683 718.8L681.2 718.5L679.5 718.2L677.8 717.9L676 717.6L674.3 717.2L672.5 716.9L670.8 716.6L669.1 716.3L667.3 716L665.6 715.7L663.8 715.3L662.1 715L660.4 714.7L658.6 714.4L656.9 714.1L655.2 713.8L653.4 713.4L651.7 713.1L649.9 712.8L648.2 712.5L646.5 712.2L644.7 711.9L643 711.5L641.2 711.2L636.8 717.9L638.6 718.2L640.3 718.5L642 718.8L643.8 719.1L645.5 719.5L647.3 719.8L649 720.1L650.7 720.4L652.5 720.7L654.2 721L656 721.4L657.7 721.7L659.4 722L661.2 722.3L662.9 722.6L664.7 722.9L666.4 723.2L668.1 723.6L669.9 723.9L671.6 724.2L673.3 724.5L675.1 724.8L676.8 725.1L678.6 725.5L680.3 725.8L682 726.1L683.8 726.4L685.5 726.7L687.3 727L689 727.4L690.7 727.7L692.5 728L694.2 728.3L696 728.6L697.7 728.9L699.4 729.3L701.2 729.6L702.9 729.9L704.6 730.2L706.4 730.5Z" fill="#800000" stroke="#800000" stroke-width="0.3"/><path d="M706.4 730.5L704.6 730.2L702.9 729.9L701.2 729.6L699.4 729.3L697.7 728.9L696 728.6L694.2 728.3L692.5 728L690.7 727.7L689 727.4L687.3 727L685.5 726.7L683.8 726.4L682 726.1L680.3 725.8L678.6 725.5L676.8 725.1L675.1 724.8L673.3 724.5L671.6 724.2L669.9 723.9L668.1 723.6L666.4 723.2L664.7 722.9L662.9 722.6L661.2 722.3L659.4 722L657.7 721.7L656 721.4L654.2 721L652.5 720.7L650.7 720.4L649 720.1L647.3 719.8L645.5 719.5L643.8 719.1L642 718.8L640.3 718.5L638.6 718.2L636.8 717.9L632.4 724.5L634.2 724.8L635.9 725.2L637.6 725.5L639.4 725.8L641.1 726.1L642.8 726.4L644.6 726.7L646.3 727L648.1 727.4L649.8 727.7L651.5 728L653.3 728.3L655 728.6L656.8 728.9L658.5 729.3L660.2 729.6L662 729.9L663.7 730.2L665.5 730.5L667.2 730.8L668.9 731.2L670.7 731.5L672.4 731.8L674.1 732.1L675.9 732.4L677.6 732.7L679.4 733.1L681.1 733.4L682.8 733.7L684.6 734L686.3 734.3L688.1 734.6L689.8 734.9L691.5 735.3L693.3 735.6L695 735.9L696.8 736.2L698.5 736.5L700.2 736.8L702 737.2Z" fill="#9f0000" stroke="#9f0000" stroke-width="0.3"/><path d="M702 737.2L700.2 736.8L698.5 736.5L696.8 736.2L695 735.9L693.3 735.6L691.5 735.3L689.8 734.9L688.1 734.6L686.3 734.3L684.6 734L682.8 733.7L681.1 733.4L679.4 733.1L677.6 732.7L675.9 732.4L674.1 732.1L672.4 731.8L670.7 731.5L668.9 731.2L667.2 730.8L665.5 730.5L663.7 730.2L662 729.9L660.2 729.6L658.5 729.3L656.8 728.9L655 728.6L653.3 728.3L651.5 728L649.8 727.7L648.1 727.4L646.3 727L644.6 726.7L642.8 726.4L641.1 726.1L639.4 725.8L637.6 725.5L635.9 725.2L634.2 724.8L632.4 724.5L628 731.2L629.7 731.5L631.5 731.8L633.2 732.1L635 732.4L636.7 732.7L638.4 733.1L640.2 733.4L641.9 733.7L643.7 734L645.4 734.3L647.1 734.6L648.9 735L650.6 735.3L652.3 735.6L654.1 735.9L655.8 736.2L657.6 736.5L659.3 736.9L661 737.2L662.8 737.5L664.5 737.8L666.3 738.1L668 738.4L669.7 738.7L671.5 739.1L673.2 739.4L675 739.7L676.7 740L678.4 740.3L680.2 740.6L681.9 741L683.6 741.3L685.4 741.6L687.1 741.9L688.9 742.2L690.6 742.5L692.3 742.9L694.1 743.2L695.8 743.5L697.6 743.8Z" fill="#bf0000" stroke="#bf0000" stroke-width="0.3"/><path d="M697.6 743.8L695.8 743.5L694.1 743.2L692.3 742.9L690.6 742.5L688.9 742.2L687.1 741.9L685.4 741.6L683.6 741.3L681.9 741L680.2 740.6L678.4 740.3L676.7 740L675 739.7L673.2 739.4L671.5 739.1L669.7 738.7L668 738.4L666.3 738.1L664.5 737.8L662.8 737.5L661 737.2L659.3 736.9L657.6 736.5L655.8 736.2L654.1 735.9L652.3 735.6L650.6 735.3L648.9 735L647.1 734.6L645.4 734.3L643.7 734L641.9 733.7L640.2 733.4L638.4 733.1L636.7 732.7L635 732.4L633.2 732.1L631.5 731.8L629.7 731.5L628 731.2L623.6 737.8L625.3 738.1L627.1 738.4L628.8 738.8L630.5 739.1L632.3 739.4L634 739.7L635.8 740L637.5 740.3L639.2 740.7L641 741L642.7 741.3L644.5 741.6L646.2 741.9L647.9 742.2L649.7 742.5L651.4 742.9L653.1 743.2L654.9 743.5L656.6 743.8L658.4 744.1L660.1 744.4L661.8 744.8L663.6 745.1L665.3 745.4L667.1 745.7L668.8 746L670.5 746.3L672.3 746.7L674 747L675.8 747.3L677.5 747.6L679.2 747.9L681 748.2L682.7 748.6L684.5 748.9L686.2 749.2L687.9 749.5L689.7 749.8L691.4 750.1L693.1 750.4Z" fill="#df0000" stroke="#df0000" stroke-width="0.3"/><path d="M693.1 750.4L691.4 750.1L689.7 749.8L687.9 749.5L686.2 749.2L684.5 748.9L682.7 748.6L681 748.2L679.2 747.9L677.5 747.6L675.8 747.3L674 747L672.3 746.7L670.5 746.3L668.8 746L667.1 745.7L665.3 745.4L663.6 745.1L661.8 744.8L660.1 744.4L658.4 744.1L656.6 743.8L654.9 743.5L653.1 743.2L651.4 742.9L649.7 742.5L647.9 742.2L646.2 741.9L644.5 741.6L642.7 741.3L641 741L639.2 740.7L637.5 740.3L635.8 740L634 739.7L632.3 739.4L630.5 739.1L628.8 738.8L627.1 738.4L625.3 738.1L623.6 737.8L619.2 744.5L620.9 744.8L622.6 745.1L624.4 745.4L626.1 745.7L627.9 746L629.6 746.3L631.3 746.7L633.1 747L634.8 747.3L636.6 747.6L638.3 747.9L640 748.2L641.8 748.6L643.5 748.9L645.3 749.2L647 749.5L648.7 749.8L650.5 750.1L652.2 750.5L654 750.8L655.7 751.1L657.4 751.4L659.2 751.7L660.9 752L662.6 752.4L664.4 752.7L666.1 753L667.9 753.3L669.6 753.6L671.3 753.9L673.1 754.2L674.8 754.6L676.6 754.9L678.3 755.2L680 755.5L681.8 755.8L683.5 756.1L685.3 756.5L687 756.8L688.7 757.1Z" fill="#ff0000" stroke="#ff0000" stroke-width="0.3"/><path d="M688.7 757.1L687 756.8L685.3 756.5L683.5 756.1L681.8 755.8L680 755.5L678.3 755.2L676.6 754.9L674.8 754.6L673.1 754.2L671.3 753.9L669.6 753.6L667.9 753.3L666.1 753L664.4 752.7L662.6 752.4L660.9 752L659.2 751.7L657.4 751.4L655.7 751.1L654 750.8L652.2 750.5L650.5 750.1L648.7 749.8L647 749.5L645.3 749.2L643.5 748.9L641.8 748.6L640 748.2L638.3 747.9L636.6 747.6L634.8 747.3L633.1 747L631.3 746.7L629.6 746.3L627.9 746L626.1 745.7L624.4 745.4L622.6 745.1L620.9 744.8L619.2 744.5L614.8 751.1L616.5 751.4L618.2 751.7L620 752L621.7 752.4L623.5 752.7L625.2 753L626.9 753.3L628.7 753.6L630.4 753.9L632.1 754.3L633.9 754.6L635.6 754.9L637.4 755.2L639.1 755.5L640.8 755.8L642.6 756.2L644.3 756.5L646.1 756.8L647.8 757.1L649.5 757.4L651.3 757.7L653 758L654.8 758.4L656.5 758.7L658.2 759L660 759.3L661.7 759.6L663.5 759.9L665.2 760.3L666.9 760.6L668.7 760.9L670.4 761.2L672.1 761.5L673.9 761.8L675.6 762.2L677.4 762.5L679.1 762.8L680.8 763.1L682.6 763.4L684.3 763.7Z" fill="#ff2000" stroke="#ff2000" stroke-width="0.3"/><path d="M684.3 763.7L682.6 763.4L680.8 763.1L679.1 762.8L677.4 762.5L675.6 762.2L673.9 761.8L672.1 761.5L670.4 761.2L668.7 760.9L666.9 760.6L665.2 760.3L663.5 759.9L661.7 759.6L660 759.3L658.2 759L656.5 758.7L654.8 758.4L653 758L651.3 757.7L649.5 757.4L647.8 757.1L646.1 756.8L644.3 756.5L642.6 756.2L640.8 755.8L639.1 755.5L637.4 755.2L635.6 754.9L633.9 754.6L632.1 754.3L630.4 753.9L628.7 753.6L626.9 753.3L625.2 753L623.5 752.7L621.7 752.4L620 752L618.2 751.7L616.5 751.4L614.8 751.1L610.3 757.7L612.1 758.1L613.8 758.4L615.6 758.7L617.3 759L619 759.3L620.8 759.6L622.5 760L624.3 760.3L626 760.6L627.7 760.9L629.5 761.2L631.2 761.5L633 761.8L634.7 762.2L636.4 762.5L638.2 762.8L639.9 763.1L641.6 763.4L643.4 763.7L645.1 764.1L646.9 764.4L648.6 764.7L650.3 765L652.1 765.3L653.8 765.6L655.6 766L657.3 766.3L659 766.6L660.8 766.9L662.5 767.2L664.3 767.5L666 767.9L667.7 768.2L669.5 768.5L671.2 768.8L672.9 769.1L674.7 769.4L676.4 769.7L678.2 770.1L679.9 770.4Z" fill="#ff4000" stroke="#ff4000" stroke-width="0.3"/><path d="M679.9 770.4L678.2 770.1L676.4 769.7L674.7 769.4L672.9 769.1L671.2 768.8L669.5 768.5L667.7 768.2L666 767.9L664.3 767.5L662.5 767.2L660.8 766.9L659 766.6L657.3 766.3L655.6 766L653.8 765.6L652.1 765.3L650.3 765L648.6 764.7L646.9 764.4L645.1 764.1L643.4 763.7L641.6 763.4L639.9 763.1L638.2 762.8L636.4 762.5L634.7 762.2L633 761.8L631.2 761.5L629.5 761.2L627.7 760.9L626 760.6L624.3 760.3L622.5 760L620.8 759.6L619 759.3L617.3 759L615.6 758.7L613.8 758.4L612.1 758.1L610.3 757.7L605.9 764.4L607.7 764.7L609.4 765L611.1 765.3L612.9 765.6L614.6 766L616.4 766.3L618.1 766.6L619.8 766.9L621.6 767.2L623.3 767.5L625.1 767.9L626.8 768.2L628.5 768.5L630.3 768.8L632 769.1L633.8 769.4L635.5 769.8L637.2 770.1L639 770.4L640.7 770.7L642.4 771L644.2 771.3L645.9 771.7L647.7 772L649.4 772.3L651.1 772.6L652.9 772.9L654.6 773.2L656.4 773.5L658.1 773.9L659.8 774.2L661.6 774.5L663.3 774.8L665.1 775.1L666.8 775.4L668.5 775.8L670.3 776.1L672 776.4L673.8 776.7L675.5 777Z" fill="#ff6000" stroke="#ff6000" stroke-width="0.3"/><path d="M675.5 777L673.8 776.7L672 776.4L670.3 776.1L668.5 775.8L666.8 775.4L665.1 775.1L663.3 774.8L661.6 774.5L659.8 774.2L658.1 773.9L656.4 773.5L654.6 773.2L652.9 772.9L651.1 772.6L649.4 772.3L647.7 772L645.9 771.7L644.2 771.3L642.4 771L640.7 770.7L639 770.4L637.2 770.1L635.5 769.8L633.8 769.4L632 769.1L630.3 768.8L628.5 768.5L626.8 768.2L625.1 767.9L623.3 767.5L621.6 767.2L619.8 766.9L618.1 766.6L616.4 766.3L614.6 766L612.9 765.6L611.1 765.3L609.4 765L607.7 764.7L605.9 764.4L601.5 771L603.3 771.3L605 771.7L606.7 772L608.5 772.3L610.2 772.6L612 772.9L613.7 773.2L615.4 773.6L617.2 773.9L618.9 774.2L620.6 774.5L622.4 774.8L624.1 775.1L625.9 775.5L627.6 775.8L629.3 776.1L631.1 776.4L632.8 776.7L634.6 777L636.3 777.3L638 777.7L639.8 778L641.5 778.3L643.3 778.6L645 778.9L646.7 779.2L648.5 779.6L650.2 779.9L651.9 780.2L653.7 780.5L655.4 780.8L657.2 781.1L658.9 781.5L660.6 781.8L662.4 782.1L664.1 782.4L665.9 782.7L667.6 783L669.3 783.4L671.1 783.7Z" fill="#ff8f00" stroke="#ff8f00" stroke-width="0.3"/><path d="M671.1 783.7L669.3 783.4L667.6 783L665.9 782.7L664.1 782.4L662.4 782.1L660.6 781.8L658.9 781.5L657.2 781.1L655.4 780.8L653.7 780.5L651.9 780.2L650.2 779.9L648.5 779.6L646.7 779.2L645 778.9L643.3 778.6L641.5 778.3L639.8 778L638 777.7L636.3 777.3L634.6 777L632.8 776.7L631.1 776.4L629.3 776.1L627.6 775.8L625.9 775.5L624.1 775.1L622.4 774.8L620.6 774.5L618.9 774.2L617.2 773.9L615.4 773.6L613.7 773.2L612 772.9L610.2 772.6L608.5 772.3L606.7 772L605 771.7L603.3 771.3L601.5 771L597.1 777.7L598.8 778L600.6 778.3L602.3 778.6L604.1 778.9L605.8 779.3L607.5 779.6L609.3 779.9L611 780.2L612.8 780.5L614.5 780.8L616.2 781.1L618 781.5L619.7 781.8L621.4 782.1L623.2 782.4L624.9 782.7L626.7 783L628.4 783.4L630.1 783.7L631.9 784L633.6 784.3L635.4 784.6L637.1 784.9L638.8 785.3L640.6 785.6L642.3 785.9L644.1 786.2L645.8 786.5L647.5 786.8L649.3 787.2L651 787.5L652.8 787.8L654.5 788.1L656.2 788.4L658 788.7L659.7 789L661.4 789.4L663.2 789.7L664.9 790L666.7 790.3Z" fill="#ffaf00" stroke="#ffaf00" stroke-width="0.3"/><path d="M666.7 790.3L664.9 790L663.2 789.7L661.4 789.4L659.7 789L658 788.7L656.2 788.4L654.5 788.1L652.8 787.8L651 787.5L649.3 787.2L647.5 786.8L645.8 786.5L644.1 786.2L642.3 785.9L640.6 785.6L638.8 785.3L637.1 784.9L635.4 784.6L633.6 784.3L631.9 784L630.1 783.7L628.4 783.4L626.7 783L624.9 782.7L623.2 782.4L621.4 782.1L619.7 781.8L618 781.5L616.2 781.1L614.5 780.8L612.8 780.5L611 780.2L609.3 779.9L607.5 779.6L605.8 779.3L604.1 778.9L602.3 778.6L600.6 778.3L598.8 778L597.1 777.7L592.7 784.3L594.4 784.6L596.2 785L597.9 785.3L599.6 785.6L601.4 785.9L603.1 786.2L604.9 786.5L606.6 786.8L608.3 787.2L610.1 787.5L611.8 787.8L613.6 788.1L615.3 788.4L617 788.7L618.8 789.1L620.5 789.4L622.3 789.7L624 790L625.7 790.3L627.5 790.6L629.2 791L630.9 791.3L632.7 791.6L634.4 791.9L636.2 792.2L637.9 792.5L639.6 792.9L641.4 793.2L643.1 793.5L644.9 793.8L646.6 794.1L648.3 794.4L650.1 794.7L651.8 795.1L653.6 795.4L655.3 795.7L657 796L658.8 796.3L660.5 796.6L662.2 797Z" fill="#ffcf00" stroke="#ffcf00" stroke-width="0.3"/><path d="M662.2 797L660.5 796.6L658.8 796.3L657 796L655.3 795.7L653.6 795.4L651.8 795.1L650.1 794.7L648.3 794.4L646.6 794.1L644.9 793.8L643.1 793.5L641.4 793.2L639.6 792.9L637.9 792.5L636.2 792.2L634.4 791.9L632.7 791.6L630.9 791.3L629.2 791L627.5 790.6L625.7 790.3L624 790L622.3 789.7L620.5 789.4L618.8 789.1L617 788.7L615.3 788.4L613.6 788.1L611.8 787.8L610.1 787.5L608.3 787.2L606.6 786.8L604.9 786.5L603.1 786.2L601.4 785.9L599.6 785.6L597.9 785.3L596.2 785L594.4 784.6L592.7 784.3L588.3 791L590 791.3L591.8 791.6L593.5 791.9L595.2 792.2L597 792.5L598.7 792.9L600.4 793.2L602.2 793.5L603.9 793.8L605.7 794.1L607.4 794.4L609.1 794.8L610.9 795.1L612.6 795.4L614.4 795.7L616.1 796L617.8 796.3L619.6 796.7L621.3 797L623.1 797.3L624.8 797.6L626.5 797.9L628.3 798.2L630 798.5L631.8 798.9L633.5 799.2L635.2 799.5L637 799.8L638.7 800.1L640.4 800.4L642.2 800.8L643.9 801.1L645.7 801.4L647.4 801.7L649.1 802L650.9 802.3L652.6 802.7L654.4 803L656.1 803.3L657.8 803.6Z" fill="#ffef00" stroke="#ffef00" stroke-width="0.3"/><path d="M657.8 803.6L656.1 803.3L654.4 803L652.6 802.7L650.9 802.3L649.1 802L647.4 801.7L645.7 801.4L643.9 801.1L642.2 800.8L640.4 800.4L638.7 800.1L637 799.8L635.2 799.5L633.5 799.2L631.8 798.9L630 798.5L628.3 798.2L626.5 797.9L624.8 797.6L623.1 797.3L621.3 797L619.6 796.7L617.8 796.3L616.1 796L614.4 795.7L612.6 795.4L610.9 795.1L609.1 794.8L607.4 794.4L605.7 794.1L603.9 793.8L602.2 793.5L600.4 793.2L598.7 792.9L597 792.5L595.2 792.2L593.5 791.9L591.8 791.6L590 791.3L588.3 791L583.9 797.6L585.6 797.9L587.3 798.2L589.1 798.6L590.8 798.9L592.6 799.2L594.3 799.5L596 799.8L597.8 800.1L599.5 800.5L601.3 800.8L603 801.1L604.7 801.4L606.5 801.7L608.2 802L609.9 802.3L611.7 802.7L613.4 803L615.2 803.3L616.9 803.6L618.6 803.9L620.4 804.2L622.1 804.6L623.9 804.9L625.6 805.2L627.3 805.5L629.1 805.8L630.8 806.1L632.6 806.5L634.3 806.8L636 807.1L637.8 807.4L639.5 807.7L641.2 808L643 808.4L644.7 808.7L646.5 809L648.2 809.3L649.9 809.6L651.7 809.9L653.4 810.2Z" fill="#efff10" stroke="#efff10" stroke-width="0.3"/><path d="M653.4 810.2L651.7 809.9L649.9 809.6L648.2 809.3L646.5 809L644.7 808.7L643 808.4L641.2 808L639.5 807.7L637.8 807.4L636 807.1L634.3 806.8L632.6 806.5L630.8 806.1L629.1 805.8L627.3 805.5L625.6 805.2L623.9 804.9L622.1 804.6L620.4 804.2L618.6 803.9L616.9 803.6L615.2 803.3L613.4 803L611.7 802.7L609.9 802.3L608.2 802L606.5 801.7L604.7 801.4L603 801.1L601.3 800.8L599.5 800.5L597.8 800.1L596 799.8L594.3 799.5L592.6 799.2L590.8 798.9L589.1 798.6L587.3 798.2L585.6 797.9L583.9 797.6L579.4 804.3L581.2 804.6L582.9 804.9L584.7 805.2L586.4 805.5L588.1 805.8L589.9 806.1L591.6 806.5L593.4 806.8L595.1 807.1L596.8 807.4L598.6 807.7L600.3 808L602.1 808.4L603.8 808.7L605.5 809L607.3 809.3L609 809.6L610.8 809.9L612.5 810.3L614.2 810.6L616 810.9L617.7 811.2L619.4 811.5L621.2 811.8L622.9 812.2L624.7 812.5L626.4 812.8L628.1 813.1L629.9 813.4L631.6 813.7L633.4 814L635.1 814.4L636.8 814.7L638.6 815L640.3 815.3L642.1 815.6L643.8 815.9L645.5 816.3L647.3 816.6L649 816.9Z" fill="#cfff30" stroke="#cfff30" stroke-width="0.3"/><path d="M649 816.9L647.3 816.6L645.5 816.3L643.8 815.9L642.1 815.6L640.3 815.3L638.6 815L636.8 814.7L635.1 814.4L633.4 814L631.6 813.7L629.9 813.4L628.1 813.1L626.4 812.8L624.7 812.5L622.9 812.2L621.2 811.8L619.4 811.5L617.7 811.2L616 810.9L614.2 810.6L612.5 810.3L610.8 809.9L609 809.6L607.3 809.3L605.5 809L603.8 808.7L602.1 808.4L600.3 808L598.6 807.7L596.8 807.4L595.1 807.1L593.4 806.8L591.6 806.5L589.9 806.1L588.1 805.8L586.4 805.5L584.7 805.2L582.9 804.9L581.2 804.6L579.4 804.3L575 810.9L576.8 811.2L578.5 811.5L580.3 811.8L582 812.2L583.7 812.5L585.5 812.8L587.2 813.1L588.9 813.4L590.7 813.7L592.4 814.1L594.2 814.4L595.9 814.7L597.6 815L599.4 815.3L601.1 815.6L602.9 816L604.6 816.3L606.3 816.6L608.1 816.9L609.8 817.2L611.6 817.5L613.3 817.8L615 818.2L616.8 818.5L618.5 818.8L620.2 819.1L622 819.4L623.7 819.7L625.5 820.1L627.2 820.4L628.9 820.7L630.7 821L632.4 821.3L634.2 821.6L635.9 822L637.6 822.3L639.4 822.6L641.1 822.9L642.9 823.2L644.6 823.5Z" fill="#afff50" stroke="#afff50" stroke-width="0.3"/><path d="M644.6 823.5L642.9 823.2L641.1 822.9L639.4 822.6L637.6 822.3L635.9 822L634.2 821.6L632.4 821.3L630.7 821L628.9 820.7L627.2 820.4L625.5 820.1L623.7 819.7L622 819.4L620.2 819.1L618.5 818.8L616.8 818.5L615 818.2L613.3 817.8L611.6 817.5L609.8 817.2L608.1 816.9L606.3 816.6L604.6 816.3L602.9 816L601.1 815.6L599.4 815.3L597.6 815L595.9 814.7L594.2 814.4L592.4 814.1L590.7 813.7L588.9 813.4L587.2 813.1L585.5 812.8L583.7 812.5L582 812.2L580.3 811.8L578.5 811.5L576.8 811.2L575 810.9L570.6 817.5L572.4 817.9L574.1 818.2L575.8 818.5L577.6 818.8L579.3 819.1L581.1 819.4L582.8 819.8L584.5 820.1L586.3 820.4L588 820.7L589.8 821L591.5 821.3L593.2 821.6L595 822L596.7 822.3L598.4 822.6L600.2 822.9L601.9 823.2L603.7 823.5L605.4 823.9L607.1 824.2L608.9 824.5L610.6 824.8L612.4 825.1L614.1 825.4L615.8 825.8L617.6 826.1L619.3 826.4L621.1 826.7L622.8 827L624.5 827.3L626.3 827.7L628 828L629.7 828.3L631.5 828.6L633.2 828.9L635 829.2L636.7 829.5L638.4 829.9L640.2 830.2Z" fill="#8fff70" stroke="#8fff70" stroke-width="0.3"/><path d="M640.2 830.2L638.4 829.9L636.7 829.5L635 829.2L633.2 828.9L631.5 828.6L629.7 828.3L628 828L626.3 827.7L624.5 827.3L622.8 827L621.1 826.7L619.3 826.4L617.6 826.1L615.8 825.8L614.1 825.4L612.4 825.1L610.6 824.8L608.9 824.5L607.1 824.2L605.4 823.9L603.7 823.5L601.9 823.2L600.2 822.9L598.4 822.6L596.7 822.3L595 822L593.2 821.6L591.5 821.3L589.8 821L588 820.7L586.3 820.4L584.5 820.1L582.8 819.8L581.1 819.4L579.3 819.1L577.6 818.8L575.8 818.5L574.1 818.2L572.4 817.9L570.6 817.5L566.2 824.2L567.9 824.5L569.7 824.8L571.4 825.1L573.2 825.4L574.9 825.8L576.6 826.1L578.4 826.4L580.1 826.7L581.9 827L583.6 827.3L585.3 827.7L587.1 828L588.8 828.3L590.6 828.6L592.3 828.9L594 829.2L595.8 829.6L597.5 829.9L599.2 830.2L601 830.5L602.7 830.8L604.5 831.1L606.2 831.5L607.9 831.8L609.7 832.1L611.4 832.4L613.2 832.7L614.9 833L616.6 833.3L618.4 833.7L620.1 834L621.9 834.3L623.6 834.6L625.3 834.9L627.1 835.2L628.8 835.6L630.6 835.9L632.3 836.2L634 836.5L635.8 836.8Z" fill="#60ff9f" stroke="#60ff9f" stroke-width="0.3"/><path d="M635.8 836.8L634 836.5L632.3 836.2L630.6 835.9L628.8 835.6L627.1 835.2L625.3 834.9L623.6 834.6L621.9 834.3L620.1 834L618.4 833.7L616.6 833.3L614.9 833L613.2 832.7L611.4 832.4L609.7 832.1L607.9 831.8L606.2 831.5L604.5 831.1L602.7 830.8L601 830.5L599.2 830.2L597.5 829.9L595.8 829.6L594 829.2L592.3 828.9L590.6 828.6L588.8 828.3L587.1 828L585.3 827.7L583.6 827.3L581.9 827L580.1 826.7L578.4 826.4L576.6 826.1L574.9 825.8L573.2 825.4L571.4 825.1L569.7 824.8L567.9 824.5L566.2 824.2L561.8 830.8L563.5 831.1L565.3 831.5L567 831.8L568.8 832.1L570.5 832.4L572.2 832.7L574 833L575.7 833.4L577.4 833.7L579.2 834L580.9 834.3L582.7 834.6L584.4 834.9L586.1 835.3L587.9 835.6L589.6 835.9L591.4 836.2L593.1 836.5L594.8 836.8L596.6 837.1L598.3 837.5L600.1 837.8L601.8 838.1L603.5 838.4L605.3 838.7L607 839L608.7 839.4L610.5 839.7L612.2 840L614 840.3L615.7 840.6L617.4 840.9L619.2 841.3L620.9 841.6L622.7 841.9L624.4 842.2L626.1 842.5L627.9 842.8L629.6 843.2L631.4 843.5Z" fill="#40ffbf" stroke="#40ffbf" stroke-width="0.3"/><path d="M631.4 843.5L629.6 843.2L627.9 842.8L626.1 842.5L624.4 842.2L622.7 841.9L620.9 841.6L619.2 841.3L617.4 840.9L615.7 840.6L614 840.3L612.2 840L610.5 839.7L608.7 839.4L607 839L605.3 838.7L603.5 838.4L601.8 838.1L600.1 837.8L598.3 837.5L596.6 837.1L594.8 836.8L593.1 836.5L591.4 836.2L589.6 835.9L587.9 835.6L586.1 835.3L584.4 834.9L582.7 834.6L580.9 834.3L579.2 834L577.4 833.7L575.7 833.4L574 833L572.2 832.7L570.5 832.4L568.8 832.1L567 831.8L565.3 831.5L563.5 831.1L561.8 830.8L557.4 837.5L559.1 837.8L560.9 838.1L562.6 838.4L564.3 838.7L566.1 839.1L567.8 839.4L569.6 839.7L571.3 840L573 840.3L574.8 840.6L576.5 840.9L578.2 841.3L580 841.6L581.7 841.9L583.5 842.2L585.2 842.5L586.9 842.8L588.7 843.2L590.4 843.5L592.2 843.8L593.9 844.1L595.6 844.4L597.4 844.7L599.1 845.1L600.9 845.4L602.6 845.7L604.3 846L606.1 846.3L607.8 846.6L609.6 847L611.3 847.3L613 847.6L614.8 847.9L616.5 848.2L618.2 848.5L620 848.8L621.7 849.2L623.5 849.5L625.2 849.8L626.9 850.1Z" fill="#20ffdf" stroke="#20ffdf" stroke-width="0.3"/><path d="M626.9 850.1L625.2 849.8L623.5 849.5L621.7 849.2L620 848.8L618.2 848.5L616.5 848.2L614.8 847.9L613 847.6L611.3 847.3L609.6 847L607.8 846.6L606.1 846.3L604.3 846L602.6 845.7L600.9 845.4L599.1 845.1L597.4 844.7L595.6 844.4L593.9 844.1L592.2 843.8L590.4 843.5L588.7 843.2L586.9 842.8L585.2 842.5L583.5 842.2L581.7 841.9L580 841.6L578.2 841.3L576.5 840.9L574.8 840.6L573 840.3L571.3 840L569.6 839.7L567.8 839.4L566.1 839.1L564.3 838.7L562.6 838.4L560.9 838.1L559.1 837.8L557.4 837.5L553 844.1L554.7 844.4L556.4 844.7L558.2 845.1L559.9 845.4L561.7 845.7L563.4 846L565.1 846.3L566.9 846.6L568.6 847L570.4 847.3L572.1 847.6L573.8 847.9L575.6 848.2L577.3 848.5L579.1 848.9L580.8 849.2L582.5 849.5L584.3 849.8L586 850.1L587.7 850.4L589.5 850.8L591.2 851.1L593 851.4L594.7 851.7L596.4 852L598.2 852.3L599.9 852.6L601.7 853L603.4 853.3L605.1 853.6L606.9 853.9L608.6 854.2L610.4 854.5L612.1 854.9L613.8 855.2L615.6 855.5L617.3 855.8L619 856.1L620.8 856.4L622.5 856.8Z" fill="#00ffff" stroke="#00ffff" stroke-width="0.3"/><path d="M622.5 856.8L620.8 856.4L619 856.1L617.3 855.8L615.6 855.5L613.8 855.2L612.1 854.9L610.4 854.5L608.6 854.2L606.9 853.9L605.1 853.6L603.4 853.3L601.7 853L599.9 852.6L598.2 852.3L596.4 852L594.7 851.7L593 851.4L591.2 851.1L589.5 850.8L587.7 850.4L586 850.1L584.3 849.8L582.5 849.5L580.8 849.2L579.1 848.9L577.3 848.5L575.6 848.2L573.8 847.9L572.1 847.6L570.4 847.3L568.6 847L566.9 846.6L565.1 846.3L563.4 846L561.7 845.7L559.9 845.4L558.2 845.1L556.4 844.7L554.7 844.4L553 844.1L548.6 850.8L550.3 851.1L552 851.4L553.8 851.7L555.5 852L557.2 852.3L559 852.7L560.7 853L562.5 853.3L564.2 853.6L565.9 853.9L567.7 854.2L569.4 854.6L571.2 854.9L572.9 855.2L574.6 855.5L576.4 855.8L578.1 856.1L579.9 856.4L581.6 856.8L583.3 857.1L585.1 857.4L586.8 857.7L588.6 858L590.3 858.3L592 858.7L593.8 859L595.5 859.3L597.2 859.6L599 859.9L600.7 860.2L602.5 860.6L604.2 860.9L605.9 861.2L607.7 861.5L609.4 861.8L611.2 862.1L612.9 862.5L614.6 862.8L616.4 863.1L618.1 863.4Z" fill="#00dfff" stroke="#00dfff" stroke-width="0.3"/><path d="M618.1 863.4L616.4 863.1L614.6 862.8L612.9 862.5L611.2 862.1L609.4 861.8L607.7 861.5L605.9 861.2L604.2 860.9L602.5 860.6L600.7 860.2L599 859.9L597.2 859.6L595.5 859.3L593.8 859L592 858.7L590.3 858.3L588.6 858L586.8 857.7L585.1 857.4L583.3 857.1L581.6 856.8L579.9 856.4L578.1 856.1L576.4 855.8L574.6 855.5L572.9 855.2L571.2 854.9L569.4 854.6L567.7 854.2L565.9 853.9L564.2 853.6L562.5 853.3L560.7 853L559 852.7L557.2 852.3L555.5 852L553.8 851.7L552 851.4L550.3 851.1L548.6 850.8L544.1 857.4L545.9 857.7L547.6 858L549.4 858.4L551.1 858.7L552.8 859L554.6 859.3L556.3 859.6L558.1 859.9L559.8 860.2L561.5 860.6L563.3 860.9L565 861.2L566.7 861.5L568.5 861.8L570.2 862.1L572 862.5L573.7 862.8L575.4 863.1L577.2 863.4L578.9 863.7L580.7 864L582.4 864.4L584.1 864.7L585.9 865L587.6 865.3L589.4 865.6L591.1 865.9L592.8 866.3L594.6 866.6L596.3 866.9L598 867.2L599.8 867.5L601.5 867.8L603.3 868.1L605 868.5L606.7 868.8L608.5 869.1L610.2 869.4L612 869.7L613.7 870Z" fill="#00bfff" stroke="#00bfff" stroke-width="0.3"/><path d="M613.7 870L612 869.7L610.2 869.4L608.5 869.1L606.7 868.8L605 868.5L603.3 868.1L601.5 867.8L599.8 867.5L598 867.2L596.3 866.9L594.6 866.6L592.8 866.3L591.1 865.9L589.4 865.6L587.6 865.3L585.9 865L584.1 864.7L582.4 864.4L580.7 864L578.9 863.7L577.2 863.4L575.4 863.1L573.7 862.8L572 862.5L570.2 862.1L568.5 861.8L566.7 861.5L565 861.2L563.3 860.9L561.5 860.6L559.8 860.2L558.1 859.9L556.3 859.6L554.6 859.3L552.8 859L551.1 858.7L549.4 858.4L547.6 858L545.9 857.7L544.1 857.4L539.7 864L541.5 864.4L543.2 864.7L544.9 865L546.7 865.3L548.4 865.6L550.2 865.9L551.9 866.3L553.6 866.6L555.4 866.9L557.1 867.2L558.9 867.5L560.6 867.8L562.3 868.2L564.1 868.5L565.8 868.8L567.5 869.1L569.3 869.4L571 869.7L572.8 870.1L574.5 870.4L576.2 870.7L578 871L579.7 871.3L581.5 871.6L583.2 871.9L584.9 872.3L586.7 872.6L588.4 872.9L590.2 873.2L591.9 873.5L593.6 873.8L595.4 874.2L597.1 874.5L598.9 874.8L600.6 875.1L602.3 875.4L604.1 875.7L605.8 876.1L607.5 876.4L609.3 876.7Z" fill="#009fff" stroke="#009fff" stroke-width="0.3"/><path d="M609.3 876.7L607.5 876.4L605.8 876.1L604.1 875.7L602.3 875.4L600.6 875.1L598.9 874.8L597.1 874.5L595.4 874.2L593.6 873.8L591.9 873.5L590.2 873.2L588.4 872.9L586.7 872.6L584.9 872.3L583.2 871.9L581.5 871.6L579.7 871.3L578 871L576.2 870.7L574.5 870.4L572.8 870.1L571 869.7L569.3 869.4L567.5 869.1L565.8 868.8L564.1 868.5L562.3 868.2L560.6 867.8L558.9 867.5L557.1 867.2L555.4 866.9L553.6 866.6L551.9 866.3L550.2 865.9L548.4 865.6L546.7 865.3L544.9 865L543.2 864.7L541.5 864.4L539.7 864L535.3 870.7L537.1 871L538.8 871.3L540.5 871.6L542.3 872L544 872.3L545.7 872.6L547.5 872.9L549.2 873.2L551 873.5L552.7 873.9L554.4 874.2L556.2 874.5L557.9 874.8L559.7 875.1L561.4 875.4L563.1 875.8L564.9 876.1L566.6 876.4L568.4 876.7L570.1 877L571.8 877.3L573.6 877.6L575.3 878L577 878.3L578.8 878.6L580.5 878.9L582.3 879.2L584 879.5L585.7 879.9L587.5 880.2L589.2 880.5L591 880.8L592.7 881.1L594.4 881.4L596.2 881.8L597.9 882.1L599.7 882.4L601.4 882.7L603.1 883L604.9 883.3Z" fill="#0070ff" stroke="#0070ff" stroke-width="0.3"/><path d="M604.9 883.3L603.1 883L601.4 882.7L599.7 882.4L597.9 882.1L596.2 881.8L594.4 881.4L592.7 881.1L591 880.8L589.2 880.5L587.5 880.2L585.7 879.9L584 879.5L582.3 879.2L580.5 878.9L578.8 878.6L577 878.3L575.3 878L573.6 877.6L571.8 877.3L570.1 877L568.4 876.7L566.6 876.4L564.9 876.1L563.1 875.8L561.4 875.4L559.7 875.1L557.9 874.8L556.2 874.5L554.4 874.2L552.7 873.9L551 873.5L549.2 873.2L547.5 872.9L545.7 872.6L544 872.3L542.3 872L540.5 871.6L538.8 871.3L537.1 871L535.3 870.7L530.9 877.3L532.6 877.7L534.4 878L536.1 878.3L537.9 878.6L539.6 878.9L541.3 879.2L543.1 879.6L544.8 879.9L546.5 880.2L548.3 880.5L550 880.8L551.8 881.1L553.5 881.4L555.2 881.8L557 882.1L558.7 882.4L560.5 882.7L562.2 883L563.9 883.3L565.7 883.7L567.4 884L569.2 884.3L570.9 884.6L572.6 884.9L574.4 885.2L576.1 885.6L577.9 885.9L579.6 886.2L581.3 886.5L583.1 886.8L584.8 887.1L586.5 887.5L588.3 887.8L590 888.1L591.8 888.4L593.5 888.7L595.2 889L597 889.3L598.7 889.7L600.5 890Z" fill="#0050ff" stroke="#0050ff" stroke-width="0.3"/><path d="M600.5 890L598.7 889.7L597 889.3L595.2 889L593.5 888.7L591.8 888.4L590 888.1L588.3 887.8L586.5 887.5L584.8 887.1L583.1 886.8L581.3 886.5L579.6 886.2L577.9 885.9L576.1 885.6L574.4 885.2L572.6 884.9L570.9 884.6L569.2 884.3L567.4 884L565.7 883.7L563.9 883.3L562.2 883L560.5 882.7L558.7 882.4L557 882.1L555.2 881.8L553.5 881.4L551.8 881.1L550 880.8L548.3 880.5L546.5 880.2L544.8 879.9L543.1 879.6L541.3 879.2L539.6 878.9L537.9 878.6L536.1 878.3L534.4 878L532.6 877.7L530.9 877.3L526.5 884L528.2 884.3L530 884.6L531.7 884.9L533.4 885.2L535.2 885.6L536.9 885.9L538.7 886.2L540.4 886.5L542.1 886.8L543.9 887.1L545.6 887.5L547.4 887.8L549.1 888.1L550.8 888.4L552.6 888.7L554.3 889L556 889.4L557.8 889.7L559.5 890L561.3 890.3L563 890.6L564.7 890.9L566.5 891.3L568.2 891.6L570 891.9L571.7 892.2L573.4 892.5L575.2 892.8L576.9 893.1L578.7 893.5L580.4 893.8L582.1 894.1L583.9 894.4L585.6 894.7L587.4 895L589.1 895.4L590.8 895.7L592.6 896L594.3 896.3L596 896.6Z" fill="#0030ff" stroke="#0030ff" stroke-width="0.3"/><path d="M596 896.6L594.3 896.3L592.6 896L590.8 895.7L589.1 895.4L587.4 895L585.6 894.7L583.9 894.4L582.1 894.1L580.4 893.8L578.7 893.5L576.9 893.1L575.2 892.8L573.4 892.5L571.7 892.2L570 891.9L568.2 891.6L566.5 891.3L564.7 890.9L563 890.6L561.3 890.3L559.5 890L557.8 889.7L556 889.4L554.3 889L552.6 888.7L550.8 888.4L549.1 888.1L547.4 887.8L545.6 887.5L543.9 887.1L542.1 886.8L540.4 886.5L538.7 886.2L536.9 885.9L535.2 885.6L533.4 885.2L531.7 884.9L530 884.6L528.2 884.3L526.5 884L522.1 890.6L523.8 890.9L525.5 891.3L527.3 891.6L529 891.9L530.8 892.2L532.5 892.5L534.2 892.8L536 893.2L537.7 893.5L539.5 893.8L541.2 894.1L542.9 894.4L544.7 894.7L546.4 895.1L548.2 895.4L549.9 895.7L551.6 896L553.4 896.3L555.1 896.6L556.9 896.9L558.6 897.3L560.3 897.6L562.1 897.9L563.8 898.2L565.5 898.5L567.3 898.8L569 899.2L570.8 899.5L572.5 899.8L574.2 900.1L576 900.4L577.7 900.7L579.5 901.1L581.2 901.4L582.9 901.7L584.7 902L586.4 902.3L588.2 902.6L589.9 903L591.6 903.3Z" fill="#0010ff" stroke="#0010ff" stroke-width="0.3"/><path d="M591.6 903.3L589.9 903L588.2 902.6L586.4 902.3L584.7 902L582.9 901.7L581.2 901.4L579.5 901.1L577.7 900.7L576 900.4L574.2 900.1L572.5 899.8L570.8 899.5L569 899.2L567.3 898.8L565.5 898.5L563.8 898.2L562.1 897.9L560.3 897.6L558.6 897.3L556.9 896.9L555.1 896.6L553.4 896.3L551.6 896L549.9 895.7L548.2 895.4L546.4 895.1L544.7 894.7L542.9 894.4L541.2 894.1L539.5 893.8L537.7 893.5L536 893.2L534.2 892.8L532.5 892.5L530.8 892.2L529 891.9L527.3 891.6L525.5 891.3L523.8 890.9L522.1 890.6L517.7 897.3L519.4 897.6L521.1 897.9L522.9 898.2L524.6 898.5L526.4 898.9L528.1 899.2L529.8 899.5L531.6 899.8L533.3 900.1L535 900.4L536.8 900.7L538.5 901.1L540.3 901.4L542 901.7L543.7 902L545.5 902.3L547.2 902.6L549 903L550.7 903.3L552.4 903.6L554.2 903.9L555.9 904.2L557.7 904.5L559.4 904.9L561.1 905.2L562.9 905.5L564.6 905.8L566.3 906.1L568.1 906.4L569.8 906.8L571.6 907.1L573.3 907.4L575 907.7L576.8 908L578.5 908.3L580.3 908.6L582 909L583.7 909.3L585.5 909.6L587.2 909.9Z" fill="#0000ef" stroke="#0000ef" stroke-width="0.3"/><path d="M587.2 909.9L585.5 909.6L583.7 909.3L582 909L580.3 908.6L578.5 908.3L576.8 908L575 907.7L573.3 907.4L571.6 907.1L569.8 906.8L568.1 906.4L566.3 906.1L564.6 905.8L562.9 905.5L561.1 905.2L559.4 904.9L557.7 904.5L555.9 904.2L554.2 903.9L552.4 903.6L550.7 903.3L549 903L547.2 902.6L545.5 902.3L543.7 902L542 901.7L540.3 901.4L538.5 901.1L536.8 900.7L535 900.4L533.3 900.1L531.6 899.8L529.8 899.5L528.1 899.2L526.4 898.9L524.6 898.5L522.9 898.2L521.1 897.9L519.4 897.6L517.7 897.3L513.2 903.9L515 904.2L516.7 904.5L518.5 904.9L520.2 905.2L521.9 905.5L523.7 905.8L525.4 906.1L527.2 906.4L528.9 906.8L530.6 907.1L532.4 907.4L534.1 907.7L535.9 908L537.6 908.3L539.3 908.7L541.1 909L542.8 909.3L544.5 909.6L546.3 909.9L548 910.2L549.8 910.6L551.5 910.9L553.2 911.2L555 911.5L556.7 911.8L558.5 912.1L560.2 912.4L561.9 912.8L563.7 913.1L565.4 913.4L567.2 913.7L568.9 914L570.6 914.3L572.4 914.7L574.1 915L575.8 915.3L577.6 915.6L579.3 915.9L581.1 916.2L582.8 916.6Z" fill="#0000cf" stroke="#0000cf" stroke-width="0.3"/><path d="M582.8 916.6L581.1 916.2L579.3 915.9L577.6 915.6L575.8 915.3L574.1 915L572.4 914.7L570.6 914.3L568.9 914L567.2 913.7L565.4 913.4L563.7 913.1L561.9 912.8L560.2 912.4L558.5 912.1L556.7 911.8L555 911.5L553.2 911.2L551.5 910.9L549.8 910.6L548 910.2L546.3 909.9L544.5 909.6L542.8 909.3L541.1 909L539.3 908.7L537.6 908.3L535.9 908L534.1 907.7L532.4 907.4L530.6 907.1L528.9 906.8L527.2 906.4L525.4 906.1L523.7 905.8L521.9 905.5L520.2 905.2L518.5 904.9L516.7 904.5L515 904.2L513.2 903.9L508.8 910.6L510.6 910.9L512.3 911.2L514 911.5L515.8 911.8L517.5 912.1L519.3 912.5L521 912.8L522.7 913.1L524.5 913.4L526.2 913.7L528 914L529.7 914.4L531.4 914.7L533.2 915L534.9 915.3L536.7 915.6L538.4 915.9L540.1 916.2L541.9 916.6L543.6 916.9L545.3 917.2L547.1 917.5L548.8 917.8L550.6 918.1L552.3 918.5L554 918.8L555.8 919.1L557.5 919.4L559.3 919.7L561 920L562.7 920.4L564.5 920.7L566.2 921L568 921.3L569.7 921.6L571.4 921.9L573.2 922.3L574.9 922.6L576.7 922.9L578.4 923.2Z" fill="#0000af" stroke="#0000af" stroke-width="0.3"/></g><path d="M710.8 723.9L641.2 711.2M706.4 730.5L636.8 717.9M702 737.2L632.4 724.5M697.6 743.8L628 731.2M693.1 750.4L623.6 737.8M688.7 757.1L619.2 744.5M684.3 763.7L614.8 751.1M679.9 770.4L610.3 757.7M675.5 777L605.9 764.4M671.1 783.7L601.5 771M666.7 790.3L597.1 777.7M662.2 797L592.7 784.3M657.8 803.6L588.3 791M653.4 810.2L583.9 797.6M649 816.9L579.4 804.3M644.6 823.5L575 810.9M640.2 830.2L570.6 817.5M635.8 836.8L566.2 824.2M631.4 843.5L561.8 830.8M626.9 850.1L557.4 837.5M622.5 856.8L553 844.1M618.1 863.4L548.6 850.8M613.7 870L544.1 857.4M609.3 876.7L539.7 864M604.9 883.3L535.3 870.7M600.5 890L530.9 877.3M596 896.6L526.5 884M591.6 903.3L522.1 890.6M587.2 909.9L517.7 897.3M582.8 916.6L513.2 903.9M578.4 923.2L508.8 910.6M710.8 723.9L578.4 923.2M709.1 723.6L576.7 922.9M707.3 723.2L574.9 922.6M705.6 722.9L573.2 922.3M703.8 722.6L571.4 921.9M702.1 722.3L569.7 921.6M700.4 722L568 921.3M698.6 721.7L566.2 921M696.9 721.3L564.5 920.7M695.1 721L562.7 920.4M693.4 720.7L561 920M691.7 720.4L559.3 919.7M689.9 720.1L557.5 919.4M688.2 719.8L555.8 919.1M686.5 719.4L554 918.8M684.7 719.1L552.3 918.5M683 718.8L550.6 918.1M681.2 718.5L548.8 917.8M679.5 718.2L547.1 917.5M677.8 717.9L545.3 917.2M676 717.6L543.6 916.9M674.3 717.2L541.9 916.6M672.5 716.9L540.1 916.2M670.8 716.6L538.4 915.9M669.1 716.3L536.7 915.6M667.3 716L534.9 915.3M665.6 715.7L533.2 915M663.8 715.3L531.4 914.7M662.1 715L529.7 914.4M660.4 714.7L528 914M658.6 714.4L526.2 913.7M656.9 714.1L524.5 913.4M655.2 713.8L522.7 913.1M653.4 713.4L521 912.8M651.7 713.1L519.3 912.5M649.9 712.8L517.5 912.1M648.2 712.5L515.8 911.8M646.5 712.2L514 911.5M644.7 711.9L512.3 911.2M643 711.5L510.6 910.9M641.2 711.2L508.8 910.6" fill="none" stroke="#000" stroke-width="0.45" stroke-opacity="1.0"/><text transform="translate(399.3 894.9) scale(1 1.12)" font-size="9.3" text-anchor="end" fill="#262626" font-family="Liberation Sans">0</text><text transform="translate(399.3 866.9) scale(1 1.12)" font-size="9.3" text-anchor="end" fill="#262626" font-family="Liberation Sans">0.05</text><text transform="translate(399.3 839) scale(1 1.12)" font-size="9.3" text-anchor="end" fill="#262626" font-family="Liberation Sans">0.1</text><text transform="translate(399.3 811) scale(1 1.12)" font-size="9.3" text-anchor="end" fill="#262626" font-family="Liberation Sans">0.15</text><text transform="translate(399.3 783.1) scale(1 1.12)" font-size="9.3" text-anchor="end" fill="#262626" font-family="Liberation Sans">0.2</text><text transform="translate(399.3 755.2) scale(1 1.12)" font-size="9.3" text-anchor="end" fill="#262626" font-family="Liberation Sans">0.25</text><text transform="translate(399.3 727.2) scale(1 1.12)" font-size="9.3" text-anchor="end" fill="#262626" font-family="Liberation Sans">0.3</text><text transform="translate(569.1 936.2) scale(1 1.12)" font-size="9.3" text-anchor="end" fill="#262626" font-family="Liberation Sans">0</text><text transform="translate(534.3 929.9) scale(1 1.12)" font-size="9.3" text-anchor="end" fill="#262626" font-family="Liberation Sans">1</text><text transform="translate(499.5 923.6) scale(1 1.12)" font-size="9.3" text-anchor="end" fill="#262626" font-family="Liberation Sans">2</text><text transform="translate(464.8 917.2) scale(1 1.12)" font-size="9.3" text-anchor="end" fill="#262626" font-family="Liberation Sans">3</text><text transform="translate(430 910.9) scale(1 1.12)" font-size="9.3" text-anchor="end" fill="#262626" font-family="Liberation Sans">4</text><text transform="translate(718.9 895.9) scale(1 1.12)" font-size="9.3" text-anchor="start" fill="#262626" font-family="Liberation Sans">0</text><text transform="translate(664.5 912.4) scale(1 1.12)" font-size="9.3" text-anchor="start" fill="#262626" font-family="Liberation Sans">5</text><text transform="translate(610.1 928.9) scale(1 1.12)" font-size="9.3" text-anchor="start" fill="#262626" font-family="Liberation Sans">10</text><text transform="translate(499.7 943) scale(1 1.12)" font-size="10" text-anchor="middle" fill="#262626" font-family="Liberation Sans">x [cm]</text><text transform="translate(650.3 941.5) scale(1 1.12)" font-size="10" text-anchor="middle" fill="#262626" font-family="Liberation Sans">y [cm]</text><text transform="translate(374.9 809.5) rotate(-90) scale(1 1.2)" font-size="9.8" fill="#333" font-family="Liberation Sans">[V]</text><text transform="translate(374.4 819.9) rotate(-90) scale(1.3 1)" font-size="10" fill="#333" font-family="Liberation Serif" font-style="italic">φ</text><text x="363.3" y="704.8" font-size="24.6" text-anchor="start" fill="#000" font-family="Liberation Sans">f</text></svg></body></html>
